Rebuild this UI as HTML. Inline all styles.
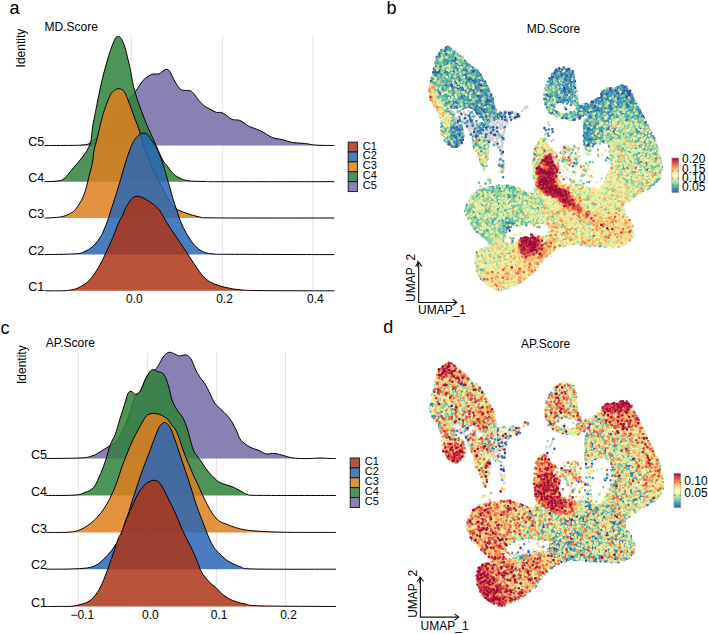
<!DOCTYPE html>
<html><head><meta charset="utf-8"><style>
html,body{margin:0;padding:0;background:#fff;}
svg{display:block;font-family:'Liberation Sans', sans-serif;}
</style></head><body>
<svg width="708" height="634" viewBox="0 0 708 634">
<rect width="708" height="634" fill="#fff"/>
<line x1="131.3" y1="34.7" x2="131.3" y2="291.0" stroke="#DADADA" stroke-width="0.7"/>
<line x1="222.7" y1="34.7" x2="222.7" y2="291.0" stroke="#DADADA" stroke-width="0.7"/>
<line x1="312.9" y1="34.7" x2="312.9" y2="291.0" stroke="#DADADA" stroke-width="0.7"/>
<path d="M44.4 145.5 C48.7 145.5 63.7 145.5 70.0 145.4 C76.3 145.3 78.9 145.3 82.0 145.0 C85.1 144.7 86.4 145.0 88.8 143.8 C91.2 142.6 93.9 140.1 96.3 138.0 C98.7 135.9 100.7 134.0 103.0 131.5 C105.3 129.0 108.0 125.5 110.2 123.0 C112.4 120.5 113.9 118.8 116.0 116.5 C118.1 114.2 120.7 111.7 122.8 109.0 C124.9 106.3 126.4 103.2 128.5 100.3 C130.6 97.4 133.0 94.9 135.4 91.6 C137.8 88.3 140.6 83.2 143.0 80.5 C145.4 77.8 148.3 76.3 150.0 75.2 C151.7 74.1 151.8 74.2 153.2 74.0 C154.6 73.8 157.3 74.4 158.7 74.0 C160.1 73.6 160.6 72.6 161.8 71.8 C163.1 71.0 164.9 69.4 166.2 69.3 C167.5 69.2 168.4 69.6 169.7 71.3 C170.9 73.0 172.2 76.6 173.7 79.2 C175.1 81.8 177.0 85.2 178.4 87.0 C179.8 88.8 180.3 89.6 182.3 90.2 C184.3 90.8 188.2 90.0 190.2 90.7 C192.2 91.4 192.8 92.6 194.2 94.2 C195.6 95.8 197.2 98.5 198.9 100.5 C200.6 102.5 202.6 104.6 204.4 106.0 C206.2 107.4 208.0 108.0 210.0 109.1 C212.0 110.1 214.2 111.7 216.2 112.3 C218.2 112.9 220.0 111.9 221.8 112.6 C223.7 113.2 225.6 115.1 227.3 116.2 C229.0 117.3 230.0 118.7 232.0 119.4 C234.0 120.1 237.4 119.7 239.5 120.3 C241.6 120.9 242.9 122.3 244.6 123.3 C246.3 124.3 246.8 125.2 249.5 126.5 C252.2 127.8 256.7 129.0 260.5 130.8 C264.3 132.6 268.6 136.0 272.3 137.5 C276.0 139.0 279.2 138.8 282.6 139.7 C286.0 140.5 289.1 142.0 292.8 142.6 C296.5 143.2 301.1 143.0 304.7 143.4 C308.2 143.8 310.9 144.7 314.1 145.0 C317.3 145.3 320.6 145.3 324.0 145.4 C327.4 145.5 332.6 145.5 334.3 145.5 L334.3 145.5 L44.4 145.5 Z" fill="#726BA7" fill-opacity="0.85"/><path d="M44.4 145.5 C48.7 145.5 63.7 145.5 70.0 145.4 C76.3 145.3 78.9 145.3 82.0 145.0 C85.1 144.7 86.4 145.0 88.8 143.8 C91.2 142.6 93.9 140.1 96.3 138.0 C98.7 135.9 100.7 134.0 103.0 131.5 C105.3 129.0 108.0 125.5 110.2 123.0 C112.4 120.5 113.9 118.8 116.0 116.5 C118.1 114.2 120.7 111.7 122.8 109.0 C124.9 106.3 126.4 103.2 128.5 100.3 C130.6 97.4 133.0 94.9 135.4 91.6 C137.8 88.3 140.6 83.2 143.0 80.5 C145.4 77.8 148.3 76.3 150.0 75.2 C151.7 74.1 151.8 74.2 153.2 74.0 C154.6 73.8 157.3 74.4 158.7 74.0 C160.1 73.6 160.6 72.6 161.8 71.8 C163.1 71.0 164.9 69.4 166.2 69.3 C167.5 69.2 168.4 69.6 169.7 71.3 C170.9 73.0 172.2 76.6 173.7 79.2 C175.1 81.8 177.0 85.2 178.4 87.0 C179.8 88.8 180.3 89.6 182.3 90.2 C184.3 90.8 188.2 90.0 190.2 90.7 C192.2 91.4 192.8 92.6 194.2 94.2 C195.6 95.8 197.2 98.5 198.9 100.5 C200.6 102.5 202.6 104.6 204.4 106.0 C206.2 107.4 208.0 108.0 210.0 109.1 C212.0 110.1 214.2 111.7 216.2 112.3 C218.2 112.9 220.0 111.9 221.8 112.6 C223.7 113.2 225.6 115.1 227.3 116.2 C229.0 117.3 230.0 118.7 232.0 119.4 C234.0 120.1 237.4 119.7 239.5 120.3 C241.6 120.9 242.9 122.3 244.6 123.3 C246.3 124.3 246.8 125.2 249.5 126.5 C252.2 127.8 256.7 129.0 260.5 130.8 C264.3 132.6 268.6 136.0 272.3 137.5 C276.0 139.0 279.2 138.8 282.6 139.7 C286.0 140.5 289.1 142.0 292.8 142.6 C296.5 143.2 301.1 143.0 304.7 143.4 C308.2 143.8 310.9 144.7 314.1 145.0 C317.3 145.3 320.6 145.3 324.0 145.4 C327.4 145.5 332.6 145.5 334.3 145.5" fill="none" stroke="#000" stroke-width="1.0"/>
<path d="M44.4 181.7 C46.4 181.6 53.0 181.6 56.3 181.1 C59.6 180.6 61.3 180.9 64.2 178.6 C67.1 176.3 70.4 171.2 73.6 167.5 C76.8 163.8 80.3 160.3 83.1 156.3 C85.9 152.3 88.6 148.6 90.2 143.7 C91.8 138.8 91.9 131.2 92.6 126.7 C93.3 122.2 93.9 120.2 94.5 117.0 C95.1 113.8 95.0 113.9 96.3 107.8 C97.5 101.7 99.9 89.3 102.0 80.5 C104.1 71.7 106.7 62.1 108.9 55.2 C111.1 48.3 113.4 42.1 115.0 39.0 C116.6 35.9 117.5 36.7 118.5 36.6 C119.5 36.5 120.4 37.4 121.2 38.5 C122.0 39.6 122.8 41.6 123.5 43.3 C124.2 45.0 124.8 46.7 125.4 48.9 C126.0 51.1 126.5 53.0 127.3 56.5 C128.1 60.0 129.6 66.0 130.4 70.0 C131.2 74.0 131.7 77.3 132.3 80.5 C132.9 83.7 133.2 85.4 134.2 88.9 C135.1 92.4 136.8 97.7 138.0 101.5 C139.2 105.3 140.5 108.4 141.7 111.6 C142.9 114.8 143.8 117.3 145.0 120.4 C146.2 123.5 147.2 125.8 149.1 130.0 C151.0 134.2 153.9 140.7 156.2 145.7 C158.4 150.7 160.8 156.6 162.6 160.0 C164.4 163.4 165.5 163.8 167.3 166.2 C169.1 168.5 171.2 172.0 173.6 174.1 C176.0 176.2 178.8 177.8 181.5 178.9 C184.2 180.1 186.1 180.6 190.0 181.0 C193.9 181.4 199.9 181.4 205.2 181.5 C210.5 181.6 200.5 181.7 222.0 181.7 C243.5 181.7 315.6 181.7 334.3 181.7 L334.3 181.7 L44.4 181.7 Z" fill="#2F813C" fill-opacity="0.85"/><path d="M44.4 181.7 C46.4 181.6 53.0 181.6 56.3 181.1 C59.6 180.6 61.3 180.9 64.2 178.6 C67.1 176.3 70.4 171.2 73.6 167.5 C76.8 163.8 80.3 160.3 83.1 156.3 C85.9 152.3 88.6 148.6 90.2 143.7 C91.8 138.8 91.9 131.2 92.6 126.7 C93.3 122.2 93.9 120.2 94.5 117.0 C95.1 113.8 95.0 113.9 96.3 107.8 C97.5 101.7 99.9 89.3 102.0 80.5 C104.1 71.7 106.7 62.1 108.9 55.2 C111.1 48.3 113.4 42.1 115.0 39.0 C116.6 35.9 117.5 36.7 118.5 36.6 C119.5 36.5 120.4 37.4 121.2 38.5 C122.0 39.6 122.8 41.6 123.5 43.3 C124.2 45.0 124.8 46.7 125.4 48.9 C126.0 51.1 126.5 53.0 127.3 56.5 C128.1 60.0 129.6 66.0 130.4 70.0 C131.2 74.0 131.7 77.3 132.3 80.5 C132.9 83.7 133.2 85.4 134.2 88.9 C135.1 92.4 136.8 97.7 138.0 101.5 C139.2 105.3 140.5 108.4 141.7 111.6 C142.9 114.8 143.8 117.3 145.0 120.4 C146.2 123.5 147.2 125.8 149.1 130.0 C151.0 134.2 153.9 140.7 156.2 145.7 C158.4 150.7 160.8 156.6 162.6 160.0 C164.4 163.4 165.5 163.8 167.3 166.2 C169.1 168.5 171.2 172.0 173.6 174.1 C176.0 176.2 178.8 177.8 181.5 178.9 C184.2 180.1 186.1 180.6 190.0 181.0 C193.9 181.4 199.9 181.4 205.2 181.5 C210.5 181.6 200.5 181.7 222.0 181.7 C243.5 181.7 315.6 181.7 334.3 181.7" fill="none" stroke="#000" stroke-width="1.0"/>
<path d="M44.4 218.0 C45.2 218.0 47.5 218.0 49.5 217.9 C51.5 217.8 54.4 217.6 56.3 217.4 C58.2 217.2 59.2 217.2 60.8 216.9 C62.4 216.6 64.1 216.2 65.7 215.6 C67.3 215.0 69.1 214.1 70.5 213.3 C71.9 212.5 72.8 212.3 74.2 210.8 C75.6 209.3 77.5 206.7 78.9 204.5 C80.3 202.3 81.6 200.2 82.7 197.8 C83.8 195.4 84.7 192.9 85.5 190.3 C86.3 187.7 86.8 185.1 87.6 182.2 C88.3 179.2 89.2 175.8 90.0 172.6 C90.8 169.4 91.7 166.8 92.4 163.0 C93.1 159.2 93.3 154.2 94.1 150.0 C94.9 145.8 96.1 142.9 97.3 138.0 C98.5 133.1 100.1 125.4 101.4 120.4 C102.7 115.4 103.7 112.0 105.2 107.8 C106.7 103.6 108.7 98.1 110.2 95.2 C111.8 92.3 113.0 91.4 114.5 90.3 C116.0 89.2 117.4 88.5 119.0 88.7 C120.6 88.9 122.4 89.1 124.1 91.4 C125.8 93.8 127.4 98.6 129.1 102.8 C130.8 107.0 132.7 112.7 134.2 116.7 C135.7 120.7 136.9 123.7 138.0 126.7 C139.1 129.7 139.3 130.5 140.5 134.5 C141.7 138.5 143.3 145.2 145.2 150.5 C147.1 155.8 149.8 161.9 151.9 166.6 C154.0 171.3 156.2 175.9 157.5 178.7 C158.8 181.4 158.9 181.0 160.0 183.1 C161.1 185.2 162.7 188.4 164.0 191.0 C165.3 193.6 166.7 196.2 168.0 198.5 C169.3 200.8 170.5 203.2 172.0 205.0 C173.5 206.8 174.4 208.0 176.8 209.3 C179.2 210.7 182.4 211.8 186.2 213.1 C190.0 214.4 194.8 216.1 199.5 216.9 C204.2 217.7 192.1 217.7 214.6 217.9 C237.1 218.1 314.4 218.0 334.3 218.0 L334.3 218.0 L44.4 218.0 Z" fill="#DE7F1D" fill-opacity="0.85"/><path d="M44.4 218.0 C45.2 218.0 47.5 218.0 49.5 217.9 C51.5 217.8 54.4 217.6 56.3 217.4 C58.2 217.2 59.2 217.2 60.8 216.9 C62.4 216.6 64.1 216.2 65.7 215.6 C67.3 215.0 69.1 214.1 70.5 213.3 C71.9 212.5 72.8 212.3 74.2 210.8 C75.6 209.3 77.5 206.7 78.9 204.5 C80.3 202.3 81.6 200.2 82.7 197.8 C83.8 195.4 84.7 192.9 85.5 190.3 C86.3 187.7 86.8 185.1 87.6 182.2 C88.3 179.2 89.2 175.8 90.0 172.6 C90.8 169.4 91.7 166.8 92.4 163.0 C93.1 159.2 93.3 154.2 94.1 150.0 C94.9 145.8 96.1 142.9 97.3 138.0 C98.5 133.1 100.1 125.4 101.4 120.4 C102.7 115.4 103.7 112.0 105.2 107.8 C106.7 103.6 108.7 98.1 110.2 95.2 C111.8 92.3 113.0 91.4 114.5 90.3 C116.0 89.2 117.4 88.5 119.0 88.7 C120.6 88.9 122.4 89.1 124.1 91.4 C125.8 93.8 127.4 98.6 129.1 102.8 C130.8 107.0 132.7 112.7 134.2 116.7 C135.7 120.7 136.9 123.7 138.0 126.7 C139.1 129.7 139.3 130.5 140.5 134.5 C141.7 138.5 143.3 145.2 145.2 150.5 C147.1 155.8 149.8 161.9 151.9 166.6 C154.0 171.3 156.2 175.9 157.5 178.7 C158.8 181.4 158.9 181.0 160.0 183.1 C161.1 185.2 162.7 188.4 164.0 191.0 C165.3 193.6 166.7 196.2 168.0 198.5 C169.3 200.8 170.5 203.2 172.0 205.0 C173.5 206.8 174.4 208.0 176.8 209.3 C179.2 210.7 182.4 211.8 186.2 213.1 C190.0 214.4 194.8 216.1 199.5 216.9 C204.2 217.7 192.1 217.7 214.6 217.9 C237.1 218.1 314.4 218.0 334.3 218.0" fill="none" stroke="#000" stroke-width="1.0"/>
<path d="M44.4 254.6 C49.3 254.5 67.6 254.3 74.1 253.9 C80.6 253.5 80.4 253.3 83.6 252.0 C86.8 250.7 90.2 248.8 93.0 246.3 C95.8 243.8 98.7 239.7 100.6 236.8 C102.5 233.9 103.1 231.6 104.3 229.0 C105.5 226.4 106.5 223.7 107.5 221.0 C108.5 218.3 108.8 216.6 110.0 213.0 C111.2 209.4 112.9 204.3 114.4 199.7 C115.9 195.1 117.5 189.6 118.8 185.4 C120.1 181.2 120.9 178.4 122.1 174.3 C123.3 170.2 124.7 165.1 126.0 161.0 C127.3 156.9 128.6 153.2 129.8 150.0 C131.1 146.8 132.2 143.8 133.5 141.5 C134.8 139.2 136.1 137.8 137.3 136.5 C138.6 135.2 139.8 134.1 141.0 133.5 C142.2 132.9 143.3 132.9 144.4 133.1 C145.5 133.3 146.6 133.7 147.5 134.5 C148.4 135.3 148.6 135.8 150.0 137.9 C151.4 140.0 154.1 143.1 156.2 147.3 C158.3 151.5 160.8 157.7 162.6 163.0 C164.4 168.3 166.1 174.7 167.3 178.9 C168.5 183.1 169.1 184.7 170.0 188.0 C170.9 191.3 171.9 195.2 173.0 198.9 C174.1 202.6 175.5 206.5 176.8 210.3 C178.1 214.1 179.0 217.8 180.6 221.6 C182.2 225.4 184.0 229.2 186.2 233.0 C188.4 236.8 191.0 241.2 193.8 244.4 C196.7 247.6 199.8 250.3 203.3 251.9 C206.8 253.5 210.2 253.6 214.6 254.0 C219.0 254.4 210.1 254.2 230.0 254.3 C249.9 254.4 316.9 254.6 334.3 254.6 L334.3 254.6 L44.4 254.6 Z" fill="#2A66B4" fill-opacity="0.85"/><path d="M44.4 254.6 C49.3 254.5 67.6 254.3 74.1 253.9 C80.6 253.5 80.4 253.3 83.6 252.0 C86.8 250.7 90.2 248.8 93.0 246.3 C95.8 243.8 98.7 239.7 100.6 236.8 C102.5 233.9 103.1 231.6 104.3 229.0 C105.5 226.4 106.5 223.7 107.5 221.0 C108.5 218.3 108.8 216.6 110.0 213.0 C111.2 209.4 112.9 204.3 114.4 199.7 C115.9 195.1 117.5 189.6 118.8 185.4 C120.1 181.2 120.9 178.4 122.1 174.3 C123.3 170.2 124.7 165.1 126.0 161.0 C127.3 156.9 128.6 153.2 129.8 150.0 C131.1 146.8 132.2 143.8 133.5 141.5 C134.8 139.2 136.1 137.8 137.3 136.5 C138.6 135.2 139.8 134.1 141.0 133.5 C142.2 132.9 143.3 132.9 144.4 133.1 C145.5 133.3 146.6 133.7 147.5 134.5 C148.4 135.3 148.6 135.8 150.0 137.9 C151.4 140.0 154.1 143.1 156.2 147.3 C158.3 151.5 160.8 157.7 162.6 163.0 C164.4 168.3 166.1 174.7 167.3 178.9 C168.5 183.1 169.1 184.7 170.0 188.0 C170.9 191.3 171.9 195.2 173.0 198.9 C174.1 202.6 175.5 206.5 176.8 210.3 C178.1 214.1 179.0 217.8 180.6 221.6 C182.2 225.4 184.0 229.2 186.2 233.0 C188.4 236.8 191.0 241.2 193.8 244.4 C196.7 247.6 199.8 250.3 203.3 251.9 C206.8 253.5 210.2 253.6 214.6 254.0 C219.0 254.4 210.1 254.2 230.0 254.3 C249.9 254.4 316.9 254.6 334.3 254.6" fill="none" stroke="#000" stroke-width="1.0"/>
<path d="M44.4 290.8 C46.8 290.8 55.0 290.9 59.0 290.8 C63.0 290.7 65.2 290.9 68.4 290.4 C71.6 289.9 74.4 289.7 77.9 288.0 C81.4 286.3 85.7 283.9 89.2 280.4 C92.7 276.9 95.9 271.8 98.7 267.1 C101.5 262.4 103.8 257.4 106.3 252.0 C108.8 246.6 111.9 239.7 113.9 234.9 C115.9 230.1 117.1 226.1 118.5 223.0 C119.9 219.9 120.8 219.1 122.1 216.3 C123.4 213.5 125.0 209.2 126.5 206.4 C128.0 203.6 129.7 201.3 130.9 199.7 C132.2 198.1 132.9 197.6 134.0 197.0 C135.1 196.4 136.4 196.3 137.6 196.3 C138.8 196.3 139.5 196.4 141.0 197.0 C142.5 197.6 144.4 198.5 146.4 199.7 C148.4 200.9 150.8 202.3 153.0 204.1 C155.2 205.9 157.3 207.3 159.7 210.5 C162.1 213.7 164.8 219.4 167.3 223.5 C169.8 227.6 172.4 231.1 174.9 234.9 C177.4 238.7 180.0 242.4 182.5 246.2 C185.0 250.0 187.5 253.8 190.0 257.6 C192.5 261.4 195.1 265.5 197.6 269.0 C200.1 272.5 202.4 275.9 205.2 278.4 C208.0 280.9 211.1 282.6 214.6 284.1 C218.1 285.6 221.8 286.6 226.0 287.5 C230.2 288.4 234.3 289.3 240.0 289.8 C245.7 290.3 244.3 290.4 260.0 290.6 C275.7 290.8 321.9 290.8 334.3 290.8 L334.3 290.8 L44.4 290.8 Z" fill="#AD3517" fill-opacity="0.85"/><path d="M44.4 290.8 C46.8 290.8 55.0 290.9 59.0 290.8 C63.0 290.7 65.2 290.9 68.4 290.4 C71.6 289.9 74.4 289.7 77.9 288.0 C81.4 286.3 85.7 283.9 89.2 280.4 C92.7 276.9 95.9 271.8 98.7 267.1 C101.5 262.4 103.8 257.4 106.3 252.0 C108.8 246.6 111.9 239.7 113.9 234.9 C115.9 230.1 117.1 226.1 118.5 223.0 C119.9 219.9 120.8 219.1 122.1 216.3 C123.4 213.5 125.0 209.2 126.5 206.4 C128.0 203.6 129.7 201.3 130.9 199.7 C132.2 198.1 132.9 197.6 134.0 197.0 C135.1 196.4 136.4 196.3 137.6 196.3 C138.8 196.3 139.5 196.4 141.0 197.0 C142.5 197.6 144.4 198.5 146.4 199.7 C148.4 200.9 150.8 202.3 153.0 204.1 C155.2 205.9 157.3 207.3 159.7 210.5 C162.1 213.7 164.8 219.4 167.3 223.5 C169.8 227.6 172.4 231.1 174.9 234.9 C177.4 238.7 180.0 242.4 182.5 246.2 C185.0 250.0 187.5 253.8 190.0 257.6 C192.5 261.4 195.1 265.5 197.6 269.0 C200.1 272.5 202.4 275.9 205.2 278.4 C208.0 280.9 211.1 282.6 214.6 284.1 C218.1 285.6 221.8 286.6 226.0 287.5 C230.2 288.4 234.3 289.3 240.0 289.8 C245.7 290.3 244.3 290.4 260.0 290.6 C275.7 290.8 321.9 290.8 334.3 290.8" fill="none" stroke="#000" stroke-width="1.0"/>
<text x="44.3" y="145.7" font-size="12.5" text-anchor="end" >C5</text>
<text x="44.3" y="181.9" font-size="12.5" text-anchor="end" >C4</text>
<text x="44.3" y="218.2" font-size="12.5" text-anchor="end" >C3</text>
<text x="44.3" y="254.8" font-size="12.5" text-anchor="end" >C2</text>
<text x="44.3" y="291.0" font-size="12.5" text-anchor="end" >C1</text>
<text x="134.4" y="302.9" font-size="12.0" text-anchor="middle" >0.0</text>
<text x="224.6" y="302.9" font-size="12.0" text-anchor="middle" >0.2</text>
<text x="315.3" y="302.9" font-size="12.0" text-anchor="middle" >0.4</text>
<text x="44.5" y="31.3" font-size="12.0" text-anchor="start" >MD.Score</text>
<text x="9.5" y="13.8" font-size="18.0" text-anchor="start" >a</text>
<text transform="translate(24.8 48.1) rotate(-90)" font-size="12" text-anchor="middle">Identity</text>
<rect x="348.2" y="142.1" width="9.2" height="9.9" fill="#B9533A" stroke="#111" stroke-width="0.9"/>
<text x="362.8" y="149.5" font-size="11.0" text-anchor="start" >C1</text>
<rect x="348.2" y="152.0" width="9.2" height="9.9" fill="#4A7DBF" stroke="#111" stroke-width="0.9"/>
<text x="362.8" y="159.4" font-size="11.0" text-anchor="start" >C2</text>
<rect x="348.2" y="161.9" width="9.2" height="9.9" fill="#E3923F" stroke="#111" stroke-width="0.9"/>
<text x="362.8" y="169.3" font-size="11.0" text-anchor="start" >C3</text>
<rect x="348.2" y="171.8" width="9.2" height="9.9" fill="#4E9459" stroke="#111" stroke-width="0.9"/>
<text x="362.8" y="179.2" font-size="11.0" text-anchor="start" >C4</text>
<rect x="348.2" y="181.7" width="9.2" height="9.9" fill="#8781B4" stroke="#111" stroke-width="0.9"/>
<text x="362.8" y="189.1" font-size="11.0" text-anchor="start" >C5</text>
<line x1="78.4" y1="352.3" x2="78.4" y2="606.5" stroke="#DADADA" stroke-width="0.7"/>
<line x1="147.6" y1="352.3" x2="147.6" y2="606.5" stroke="#DADADA" stroke-width="0.7"/>
<line x1="216.6" y1="352.3" x2="216.6" y2="606.5" stroke="#DADADA" stroke-width="0.7"/>
<line x1="285.5" y1="352.3" x2="285.5" y2="606.5" stroke="#DADADA" stroke-width="0.7"/>
<path d="M46.1 458.5 C51.7 458.4 72.2 458.4 79.9 458.0 C87.6 457.6 88.8 456.9 92.0 456.0 C95.2 455.1 96.7 453.8 99.0 452.5 C101.3 451.2 103.7 449.5 105.9 448.2 C108.1 446.9 110.2 445.9 112.0 444.6 C113.8 443.3 115.5 442.2 117.0 440.5 C118.5 438.8 119.5 436.9 120.8 434.5 C122.1 432.1 123.8 428.8 125.0 426.0 C126.2 423.2 127.0 420.7 128.0 418.0 C129.0 415.3 129.9 412.7 130.8 410.0 C131.7 407.3 132.3 404.4 133.2 402.0 C134.0 399.6 134.7 397.0 135.9 395.3 C137.1 393.6 138.9 394.1 140.5 391.6 C142.1 389.2 143.6 383.8 145.2 380.6 C146.8 377.4 148.7 374.3 150.0 372.6 C151.3 370.9 152.2 371.1 153.1 370.6 C154.0 370.1 154.4 370.8 155.5 369.6 C156.6 368.5 158.0 366.0 159.4 363.7 C160.8 361.4 162.5 357.7 164.1 355.8 C165.7 353.9 167.3 352.7 168.9 352.3 C170.5 351.9 172.0 352.8 173.6 353.4 C175.2 354.0 176.9 355.4 178.3 355.8 C179.7 356.2 180.7 355.6 182.0 355.5 C183.3 355.4 184.8 354.4 186.3 355.0 C187.8 355.6 189.4 356.4 191.0 358.9 C192.6 361.4 194.2 366.8 195.8 370.0 C197.4 373.2 198.9 375.5 200.5 377.9 C202.1 380.3 203.6 381.6 205.2 384.2 C206.8 386.8 208.4 390.5 210.0 393.6 C211.6 396.8 212.9 400.5 214.7 403.1 C216.5 405.7 218.9 407.3 221.0 409.4 C223.1 411.5 225.5 413.6 227.3 415.7 C229.1 417.8 230.4 419.4 232.0 422.0 C233.6 424.6 235.3 428.4 236.8 431.5 C238.3 434.6 238.8 437.7 241.0 440.3 C243.2 442.9 247.0 445.4 250.0 447.1 C253.0 448.8 256.5 449.4 259.1 450.5 C261.8 451.6 263.3 453.4 265.9 453.9 C268.5 454.4 271.9 453.1 274.9 453.4 C277.9 453.7 281.0 454.9 284.0 455.7 C287.0 456.5 289.2 457.5 293.0 458.0 C296.8 458.5 302.1 458.6 306.6 458.6 C311.1 458.6 316.2 458.0 320.1 458.0 C324.0 458.0 327.4 458.4 330.0 458.5 C332.6 458.6 334.9 458.5 335.9 458.5 L335.9 458.5 L46.1 458.5 Z" fill="#726BA7" fill-opacity="0.85"/><path d="M46.1 458.5 C51.7 458.4 72.2 458.4 79.9 458.0 C87.6 457.6 88.8 456.9 92.0 456.0 C95.2 455.1 96.7 453.8 99.0 452.5 C101.3 451.2 103.7 449.5 105.9 448.2 C108.1 446.9 110.2 445.9 112.0 444.6 C113.8 443.3 115.5 442.2 117.0 440.5 C118.5 438.8 119.5 436.9 120.8 434.5 C122.1 432.1 123.8 428.8 125.0 426.0 C126.2 423.2 127.0 420.7 128.0 418.0 C129.0 415.3 129.9 412.7 130.8 410.0 C131.7 407.3 132.3 404.4 133.2 402.0 C134.0 399.6 134.7 397.0 135.9 395.3 C137.1 393.6 138.9 394.1 140.5 391.6 C142.1 389.2 143.6 383.8 145.2 380.6 C146.8 377.4 148.7 374.3 150.0 372.6 C151.3 370.9 152.2 371.1 153.1 370.6 C154.0 370.1 154.4 370.8 155.5 369.6 C156.6 368.5 158.0 366.0 159.4 363.7 C160.8 361.4 162.5 357.7 164.1 355.8 C165.7 353.9 167.3 352.7 168.9 352.3 C170.5 351.9 172.0 352.8 173.6 353.4 C175.2 354.0 176.9 355.4 178.3 355.8 C179.7 356.2 180.7 355.6 182.0 355.5 C183.3 355.4 184.8 354.4 186.3 355.0 C187.8 355.6 189.4 356.4 191.0 358.9 C192.6 361.4 194.2 366.8 195.8 370.0 C197.4 373.2 198.9 375.5 200.5 377.9 C202.1 380.3 203.6 381.6 205.2 384.2 C206.8 386.8 208.4 390.5 210.0 393.6 C211.6 396.8 212.9 400.5 214.7 403.1 C216.5 405.7 218.9 407.3 221.0 409.4 C223.1 411.5 225.5 413.6 227.3 415.7 C229.1 417.8 230.4 419.4 232.0 422.0 C233.6 424.6 235.3 428.4 236.8 431.5 C238.3 434.6 238.8 437.7 241.0 440.3 C243.2 442.9 247.0 445.4 250.0 447.1 C253.0 448.8 256.5 449.4 259.1 450.5 C261.8 451.6 263.3 453.4 265.9 453.9 C268.5 454.4 271.9 453.1 274.9 453.4 C277.9 453.7 281.0 454.9 284.0 455.7 C287.0 456.5 289.2 457.5 293.0 458.0 C296.8 458.5 302.1 458.6 306.6 458.6 C311.1 458.6 316.2 458.0 320.1 458.0 C324.0 458.0 327.4 458.4 330.0 458.5 C332.6 458.6 334.9 458.5 335.9 458.5" fill="none" stroke="#000" stroke-width="1.0"/>
<path d="M46.1 495.5 C50.9 495.4 68.2 495.6 74.7 495.1 C81.2 494.6 81.9 493.7 85.1 492.4 C88.3 491.1 91.2 490.4 93.8 487.2 C96.4 484.0 98.7 478.0 100.7 473.4 C102.7 468.8 104.5 463.9 105.9 459.5 C107.4 455.1 108.3 450.6 109.4 447.3 C110.5 444.1 111.5 442.1 112.5 440.0 C113.5 437.9 114.0 438.1 115.2 434.6 C116.5 431.1 118.4 424.2 120.0 418.9 C121.6 413.6 123.7 407.2 125.0 403.0 C126.3 398.8 126.9 395.6 127.9 393.6 C128.9 391.7 129.7 391.2 131.0 391.3 C132.3 391.4 134.1 394.5 135.7 394.4 C137.3 394.3 138.9 393.0 140.5 390.5 C142.1 388.0 143.6 382.6 145.2 379.4 C146.8 376.2 148.7 373.1 150.0 371.5 C151.3 369.9 151.8 369.7 153.1 369.7 C154.4 369.7 156.2 370.9 157.8 371.5 C159.4 372.1 161.3 372.0 162.6 373.1 C163.9 374.2 164.6 375.5 165.7 377.9 C166.8 380.3 167.8 383.6 168.9 387.3 C170.0 391.0 170.7 396.3 172.0 400.0 C173.3 403.7 175.0 406.5 176.8 409.5 C178.6 412.5 181.2 414.6 183.0 418.0 C184.8 421.4 186.5 426.3 187.7 430.0 C188.9 433.7 189.2 436.5 190.3 440.1 C191.4 443.7 192.9 449.0 194.0 451.5 C195.1 454.0 195.5 453.8 196.6 455.3 C197.7 456.8 198.9 458.2 200.4 460.3 C201.9 462.4 203.7 465.6 205.4 467.9 C207.1 470.2 208.9 472.4 210.5 474.2 C212.1 476.0 213.4 477.2 215.0 478.6 C216.6 480.0 217.2 481.2 220.0 482.6 C222.8 484.0 228.5 485.3 232.0 486.7 C235.5 488.1 238.4 489.9 241.0 491.2 C243.6 492.5 244.6 493.9 247.8 494.6 C251.0 495.3 245.3 495.2 260.0 495.4 C274.7 495.5 323.2 495.5 335.9 495.5 L335.9 495.5 L46.1 495.5 Z" fill="#2F813C" fill-opacity="0.85"/><path d="M46.1 495.5 C50.9 495.4 68.2 495.6 74.7 495.1 C81.2 494.6 81.9 493.7 85.1 492.4 C88.3 491.1 91.2 490.4 93.8 487.2 C96.4 484.0 98.7 478.0 100.7 473.4 C102.7 468.8 104.5 463.9 105.9 459.5 C107.4 455.1 108.3 450.6 109.4 447.3 C110.5 444.1 111.5 442.1 112.5 440.0 C113.5 437.9 114.0 438.1 115.2 434.6 C116.5 431.1 118.4 424.2 120.0 418.9 C121.6 413.6 123.7 407.2 125.0 403.0 C126.3 398.8 126.9 395.6 127.9 393.6 C128.9 391.7 129.7 391.2 131.0 391.3 C132.3 391.4 134.1 394.5 135.7 394.4 C137.3 394.3 138.9 393.0 140.5 390.5 C142.1 388.0 143.6 382.6 145.2 379.4 C146.8 376.2 148.7 373.1 150.0 371.5 C151.3 369.9 151.8 369.7 153.1 369.7 C154.4 369.7 156.2 370.9 157.8 371.5 C159.4 372.1 161.3 372.0 162.6 373.1 C163.9 374.2 164.6 375.5 165.7 377.9 C166.8 380.3 167.8 383.6 168.9 387.3 C170.0 391.0 170.7 396.3 172.0 400.0 C173.3 403.7 175.0 406.5 176.8 409.5 C178.6 412.5 181.2 414.6 183.0 418.0 C184.8 421.4 186.5 426.3 187.7 430.0 C188.9 433.7 189.2 436.5 190.3 440.1 C191.4 443.7 192.9 449.0 194.0 451.5 C195.1 454.0 195.5 453.8 196.6 455.3 C197.7 456.8 198.9 458.2 200.4 460.3 C201.9 462.4 203.7 465.6 205.4 467.9 C207.1 470.2 208.9 472.4 210.5 474.2 C212.1 476.0 213.4 477.2 215.0 478.6 C216.6 480.0 217.2 481.2 220.0 482.6 C222.8 484.0 228.5 485.3 232.0 486.7 C235.5 488.1 238.4 489.9 241.0 491.2 C243.6 492.5 244.6 493.9 247.8 494.6 C251.0 495.3 245.3 495.2 260.0 495.4 C274.7 495.5 323.2 495.5 335.9 495.5" fill="none" stroke="#000" stroke-width="1.0"/>
<path d="M46.1 532.4 C49.4 532.4 60.7 532.6 66.0 532.3 C71.3 532.0 74.0 532.0 78.1 530.6 C82.1 529.2 86.5 526.5 90.3 523.6 C94.1 520.7 97.5 517.2 100.7 513.2 C103.9 509.2 106.8 504.3 109.4 499.4 C112.0 494.5 114.3 489.0 116.3 483.8 C118.3 478.6 119.8 472.9 121.5 468.1 C123.2 463.3 124.7 459.5 126.5 455.0 C128.3 450.5 130.2 445.4 132.3 441.0 C134.4 436.6 136.8 432.3 138.9 428.4 C141.1 424.5 143.5 419.8 145.2 417.4 C146.9 415.0 147.7 414.9 149.0 414.2 C150.3 413.5 151.8 413.5 153.1 413.4 C154.4 413.3 155.7 413.5 157.0 413.8 C158.3 414.1 159.3 414.1 161.0 415.0 C162.7 415.9 165.5 417.2 167.3 418.9 C169.1 420.6 170.6 423.3 172.0 425.2 C173.4 427.1 174.5 427.9 175.7 430.0 C176.8 432.1 177.7 434.5 178.9 437.6 C180.1 440.8 181.4 445.3 182.7 448.9 C184.0 452.5 185.2 455.8 186.5 459.0 C187.8 462.2 189.1 464.9 190.3 467.9 C191.6 470.8 192.8 474.0 194.0 476.7 C195.2 479.4 196.5 481.6 197.8 484.3 C199.1 487.0 200.3 490.4 201.6 493.1 C202.9 495.8 204.1 498.2 205.4 500.7 C206.7 503.2 207.7 505.7 209.2 508.3 C210.7 510.9 212.8 514.3 214.6 516.5 C216.4 518.7 218.1 520.2 220.0 521.5 C221.9 522.8 222.9 522.8 226.0 524.0 C229.1 525.2 234.4 527.4 238.8 528.5 C243.2 529.6 245.2 530.1 252.3 530.7 C259.4 531.3 267.8 531.9 281.7 532.2 C295.6 532.5 326.9 532.4 335.9 532.4 L335.9 532.4 L46.1 532.4 Z" fill="#DE7F1D" fill-opacity="0.85"/><path d="M46.1 532.4 C49.4 532.4 60.7 532.6 66.0 532.3 C71.3 532.0 74.0 532.0 78.1 530.6 C82.1 529.2 86.5 526.5 90.3 523.6 C94.1 520.7 97.5 517.2 100.7 513.2 C103.9 509.2 106.8 504.3 109.4 499.4 C112.0 494.5 114.3 489.0 116.3 483.8 C118.3 478.6 119.8 472.9 121.5 468.1 C123.2 463.3 124.7 459.5 126.5 455.0 C128.3 450.5 130.2 445.4 132.3 441.0 C134.4 436.6 136.8 432.3 138.9 428.4 C141.1 424.5 143.5 419.8 145.2 417.4 C146.9 415.0 147.7 414.9 149.0 414.2 C150.3 413.5 151.8 413.5 153.1 413.4 C154.4 413.3 155.7 413.5 157.0 413.8 C158.3 414.1 159.3 414.1 161.0 415.0 C162.7 415.9 165.5 417.2 167.3 418.9 C169.1 420.6 170.6 423.3 172.0 425.2 C173.4 427.1 174.5 427.9 175.7 430.0 C176.8 432.1 177.7 434.5 178.9 437.6 C180.1 440.8 181.4 445.3 182.7 448.9 C184.0 452.5 185.2 455.8 186.5 459.0 C187.8 462.2 189.1 464.9 190.3 467.9 C191.6 470.8 192.8 474.0 194.0 476.7 C195.2 479.4 196.5 481.6 197.8 484.3 C199.1 487.0 200.3 490.4 201.6 493.1 C202.9 495.8 204.1 498.2 205.4 500.7 C206.7 503.2 207.7 505.7 209.2 508.3 C210.7 510.9 212.8 514.3 214.6 516.5 C216.4 518.7 218.1 520.2 220.0 521.5 C221.9 522.8 222.9 522.8 226.0 524.0 C229.1 525.2 234.4 527.4 238.8 528.5 C243.2 529.6 245.2 530.1 252.3 530.7 C259.4 531.3 267.8 531.9 281.7 532.2 C295.6 532.5 326.9 532.4 335.9 532.4" fill="none" stroke="#000" stroke-width="1.0"/>
<path d="M46.1 569.2 C50.0 569.2 62.8 569.2 69.7 569.0 C76.6 568.8 82.9 568.6 87.5 567.9 C92.1 567.1 94.0 566.5 97.3 564.5 C100.6 562.5 104.2 558.7 107.2 555.6 C110.2 552.5 112.8 549.0 115.1 545.7 C117.4 542.4 119.4 539.8 121.1 535.8 C122.8 531.8 123.8 525.8 125.0 522.0 C126.2 518.2 127.3 516.4 128.4 513.2 C129.5 510.0 130.3 506.7 131.5 503.0 C132.7 499.3 134.0 495.6 135.5 491.0 C137.0 486.4 138.9 480.4 140.5 475.7 C142.1 471.0 143.6 467.2 145.2 463.0 C146.8 458.8 148.4 454.7 150.0 450.5 C151.6 446.3 153.1 441.8 154.7 437.9 C156.3 433.9 157.8 429.4 159.4 426.8 C161.0 424.2 162.8 422.9 164.2 422.5 C165.6 422.1 166.8 423.2 168.0 424.5 C169.2 425.8 170.1 427.4 171.3 430.0 C172.5 432.6 173.8 436.5 175.1 440.1 C176.4 443.7 177.6 447.7 178.9 451.5 C180.2 455.3 181.4 459.0 182.7 462.8 C184.0 466.6 185.2 470.4 186.5 474.2 C187.8 478.0 189.2 482.0 190.3 485.6 C191.5 489.2 192.4 492.3 193.4 495.7 C194.4 499.1 195.5 502.6 196.6 505.8 C197.7 509.0 198.8 512.0 200.0 515.0 C201.2 518.0 202.2 520.6 203.5 524.0 C204.8 527.4 206.4 531.8 208.0 535.5 C209.6 539.2 211.3 543.2 213.0 546.0 C214.7 548.8 216.6 550.5 218.4 552.5 C220.2 554.5 222.1 556.4 224.0 558.0 C225.9 559.6 226.9 560.5 229.7 562.0 C232.5 563.5 236.8 565.8 241.0 567.0 C245.2 568.2 238.8 568.6 254.6 569.0 C270.4 569.4 322.3 569.2 335.9 569.2 L335.9 569.2 L46.1 569.2 Z" fill="#2A66B4" fill-opacity="0.85"/><path d="M46.1 569.2 C50.0 569.2 62.8 569.2 69.7 569.0 C76.6 568.8 82.9 568.6 87.5 567.9 C92.1 567.1 94.0 566.5 97.3 564.5 C100.6 562.5 104.2 558.7 107.2 555.6 C110.2 552.5 112.8 549.0 115.1 545.7 C117.4 542.4 119.4 539.8 121.1 535.8 C122.8 531.8 123.8 525.8 125.0 522.0 C126.2 518.2 127.3 516.4 128.4 513.2 C129.5 510.0 130.3 506.7 131.5 503.0 C132.7 499.3 134.0 495.6 135.5 491.0 C137.0 486.4 138.9 480.4 140.5 475.7 C142.1 471.0 143.6 467.2 145.2 463.0 C146.8 458.8 148.4 454.7 150.0 450.5 C151.6 446.3 153.1 441.8 154.7 437.9 C156.3 433.9 157.8 429.4 159.4 426.8 C161.0 424.2 162.8 422.9 164.2 422.5 C165.6 422.1 166.8 423.2 168.0 424.5 C169.2 425.8 170.1 427.4 171.3 430.0 C172.5 432.6 173.8 436.5 175.1 440.1 C176.4 443.7 177.6 447.7 178.9 451.5 C180.2 455.3 181.4 459.0 182.7 462.8 C184.0 466.6 185.2 470.4 186.5 474.2 C187.8 478.0 189.2 482.0 190.3 485.6 C191.5 489.2 192.4 492.3 193.4 495.7 C194.4 499.1 195.5 502.6 196.6 505.8 C197.7 509.0 198.8 512.0 200.0 515.0 C201.2 518.0 202.2 520.6 203.5 524.0 C204.8 527.4 206.4 531.8 208.0 535.5 C209.6 539.2 211.3 543.2 213.0 546.0 C214.7 548.8 216.6 550.5 218.4 552.5 C220.2 554.5 222.1 556.4 224.0 558.0 C225.9 559.6 226.9 560.5 229.7 562.0 C232.5 563.5 236.8 565.8 241.0 567.0 C245.2 568.2 238.8 568.6 254.6 569.0 C270.4 569.4 322.3 569.2 335.9 569.2" fill="none" stroke="#000" stroke-width="1.0"/>
<path d="M46.1 606.5 C48.4 606.5 55.2 606.5 59.8 606.4 C64.4 606.3 69.0 606.7 73.6 606.0 C78.2 605.3 83.9 603.9 87.5 602.1 C91.1 600.3 93.1 597.9 95.4 595.1 C97.7 592.3 99.5 588.9 101.3 585.3 C103.1 581.7 104.5 577.7 106.2 573.4 C107.9 569.1 109.7 563.7 111.2 559.5 C112.7 555.3 113.8 551.6 115.0 548.0 C116.2 544.4 117.4 540.7 118.5 538.0 C119.6 535.3 120.3 535.0 121.6 532.0 C122.9 529.0 124.8 523.7 126.3 520.0 C127.8 516.3 129.2 513.0 130.5 510.0 C131.8 507.0 132.7 504.8 134.0 502.0 C135.3 499.2 136.7 495.9 138.5 493.0 C140.3 490.1 143.1 486.4 145.0 484.5 C146.9 482.6 148.5 482.2 150.0 481.5 C151.5 480.8 152.4 480.1 154.0 480.3 C155.6 480.5 157.7 480.9 159.4 482.6 C161.1 484.3 162.6 487.6 164.2 490.5 C165.8 493.4 167.3 496.9 168.9 500.0 C170.5 503.1 172.0 506.0 173.6 509.4 C175.2 512.8 176.8 516.8 178.4 520.5 C180.0 524.2 181.5 528.1 183.1 531.5 C184.7 534.9 186.2 537.9 187.8 541.0 C189.4 544.1 191.0 547.0 192.6 550.4 C194.2 553.8 195.8 557.9 197.3 561.5 C198.8 565.1 199.5 568.6 201.5 572.0 C203.5 575.4 207.0 579.5 209.4 582.1 C211.8 584.7 213.9 585.7 216.2 587.8 C218.4 589.9 220.3 592.5 222.9 594.6 C225.5 596.7 228.2 598.6 232.0 600.2 C235.8 601.8 240.6 603.2 245.5 604.1 C250.4 605.0 246.3 605.5 261.4 605.9 C276.5 606.3 323.5 606.4 335.9 606.5 L335.9 606.5 L46.1 606.5 Z" fill="#AD3517" fill-opacity="0.85"/><path d="M46.1 606.5 C48.4 606.5 55.2 606.5 59.8 606.4 C64.4 606.3 69.0 606.7 73.6 606.0 C78.2 605.3 83.9 603.9 87.5 602.1 C91.1 600.3 93.1 597.9 95.4 595.1 C97.7 592.3 99.5 588.9 101.3 585.3 C103.1 581.7 104.5 577.7 106.2 573.4 C107.9 569.1 109.7 563.7 111.2 559.5 C112.7 555.3 113.8 551.6 115.0 548.0 C116.2 544.4 117.4 540.7 118.5 538.0 C119.6 535.3 120.3 535.0 121.6 532.0 C122.9 529.0 124.8 523.7 126.3 520.0 C127.8 516.3 129.2 513.0 130.5 510.0 C131.8 507.0 132.7 504.8 134.0 502.0 C135.3 499.2 136.7 495.9 138.5 493.0 C140.3 490.1 143.1 486.4 145.0 484.5 C146.9 482.6 148.5 482.2 150.0 481.5 C151.5 480.8 152.4 480.1 154.0 480.3 C155.6 480.5 157.7 480.9 159.4 482.6 C161.1 484.3 162.6 487.6 164.2 490.5 C165.8 493.4 167.3 496.9 168.9 500.0 C170.5 503.1 172.0 506.0 173.6 509.4 C175.2 512.8 176.8 516.8 178.4 520.5 C180.0 524.2 181.5 528.1 183.1 531.5 C184.7 534.9 186.2 537.9 187.8 541.0 C189.4 544.1 191.0 547.0 192.6 550.4 C194.2 553.8 195.8 557.9 197.3 561.5 C198.8 565.1 199.5 568.6 201.5 572.0 C203.5 575.4 207.0 579.5 209.4 582.1 C211.8 584.7 213.9 585.7 216.2 587.8 C218.4 589.9 220.3 592.5 222.9 594.6 C225.5 596.7 228.2 598.6 232.0 600.2 C235.8 601.8 240.6 603.2 245.5 604.1 C250.4 605.0 246.3 605.5 261.4 605.9 C276.5 606.3 323.5 606.4 335.9 606.5" fill="none" stroke="#000" stroke-width="1.0"/>
<text x="47.0" y="458.7" font-size="12.5" text-anchor="end" >C5</text>
<text x="47.0" y="495.7" font-size="12.5" text-anchor="end" >C4</text>
<text x="47.0" y="532.6" font-size="12.5" text-anchor="end" >C3</text>
<text x="47.0" y="569.4" font-size="12.5" text-anchor="end" >C2</text>
<text x="47.0" y="606.7" font-size="12.5" text-anchor="end" >C1</text>
<text x="82.3" y="618.9" font-size="12.0" text-anchor="middle" >−0.1</text>
<text x="150.3" y="618.9" font-size="12.0" text-anchor="middle" >0.0</text>
<text x="219.1" y="618.9" font-size="12.0" text-anchor="middle" >0.1</text>
<text x="288.5" y="618.9" font-size="12.0" text-anchor="middle" >0.2</text>
<text x="45.7" y="347.1" font-size="12.0" text-anchor="start" >AP.Score</text>
<text x="0.5" y="333.5" font-size="18.0" text-anchor="start" >c</text>
<text transform="translate(25.8 364.7) rotate(-90)" font-size="12" text-anchor="middle">Identity</text>
<rect x="350.2" y="458.0" width="9.2" height="9.9" fill="#B9533A" stroke="#111" stroke-width="0.9"/>
<text x="364.8" y="465.4" font-size="11.0" text-anchor="start" >C1</text>
<rect x="350.2" y="467.9" width="9.2" height="9.9" fill="#4A7DBF" stroke="#111" stroke-width="0.9"/>
<text x="364.8" y="475.3" font-size="11.0" text-anchor="start" >C2</text>
<rect x="350.2" y="477.8" width="9.2" height="9.9" fill="#E3923F" stroke="#111" stroke-width="0.9"/>
<text x="364.8" y="485.2" font-size="11.0" text-anchor="start" >C3</text>
<rect x="350.2" y="487.7" width="9.2" height="9.9" fill="#4E9459" stroke="#111" stroke-width="0.9"/>
<text x="364.8" y="495.1" font-size="11.0" text-anchor="start" >C4</text>
<rect x="350.2" y="497.6" width="9.2" height="9.9" fill="#8781B4" stroke="#111" stroke-width="0.9"/>
<text x="364.8" y="505.0" font-size="11.0" text-anchor="start" >C5</text>
<g fill="none" stroke-width="2.60" stroke-linecap="round"><path stroke="#CFCFCF" d="M446.7 49.8h0M450.8 49.6h0M441.9 54.3h0M442.9 57.9h0M435.5 61.3h0M448.3 62.0h0M447.9 64.1h0M453.7 65.7h0M456.6 69.7h0M468.0 69.0h0M559.5 69.5h0M454.0 70.7h0M462.5 72.1h0M555.6 72.4h0M559.2 72.5h0M556.5 73.3h0M562.1 72.7h0M564.1 73.2h0M437.5 74.1h0M568.4 75.0h0M434.2 75.4h0M477.1 76.7h0M554.3 76.5h0M556.3 75.6h0M568.6 76.3h0M571.6 76.7h0M573.9 75.5h0M440.6 78.1h0M478.4 77.9h0M564.7 77.3h0M440.3 79.2h0M464.3 78.3h0M479.3 79.2h0M570.0 78.2h0M571.6 79.4h0M574.4 79.5h0M471.1 80.7h0M482.9 80.9h0M557.3 80.7h0M558.3 79.5h0M560.9 80.6h0M459.5 82.1h0M550.8 81.1h0M556.1 81.8h0M563.3 81.4h0M566.2 81.5h0M574.4 81.1h0M462.1 82.7h0M557.4 83.6h0M564.0 83.5h0M567.5 82.6h0M574.2 82.3h0M474.1 84.8h0M482.0 84.3h0M551.7 84.6h0M556.6 83.9h0M575.4 84.3h0M452.1 86.1h0M480.4 85.5h0M554.4 85.4h0M557.0 85.0h0M559.9 85.3h0M561.5 85.4h0M568.2 86.1h0M620.7 85.2h0M434.7 87.1h0M439.5 87.0h0M471.3 87.6h0M481.7 87.0h0M546.7 87.5h0M561.0 87.2h0M563.0 87.7h0M566.5 86.6h0M569.3 87.5h0M572.4 87.8h0M454.0 87.8h0M462.3 88.3h0M475.7 88.6h0M548.9 89.2h0M550.8 88.0h0M561.4 88.6h0M563.8 88.6h0M575.8 88.5h0M608.8 88.1h0M614.5 88.8h0M618.8 88.2h0M444.0 89.2h0M451.0 89.6h0M476.6 90.3h0M485.5 89.8h0M545.1 89.2h0M552.0 90.2h0M558.4 90.0h0M559.3 90.0h0M568.8 89.7h0M571.0 90.0h0M573.3 90.1h0M574.8 90.5h0M609.6 89.2h0M627.9 89.5h0M443.2 90.9h0M479.2 91.9h0M559.1 92.0h0M574.9 91.6h0M625.4 91.6h0M487.5 92.8h0M557.5 92.1h0M566.9 92.3h0M573.1 92.8h0M614.8 93.3h0M465.8 93.6h0M559.0 93.8h0M559.7 93.4h0M561.1 93.6h0M568.7 94.0h0M605.4 93.4h0M609.9 94.7h0M614.5 94.5h0M620.8 93.3h0M452.0 95.3h0M545.0 95.3h0M547.0 95.0h0M570.2 95.5h0M575.1 95.3h0M577.0 95.5h0M461.9 96.1h0M554.1 96.7h0M561.2 97.4h0M575.2 96.1h0M605.9 96.6h0M607.7 96.7h0M620.3 96.5h0M626.4 96.5h0M628.6 97.2h0M456.0 98.3h0M482.6 98.5h0M556.5 98.4h0M561.7 97.9h0M562.1 98.3h0M460.0 99.1h0M487.2 100.2h0M555.4 99.7h0M564.9 100.2h0M569.3 100.2h0M572.1 99.6h0M608.0 99.7h0M611.2 100.3h0M616.6 99.1h0M627.0 99.2h0M632.3 100.0h0M450.6 101.7h0M477.5 100.3h0M562.2 100.7h0M592.9 100.9h0M596.0 100.6h0M603.0 100.6h0M614.3 100.7h0M446.7 102.8h0M602.0 102.3h0M617.6 101.8h0M630.4 101.7h0M482.7 103.8h0M556.0 103.8h0M589.8 103.7h0M594.7 103.6h0M596.0 104.3h0M452.8 105.1h0M461.3 105.0h0M468.4 105.2h0M475.5 105.5h0M580.8 105.5h0M583.7 105.1h0M587.5 104.8h0M592.5 104.6h0M599.3 105.2h0M617.8 105.0h0M636.5 104.7h0M461.2 106.7h0M525.7 106.8h0M592.9 106.5h0M595.9 106.3h0M456.8 107.5h0M466.7 107.8h0M469.0 107.4h0M527.3 107.4h0M554.0 108.4h0M583.5 108.4h0M590.3 107.5h0M456.9 108.8h0M461.6 108.8h0M524.6 108.6h0M599.8 110.0h0M609.0 108.6h0M461.1 110.1h0M468.7 111.0h0M474.0 110.0h0M477.6 110.3h0M480.5 110.2h0M481.9 111.0h0M522.0 111.1h0M592.3 111.4h0M457.9 112.6h0M463.9 112.4h0M479.5 112.0h0M504.0 111.5h0M506.2 111.4h0M510.0 112.1h0M511.8 111.8h0M622.1 111.5h0M444.7 113.4h0M454.8 114.1h0M465.3 114.1h0M473.2 114.1h0M486.1 113.3h0M515.7 112.8h0M516.3 113.5h0M518.4 114.1h0M568.1 113.7h0M576.4 113.2h0M598.3 113.9h0M600.0 113.7h0M606.1 112.9h0M461.9 115.4h0M467.9 115.1h0M483.1 115.3h0M498.6 114.8h0M504.1 114.3h0M515.1 114.9h0M519.3 115.4h0M565.1 115.2h0M571.5 115.0h0M588.0 114.5h0M471.1 116.3h0M475.1 115.9h0M491.9 115.8h0M497.2 116.2h0M500.7 116.3h0M504.1 116.6h0M510.7 116.2h0M511.6 116.7h0M515.5 115.5h0M516.5 115.7h0M570.5 115.8h0M579.4 115.8h0M587.1 115.8h0M455.4 117.5h0M466.4 117.0h0M485.4 117.6h0M492.8 118.2h0M507.6 117.7h0M511.9 117.3h0M518.4 116.9h0M519.6 117.1h0M561.3 117.2h0M595.2 117.1h0M596.0 117.3h0M602.1 118.2h0M618.9 117.9h0M638.5 116.9h0M453.7 118.6h0M455.0 119.6h0M456.6 118.6h0M463.6 119.1h0M467.9 119.2h0M468.3 119.5h0M470.3 119.5h0M487.2 119.1h0M488.7 118.9h0M490.3 119.2h0M490.7 119.5h0M493.3 118.8h0M498.3 119.1h0M500.3 119.5h0M506.8 118.9h0M512.7 118.6h0M515.1 118.9h0M563.3 118.5h0M568.3 118.7h0M585.3 118.9h0M608.5 119.2h0M463.4 120.7h0M466.8 120.6h0M473.1 119.9h0M490.9 120.6h0M491.9 120.2h0M494.8 120.6h0M502.0 119.8h0M593.2 120.0h0M630.2 120.1h0M640.9 119.9h0M453.3 121.6h0M460.5 121.8h0M463.7 121.5h0M466.0 122.0h0M468.6 122.4h0M472.6 122.1h0M476.0 122.3h0M479.6 122.0h0M486.8 122.0h0M491.2 122.0h0M492.8 121.3h0M494.3 121.1h0M497.7 121.8h0M502.7 122.4h0M507.1 121.7h0M600.7 122.4h0M609.2 122.1h0M455.6 123.7h0M463.2 123.0h0M467.9 122.5h0M469.4 123.8h0M474.8 123.6h0M476.3 122.4h0M477.4 123.5h0M479.8 123.7h0M481.0 123.3h0M493.9 123.7h0M496.8 122.9h0M499.0 122.6h0M499.5 122.9h0M507.0 123.8h0M548.3 122.8h0M587.9 123.5h0M593.7 123.6h0M596.6 123.3h0M451.6 124.9h0M452.9 124.6h0M460.0 125.1h0M469.0 124.6h0M469.9 123.8h0M473.5 124.4h0M480.4 124.6h0M486.3 124.2h0M490.0 125.2h0M492.4 125.2h0M496.1 124.1h0M500.0 124.8h0M501.9 124.6h0M506.1 123.9h0M549.1 125.0h0M584.4 124.0h0M453.8 125.8h0M454.8 126.2h0M459.2 126.3h0M468.4 125.7h0M469.7 125.9h0M474.5 126.5h0M476.5 125.8h0M478.0 125.2h0M482.4 126.0h0M486.0 126.5h0M489.4 125.6h0M490.7 125.7h0M492.7 125.6h0M493.5 125.2h0M495.6 126.2h0M499.7 125.9h0M502.8 126.2h0M505.1 125.8h0M450.3 126.8h0M456.5 127.4h0M468.8 127.9h0M470.5 126.7h0M472.3 126.8h0M474.3 126.6h0M475.3 127.7h0M485.3 126.7h0M488.0 127.8h0M491.8 127.0h0M494.2 126.7h0M495.6 127.1h0M498.7 127.8h0M500.7 128.0h0M502.9 127.7h0M588.3 127.2h0M446.0 129.1h0M455.4 128.8h0M457.2 129.2h0M460.1 129.3h0M467.8 128.1h0M469.2 128.0h0M471.5 128.6h0M473.5 128.8h0M476.1 128.7h0M478.0 128.7h0M479.4 129.0h0M486.9 129.4h0M490.7 129.0h0M491.8 129.1h0M495.8 129.3h0M496.9 128.3h0M500.8 129.0h0M501.1 129.1h0M463.2 130.3h0M469.3 129.8h0M469.9 129.6h0M474.3 129.7h0M478.8 130.6h0M481.7 130.7h0M484.9 129.8h0M486.5 130.3h0M487.7 130.7h0M490.2 129.8h0M494.8 129.8h0M496.8 130.5h0M504.6 129.8h0M599.0 129.5h0M646.8 129.4h0M470.0 131.1h0M471.2 132.1h0M476.2 131.6h0M482.9 131.3h0M484.8 131.4h0M485.3 131.5h0M487.8 131.6h0M489.3 131.5h0M495.5 131.4h0M504.4 131.1h0M595.8 131.6h0M447.5 133.1h0M453.3 133.4h0M455.7 133.0h0M462.6 132.3h0M471.1 133.4h0M473.2 133.5h0M475.0 133.3h0M481.1 132.5h0M483.9 132.8h0M484.5 132.8h0M487.9 133.5h0M494.9 132.7h0M497.3 132.3h0M498.8 133.3h0M503.7 132.1h0M552.2 132.8h0M597.6 133.3h0M450.7 133.7h0M473.6 134.4h0M474.0 134.4h0M484.4 133.7h0M487.9 134.5h0M489.1 133.6h0M490.7 134.1h0M503.7 133.8h0M544.9 134.4h0M546.1 134.2h0M608.4 134.6h0M472.1 135.1h0M474.3 135.3h0M475.2 136.1h0M477.5 135.4h0M486.5 136.0h0M487.5 135.3h0M489.8 135.5h0M493.3 136.2h0M498.4 135.9h0M499.0 136.3h0M502.7 135.7h0M606.3 136.0h0M646.4 135.4h0M448.6 137.6h0M463.0 136.9h0M474.6 137.3h0M484.3 136.7h0M488.0 136.7h0M489.0 136.8h0M492.6 136.4h0M493.4 137.1h0M496.0 136.6h0M496.6 137.0h0M503.4 137.1h0M636.9 136.7h0M454.6 138.2h0M489.6 137.8h0M491.0 138.2h0M492.5 138.1h0M496.4 138.7h0M497.5 138.8h0M499.7 138.1h0M503.5 138.5h0M587.0 138.6h0M618.2 138.2h0M652.0 137.7h0M451.2 139.7h0M454.5 140.3h0M473.1 139.6h0M490.8 140.3h0M493.2 139.6h0M497.0 139.7h0M502.2 139.9h0M543.4 140.0h0M544.8 140.1h0M553.5 139.8h0M600.9 139.9h0M608.5 139.5h0M452.9 141.6h0M497.1 141.5h0M501.2 141.2h0M542.5 140.9h0M551.5 141.1h0M590.4 140.9h0M627.1 140.9h0M450.2 142.1h0M472.8 142.6h0M474.4 143.0h0M480.6 142.5h0M494.5 142.0h0M495.6 142.6h0M497.1 141.9h0M497.9 142.4h0M501.4 142.1h0M613.1 141.8h0M480.0 143.8h0M494.2 144.2h0M503.0 143.3h0M587.3 144.0h0M640.5 144.3h0M450.3 145.9h0M496.6 144.9h0M501.7 145.6h0M547.3 145.2h0M590.0 145.1h0M620.3 145.8h0M498.2 146.4h0M501.1 146.5h0M502.1 146.4h0M589.4 146.0h0M501.6 148.7h0M616.5 148.7h0M643.1 149.6h0M654.8 149.1h0M501.1 152.7h0M555.9 152.5h0M621.6 152.0h0M502.7 154.3h0M569.6 154.9h0M501.3 156.4h0M570.5 156.3h0M579.3 156.4h0M577.1 158.4h0M612.4 157.6h0M619.2 159.4h0M486.9 160.0h0M499.3 160.6h0M502.2 160.3h0M660.8 161.0h0M615.7 161.6h0M642.8 162.4h0M634.7 164.2h0M626.2 165.4h0M501.7 169.5h0M503.4 170.0h0M616.8 170.0h0M618.9 169.7h0M656.2 175.0h0M633.3 177.7h0M653.2 176.7h0M601.6 178.6h0M626.9 179.3h0M641.9 180.7h0M656.0 180.5h0M628.0 182.6h0M638.8 183.4h0M641.4 182.4h0M629.1 183.5h0M637.6 183.9h0M613.3 185.5h0M649.3 187.3h0M630.2 188.7h0"/><path stroke="#3A3C9C" d="M446.3 47.6h0M446.0 48.0h0M450.6 48.7h0M444.1 51.0h0M446.2 50.6h0M444.3 51.9h0M446.0 53.8h0M450.5 54.0h0M439.8 54.8h0M453.0 55.4h0M457.2 54.5h0M436.8 57.0h0M460.1 56.6h0M439.1 57.4h0M447.6 58.0h0M451.0 58.0h0M455.9 57.5h0M447.9 60.1h0M452.5 59.3h0M455.6 58.7h0M451.9 61.1h0M454.4 60.2h0M458.0 60.5h0M464.8 60.8h0M454.9 62.4h0M436.0 63.3h0M446.6 63.5h0M443.6 65.5h0M460.4 65.6h0M440.4 66.7h0M442.3 66.1h0M456.5 66.6h0M459.3 66.9h0M466.3 66.6h0M435.7 68.4h0M457.2 68.4h0M471.8 67.6h0M473.4 68.2h0M434.0 68.7h0M445.0 68.6h0M466.1 68.4h0M556.5 69.6h0M559.3 68.4h0M562.0 69.8h0M567.2 69.7h0M569.3 69.3h0M439.9 70.2h0M470.8 71.1h0M472.4 70.5h0M474.9 71.1h0M567.4 70.0h0M433.3 72.2h0M438.2 71.9h0M444.7 71.5h0M449.4 71.4h0M452.6 71.9h0M454.0 72.5h0M458.4 72.3h0M467.1 72.1h0M473.4 71.6h0M556.8 72.0h0M566.9 71.2h0M572.6 71.3h0M436.7 72.7h0M444.1 73.6h0M447.5 73.4h0M554.6 73.4h0M561.2 73.8h0M568.4 73.2h0M572.5 73.0h0M456.9 74.5h0M465.4 74.4h0M469.4 74.2h0M471.3 74.0h0M477.2 75.2h0M480.5 74.9h0M565.2 74.1h0M571.2 74.9h0M435.9 75.9h0M452.5 76.7h0M466.8 76.7h0M479.1 75.3h0M561.0 76.6h0M567.2 75.7h0M451.6 77.0h0M466.2 78.0h0M469.5 77.5h0M552.1 76.9h0M553.1 77.4h0M557.9 77.6h0M469.2 78.7h0M471.3 78.8h0M549.6 78.3h0M556.2 78.5h0M563.1 78.8h0M460.0 80.6h0M465.7 79.5h0M468.4 79.8h0M472.1 80.4h0M479.2 80.6h0M570.3 80.0h0M436.8 81.5h0M448.8 81.7h0M458.0 81.1h0M472.5 82.3h0M482.1 81.9h0M570.9 81.5h0M572.4 81.1h0M455.8 83.0h0M457.8 82.7h0M465.8 83.2h0M466.7 83.0h0M550.4 83.7h0M450.5 85.0h0M451.5 83.7h0M469.7 84.7h0M480.8 84.8h0M553.0 84.3h0M567.6 84.1h0M571.2 83.8h0M439.6 85.3h0M453.5 85.5h0M457.5 85.4h0M478.1 85.5h0M482.1 86.3h0M486.8 86.2h0M563.8 85.6h0M571.0 86.3h0M573.5 85.7h0M442.1 87.2h0M449.4 87.2h0M548.8 87.6h0M556.1 87.5h0M623.7 86.6h0M435.2 88.5h0M451.4 88.6h0M455.8 88.1h0M457.3 88.5h0M459.8 88.5h0M463.8 88.2h0M466.7 88.4h0M476.7 88.5h0M485.1 88.0h0M485.9 88.1h0M564.3 87.8h0M575.0 87.8h0M618.5 89.0h0M621.2 88.6h0M438.2 89.5h0M453.2 89.7h0M458.4 90.2h0M465.6 90.1h0M469.3 90.2h0M481.1 89.9h0M482.3 89.6h0M483.8 90.5h0M563.6 89.4h0M565.1 89.9h0M572.3 89.4h0M610.3 89.5h0M615.6 90.4h0M448.7 90.6h0M461.9 91.8h0M469.5 91.6h0M472.1 91.2h0M480.6 90.9h0M568.7 91.3h0M610.0 91.7h0M622.6 90.7h0M623.7 90.8h0M627.1 91.1h0M630.2 90.9h0M440.1 93.3h0M457.3 93.1h0M472.3 93.2h0M474.5 93.2h0M569.7 93.4h0M606.7 93.3h0M617.0 92.3h0M618.9 93.4h0M622.2 93.3h0M627.8 93.1h0M629.9 92.2h0M439.9 93.9h0M445.9 94.5h0M484.0 93.4h0M491.1 94.5h0M546.8 94.5h0M572.3 94.7h0M601.3 93.7h0M604.0 93.6h0M606.4 94.4h0M611.4 93.3h0M617.9 94.5h0M622.5 94.2h0M624.7 93.7h0M628.8 94.6h0M630.1 94.1h0M461.9 95.3h0M465.2 95.9h0M474.8 95.9h0M478.3 96.1h0M482.8 96.0h0M567.9 95.1h0M574.1 95.8h0M601.7 95.3h0M614.3 95.6h0M622.3 94.9h0M627.0 95.7h0M628.4 96.0h0M630.3 95.3h0M446.5 96.1h0M461.6 97.2h0M471.0 96.5h0M474.1 97.2h0M477.6 96.5h0M477.9 96.1h0M487.5 97.2h0M490.4 97.3h0M550.6 96.2h0M601.5 97.1h0M614.1 97.4h0M630.0 96.6h0M480.4 98.5h0M549.3 98.6h0M605.9 98.1h0M617.3 98.7h0M626.4 97.8h0M490.0 100.2h0M553.4 99.5h0M602.2 100.1h0M606.1 99.6h0M612.7 99.2h0M615.1 100.1h0M624.1 99.1h0M457.1 100.4h0M466.0 101.0h0M476.3 101.5h0M481.4 100.3h0M485.5 101.5h0M487.9 100.4h0M489.7 101.2h0M490.8 101.0h0M492.6 100.5h0M553.7 100.4h0M555.8 101.3h0M574.4 101.6h0M575.0 101.1h0M599.6 100.3h0M610.2 101.1h0M623.9 101.5h0M448.5 102.6h0M454.1 103.0h0M456.7 101.9h0M470.0 101.9h0M482.8 102.8h0M486.4 102.0h0M491.7 101.7h0M492.7 102.4h0M557.4 102.1h0M558.3 102.0h0M591.8 101.9h0M593.1 102.4h0M596.0 102.0h0M620.8 102.6h0M631.9 102.2h0M446.5 103.2h0M458.6 104.0h0M469.7 103.8h0M471.0 103.1h0M473.5 103.8h0M474.8 103.2h0M477.7 104.2h0M602.6 104.1h0M618.3 104.3h0M626.5 103.4h0M634.3 104.4h0M472.5 105.5h0M484.8 105.6h0M485.9 104.8h0M488.3 104.5h0M489.3 104.8h0M491.2 104.5h0M582.9 104.9h0M591.2 104.6h0M595.7 105.8h0M608.6 104.7h0M627.1 105.1h0M450.3 107.2h0M451.9 106.3h0M455.9 106.2h0M457.6 106.7h0M464.9 106.9h0M476.3 106.8h0M492.5 106.4h0M547.2 106.9h0M551.3 106.8h0M581.4 106.9h0M585.4 107.0h0M595.1 107.1h0M610.9 106.6h0M633.9 106.0h0M448.1 108.3h0M478.4 107.7h0M490.4 107.5h0M492.0 107.9h0M494.0 108.2h0M592.7 108.4h0M595.4 108.4h0M599.7 108.3h0M606.6 107.3h0M619.2 107.2h0M475.0 109.5h0M476.3 109.7h0M482.2 109.3h0M487.0 109.0h0M491.2 109.3h0M565.9 109.1h0M585.4 109.6h0M611.0 109.4h0M445.7 111.3h0M449.6 110.8h0M483.8 110.9h0M493.4 111.3h0M495.6 110.9h0M585.6 111.0h0M596.6 111.0h0M598.4 111.0h0M602.1 110.1h0M605.0 111.1h0M622.2 110.1h0M627.8 110.4h0M635.3 110.3h0M637.9 111.0h0M476.4 111.9h0M484.5 112.3h0M485.4 112.7h0M505.3 112.6h0M508.9 112.7h0M552.5 111.9h0M555.5 111.4h0M580.1 112.2h0M588.0 112.2h0M590.8 112.2h0M602.0 111.5h0M608.8 111.8h0M620.1 112.3h0M461.3 113.7h0M493.6 113.6h0M494.9 113.3h0M509.3 114.0h0M510.3 113.5h0M578.5 113.2h0M603.9 112.9h0M612.5 114.0h0M626.3 113.9h0M640.4 113.0h0M450.1 114.3h0M452.2 114.9h0M485.4 114.5h0M492.9 114.3h0M493.5 114.6h0M517.6 114.4h0M567.3 115.5h0M585.6 114.3h0M595.3 114.5h0M632.5 114.1h0M469.1 115.8h0M481.8 116.8h0M485.5 115.7h0M489.3 116.8h0M495.1 115.9h0M496.7 115.7h0M502.5 115.5h0M518.7 116.1h0M574.0 116.6h0M590.2 116.8h0M596.0 115.9h0M638.3 116.4h0M465.0 118.2h0M496.8 117.2h0M502.1 117.0h0M514.9 117.6h0M580.2 116.9h0M603.9 116.9h0M630.9 117.5h0M641.7 117.1h0M643.6 117.8h0M566.7 118.3h0M573.4 119.7h0M589.3 119.4h0M597.1 118.5h0M602.4 118.4h0M610.7 118.5h0M638.8 118.8h0M643.9 118.8h0M458.0 120.9h0M488.1 120.8h0M595.6 120.4h0M627.0 120.1h0M634.3 120.7h0M471.2 121.6h0M587.7 122.1h0M643.8 121.7h0M457.5 123.4h0M598.0 122.8h0M640.4 123.0h0M645.7 122.8h0M590.8 124.8h0M596.5 125.0h0M600.0 123.8h0M467.0 126.2h0M483.9 125.6h0M591.0 125.9h0M453.1 127.1h0M457.2 127.5h0M486.2 127.7h0M594.2 126.9h0M595.7 127.2h0M598.0 126.6h0M454.4 128.2h0M462.1 129.2h0M544.4 128.1h0M640.6 129.0h0M454.5 130.6h0M482.9 130.0h0M493.4 129.8h0M587.8 129.8h0M589.3 129.6h0M592.3 129.5h0M606.0 130.3h0M607.8 130.5h0M635.9 130.0h0M452.7 132.1h0M474.2 131.9h0M613.5 131.3h0M490.9 132.7h0M585.5 132.3h0M587.9 132.5h0M606.9 132.6h0M614.2 133.1h0M451.9 133.6h0M459.8 134.1h0M476.5 134.9h0M479.5 133.7h0M591.5 133.8h0M453.5 135.7h0M454.9 135.7h0M456.4 136.0h0M457.4 136.0h0M459.2 136.2h0M495.3 135.0h0M583.8 135.6h0M589.0 135.8h0M590.2 135.4h0M604.7 135.2h0M473.5 136.9h0M476.1 137.2h0M584.5 136.6h0M591.9 137.3h0M644.1 137.3h0M456.6 138.5h0M485.4 139.0h0M502.9 138.2h0M592.0 138.8h0M640.4 138.1h0M654.1 138.4h0M460.4 139.1h0M462.9 139.7h0M476.3 140.4h0M479.5 140.0h0M486.9 140.3h0M587.8 139.5h0M604.5 140.4h0M459.5 141.2h0M461.2 141.4h0M603.0 141.2h0M639.1 140.9h0M461.7 143.1h0M489.1 142.1h0M584.9 142.6h0M448.5 144.2h0M485.3 143.5h0M588.9 143.9h0M595.0 143.5h0M455.2 145.5h0M586.6 145.9h0M588.0 145.3h0M639.8 144.9h0M645.9 145.8h0M456.7 146.7h0M478.3 146.1h0M638.4 146.4h0M546.5 148.4h0M480.9 151.3h0M654.3 150.3h0M657.1 150.7h0M482.1 152.2h0M502.9 151.9h0M534.4 153.2h0M575.6 153.7h0M536.8 154.5h0M641.9 154.9h0M618.0 156.7h0M633.1 159.8h0M533.9 161.6h0M641.4 161.7h0M647.2 163.8h0M499.3 165.2h0M639.9 164.7h0M647.7 164.2h0M502.2 165.6h0M502.4 166.8h0M647.9 169.0h0M647.0 169.9h0M502.1 171.7h0M632.3 172.1h0M645.8 172.3h0M499.2 190.2h0M492.2 192.2h0M622.2 192.9h0M494.9 195.5h0M497.6 196.4h0M509.2 196.3h0M497.1 209.4h0M505.0 212.5h0M516.7 212.7h0M528.1 213.7h0M624.3 215.0h0M580.2 217.3h0M511.3 219.4h0M521.4 218.1h0M502.4 220.3h0M505.4 221.3h0M501.9 223.5h0M508.5 222.8h0M501.7 223.8h0M509.4 223.7h0M511.2 224.0h0M505.3 225.1h0M508.9 227.2h0M509.6 230.6h0M563.3 233.0h0"/><path stroke="#3556AA" d="M442.4 50.0h0M441.2 52.8h0M454.8 52.6h0M439.6 53.4h0M447.1 53.3h0M446.7 54.7h0M449.6 56.8h0M455.5 56.5h0M458.0 57.9h0M437.2 59.7h0M445.3 59.0h0M466.1 62.6h0M451.5 64.1h0M456.7 63.5h0M457.9 65.1h0M461.3 65.6h0M471.2 67.0h0M443.9 68.1h0M458.0 68.7h0M568.4 68.8h0M459.2 70.9h0M465.5 70.8h0M555.3 71.0h0M568.5 70.0h0M436.4 72.2h0M439.9 71.6h0M448.0 71.9h0M460.6 72.2h0M472.5 72.2h0M434.9 74.0h0M437.2 73.0h0M459.3 73.8h0M562.2 75.2h0M551.8 75.4h0M553.0 75.8h0M563.1 76.5h0M565.9 76.5h0M570.7 76.5h0M569.1 77.8h0M434.9 79.3h0M459.0 78.6h0M482.5 79.4h0M446.0 80.2h0M473.4 80.2h0M475.4 80.5h0M481.6 80.5h0M566.0 80.1h0M431.1 80.9h0M433.3 81.5h0M452.8 81.4h0M484.9 81.6h0M553.1 82.1h0M574.9 81.5h0M448.7 84.3h0M460.2 84.5h0M479.4 84.2h0M444.9 85.3h0M462.1 85.7h0M470.8 85.6h0M484.9 85.6h0M452.1 86.6h0M460.0 87.7h0M476.4 87.6h0M618.0 87.6h0M625.5 86.9h0M610.2 88.2h0M611.4 88.7h0M623.8 87.9h0M463.3 89.7h0M617.7 90.3h0M624.8 90.3h0M439.8 91.2h0M457.3 91.6h0M483.2 91.6h0M615.7 90.9h0M629.2 91.6h0M437.6 93.4h0M452.2 92.5h0M460.7 92.3h0M478.4 92.7h0M483.9 93.2h0M564.7 92.4h0M623.8 92.6h0M457.8 93.9h0M554.9 93.5h0M564.4 94.5h0M569.9 94.7h0M616.5 94.5h0M486.9 94.8h0M554.7 94.8h0M441.9 96.1h0M480.6 96.6h0M481.3 96.4h0M547.9 96.2h0M559.9 97.0h0M618.1 96.2h0M624.8 96.7h0M627.9 96.1h0M470.7 98.5h0M485.7 97.6h0M492.8 98.8h0M559.5 98.4h0M599.1 98.4h0M470.7 100.0h0M480.3 99.8h0M488.4 99.3h0M546.1 99.2h0M618.2 99.7h0M628.7 99.5h0M482.2 101.2h0M561.5 100.4h0M609.4 101.0h0M630.3 101.5h0M480.8 102.5h0M545.8 102.5h0M614.1 102.6h0M439.0 103.7h0M457.2 103.5h0M462.7 104.2h0M480.4 103.2h0M586.5 103.8h0M606.0 103.9h0M610.6 103.3h0M620.1 103.2h0M633.1 103.2h0M482.1 104.9h0M602.9 105.3h0M604.5 104.4h0M629.7 104.9h0M467.7 106.8h0M479.1 107.0h0M484.3 106.1h0M488.4 106.7h0M548.3 106.3h0M616.7 106.1h0M628.5 107.0h0M630.1 106.4h0M457.2 107.5h0M471.3 107.7h0M474.8 108.5h0M481.3 107.9h0M486.8 107.6h0M492.3 107.7h0M587.8 107.9h0M599.1 107.4h0M609.2 108.6h0M613.3 108.6h0M615.8 107.7h0M481.5 108.8h0M597.4 109.6h0M605.1 109.2h0M491.2 112.6h0M557.4 112.2h0M600.0 111.4h0M639.7 112.1h0M477.1 113.7h0M478.5 113.4h0M480.7 114.1h0M488.5 113.5h0M511.9 112.8h0M556.5 113.6h0M623.0 114.0h0M576.6 115.5h0M583.4 114.1h0M589.9 115.1h0M486.4 116.6h0M487.7 115.6h0M505.2 116.9h0M563.1 116.7h0M580.5 115.7h0M589.7 116.8h0M637.1 115.6h0M643.0 116.0h0M516.8 117.0h0M561.9 118.0h0M511.1 119.7h0M579.5 118.5h0M627.5 119.3h0M471.5 120.2h0M488.4 120.3h0M505.1 119.9h0M587.5 120.4h0M618.2 119.7h0M591.6 122.5h0M608.1 121.8h0M477.7 124.6h0M623.3 124.8h0M472.7 125.6h0M586.1 125.2h0M593.7 126.2h0M642.3 126.2h0M493.0 127.2h0M497.1 127.6h0M480.8 128.2h0M552.3 129.3h0M588.0 128.2h0M590.9 129.2h0M607.8 128.9h0M627.6 129.0h0M459.7 130.3h0M461.4 130.1h0M613.1 129.4h0M637.4 130.7h0M453.2 130.8h0M477.7 131.4h0M497.4 131.5h0M594.3 131.7h0M442.7 132.6h0M458.0 133.9h0M493.7 134.6h0M587.0 134.3h0M602.1 133.9h0M644.0 134.9h0M650.5 134.1h0M450.7 135.7h0M644.5 135.8h0M460.4 137.2h0M485.7 137.1h0M602.0 137.5h0M649.6 136.6h0M584.9 138.9h0M590.3 139.7h0M598.3 139.9h0M631.1 141.2h0M635.7 141.1h0M644.6 141.7h0M588.4 143.2h0M449.9 144.1h0M457.9 143.5h0M497.6 143.8h0M584.5 144.5h0M592.7 143.4h0M625.4 144.0h0M451.6 145.0h0M457.4 145.7h0M656.7 146.0h0M632.0 148.5h0M644.5 149.6h0M648.0 149.5h0M485.2 158.2h0M639.2 161.4h0M569.6 164.7h0M575.8 165.9h0M614.8 173.1h0M659.1 173.5h0M647.5 176.4h0M652.1 182.5h0M499.9 188.1h0M481.5 191.7h0M494.4 191.8h0M530.8 194.0h0M527.7 195.3h0M483.0 198.7h0M554.9 200.4h0M509.4 202.6h0M542.0 204.8h0M511.0 206.3h0M535.7 205.8h0M473.9 212.2h0M502.3 211.6h0M506.0 217.5h0M472.3 218.4h0M589.0 221.2h0M507.3 222.7h0M505.6 227.5h0M483.9 229.1h0M504.1 230.9h0M573.3 243.8h0M580.9 244.1h0M592.7 243.0h0M499.9 249.5h0M481.1 278.7h0"/><path stroke="#3070B8" d="M447.8 46.8h0M441.2 50.4h0M442.4 51.3h0M454.9 51.7h0M454.3 53.6h0M439.0 54.6h0M439.8 56.6h0M451.9 56.2h0M454.2 58.1h0M444.7 61.3h0M452.3 61.1h0M456.5 61.1h0M444.3 62.6h0M466.7 64.6h0M462.8 65.7h0M468.8 68.4h0M563.8 67.5h0M435.7 68.4h0M440.4 69.7h0M463.3 69.8h0M434.5 71.0h0M436.5 70.9h0M445.2 70.6h0M447.9 70.6h0M452.0 69.8h0M467.6 70.9h0M556.2 70.6h0M566.1 70.7h0M434.8 71.7h0M445.9 72.0h0M477.0 72.3h0M478.1 71.8h0M560.7 72.1h0M570.0 72.1h0M463.4 73.5h0M478.9 73.4h0M566.1 73.1h0M563.7 74.0h0M459.1 75.6h0M464.3 76.5h0M472.4 75.5h0M560.0 76.7h0M459.2 77.9h0M470.5 77.7h0M555.8 77.4h0M556.6 78.1h0M566.1 77.7h0M433.2 78.5h0M462.0 78.4h0M474.2 79.5h0M551.7 79.0h0M557.7 78.7h0M564.7 79.4h0M565.5 78.9h0M432.1 80.7h0M436.8 80.7h0M443.0 80.7h0M455.6 80.1h0M457.5 80.4h0M480.0 80.9h0M552.3 79.7h0M553.9 80.3h0M574.7 80.8h0M439.9 81.0h0M454.7 81.2h0M462.8 82.0h0M469.3 81.3h0M475.3 82.2h0M476.6 81.1h0M478.8 80.9h0M480.6 81.9h0M561.5 81.8h0M563.5 82.1h0M568.3 80.9h0M461.7 83.4h0M474.0 82.4h0M475.1 83.6h0M479.0 82.8h0M552.4 82.7h0M572.1 82.8h0M434.8 83.8h0M444.6 84.2h0M456.4 83.8h0M472.8 84.5h0M560.0 83.7h0M561.1 83.8h0M441.7 86.0h0M450.3 85.5h0M468.0 86.3h0M475.5 86.0h0M559.0 85.0h0M453.9 86.9h0M462.3 87.7h0M479.8 87.8h0M617.4 87.2h0M440.9 87.8h0M446.1 87.9h0M477.9 89.2h0M559.2 88.5h0M559.8 88.1h0M566.0 88.4h0M473.6 89.4h0M474.1 90.4h0M488.3 90.4h0M556.2 90.2h0M611.6 89.7h0M622.5 90.2h0M430.0 92.0h0M464.6 90.8h0M465.4 91.4h0M473.2 91.6h0M477.4 92.0h0M489.1 90.7h0M550.2 91.7h0M563.3 91.5h0M564.4 91.9h0M604.4 91.5h0M611.6 91.5h0M441.0 93.3h0M468.1 92.5h0M480.4 92.8h0M604.1 92.9h0M608.7 92.6h0M611.7 93.1h0M452.4 94.7h0M454.4 94.3h0M467.8 94.7h0M474.9 94.7h0M477.3 93.7h0M550.7 93.3h0M607.9 94.4h0M436.0 95.0h0M463.1 95.2h0M480.1 95.9h0M491.1 95.6h0M552.6 95.1h0M557.7 96.0h0M603.0 94.8h0M610.8 95.9h0M618.6 95.4h0M443.2 97.2h0M448.0 97.1h0M472.6 96.2h0M491.1 97.3h0M548.9 96.9h0M557.6 97.1h0M562.9 96.4h0M609.5 97.0h0M611.4 97.3h0M447.4 98.4h0M487.8 97.8h0M544.4 98.9h0M598.1 98.9h0M601.1 98.3h0M602.5 98.8h0M618.9 98.0h0M631.3 98.5h0M443.2 99.3h0M467.0 99.5h0M492.5 100.3h0M547.6 99.9h0M560.8 100.2h0M563.9 99.0h0M566.7 99.9h0M598.1 99.7h0M603.2 99.4h0M625.3 100.2h0M633.3 99.5h0M453.3 101.4h0M456.1 101.3h0M470.3 101.3h0M478.9 101.4h0M563.9 101.1h0M601.5 101.1h0M631.2 100.5h0M449.6 102.3h0M477.0 102.8h0M489.3 102.9h0M560.7 101.9h0M568.1 101.9h0M573.2 102.3h0M599.3 102.1h0M611.3 102.4h0M615.7 102.8h0M465.1 103.4h0M466.1 103.7h0M487.7 104.2h0M545.5 104.3h0M621.5 104.1h0M631.3 103.4h0M477.0 104.8h0M577.6 105.2h0M588.3 105.8h0M610.1 105.4h0M618.7 105.6h0M626.0 105.6h0M458.3 106.3h0M469.3 106.4h0M477.9 106.5h0M482.4 106.7h0M494.2 106.8h0M609.0 105.9h0M615.5 107.0h0M472.0 107.7h0M582.5 107.4h0M605.3 107.4h0M623.7 107.9h0M627.1 108.5h0M484.6 108.9h0M583.8 108.7h0M594.6 109.6h0M602.4 108.7h0M612.2 109.4h0M631.2 108.9h0M638.1 108.7h0M475.6 110.1h0M578.7 111.0h0M583.5 110.0h0M595.8 111.1h0M609.3 110.8h0M629.7 110.2h0M632.3 110.2h0M492.8 111.7h0M549.6 112.2h0M551.2 112.3h0M594.0 112.0h0M603.5 112.6h0M624.5 111.9h0M640.3 111.9h0M497.1 114.1h0M499.6 114.2h0M551.6 113.3h0M480.7 114.1h0M484.8 114.3h0M554.5 114.3h0M574.3 114.5h0M575.3 115.4h0M578.2 115.4h0M606.3 115.1h0M607.1 114.8h0M609.6 115.4h0M610.2 115.5h0M612.8 114.7h0M628.6 114.5h0M499.9 116.0h0M597.5 116.9h0M609.9 116.8h0M611.0 116.0h0M616.8 116.2h0M628.7 116.8h0M480.0 117.0h0M494.0 117.4h0M498.1 118.1h0M565.6 118.0h0M577.7 116.9h0M642.1 118.1h0M483.7 119.6h0M494.8 119.1h0M574.9 119.4h0M590.4 119.0h0M626.2 118.7h0M635.2 118.5h0M460.2 120.7h0M470.4 119.7h0M608.1 120.7h0M595.5 122.2h0M611.9 121.4h0M645.6 122.3h0M618.2 123.5h0M635.8 123.2h0M637.6 123.7h0M644.7 123.4h0M484.0 124.8h0M628.9 124.0h0M487.6 126.6h0M479.1 127.1h0M504.8 127.3h0M608.8 127.8h0M452.6 129.0h0M459.0 129.1h0M475.1 128.8h0M584.3 129.0h0M589.4 128.3h0M596.1 128.4h0M608.6 129.0h0M614.0 128.3h0M646.7 129.1h0M451.7 130.0h0M456.7 130.1h0M548.8 129.5h0M600.4 130.1h0M480.4 131.0h0M584.4 130.9h0M589.1 130.8h0M602.3 131.6h0M647.7 130.9h0M584.4 132.5h0M588.7 133.1h0M635.3 133.5h0M470.8 134.5h0M481.2 133.7h0M486.4 134.3h0M592.3 133.7h0M598.4 133.8h0M637.6 133.5h0M643.0 133.7h0M443.6 135.3h0M478.0 135.7h0M485.4 135.1h0M548.5 135.7h0M593.5 135.9h0M595.4 134.9h0M626.5 135.9h0M652.7 136.2h0M454.4 136.9h0M455.5 137.1h0M462.5 136.9h0M591.2 138.3h0M606.0 138.8h0M630.0 138.5h0M452.0 139.7h0M457.5 140.5h0M462.4 139.3h0M477.8 139.3h0M590.7 140.0h0M594.7 139.6h0M596.6 139.1h0M449.3 141.7h0M457.2 140.5h0M591.6 141.1h0M448.9 142.8h0M456.5 142.6h0M589.5 143.1h0M649.9 142.6h0M652.6 143.1h0M456.6 144.6h0M546.7 143.3h0M593.3 143.5h0M647.5 144.4h0M452.5 146.7h0M454.9 146.8h0M564.4 147.1h0M592.8 146.1h0M635.4 147.2h0M652.5 146.4h0M636.7 148.7h0M566.3 149.0h0M641.4 149.7h0M650.1 150.7h0M483.1 151.7h0M535.2 153.9h0M631.5 153.9h0M645.7 153.4h0M647.8 153.2h0M535.2 154.4h0M636.8 155.7h0M641.7 156.5h0M642.0 158.8h0M536.1 163.6h0M574.1 162.9h0M576.2 163.9h0M627.3 163.4h0M573.0 166.2h0M646.5 166.0h0M635.9 167.1h0M641.5 166.9h0M658.3 167.3h0M661.7 167.1h0M620.5 169.4h0M625.5 169.2h0M621.2 171.7h0M656.8 171.1h0M616.6 173.6h0M654.8 173.4h0M642.9 175.6h0M658.2 176.3h0M621.3 178.4h0M631.7 183.4h0M654.3 182.7h0M610.3 185.7h0M507.3 187.3h0M511.8 187.1h0M509.1 190.0h0M500.8 190.5h0M502.1 191.6h0M503.6 191.0h0M517.4 192.7h0M493.4 194.6h0M514.0 195.9h0M577.1 194.6h0M499.9 197.2h0M590.7 197.1h0M600.7 196.6h0M479.7 197.8h0M487.3 199.0h0M498.4 198.7h0M501.4 200.8h0M525.9 200.3h0M498.9 203.4h0M503.1 203.7h0M508.5 205.2h0M513.1 204.8h0M537.5 207.8h0M497.5 211.0h0M499.1 211.5h0M517.5 211.7h0M467.6 212.6h0M518.9 212.5h0M566.9 212.9h0M480.1 214.2h0M552.6 216.0h0M576.4 215.7h0M512.6 218.1h0M515.1 217.8h0M507.9 218.7h0M518.2 220.2h0M537.2 219.9h0M502.5 220.8h0M510.0 222.1h0M482.4 223.5h0M511.7 222.8h0M539.2 222.3h0M505.4 224.2h0M483.0 225.4h0M517.2 225.1h0M507.8 226.3h0M510.9 226.8h0M505.9 229.2h0M507.8 228.5h0M475.4 229.3h0M593.7 229.3h0M582.0 242.4h0M515.0 248.0h0M528.0 274.9h0M485.4 278.7h0M514.9 281.7h0"/><path stroke="#3486B7" d="M444.7 50.1h0M449.6 50.6h0M452.6 52.9h0M442.6 57.2h0M450.3 56.3h0M444.7 58.8h0M457.5 59.8h0M438.9 60.4h0M448.1 60.9h0M450.2 60.1h0M447.8 62.2h0M452.9 61.9h0M437.4 63.5h0M441.1 63.9h0M454.9 63.9h0M457.8 63.9h0M464.6 64.0h0M448.0 65.5h0M435.8 66.2h0M443.9 67.0h0M448.4 66.5h0M451.2 66.7h0M455.1 66.5h0M446.2 68.0h0M455.7 67.8h0M458.2 68.2h0M447.9 69.8h0M453.2 69.3h0M460.5 68.8h0M464.3 68.9h0M565.1 69.5h0M450.0 69.8h0M466.0 71.1h0M558.4 71.1h0M454.1 73.8h0M470.1 73.4h0M472.3 72.8h0M476.0 73.3h0M552.5 73.8h0M573.1 73.9h0M435.1 74.0h0M441.3 74.5h0M443.1 74.1h0M447.0 75.0h0M451.1 75.0h0M463.8 74.0h0M553.2 75.0h0M557.1 74.4h0M566.3 74.1h0M440.6 76.4h0M475.7 76.4h0M480.5 76.1h0M447.6 77.2h0M452.5 77.0h0M456.1 77.9h0M474.9 77.5h0M560.1 77.4h0M571.0 77.3h0M438.1 78.9h0M445.8 78.7h0M453.4 78.6h0M460.6 78.2h0M467.8 78.2h0M475.5 79.0h0M467.0 80.7h0M550.0 79.9h0M562.7 80.1h0M441.0 81.6h0M446.9 81.2h0M451.3 80.9h0M453.8 81.9h0M557.6 81.5h0M567.1 81.7h0M452.1 83.0h0M454.3 83.1h0M477.5 83.2h0M436.0 84.4h0M438.8 84.3h0M445.4 83.6h0M447.0 84.3h0M464.3 83.9h0M471.7 84.0h0M550.2 83.7h0M563.2 85.0h0M436.9 85.3h0M459.6 85.0h0M483.1 85.6h0M566.9 86.1h0M622.1 85.3h0M463.7 87.1h0M622.4 86.4h0M443.8 88.7h0M448.6 88.6h0M471.1 88.3h0M488.2 88.7h0M568.3 88.4h0M626.4 88.4h0M442.3 89.7h0M449.6 89.8h0M471.3 89.4h0M486.7 90.0h0M607.4 89.9h0M623.4 89.2h0M627.2 89.3h0M453.6 91.8h0M482.4 91.8h0M552.7 90.9h0M562.2 91.0h0M570.8 91.2h0M602.2 91.5h0M603.4 91.5h0M605.9 91.1h0M613.1 91.6h0M442.8 92.6h0M456.0 93.0h0M485.7 92.2h0M570.7 93.0h0M572.1 92.7h0M574.9 92.6h0M461.1 93.8h0M470.0 94.3h0M472.1 93.4h0M486.0 94.2h0M548.8 93.5h0M557.4 94.6h0M566.8 94.6h0M619.4 93.7h0M625.6 93.9h0M626.9 94.4h0M631.6 94.6h0M448.8 94.8h0M468.4 95.0h0M472.1 95.8h0M475.9 95.0h0M480.9 95.5h0M485.7 95.9h0M563.7 95.0h0M565.4 96.1h0M607.3 96.1h0M614.8 95.5h0M464.7 96.8h0M466.3 97.2h0M469.4 97.4h0M569.7 97.1h0M603.8 96.3h0M616.4 96.3h0M623.3 96.3h0M631.9 96.5h0M450.1 98.1h0M461.9 98.2h0M474.1 98.0h0M478.1 97.8h0M479.5 97.6h0M484.3 98.0h0M565.2 98.5h0M570.0 98.4h0M576.9 98.6h0M607.0 98.1h0M620.7 98.1h0M621.7 98.5h0M623.8 98.2h0M633.1 97.7h0M442.2 99.8h0M461.4 99.1h0M463.0 100.1h0M472.1 100.0h0M477.1 99.3h0M619.5 100.2h0M449.0 101.4h0M452.7 100.9h0M463.5 100.6h0M465.7 101.0h0M471.7 101.0h0M565.2 100.3h0M571.8 101.4h0M597.2 100.4h0M611.8 101.1h0M632.9 101.3h0M635.2 101.6h0M452.4 102.1h0M479.0 101.6h0M599.9 101.7h0M622.0 102.8h0M624.4 101.8h0M625.7 102.4h0M468.0 103.1h0M485.2 103.7h0M546.1 103.1h0M567.1 103.5h0M598.1 104.2h0M599.2 103.6h0M636.2 103.3h0M464.7 104.7h0M473.3 105.6h0M493.0 105.3h0M571.0 104.9h0M593.8 105.6h0M606.4 105.5h0M486.3 106.2h0M579.9 106.1h0M587.8 105.9h0M621.4 106.0h0M626.9 106.9h0M450.9 108.3h0M454.5 107.9h0M480.9 107.3h0M579.5 108.2h0M589.5 108.1h0M596.5 107.7h0M601.5 107.9h0M611.1 107.8h0M633.3 108.3h0M478.2 109.4h0M493.5 109.7h0M576.8 109.0h0M636.4 109.4h0M486.1 110.0h0M491.1 111.4h0M586.9 110.9h0M614.8 111.3h0M617.9 110.0h0M637.5 111.1h0M500.1 112.6h0M570.7 112.2h0M578.3 112.8h0M595.8 112.1h0M606.3 111.4h0M616.0 111.9h0M626.4 111.3h0M631.0 112.0h0M449.7 113.4h0M482.0 113.9h0M501.4 113.1h0M570.5 112.8h0M589.2 113.3h0M596.8 114.1h0M607.9 113.2h0M479.7 115.1h0M488.7 115.0h0M500.0 115.3h0M559.5 115.0h0M579.8 115.5h0M601.3 114.5h0M604.7 115.4h0M635.6 115.3h0M637.2 114.9h0M556.6 115.9h0M604.3 116.0h0M634.0 115.7h0M635.8 115.6h0M642.1 115.6h0M470.2 117.9h0M482.9 117.8h0M487.7 117.4h0M510.2 116.9h0M572.9 117.0h0M589.6 118.1h0M591.2 118.2h0M607.9 118.2h0M617.2 117.0h0M459.8 119.4h0M502.3 119.1h0M610.0 119.1h0M454.0 119.9h0M485.8 119.7h0M601.6 119.9h0M606.3 119.6h0M628.6 120.7h0M643.2 120.3h0M451.8 122.2h0M467.5 121.3h0M476.6 121.1h0M585.1 122.5h0M625.4 122.3h0M632.8 122.4h0M638.7 121.8h0M589.2 123.1h0M591.1 122.6h0M622.1 123.3h0M460.8 125.2h0M472.7 125.2h0M481.8 123.9h0M485.1 124.0h0M585.2 123.9h0M587.6 123.9h0M588.7 124.6h0M611.7 124.2h0M452.9 126.3h0M457.2 126.1h0M584.6 125.9h0M596.5 125.4h0M443.1 127.3h0M451.1 127.4h0M455.1 127.3h0M483.5 127.0h0M586.7 127.0h0M601.4 127.2h0M609.7 127.0h0M482.2 129.3h0M593.1 128.4h0M602.1 128.7h0M605.8 129.2h0M610.2 129.4h0M618.2 129.1h0M446.4 129.9h0M479.8 129.7h0M545.9 130.2h0M590.5 130.1h0M601.1 130.3h0M610.7 130.6h0M615.3 130.1h0M630.3 130.3h0M640.6 130.2h0M459.6 131.9h0M552.9 131.8h0M636.8 130.7h0M637.4 132.1h0M639.5 132.1h0M454.3 132.7h0M480.3 132.4h0M593.2 132.5h0M609.2 133.0h0M628.0 132.4h0M631.8 133.4h0M585.2 133.6h0M611.2 134.0h0M615.3 134.0h0M617.4 134.7h0M646.9 133.6h0M463.3 135.9h0M586.7 135.8h0M451.3 136.4h0M586.0 137.3h0M597.1 137.1h0M599.1 136.8h0M612.7 137.5h0M627.0 136.6h0M641.6 137.2h0M450.8 138.8h0M585.9 137.8h0M589.6 138.1h0M595.7 137.8h0M599.8 138.5h0M613.6 138.2h0M645.6 138.7h0M646.0 139.0h0M649.7 138.2h0M592.8 140.0h0M632.7 140.2h0M454.5 141.8h0M452.5 142.7h0M454.4 143.0h0M454.7 142.5h0M484.6 143.1h0M604.3 142.3h0M458.8 143.2h0M475.7 144.1h0M651.1 143.3h0M592.9 144.9h0M609.2 144.7h0M473.7 146.1h0M537.1 147.1h0M609.1 146.6h0M481.2 148.3h0M484.3 148.5h0M644.0 148.2h0M500.4 150.4h0M536.4 152.3h0M544.4 152.4h0M565.0 152.1h0M501.8 153.7h0M621.7 154.2h0M635.2 154.2h0M637.8 153.4h0M652.3 153.9h0M646.0 155.0h0M638.1 156.9h0M607.2 157.8h0M500.4 159.2h0M651.7 159.2h0M534.0 160.8h0M618.5 161.5h0M646.4 161.7h0M654.3 162.2h0M568.4 163.8h0M623.3 164.0h0M536.6 164.3h0M619.8 164.1h0M632.1 164.3h0M483.0 165.5h0M618.2 168.0h0M628.1 167.4h0M628.8 169.4h0M621.9 171.2h0M625.2 172.6h0M632.7 173.5h0M659.9 173.0h0M619.5 174.0h0M643.2 173.8h0M654.1 175.0h0M503.1 177.3h0M618.7 176.5h0M563.7 179.2h0M616.9 178.8h0M625.3 178.8h0M557.6 179.8h0M637.3 181.6h0M642.3 184.1h0M507.3 185.9h0M625.7 186.0h0M650.0 186.1h0M637.2 187.2h0M493.6 188.9h0M504.5 188.8h0M508.3 188.2h0M511.1 188.1h0M513.8 187.9h0M581.7 188.9h0M588.4 188.7h0M642.0 188.0h0M488.5 189.3h0M500.0 189.8h0M497.6 191.4h0M517.7 191.4h0M486.2 193.1h0M513.3 192.4h0M477.5 193.5h0M491.9 193.7h0M520.2 193.8h0M525.0 194.3h0M634.5 194.0h0M479.2 195.6h0M482.6 194.7h0M503.1 194.8h0M507.6 194.7h0M528.9 195.6h0M477.3 196.8h0M502.9 196.7h0M510.5 196.5h0M513.5 196.8h0M518.2 196.8h0M595.4 197.1h0M490.4 197.5h0M508.3 197.6h0M519.6 198.0h0M531.9 197.4h0M477.1 199.2h0M501.5 198.9h0M521.5 200.0h0M554.2 202.1h0M618.2 201.9h0M487.6 204.2h0M507.7 203.2h0M518.1 203.4h0M527.3 203.8h0M535.5 202.9h0M497.6 206.0h0M470.3 206.9h0M524.3 207.8h0M541.0 208.3h0M542.3 207.3h0M531.8 209.2h0M540.8 208.4h0M471.5 210.5h0M486.1 209.8h0M495.2 210.9h0M602.4 210.2h0M606.2 210.4h0M621.3 210.9h0M472.8 211.9h0M485.4 211.7h0M487.5 211.7h0M479.7 213.5h0M494.5 213.3h0M502.9 214.6h0M512.9 215.0h0M594.3 216.1h0M472.6 216.9h0M475.0 217.3h0M495.2 217.5h0M519.7 218.4h0M527.0 218.8h0M482.4 220.8h0M509.4 220.0h0M477.5 222.0h0M492.1 221.5h0M493.1 221.2h0M553.5 222.1h0M505.3 222.6h0M513.3 222.9h0M515.1 223.1h0M517.7 223.4h0M487.8 224.3h0M512.2 223.7h0M522.0 224.0h0M564.0 224.5h0M489.9 226.2h0M503.0 225.7h0M475.2 227.6h0M494.2 226.5h0M496.1 227.1h0M504.9 227.5h0M499.2 229.1h0M488.6 229.5h0M476.8 231.8h0M500.4 231.7h0M596.4 231.5h0M483.1 234.2h0M569.6 233.3h0M483.3 236.1h0M504.6 235.2h0M555.5 235.6h0M582.7 235.0h0M589.1 235.1h0M485.5 237.7h0M567.2 238.9h0M512.5 241.4h0M614.3 242.6h0M510.4 245.3h0M476.9 252.6h0M504.7 258.5h0M476.4 263.4h0M478.5 265.9h0M480.4 270.4h0M484.7 271.1h0M501.6 286.7h0M499.0 289.4h0"/><path stroke="#3B9AAF" d="M447.7 49.0h0M441.0 53.6h0M444.8 55.5h0M450.0 55.2h0M455.1 54.6h0M440.7 57.0h0M446.8 61.1h0M460.9 60.5h0M437.6 62.7h0M443.2 62.6h0M439.1 63.7h0M467.5 64.3h0M437.2 65.0h0M446.3 64.8h0M468.3 64.9h0M469.2 64.9h0M464.3 65.8h0M438.9 67.4h0M440.5 67.6h0M453.6 68.0h0M454.3 69.7h0M472.8 68.9h0M563.5 69.1h0M456.5 70.5h0M463.0 71.0h0M558.8 71.1h0M465.7 72.5h0M470.9 71.4h0M439.8 73.8h0M446.3 73.2h0M457.6 73.0h0M466.4 73.1h0M471.3 73.2h0M571.2 73.2h0M439.5 74.4h0M448.8 73.9h0M453.0 74.2h0M459.9 74.3h0M467.5 74.0h0M555.5 74.9h0M559.7 75.2h0M569.4 74.3h0M438.2 75.9h0M446.8 76.2h0M462.4 76.3h0M558.1 76.3h0M445.6 77.6h0M457.3 77.3h0M481.7 77.3h0M562.4 77.6h0M568.5 77.0h0M573.7 76.8h0M573.9 77.2h0M442.5 79.4h0M451.7 79.4h0M466.5 79.2h0M553.0 79.4h0M477.4 79.8h0M443.2 82.0h0M446.2 81.5h0M467.5 81.1h0M549.8 80.9h0M434.2 82.5h0M446.0 83.0h0M470.2 82.3h0M485.5 83.2h0M569.9 82.9h0M573.0 82.7h0M484.2 84.9h0M565.7 84.7h0M438.7 85.1h0M447.1 86.0h0M466.0 85.3h0M549.6 85.2h0M564.7 85.4h0M574.2 85.3h0M619.9 86.2h0M437.7 86.7h0M457.6 87.0h0M477.5 87.4h0M567.7 87.3h0M626.4 86.9h0M453.4 88.1h0M460.7 89.0h0M471.9 89.1h0M473.7 89.1h0M481.6 88.6h0M570.3 89.0h0M626.8 88.4h0M436.0 89.2h0M440.8 90.4h0M461.1 89.3h0M477.3 89.4h0M562.5 89.6h0M567.7 89.8h0M613.4 89.9h0M620.5 89.5h0M436.8 91.3h0M438.6 90.7h0M460.9 91.4h0M486.2 91.2h0M554.5 91.5h0M555.3 91.8h0M608.6 91.7h0M614.1 91.6h0M617.4 91.5h0M560.9 93.0h0M562.6 92.9h0M566.1 92.3h0M602.6 92.7h0M610.3 92.8h0M625.3 93.1h0M444.9 93.4h0M473.8 94.5h0M481.8 93.5h0M484.8 93.8h0M544.5 94.5h0M442.2 95.4h0M549.3 95.0h0M555.9 95.1h0M632.0 94.9h0M449.5 97.2h0M454.3 97.2h0M458.2 96.8h0M468.0 97.3h0M487.1 96.7h0M551.9 96.8h0M555.5 97.1h0M558.4 96.3h0M618.8 96.3h0M453.6 97.7h0M459.2 98.8h0M460.3 98.3h0M464.1 98.1h0M468.8 98.6h0M564.8 97.6h0M569.4 98.9h0M596.9 98.7h0M608.7 98.8h0M464.9 100.0h0M469.0 99.4h0M476.0 100.3h0M485.7 99.2h0M491.8 99.9h0M552.0 99.2h0M561.2 99.9h0M595.4 100.1h0M604.5 99.0h0M609.5 99.0h0M621.5 98.9h0M443.6 100.4h0M468.4 100.8h0M474.9 100.9h0M550.3 100.6h0M558.4 101.0h0M568.9 100.3h0M607.2 101.2h0M619.2 101.6h0M621.7 101.4h0M624.5 100.7h0M463.1 102.1h0M488.7 102.5h0M563.1 102.8h0M596.3 102.8h0M603.7 101.7h0M606.1 102.7h0M609.2 101.6h0M619.1 102.1h0M633.1 103.0h0M450.1 103.6h0M451.8 104.4h0M454.4 103.5h0M455.1 103.6h0M476.9 103.8h0M553.4 103.9h0M584.3 104.3h0M591.8 104.3h0M613.5 104.2h0M617.4 103.3h0M629.1 103.5h0M470.2 105.0h0M550.8 104.8h0M552.7 105.0h0M460.0 105.9h0M553.2 106.5h0M554.4 106.5h0M586.1 105.9h0M592.1 106.7h0M598.3 106.5h0M600.3 107.1h0M603.0 106.3h0M604.8 106.4h0M624.5 107.2h0M442.0 107.2h0M452.9 107.5h0M465.4 107.4h0M547.0 107.4h0M549.7 107.2h0M621.6 107.6h0M629.4 108.5h0M635.9 108.2h0M486.2 109.6h0M551.8 109.8h0M553.3 109.6h0M578.0 109.0h0M587.8 108.9h0M601.1 108.8h0M616.9 108.8h0M633.6 109.4h0M639.7 109.9h0M479.0 110.1h0M485.2 111.0h0M553.4 110.5h0M581.4 110.8h0M582.7 111.0h0M593.5 110.4h0M600.4 110.8h0M611.3 111.1h0M613.0 110.0h0M630.4 110.1h0M477.4 111.5h0M480.3 112.1h0M487.0 111.4h0M493.3 111.8h0M512.5 112.6h0M574.7 112.4h0M592.5 111.6h0M610.0 111.8h0M634.3 112.7h0M451.8 113.2h0M490.2 114.0h0M601.5 113.3h0M620.6 113.0h0M633.7 113.5h0M453.4 115.4h0M504.4 114.4h0M563.9 114.6h0M582.0 114.5h0M596.7 115.4h0M622.9 114.6h0M624.3 115.0h0M639.2 115.4h0M459.3 116.7h0M473.5 116.6h0M480.0 116.3h0M566.1 115.6h0M583.0 115.6h0M591.9 116.7h0M599.6 116.1h0M613.5 116.4h0M627.4 116.5h0M632.9 116.7h0M484.0 117.5h0M569.1 117.4h0M578.0 117.1h0M588.6 117.2h0M599.9 118.3h0M609.7 117.2h0M610.5 117.7h0M614.0 117.1h0M633.5 118.0h0M638.9 117.9h0M593.6 118.3h0M604.0 118.6h0M637.3 118.7h0M494.4 119.8h0M506.7 120.6h0M570.2 119.7h0M585.9 120.8h0M608.6 121.0h0M489.1 121.5h0M603.1 121.1h0M605.4 121.1h0M606.0 122.2h0M612.3 121.4h0M441.6 123.6h0M451.0 123.4h0M454.2 123.3h0M465.2 123.3h0M482.0 123.0h0M584.5 123.0h0M595.2 123.2h0M615.3 122.7h0M633.0 123.2h0M455.7 124.0h0M442.0 126.2h0M459.9 126.4h0M584.1 125.9h0M594.2 126.0h0M597.4 125.7h0M601.4 125.8h0M622.5 125.8h0M635.3 125.6h0M441.4 127.2h0M446.2 128.0h0M461.7 127.7h0M480.0 127.7h0M490.4 127.6h0M584.3 127.3h0M634.2 127.7h0M638.5 127.4h0M644.8 127.1h0M447.7 128.8h0M450.4 128.6h0M486.5 129.3h0M594.5 128.4h0M599.5 128.5h0M615.4 129.3h0M624.6 128.5h0M644.2 128.2h0M444.6 129.5h0M618.1 129.5h0M445.4 131.3h0M492.6 131.0h0M586.5 131.8h0M588.6 131.2h0M592.4 131.4h0M600.6 132.1h0M629.9 131.9h0M634.0 130.8h0M648.4 131.6h0M459.2 133.0h0M547.9 133.5h0M591.2 132.5h0M592.9 133.3h0M603.7 133.2h0M622.8 132.8h0M638.6 132.5h0M648.3 133.4h0M651.1 132.7h0M462.3 133.6h0M599.9 134.0h0M608.0 134.5h0M622.8 134.4h0M640.8 133.8h0M646.3 133.7h0M648.3 134.7h0M631.5 136.2h0M457.7 136.8h0M501.4 136.6h0M588.4 137.5h0M596.1 136.8h0M647.7 137.2h0M457.9 139.0h0M461.2 138.0h0M596.8 137.9h0M603.0 138.7h0M611.2 138.5h0M638.8 138.1h0M444.8 140.4h0M448.8 140.0h0M503.6 139.5h0M586.4 139.5h0M602.1 140.1h0M610.4 140.3h0M637.2 139.9h0M473.5 140.5h0M483.8 141.4h0M488.5 140.5h0M543.5 140.6h0M584.1 141.4h0M586.4 140.5h0M587.9 141.5h0M605.0 140.6h0M608.4 141.7h0M612.8 141.4h0M649.9 141.0h0M591.5 142.0h0M592.5 142.6h0M594.2 142.6h0M644.7 142.7h0M455.0 143.2h0M645.9 143.6h0M476.8 145.3h0M484.5 145.6h0M541.3 144.6h0M643.2 144.7h0M639.9 147.2h0M474.2 148.4h0M537.1 148.8h0M623.2 148.0h0M634.6 147.7h0M641.6 147.6h0M651.3 149.9h0M564.2 150.8h0M646.9 150.9h0M560.8 152.6h0M617.1 152.3h0M638.3 152.7h0M643.6 152.1h0M647.1 152.9h0M649.1 151.9h0M655.2 152.8h0M542.8 153.6h0M624.6 153.3h0M639.2 153.2h0M655.3 153.1h0M479.2 154.4h0M486.0 155.7h0M630.1 154.3h0M645.1 154.4h0M649.8 154.5h0M656.6 154.8h0M620.1 155.8h0M636.9 157.0h0M645.6 156.6h0M650.0 156.2h0M652.4 155.8h0M620.7 157.4h0M479.9 158.7h0M535.5 158.5h0M654.3 161.1h0M503.2 161.3h0M562.9 161.3h0M635.1 162.4h0M650.6 162.6h0M499.8 164.0h0M631.2 163.1h0M644.9 163.1h0M648.8 163.5h0M612.6 164.7h0M484.3 165.6h0M618.9 166.0h0M623.8 166.9h0M623.3 169.1h0M644.3 169.7h0M652.0 170.1h0M642.2 171.4h0M622.3 173.7h0M631.2 175.1h0M611.3 177.2h0M648.9 177.3h0M606.3 178.3h0M656.9 178.6h0M631.3 180.1h0M656.7 181.6h0M620.3 182.3h0M647.5 182.8h0M651.9 184.1h0M651.7 184.9h0M492.5 187.0h0M497.2 186.6h0M620.1 186.5h0M501.4 188.6h0M502.5 188.6h0M515.8 188.9h0M605.0 188.0h0M617.8 187.6h0M482.1 189.8h0M486.0 190.3h0M490.5 190.2h0M513.3 190.1h0M590.0 189.2h0M595.2 190.0h0M510.9 190.8h0M513.2 190.9h0M476.7 193.0h0M487.7 192.3h0M575.8 191.8h0M637.9 191.7h0M480.1 193.7h0M523.9 194.1h0M533.6 194.0h0M504.4 195.9h0M512.7 194.6h0M579.9 195.1h0M604.4 195.6h0M608.4 194.5h0M613.7 194.7h0M634.5 195.4h0M478.3 197.1h0M483.0 196.3h0M601.8 196.4h0M633.1 196.6h0M510.5 198.6h0M511.9 198.7h0M512.8 197.6h0M530.0 198.2h0M538.3 197.9h0M542.0 198.6h0M492.7 200.0h0M539.8 200.0h0M541.2 200.0h0M627.4 199.1h0M496.8 200.3h0M510.7 200.9h0M605.8 201.3h0M619.7 201.1h0M621.9 201.4h0M497.7 201.5h0M494.4 204.1h0M511.9 203.6h0M532.4 203.0h0M559.1 204.2h0M610.1 203.1h0M467.1 204.5h0M483.1 204.8h0M485.1 204.6h0M520.6 205.1h0M596.5 204.7h0M604.1 204.8h0M466.9 205.8h0M482.1 206.5h0M516.1 206.7h0M544.3 205.9h0M466.5 208.2h0M499.8 207.8h0M527.8 207.3h0M469.6 209.0h0M485.5 208.4h0M498.2 208.5h0M538.3 209.2h0M504.5 209.9h0M505.7 210.1h0M535.4 211.7h0M469.7 213.0h0M470.5 213.5h0M507.2 212.7h0M542.5 212.9h0M546.7 212.6h0M500.4 215.0h0M521.9 213.9h0M486.8 216.2h0M491.9 216.3h0M516.5 216.0h0M468.7 217.6h0M516.4 216.8h0M553.5 216.9h0M487.1 219.0h0M491.0 218.4h0M494.7 218.5h0M495.8 218.9h0M506.4 218.8h0M549.0 219.2h0M567.8 219.0h0M599.3 219.0h0M472.5 220.5h0M483.7 219.5h0M487.5 219.5h0M533.3 220.8h0M546.9 220.2h0M521.3 222.1h0M536.1 222.2h0M471.3 223.5h0M472.7 222.6h0M492.2 222.9h0M503.5 222.4h0M510.2 222.8h0M530.3 222.7h0M542.0 222.5h0M553.3 223.5h0M565.9 222.7h0M494.9 224.5h0M507.0 223.8h0M513.8 224.8h0M494.2 225.0h0M499.6 226.0h0M502.5 226.2h0M526.4 225.3h0M562.8 225.5h0M492.3 228.2h0M590.1 228.8h0M486.7 229.7h0M491.1 229.8h0M505.8 229.9h0M478.2 230.9h0M488.6 230.8h0M479.1 232.5h0M492.3 232.0h0M483.8 234.0h0M486.2 234.3h0M503.9 234.7h0M563.6 234.1h0M492.5 234.8h0M495.7 235.7h0M606.3 235.2h0M494.2 236.0h0M495.3 236.7h0M498.2 237.0h0M501.6 238.8h0M513.1 238.2h0M601.9 237.7h0M586.7 241.4h0M562.3 245.2h0M601.3 245.1h0M491.3 246.6h0M500.0 246.8h0M501.9 246.7h0M599.9 246.2h0M618.3 246.5h0M511.4 250.6h0M489.3 251.3h0M509.6 253.9h0M481.9 254.4h0M485.6 255.2h0M489.2 254.6h0M483.5 259.3h0M506.1 260.8h0M498.3 262.6h0M537.9 262.9h0M486.2 264.9h0M516.1 264.5h0M485.2 269.2h0M482.6 269.9h0M481.3 273.3h0M488.0 276.3h0M515.3 275.4h0M498.8 281.8h0M502.5 282.7h0M505.8 287.5h0"/><path stroke="#4AACA8" d="M447.5 48.0h0M449.3 47.8h0M450.5 49.0h0M446.9 51.5h0M450.0 51.5h0M457.2 54.5h0M443.5 55.2h0M448.0 55.4h0M438.1 56.7h0M453.8 56.0h0M450.4 57.5h0M460.5 57.8h0M462.6 57.7h0M437.7 60.2h0M435.6 62.5h0M439.4 61.5h0M454.4 62.4h0M460.7 62.1h0M461.9 62.5h0M443.9 64.3h0M445.0 63.4h0M449.6 64.1h0M462.8 63.8h0M465.2 63.4h0M438.7 64.4h0M440.7 64.8h0M455.4 65.3h0M464.0 65.0h0M465.1 67.8h0M462.0 70.9h0M476.3 69.9h0M477.6 71.0h0M475.6 71.8h0M564.3 72.5h0M568.5 72.0h0M449.6 72.9h0M450.9 73.6h0M460.1 72.5h0M468.3 72.9h0M478.1 73.9h0M433.6 74.3h0M439.0 75.3h0M462.7 75.0h0M473.1 74.3h0M475.7 75.4h0M478.9 74.7h0M559.1 74.2h0M463.7 76.7h0M431.7 77.9h0M439.0 77.6h0M443.8 76.9h0M447.0 78.6h0M450.4 79.1h0M477.4 79.1h0M568.0 78.4h0M450.5 80.4h0M461.0 80.4h0M568.1 79.7h0M573.7 79.5h0M435.1 82.3h0M467.0 81.3h0M471.1 80.9h0M478.1 81.3h0M547.8 81.7h0M435.7 83.4h0M443.5 82.6h0M464.2 83.1h0M480.8 82.3h0M559.0 83.7h0M559.7 83.3h0M565.2 82.8h0M440.8 85.0h0M466.8 85.0h0M476.1 83.7h0M485.5 83.9h0M554.1 84.1h0M558.0 84.7h0M573.9 84.3h0M448.7 86.4h0M454.7 85.9h0M552.1 85.2h0M555.5 86.4h0M447.4 87.0h0M455.8 86.6h0M468.7 87.6h0M551.1 87.0h0M571.2 86.7h0M620.2 87.0h0M441.2 88.1h0M445.6 88.8h0M469.1 88.3h0M622.2 88.3h0M452.3 89.7h0M466.7 89.4h0M479.0 90.1h0M546.5 90.2h0M550.3 89.9h0M604.2 90.2h0M606.5 90.6h0M434.8 91.4h0M444.7 92.0h0M470.4 91.7h0M484.4 90.8h0M487.8 90.8h0M556.7 91.9h0M560.5 91.0h0M619.4 90.7h0M621.5 91.4h0M453.4 92.2h0M466.6 92.7h0M483.3 92.8h0M488.7 92.6h0M554.1 92.2h0M556.0 92.5h0M613.7 93.2h0M489.2 93.5h0M552.0 93.5h0M612.4 94.2h0M441.4 95.9h0M443.8 95.2h0M446.3 95.0h0M446.7 95.8h0M450.8 95.7h0M453.3 95.7h0M483.7 96.1h0M551.7 94.7h0M563.3 95.5h0M572.8 96.1h0M605.4 96.0h0M609.4 95.8h0M612.6 95.5h0M620.4 95.2h0M438.4 97.4h0M445.5 97.4h0M451.5 96.8h0M459.0 97.0h0M564.6 96.5h0M575.5 96.7h0M437.3 97.6h0M439.9 98.0h0M446.0 98.1h0M467.0 97.9h0M572.1 98.0h0M603.7 98.5h0M447.7 100.0h0M452.7 100.2h0M465.9 99.1h0M477.9 99.3h0M548.5 100.2h0M550.1 99.8h0M493.2 100.7h0M548.9 100.6h0M571.1 101.6h0M594.4 100.8h0M616.3 100.9h0M619.7 100.5h0M445.4 102.1h0M458.0 101.9h0M459.0 102.0h0M463.6 102.9h0M466.9 102.8h0M484.4 102.1h0M546.7 102.9h0M576.9 102.9h0M612.5 102.8h0M626.8 101.8h0M443.8 104.3h0M447.9 103.5h0M449.1 103.9h0M489.7 103.4h0M492.0 103.0h0M493.4 104.4h0M578.2 103.6h0M604.6 104.0h0M612.0 103.2h0M628.3 103.2h0M444.4 105.1h0M446.8 104.8h0M454.7 105.2h0M459.5 104.6h0M483.0 105.0h0M548.1 105.6h0M611.6 104.5h0M622.4 104.9h0M631.9 105.8h0M445.1 106.7h0M463.6 106.1h0M472.4 106.3h0M474.3 106.3h0M481.5 106.6h0M590.2 106.4h0M612.4 106.0h0M618.5 106.4h0M620.9 106.1h0M633.1 106.4h0M636.1 106.9h0M637.6 107.0h0M445.9 108.0h0M477.0 108.0h0M586.1 108.0h0M603.3 107.4h0M607.7 107.3h0M638.0 107.4h0M446.5 109.1h0M463.3 109.0h0M473.3 109.0h0M478.8 109.1h0M488.5 108.6h0M586.4 109.0h0M593.1 109.6h0M595.7 108.8h0M607.2 109.3h0M629.2 109.2h0M459.2 111.2h0M621.4 110.8h0M445.8 112.2h0M447.5 112.1h0M449.0 112.6h0M471.8 112.0h0M481.9 111.7h0M489.6 111.6h0M583.8 111.4h0M584.3 112.0h0M601.3 112.5h0M607.2 111.6h0M616.5 112.2h0M627.6 112.7h0M632.4 111.9h0M637.6 112.4h0M470.3 113.4h0M550.2 112.9h0M554.0 114.1h0M566.4 113.8h0M579.1 113.0h0M584.0 113.1h0M592.1 113.3h0M611.0 113.6h0M627.9 114.1h0M490.1 114.8h0M591.5 114.4h0M597.4 115.5h0M600.1 115.3h0M602.3 115.2h0M615.7 115.5h0M617.1 114.4h0M618.3 115.3h0M641.6 114.2h0M571.3 116.0h0M625.1 116.2h0M451.8 117.6h0M490.3 117.1h0M623.6 116.9h0M625.2 117.1h0M627.2 117.9h0M587.8 119.6h0M619.0 119.5h0M629.1 118.6h0M632.7 119.2h0M451.2 120.5h0M452.3 120.6h0M483.9 119.9h0M571.8 119.8h0M597.2 120.4h0M602.9 120.1h0M603.6 119.9h0M611.8 120.3h0M615.1 120.1h0M624.9 120.5h0M589.4 122.0h0M617.9 121.7h0M640.5 121.1h0M466.7 123.2h0M472.3 123.1h0M484.8 123.3h0M488.6 122.4h0M604.1 122.5h0M608.5 123.2h0M610.4 123.8h0M623.3 122.5h0M446.5 124.6h0M454.4 123.9h0M595.9 124.8h0M627.8 124.4h0M640.5 123.9h0M644.5 125.1h0M480.0 125.3h0M610.6 125.6h0M625.1 126.6h0M646.0 126.3h0M647.6 125.2h0M586.4 127.3h0M600.1 127.2h0M603.5 126.8h0M624.7 127.7h0M628.7 126.7h0M586.2 129.0h0M600.4 129.3h0M604.3 128.0h0M635.1 128.4h0M636.0 129.2h0M638.8 128.9h0M441.6 130.3h0M449.3 130.6h0M622.1 129.6h0M455.2 132.0h0M458.4 132.0h0M599.0 131.7h0M606.3 130.9h0M452.0 133.3h0M478.6 133.1h0M598.7 132.3h0M612.7 133.0h0M620.0 132.7h0M636.6 133.4h0M445.7 133.5h0M453.7 133.9h0M455.0 133.5h0M588.7 134.2h0M589.6 134.8h0M631.4 134.6h0M450.3 136.2h0M461.3 136.0h0M585.2 135.7h0M597.6 135.9h0M607.9 135.3h0M618.1 136.1h0M619.7 135.6h0M630.2 135.0h0M652.1 136.0h0M446.9 136.9h0M452.6 137.5h0M482.6 137.1h0M592.5 137.5h0M601.1 137.6h0M618.1 136.9h0M448.3 138.0h0M472.8 138.1h0M616.6 138.0h0M625.1 138.5h0M641.7 138.4h0M643.3 137.9h0M647.9 138.1h0M458.7 139.6h0M482.1 139.5h0M542.1 140.0h0M584.6 140.0h0M612.6 139.8h0M624.3 139.6h0M635.8 140.5h0M645.2 139.4h0M654.0 140.1h0M484.8 140.5h0M589.2 141.5h0M639.5 141.1h0M446.8 142.1h0M459.0 142.5h0M459.9 142.0h0M607.0 142.4h0M617.1 142.2h0M623.1 141.9h0M648.9 143.1h0M538.4 144.5h0M645.3 144.3h0M459.1 145.3h0M479.1 145.3h0M493.8 145.1h0M585.2 145.0h0M623.4 145.0h0M631.8 145.8h0M633.2 145.9h0M640.5 145.8h0M480.5 146.6h0M488.2 146.5h0M574.3 146.4h0M590.3 146.1h0M617.7 147.1h0M647.1 146.4h0M649.5 146.9h0M478.5 147.5h0M487.0 147.5h0M633.6 148.4h0M638.0 147.6h0M476.4 149.0h0M483.2 149.6h0M615.2 148.8h0M622.0 150.0h0M624.8 149.8h0M630.4 149.4h0M475.7 150.3h0M613.3 151.2h0M539.0 151.8h0M611.5 151.6h0M656.8 152.5h0M636.0 153.5h0M611.2 155.0h0M634.4 154.4h0M635.0 154.5h0M654.8 154.6h0M632.9 156.2h0M535.2 158.5h0M574.3 158.4h0M652.8 158.2h0M480.5 159.6h0M534.0 159.1h0M538.4 159.7h0M563.2 159.0h0M564.4 159.6h0M638.3 159.8h0M567.0 160.3h0M576.3 159.8h0M605.9 160.2h0M616.0 161.2h0M624.7 159.8h0M655.9 159.9h0M537.1 162.7h0M638.5 162.6h0M647.1 162.4h0M658.1 162.1h0M586.0 163.5h0M482.3 164.7h0M637.8 164.5h0M500.5 166.2h0M583.6 166.6h0M613.6 166.7h0M654.5 166.6h0M656.1 166.0h0M659.2 165.5h0M632.8 166.8h0M652.3 166.8h0M624.4 169.3h0M642.4 168.3h0M644.6 168.8h0M650.0 169.0h0M614.3 170.4h0M660.1 170.6h0M634.5 172.2h0M636.4 171.6h0M658.7 172.1h0M641.0 173.4h0M654.4 173.5h0M621.1 174.1h0M649.2 174.1h0M628.2 175.9h0M653.2 176.3h0M657.6 175.1h0M645.7 176.6h0M623.2 179.0h0M649.6 178.4h0M652.4 178.6h0M490.1 180.2h0M638.5 180.2h0M658.4 179.8h0M589.2 182.0h0M607.5 181.7h0M636.0 181.5h0M485.6 183.6h0M653.9 184.5h0M499.0 185.7h0M579.9 185.9h0M633.1 185.9h0M638.5 185.7h0M490.3 187.3h0M494.4 187.3h0M508.5 187.5h0M513.4 187.1h0M575.0 186.8h0M635.8 186.2h0M495.2 188.1h0M505.4 188.5h0M518.7 188.5h0M640.7 188.5h0M493.7 189.9h0M506.7 189.0h0M514.0 189.9h0M536.9 189.8h0M606.3 189.0h0M626.4 189.6h0M647.4 189.3h0M477.4 191.5h0M489.2 190.8h0M491.1 190.7h0M493.0 191.4h0M494.7 191.6h0M582.9 191.1h0M583.7 190.5h0M642.7 190.9h0M483.3 192.4h0M503.4 192.9h0M515.1 192.0h0M587.7 192.5h0M504.6 193.5h0M507.7 193.4h0M509.5 193.9h0M526.3 193.8h0M574.2 193.3h0M484.1 195.6h0M510.3 195.5h0M521.6 195.8h0M533.1 195.3h0M541.6 195.8h0M475.1 196.4h0M482.2 196.5h0M514.7 196.1h0M531.2 197.3h0M538.8 197.1h0M586.0 196.1h0M588.0 196.3h0M472.9 197.4h0M499.6 198.4h0M515.3 197.3h0M535.6 198.3h0M587.5 198.4h0M618.3 197.5h0M474.9 198.7h0M503.6 199.3h0M583.5 199.5h0M587.1 199.3h0M605.6 198.7h0M614.1 200.0h0M514.9 200.1h0M602.8 200.7h0M619.2 201.0h0M490.4 202.5h0M504.7 202.6h0M510.2 201.6h0M513.9 201.7h0M527.3 201.8h0M582.7 201.7h0M616.3 202.7h0M472.5 203.8h0M476.0 203.6h0M481.0 203.4h0M538.6 203.1h0M592.0 203.4h0M596.6 203.8h0M470.1 205.5h0M481.7 204.2h0M486.2 204.5h0M505.1 205.1h0M517.6 205.4h0M518.7 205.3h0M521.7 205.1h0M539.8 204.6h0M594.8 205.0h0M601.7 205.3h0M503.4 206.5h0M515.0 205.8h0M530.6 206.8h0M607.0 205.6h0M475.9 207.0h0M489.6 207.7h0M508.3 207.9h0M512.3 207.5h0M513.5 208.1h0M531.2 208.2h0M547.1 208.3h0M554.1 207.0h0M467.8 209.2h0M506.0 208.5h0M507.8 208.9h0M530.9 209.5h0M534.3 208.6h0M618.3 208.5h0M465.2 211.1h0M469.7 209.9h0M482.4 210.6h0M501.7 210.8h0M520.2 209.9h0M522.4 210.2h0M545.1 211.1h0M623.2 210.7h0M521.1 211.2h0M542.3 211.5h0M562.8 211.8h0M489.9 212.7h0M512.0 213.1h0M515.9 213.1h0M523.6 213.0h0M538.0 213.0h0M554.5 212.7h0M558.9 213.4h0M617.9 213.1h0M474.9 214.5h0M481.0 215.0h0M510.4 214.4h0M540.5 214.9h0M558.7 215.2h0M624.0 214.6h0M470.8 215.4h0M474.7 215.6h0M498.2 216.6h0M514.8 215.9h0M524.5 216.5h0M563.7 216.2h0M572.5 216.0h0M603.6 216.3h0M493.4 217.6h0M501.5 217.4h0M511.3 217.9h0M551.8 216.9h0M474.7 219.3h0M480.6 219.0h0M522.8 219.0h0M534.5 218.2h0M546.5 218.8h0M555.0 218.2h0M494.8 219.5h0M503.6 219.5h0M504.5 220.1h0M522.5 220.2h0M549.9 219.5h0M626.1 220.8h0M488.5 220.9h0M490.3 220.9h0M499.4 220.8h0M508.0 221.5h0M508.7 221.5h0M511.7 221.6h0M515.3 221.2h0M474.9 223.1h0M475.9 223.3h0M477.7 222.6h0M485.3 222.8h0M495.8 223.5h0M496.8 222.3h0M526.1 223.1h0M579.9 223.3h0M472.4 224.9h0M477.0 224.4h0M581.2 223.9h0M590.0 224.4h0M613.6 224.2h0M534.0 225.2h0M476.9 227.7h0M539.3 227.1h0M562.1 226.7h0M475.6 228.3h0M501.7 229.1h0M503.5 228.3h0M561.5 227.8h0M499.8 230.2h0M503.0 229.4h0M483.7 231.0h0M485.6 231.9h0M495.3 231.7h0M555.2 231.1h0M576.8 230.6h0M487.9 233.2h0M500.0 232.4h0M506.2 232.3h0M487.2 234.2h0M495.5 233.7h0M618.0 233.5h0M482.1 235.4h0M489.9 235.3h0M574.4 234.7h0M503.3 237.1h0M486.5 238.7h0M487.5 237.9h0M499.1 238.6h0M502.4 241.3h0M503.5 242.0h0M577.9 242.5h0M490.2 243.2h0M512.0 244.0h0M604.4 246.5h0M491.8 249.9h0M505.3 249.5h0M503.3 250.4h0M515.1 251.9h0M477.5 255.0h0M482.9 255.3h0M481.2 256.6h0M496.3 255.6h0M494.9 257.5h0M497.2 257.6h0M515.0 257.4h0M495.0 258.7h0M498.3 258.6h0M493.6 260.8h0M482.1 262.3h0M493.3 262.0h0M495.1 262.1h0M509.6 261.4h0M500.5 264.1h0M477.7 267.9h0M481.5 269.0h0M509.5 270.2h0M513.2 272.8h0M521.1 277.3h0M523.7 279.3h0M504.2 282.4h0M520.9 281.9h0"/><path stroke="#66BDA3" d="M440.8 51.9h0M446.3 52.2h0M443.9 53.4h0M449.7 54.0h0M450.9 55.7h0M444.3 56.7h0M436.5 58.4h0M440.4 58.5h0M444.8 57.5h0M453.6 57.9h0M443.1 58.7h0M448.5 59.5h0M453.4 59.0h0M460.5 59.2h0M461.2 59.1h0M442.9 60.5h0M445.4 62.8h0M450.4 62.4h0M465.4 61.9h0M439.6 63.4h0M450.6 65.6h0M453.9 65.5h0M456.4 65.1h0M437.3 67.0h0M460.7 66.8h0M467.7 66.9h0M469.6 66.7h0M450.4 67.7h0M463.4 67.5h0M470.3 68.2h0M450.0 69.5h0M473.8 68.8h0M442.9 70.9h0M444.0 70.8h0M450.7 71.5h0M469.5 71.8h0M570.9 71.2h0M442.6 72.8h0M461.8 72.6h0M465.5 72.5h0M475.3 73.0h0M557.5 73.4h0M567.4 73.1h0M458.0 75.1h0M472.6 75.2h0M552.0 74.9h0M448.9 76.0h0M453.1 76.2h0M457.3 75.3h0M474.6 75.6h0M563.7 76.0h0M434.7 77.2h0M441.7 77.6h0M460.9 77.1h0M468.0 76.8h0M476.9 77.8h0M480.9 77.3h0M448.4 78.6h0M473.1 78.5h0M481.7 78.6h0M442.1 79.6h0M445.4 80.6h0M448.9 80.7h0M451.7 79.6h0M454.2 80.1h0M462.6 80.1h0M555.4 79.9h0M444.7 82.1h0M432.1 83.1h0M440.4 82.6h0M442.0 82.5h0M449.4 83.7h0M472.3 83.0h0M554.0 83.6h0M554.7 83.6h0M567.1 82.8h0M454.0 85.1h0M477.4 83.7h0M563.6 83.8h0M436.1 86.3h0M442.8 86.2h0M476.8 85.1h0M547.8 85.6h0M445.6 87.7h0M486.3 87.6h0M487.5 87.4h0M560.1 86.8h0M438.1 88.1h0M483.8 88.4h0M555.3 88.6h0M616.2 88.1h0M445.1 90.4h0M457.2 90.3h0M459.5 90.4h0M446.1 91.1h0M449.4 91.8h0M451.4 91.6h0M455.0 90.9h0M459.3 90.9h0M467.1 91.4h0M546.8 90.7h0M573.1 90.6h0M576.4 91.2h0M448.7 92.4h0M464.3 92.3h0M475.9 93.3h0M552.4 92.2h0M605.2 92.4h0M626.2 92.8h0M438.9 94.6h0M443.0 94.3h0M469.6 93.9h0M570.9 93.8h0M432.3 95.5h0M438.8 96.0h0M457.2 96.1h0M459.5 94.7h0M472.4 95.8h0M489.0 95.1h0M616.9 95.5h0M624.5 95.6h0M475.2 96.4h0M546.4 97.2h0M566.6 97.5h0M571.6 97.2h0M572.8 96.3h0M452.8 98.4h0M465.7 97.6h0M472.8 98.4h0M489.0 98.2h0M490.0 98.1h0M439.1 100.2h0M444.6 99.2h0M445.9 99.3h0M457.1 99.6h0M557.4 99.5h0M622.2 100.1h0M630.5 99.5h0M439.0 101.5h0M442.1 100.3h0M445.3 100.3h0M458.0 100.4h0M473.7 100.4h0M484.1 101.0h0M547.3 101.6h0M606.4 101.5h0M627.2 100.5h0M628.1 100.8h0M474.0 101.9h0M474.8 102.7h0M550.6 102.1h0M604.8 103.0h0M628.5 102.7h0M460.0 103.4h0M479.8 103.6h0M571.9 103.6h0M576.3 103.9h0M601.3 104.2h0M450.8 104.6h0M462.8 105.6h0M466.7 105.3h0M554.1 104.5h0M576.8 104.5h0M585.7 104.8h0M600.9 104.4h0M613.2 105.5h0M614.2 105.8h0M620.4 104.4h0M624.9 105.7h0M633.8 105.1h0M453.1 106.9h0M631.2 106.5h0M449.4 107.7h0M473.3 108.0h0M483.0 107.2h0M488.4 108.0h0M577.3 107.7h0M625.2 108.5h0M630.2 107.6h0M631.5 108.1h0M636.3 108.1h0M441.9 109.5h0M491.5 109.4h0M495.6 109.3h0M548.6 109.8h0M580.9 109.9h0M624.3 109.1h0M627.9 109.1h0M437.7 110.0h0M446.5 110.3h0M450.7 110.3h0M488.8 110.6h0M490.3 110.2h0M494.0 111.0h0M552.8 110.7h0M603.6 110.7h0M625.6 111.1h0M450.5 112.2h0M573.6 112.2h0M613.3 112.6h0M495.6 113.6h0M570.7 114.0h0M573.1 113.9h0M585.6 113.9h0M590.2 113.9h0M630.4 113.7h0M637.9 113.3h0M465.6 115.0h0M496.0 114.9h0M557.2 115.2h0M568.4 115.1h0M592.7 114.5h0M621.7 115.5h0M626.4 114.8h0M630.4 114.5h0M452.7 116.0h0M562.4 115.6h0M565.4 116.1h0M572.7 115.5h0M602.2 116.1h0M618.2 116.4h0M620.4 116.2h0M639.6 116.5h0M496.1 117.9h0M597.9 118.1h0M601.4 117.8h0M614.8 117.3h0M622.4 117.4h0M629.7 117.3h0M634.7 117.2h0M444.5 118.8h0M484.8 118.5h0M496.6 118.6h0M592.5 119.6h0M595.0 119.7h0M600.7 119.0h0M620.4 118.5h0M631.2 118.4h0M595.0 120.4h0M620.0 119.7h0M638.1 119.8h0M455.1 121.2h0M488.6 121.9h0M590.5 121.7h0M598.6 121.3h0M630.5 121.1h0M634.0 121.8h0M634.6 123.5h0M638.7 123.4h0M598.1 124.8h0M603.4 124.9h0M605.3 124.6h0M606.1 123.9h0M608.0 124.1h0M624.1 125.0h0M632.7 123.9h0M646.0 124.3h0M462.1 126.0h0M590.2 126.3h0M603.2 126.0h0M609.3 125.4h0M628.8 125.8h0M636.4 126.1h0M644.8 125.4h0M447.6 127.6h0M476.7 127.7h0M590.8 126.7h0M607.0 127.3h0M619.2 127.8h0M621.0 127.2h0M444.1 128.0h0M597.1 128.4h0M637.4 128.4h0M642.4 128.3h0M593.9 130.1h0M595.2 130.4h0M603.3 129.5h0M620.5 130.3h0M442.0 131.7h0M444.3 130.8h0M448.8 131.8h0M450.2 131.9h0M590.9 131.7h0M620.7 131.0h0M644.3 130.7h0M600.6 133.2h0M629.4 132.8h0M630.2 133.0h0M633.8 133.2h0M639.5 133.5h0M641.7 132.7h0M643.4 133.0h0M456.5 134.4h0M477.8 134.3h0M498.7 134.4h0M594.4 133.7h0M621.7 134.4h0M625.4 134.1h0M629.3 133.7h0M633.7 133.8h0M600.3 135.2h0M601.7 136.1h0M604.0 135.7h0M629.5 135.9h0M634.7 135.7h0M636.7 136.0h0M648.3 136.3h0M458.1 136.6h0M590.2 136.5h0M605.8 136.3h0M608.7 137.5h0M611.3 136.4h0M620.4 136.9h0M625.0 137.0h0M651.9 137.7h0M446.5 138.0h0M594.1 138.1h0M614.7 139.0h0M619.4 137.7h0M620.4 138.3h0M629.4 138.9h0M455.2 139.8h0M619.3 140.3h0M621.3 139.7h0M640.1 139.9h0M595.0 141.0h0M600.4 141.5h0M601.4 140.9h0M607.3 141.7h0M620.9 141.6h0M625.3 140.8h0M628.6 141.3h0M637.3 141.7h0M641.1 141.8h0M476.3 141.9h0M478.0 142.8h0M596.5 142.7h0M633.1 142.8h0M636.6 142.9h0M486.2 144.3h0M591.3 143.5h0M618.2 145.8h0M624.6 145.1h0M648.7 145.8h0M651.7 144.6h0M476.0 147.3h0M484.1 146.7h0M615.5 147.1h0M625.4 147.2h0M645.0 146.8h0M648.9 146.5h0M478.8 148.7h0M539.2 148.6h0M652.3 148.2h0M655.9 147.8h0M572.7 149.8h0M586.0 149.2h0M598.0 149.7h0M611.1 149.8h0M634.0 148.9h0M649.6 149.5h0M477.7 150.2h0M535.8 150.4h0M548.0 150.8h0M565.6 150.6h0M616.8 150.2h0M620.8 150.3h0M624.8 151.5h0M628.3 151.5h0M644.4 150.2h0M572.0 152.8h0M629.7 152.1h0M640.4 152.1h0M483.7 153.9h0M485.6 153.7h0M546.2 153.1h0M618.3 153.1h0M643.0 153.9h0M656.4 153.2h0M480.7 155.4h0M539.6 154.4h0M564.1 154.5h0M621.6 155.4h0M626.3 155.5h0M632.8 154.5h0M658.5 154.6h0M480.1 156.6h0M540.1 155.8h0M644.8 156.9h0M628.7 157.7h0M637.3 158.0h0M640.6 158.3h0M659.6 157.7h0M609.2 158.5h0M635.6 159.8h0M639.5 159.2h0M647.1 159.5h0M648.5 159.5h0M480.2 161.1h0M562.2 161.0h0M611.4 160.3h0M630.2 160.8h0M637.5 160.5h0M642.9 161.0h0M485.6 161.8h0M577.3 162.1h0M589.9 162.0h0M630.3 162.0h0M655.6 161.9h0M557.6 163.7h0M611.7 162.9h0M612.8 163.7h0M626.1 162.6h0M635.3 163.1h0M640.2 163.5h0M643.3 163.7h0M503.5 164.2h0M575.4 164.9h0M623.4 164.2h0M630.1 165.0h0M652.8 165.2h0M486.5 165.7h0M581.0 166.4h0M616.5 166.7h0M621.9 166.8h0M630.0 166.1h0M643.7 165.8h0M647.9 166.4h0M658.5 166.5h0M633.9 167.5h0M644.0 167.3h0M650.5 167.1h0M654.0 168.1h0M655.2 167.3h0M660.7 167.2h0M632.2 169.2h0M646.5 168.1h0M655.0 168.9h0M583.9 170.0h0M615.5 169.6h0M631.6 170.1h0M640.8 170.0h0M573.4 171.9h0M611.5 172.3h0M628.0 171.3h0M650.7 171.0h0M630.2 173.6h0M633.9 172.4h0M534.1 175.7h0M583.0 175.4h0M611.1 175.2h0M614.9 176.1h0M638.8 175.8h0M631.1 177.5h0M612.5 179.0h0M627.7 177.9h0M631.5 178.8h0M635.7 178.4h0M658.4 178.0h0M659.7 178.0h0M570.1 179.5h0M609.7 179.4h0M617.5 180.0h0M626.1 179.6h0M631.6 179.6h0M645.9 179.5h0M573.9 181.9h0M626.7 181.0h0M628.7 181.2h0M631.6 180.9h0M635.2 181.9h0M479.1 182.8h0M605.1 183.0h0M609.6 182.1h0M626.3 182.5h0M644.1 183.0h0M649.7 182.1h0M583.5 183.5h0M627.7 184.4h0M632.9 184.4h0M508.7 185.7h0M576.1 185.0h0M618.3 186.2h0M641.3 185.6h0M645.6 186.1h0M647.6 184.9h0M502.5 186.6h0M504.8 187.4h0M510.5 186.4h0M484.4 188.7h0M496.7 188.6h0M498.2 188.7h0M512.7 187.9h0M614.1 187.8h0M635.9 188.2h0M649.4 188.2h0M479.5 190.2h0M480.9 190.3h0M483.7 189.5h0M487.3 189.8h0M505.5 189.8h0M515.5 189.0h0M609.3 189.5h0M615.8 190.2h0M642.3 189.7h0M487.2 191.7h0M499.6 190.9h0M509.6 191.1h0M512.7 191.4h0M518.9 191.2h0M581.4 191.0h0M591.2 190.5h0M630.5 190.9h0M480.0 192.3h0M484.6 192.6h0M488.9 192.2h0M500.4 193.0h0M510.0 192.1h0M519.8 191.9h0M523.2 192.4h0M524.0 192.1h0M526.0 193.0h0M606.1 192.5h0M613.3 193.1h0M615.1 191.8h0M618.4 192.3h0M626.6 192.2h0M487.9 193.1h0M496.8 194.5h0M517.3 194.4h0M577.1 194.2h0M597.5 193.9h0M475.1 194.7h0M476.0 195.0h0M477.8 195.1h0M516.5 195.7h0M522.3 195.3h0M524.5 194.8h0M537.0 195.0h0M591.6 194.5h0M612.5 195.2h0M630.0 194.9h0M619.6 196.0h0M624.7 196.0h0M474.1 198.6h0M481.4 197.4h0M484.5 197.4h0M487.1 197.4h0M489.5 198.6h0M496.0 198.4h0M529.2 197.8h0M536.5 197.4h0M599.6 198.4h0M478.1 198.7h0M480.9 199.1h0M487.7 199.2h0M490.8 199.9h0M500.0 199.8h0M512.5 200.0h0M514.4 200.0h0M533.2 200.0h0M534.5 199.9h0M550.1 198.8h0M579.4 199.0h0M589.4 198.8h0M611.7 199.9h0M486.3 200.5h0M490.1 200.4h0M491.8 200.2h0M493.2 200.4h0M503.7 201.2h0M506.8 200.2h0M516.3 201.1h0M522.0 201.1h0M527.7 200.1h0M544.4 201.3h0M588.0 200.0h0M597.6 200.7h0M473.4 201.5h0M514.9 202.2h0M534.8 201.4h0M544.3 202.6h0M548.4 202.5h0M489.9 203.6h0M505.5 204.1h0M536.6 203.6h0M553.1 204.0h0M622.7 203.9h0M471.5 205.6h0M473.4 205.3h0M502.8 204.5h0M515.9 205.3h0M529.8 205.4h0M551.6 205.4h0M471.7 206.1h0M472.4 206.4h0M475.8 206.5h0M477.1 206.6h0M486.5 206.7h0M492.4 206.8h0M493.9 205.6h0M513.1 205.7h0M532.5 206.4h0M539.5 205.8h0M544.1 206.3h0M586.4 206.2h0M615.2 206.3h0M474.4 208.1h0M480.9 207.7h0M485.4 207.8h0M498.3 207.2h0M502.3 208.0h0M520.0 207.1h0M534.4 207.2h0M588.1 208.1h0M589.3 207.9h0M608.9 207.4h0M470.9 208.8h0M500.0 208.4h0M510.3 209.4h0M511.4 208.8h0M512.7 208.4h0M518.4 209.3h0M519.5 208.9h0M534.9 209.6h0M548.7 208.7h0M467.7 210.7h0M488.0 210.0h0M491.9 209.8h0M507.6 209.9h0M513.9 210.0h0M528.2 211.1h0M537.1 210.1h0M548.5 210.0h0M559.9 210.8h0M604.6 210.3h0M612.7 210.9h0M468.2 211.9h0M470.0 212.2h0M470.9 211.8h0M489.5 212.1h0M492.8 212.2h0M523.1 211.2h0M548.3 212.2h0M553.1 212.1h0M473.2 213.3h0M497.1 212.9h0M508.4 212.7h0M519.6 213.5h0M534.6 213.6h0M539.1 212.7h0M557.6 212.8h0M603.8 212.6h0M466.6 215.1h0M477.6 214.3h0M483.5 214.3h0M494.9 215.0h0M496.5 214.8h0M508.9 215.0h0M524.0 215.3h0M535.0 214.9h0M592.3 214.0h0M477.0 215.6h0M483.4 215.7h0M522.2 216.0h0M542.2 216.7h0M550.3 215.8h0M476.8 218.0h0M480.9 217.0h0M508.9 217.2h0M519.8 218.0h0M528.6 217.3h0M554.3 217.9h0M574.0 217.9h0M626.8 217.0h0M468.7 218.8h0M490.3 218.7h0M493.3 218.2h0M502.3 218.5h0M509.5 219.1h0M511.6 219.0h0M533.1 219.0h0M560.0 218.2h0M613.3 218.5h0M478.4 220.0h0M480.9 220.8h0M485.6 220.0h0M492.3 219.7h0M493.9 219.7h0M498.4 220.2h0M507.2 220.1h0M516.3 220.1h0M551.8 220.8h0M553.1 219.9h0M559.6 220.2h0M479.2 222.2h0M484.6 222.0h0M498.0 221.7h0M518.8 221.7h0M525.6 222.1h0M527.1 221.3h0M528.9 221.9h0M532.9 221.9h0M547.1 221.2h0M563.9 221.7h0M568.6 221.4h0M578.3 221.1h0M481.6 222.5h0M487.2 223.0h0M520.5 223.5h0M527.2 222.3h0M535.7 223.0h0M542.8 222.4h0M554.5 223.0h0M576.8 223.3h0M478.7 224.8h0M487.1 223.9h0M490.8 223.9h0M492.6 224.7h0M516.0 223.7h0M557.0 224.2h0M561.2 223.6h0M473.3 225.6h0M477.8 226.0h0M480.3 225.8h0M485.4 226.3h0M507.9 225.3h0M510.7 225.7h0M564.0 226.3h0M576.0 225.9h0M588.4 225.0h0M607.0 225.1h0M480.6 226.3h0M482.0 226.8h0M473.9 228.3h0M495.7 229.0h0M500.3 228.8h0M577.5 227.9h0M594.3 229.0h0M595.7 228.5h0M493.2 229.3h0M503.8 229.9h0M572.9 230.5h0M479.2 230.6h0M487.9 231.5h0M498.5 230.6h0M501.6 231.4h0M589.6 231.7h0M605.4 230.8h0M481.7 232.1h0M483.7 232.9h0M501.6 232.5h0M502.6 233.0h0M504.1 232.9h0M558.0 232.8h0M626.9 232.3h0M481.0 234.4h0M576.5 234.7h0M581.8 233.6h0M588.9 233.9h0M606.2 234.1h0M491.7 235.9h0M556.7 234.7h0M561.2 235.2h0M564.3 234.7h0M586.2 234.8h0M630.3 235.0h0M562.7 236.6h0M590.1 237.2h0M592.0 237.1h0M625.2 236.3h0M626.2 237.1h0M632.0 236.5h0M512.1 238.7h0M551.2 237.9h0M571.3 237.5h0M573.4 238.6h0M500.2 240.0h0M501.5 239.3h0M544.8 239.0h0M563.2 240.0h0M565.2 239.0h0M573.2 240.2h0M611.0 240.2h0M490.5 240.5h0M491.7 240.3h0M578.2 240.3h0M601.4 240.9h0M611.2 240.9h0M490.0 243.0h0M496.0 241.6h0M496.7 242.3h0M546.3 242.2h0M560.4 242.1h0M625.9 241.7h0M494.8 243.4h0M492.2 244.5h0M580.8 244.4h0M593.5 244.9h0M597.9 244.8h0M506.8 245.9h0M590.0 245.9h0M613.3 245.9h0M488.1 247.5h0M505.6 247.8h0M549.9 249.9h0M491.5 251.0h0M495.7 250.5h0M487.7 252.5h0M505.1 253.0h0M503.1 254.4h0M511.0 255.2h0M478.4 256.2h0M512.5 256.3h0M477.2 257.8h0M483.1 256.9h0M530.2 259.2h0M485.0 259.8h0M501.3 260.1h0M525.5 260.6h0M486.5 263.2h0M489.8 262.6h0M507.3 262.8h0M496.3 264.0h0M483.1 266.4h0M514.2 267.9h0M483.4 269.2h0M524.0 267.9h0M483.3 271.6h0M512.7 271.3h0M482.6 272.2h0M479.6 276.0h0M500.4 277.4h0M503.7 279.5h0"/><path stroke="#82CC9E" d="M442.8 50.0h0M452.3 50.7h0M453.1 51.2h0M452.1 54.3h0M445.1 56.2h0M447.7 56.5h0M458.3 56.2h0M462.1 57.3h0M450.7 59.0h0M442.4 60.5h0M458.9 60.4h0M441.4 62.4h0M458.1 61.7h0M463.0 61.8h0M460.6 64.2h0M435.8 64.3h0M452.2 65.4h0M447.6 68.4h0M452.4 68.2h0M460.6 67.2h0M442.4 68.7h0M468.4 69.0h0M441.4 71.1h0M441.8 71.9h0M441.7 72.8h0M559.3 73.2h0M444.4 74.2h0M454.7 74.9h0M439.0 75.6h0M443.2 76.2h0M446.3 76.1h0M471.1 75.6h0M437.1 76.8h0M449.9 77.9h0M472.6 77.8h0M563.3 77.7h0M439.8 78.5h0M443.5 78.7h0M456.0 79.5h0M457.7 79.1h0M463.3 78.2h0M559.5 78.7h0M560.8 78.4h0M440.8 80.4h0M430.5 83.6h0M436.8 83.2h0M444.5 83.6h0M448.3 83.4h0M469.3 83.6h0M482.9 83.4h0M433.6 84.6h0M438.3 84.7h0M467.8 83.7h0M461.4 85.7h0M546.4 85.1h0M444.2 87.6h0M431.8 89.2h0M480.9 88.2h0M545.4 88.0h0M552.3 89.1h0M557.2 88.7h0M572.8 88.3h0M607.0 88.5h0M475.7 90.9h0M549.2 90.9h0M450.7 93.3h0M451.5 94.6h0M458.9 93.5h0M462.6 94.2h0M480.5 93.6h0M574.4 93.8h0M559.3 95.4h0M622.8 95.6h0M436.8 97.3h0M440.8 96.5h0M483.8 97.0h0M484.8 97.3h0M605.5 96.7h0M440.7 98.8h0M442.8 97.6h0M443.7 98.1h0M456.7 98.3h0M547.1 97.8h0M551.5 98.5h0M575.6 98.1h0M612.8 98.1h0M613.9 98.8h0M624.7 98.9h0M628.9 98.2h0M454.8 99.1h0M455.7 99.5h0M575.5 99.6h0M599.9 99.7h0M459.8 101.2h0M462.3 100.3h0M604.5 100.4h0M432.7 102.3h0M442.3 101.7h0M469.5 102.7h0M552.5 101.8h0M566.6 102.2h0M574.1 102.3h0M483.8 103.1h0M491.1 103.6h0M624.1 103.3h0M624.6 103.2h0M443.4 105.2h0M448.7 105.4h0M479.9 105.6h0M574.4 104.7h0M447.4 106.8h0M467.2 106.6h0M471.8 106.3h0M490.3 106.9h0M576.5 106.3h0M613.7 106.3h0M440.7 107.8h0M458.8 107.2h0M551.1 108.0h0M564.8 107.5h0M614.8 108.2h0M617.9 108.2h0M444.8 109.5h0M591.4 109.4h0M603.6 109.9h0M614.0 109.7h0M618.3 108.9h0M634.5 109.1h0M457.6 111.4h0M549.4 110.3h0M608.9 110.1h0M616.2 110.2h0M619.1 110.5h0M495.9 111.4h0M586.0 112.7h0M597.8 112.2h0M612.6 111.9h0M629.5 112.0h0M636.8 111.5h0M483.0 113.7h0M484.6 114.1h0M492.1 113.8h0M558.5 113.0h0M559.8 113.9h0M574.6 113.2h0M610.4 113.9h0M614.9 113.0h0M624.9 112.8h0M632.4 114.1h0M445.4 115.1h0M502.2 115.0h0M561.9 115.3h0M614.4 115.4h0M620.3 115.1h0M634.1 114.6h0M479.0 115.5h0M560.8 116.7h0M575.7 116.6h0M577.2 116.5h0M593.6 115.7h0M599.0 116.1h0M603.5 116.1h0M607.8 116.6h0M614.9 115.6h0M620.1 116.0h0M440.5 117.5h0M570.1 117.6h0M574.0 117.1h0M628.8 118.3h0M614.7 118.8h0M633.6 120.8h0M443.3 121.1h0M448.2 121.1h0M462.2 122.3h0M485.7 121.1h0M584.7 121.4h0M594.0 121.9h0M596.9 121.6h0M620.0 122.1h0M622.8 121.9h0M623.8 122.0h0M641.2 122.2h0M601.0 123.8h0M616.9 123.8h0M487.9 124.1h0M593.3 123.9h0M615.9 124.4h0M643.1 124.5h0M450.5 125.7h0M587.8 125.2h0M606.0 126.3h0M616.0 126.1h0M626.9 126.4h0M632.5 125.9h0M637.2 125.3h0M639.8 125.4h0M641.4 126.3h0M605.1 127.8h0M614.1 126.6h0M616.5 127.6h0M617.5 127.1h0M626.8 126.8h0M632.1 127.4h0M640.4 126.8h0M648.3 127.4h0M622.2 129.2h0M646.3 128.5h0M648.5 129.0h0M585.8 130.4h0M596.7 130.2h0M605.2 129.5h0M610.3 129.4h0M619.9 130.0h0M649.8 130.0h0M462.1 131.1h0M618.1 131.8h0M621.9 131.7h0M449.5 133.5h0M601.3 133.2h0M645.3 133.0h0M462.7 134.7h0M500.3 134.6h0M613.3 134.7h0M619.5 134.6h0M626.7 134.4h0M628.6 133.7h0M609.3 135.0h0M616.2 135.9h0M622.7 135.8h0M641.6 135.9h0M444.6 136.9h0M594.4 137.4h0M613.2 136.8h0M615.1 136.6h0M629.9 137.0h0M638.2 137.0h0M545.4 138.7h0M597.9 138.8h0M602.4 139.0h0M608.1 139.0h0M610.0 137.7h0M624.0 139.1h0M631.7 138.0h0M653.2 138.8h0M448.0 139.6h0M485.6 139.4h0M540.9 140.5h0M600.0 140.1h0M616.5 140.3h0M627.3 139.5h0M630.3 139.2h0M649.4 140.4h0M446.4 141.2h0M475.9 140.5h0M612.0 141.2h0M632.2 140.9h0M633.7 141.4h0M648.5 141.4h0M655.3 141.5h0M486.9 142.0h0M628.3 143.1h0M631.8 142.8h0M634.7 142.7h0M637.3 142.2h0M646.2 142.5h0M452.0 143.8h0M478.9 143.4h0M487.9 144.0h0M599.9 143.8h0M624.8 144.0h0M627.7 143.7h0M649.7 143.9h0M454.0 145.0h0M474.0 145.3h0M610.0 145.5h0M636.9 145.0h0M638.4 145.7h0M654.3 145.3h0M656.0 145.6h0M656.5 145.5h0M539.7 146.1h0M585.5 147.0h0M619.6 146.2h0M641.8 146.6h0M499.2 147.6h0M567.9 147.8h0M578.6 148.6h0M620.7 148.5h0M621.7 147.4h0M629.9 148.0h0M647.9 147.9h0M650.2 148.0h0M653.3 147.7h0M486.3 149.3h0M543.0 148.8h0M545.2 149.0h0M569.9 149.6h0M619.9 149.5h0M637.5 149.8h0M657.6 150.0h0M483.2 150.4h0M536.5 150.8h0M540.6 150.3h0M552.8 151.5h0M588.5 150.8h0M590.3 150.6h0M485.4 151.7h0M488.2 151.6h0M546.0 152.2h0M552.1 151.6h0M612.3 152.4h0M614.2 152.1h0M633.8 152.9h0M637.2 152.8h0M642.0 152.3h0M538.9 153.8h0M570.5 154.1h0M614.8 153.6h0M653.5 153.5h0M540.9 154.9h0M613.4 155.4h0M627.4 155.1h0M612.1 155.9h0M628.0 155.8h0M615.5 157.4h0M624.2 157.8h0M638.8 157.2h0M654.1 158.2h0M658.4 157.5h0M644.7 158.8h0M660.3 158.6h0M537.2 160.7h0M540.0 160.6h0M558.7 160.4h0M564.4 161.1h0M567.8 160.8h0M621.2 160.9h0M622.6 160.3h0M540.7 161.5h0M570.4 162.0h0M625.5 161.4h0M632.1 161.5h0M660.6 162.4h0M481.2 163.9h0M533.6 164.0h0M536.0 164.3h0M621.6 165.3h0M628.3 164.9h0M642.9 164.2h0M656.9 165.1h0M659.1 164.7h0M659.8 164.9h0M533.9 165.7h0M618.1 166.2h0M624.6 165.4h0M628.7 166.6h0M640.6 166.7h0M651.7 165.8h0M653.5 166.6h0M535.8 167.0h0M613.9 167.8h0M484.1 168.6h0M651.5 169.1h0M653.4 169.5h0M620.3 169.7h0M627.6 170.5h0M639.1 170.0h0M646.1 170.8h0M661.5 170.3h0M614.3 171.9h0M624.8 171.1h0M646.3 172.0h0M647.8 172.1h0M649.3 171.1h0M613.6 172.7h0M632.0 172.8h0M584.2 174.9h0M622.5 174.1h0M653.7 174.0h0M581.5 176.0h0M591.1 176.4h0M625.5 176.2h0M629.5 176.0h0M655.6 175.4h0M534.1 177.9h0M617.6 177.7h0M631.6 177.4h0M635.8 177.1h0M636.8 176.5h0M646.1 177.6h0M535.3 178.7h0M640.7 178.6h0M654.2 178.7h0M488.5 179.9h0M611.1 179.8h0M624.9 180.4h0M644.1 180.1h0M648.2 180.5h0M614.8 181.8h0M646.9 181.6h0M655.4 181.7h0M490.0 182.8h0M625.0 184.5h0M634.1 183.5h0M638.8 184.0h0M641.4 184.6h0M571.1 185.9h0M578.2 185.6h0M624.6 185.2h0M626.8 184.9h0M643.6 185.8h0M646.4 185.8h0M498.1 186.2h0M582.9 187.0h0M607.5 186.8h0M649.9 186.5h0M488.7 188.0h0M582.8 188.7h0M611.9 187.7h0M621.3 187.8h0M627.6 188.0h0M638.5 188.9h0M648.0 188.5h0M491.6 189.6h0M535.3 189.6h0M571.9 189.2h0M591.4 189.2h0M610.5 190.3h0M612.1 190.3h0M627.6 190.1h0M478.2 190.9h0M483.2 191.2h0M488.6 190.3h0M515.4 190.3h0M520.5 191.4h0M539.8 191.6h0M634.3 191.3h0M494.8 191.7h0M496.6 192.9h0M498.9 192.9h0M540.3 192.0h0M573.7 192.0h0M580.9 192.8h0M603.0 193.1h0M477.9 193.2h0M484.7 194.0h0M497.8 193.7h0M500.5 193.4h0M505.1 193.2h0M512.0 194.3h0M514.3 193.3h0M515.1 194.2h0M539.5 193.7h0M584.1 193.8h0M601.4 193.9h0M604.6 193.5h0M611.2 193.5h0M499.1 195.8h0M502.0 195.0h0M510.9 195.3h0M526.3 195.7h0M531.9 195.2h0M577.9 194.6h0M581.4 194.6h0M593.4 194.7h0M627.7 195.5h0M471.9 196.2h0M489.4 196.3h0M495.3 196.3h0M495.8 195.9h0M507.1 196.6h0M517.1 196.7h0M526.2 196.2h0M534.0 197.3h0M596.5 196.5h0M609.3 196.5h0M617.9 196.8h0M635.1 196.0h0M471.5 197.8h0M497.6 197.7h0M520.9 197.9h0M522.2 197.7h0M608.7 197.8h0M615.8 198.6h0M630.3 197.3h0M474.4 198.9h0M496.8 199.6h0M507.9 199.4h0M522.8 199.9h0M535.5 199.1h0M616.2 199.0h0M469.4 201.2h0M483.9 200.9h0M509.4 201.0h0M513.0 200.4h0M517.8 201.3h0M518.7 200.6h0M530.1 200.4h0M539.9 200.3h0M541.5 200.0h0M587.0 201.0h0M589.7 200.8h0M485.6 201.8h0M495.7 202.3h0M500.8 202.1h0M522.3 202.6h0M525.4 201.7h0M531.3 202.4h0M540.6 202.5h0M542.7 201.5h0M551.2 201.8h0M592.4 202.2h0M593.8 202.4h0M603.9 202.0h0M608.6 201.5h0M620.4 201.8h0M624.4 201.9h0M469.1 204.1h0M492.3 203.2h0M500.1 204.2h0M521.6 203.6h0M522.1 202.9h0M533.9 202.8h0M542.1 203.4h0M594.5 203.0h0M600.4 203.7h0M491.1 204.5h0M506.7 204.8h0M537.2 204.4h0M584.4 204.4h0M593.4 204.2h0M610.7 204.2h0M616.5 204.4h0M475.2 205.9h0M490.2 206.2h0M501.8 205.6h0M504.5 205.9h0M521.5 206.4h0M527.9 205.7h0M469.3 207.3h0M472.5 207.0h0M490.9 207.4h0M505.6 207.6h0M515.2 207.2h0M518.3 208.1h0M521.3 207.5h0M585.9 207.7h0M598.6 207.6h0M613.1 207.8h0M467.0 209.4h0M478.9 209.5h0M495.9 209.5h0M520.4 209.5h0M524.0 208.9h0M549.2 209.5h0M563.7 208.5h0M584.9 208.6h0M591.0 208.4h0M604.6 208.8h0M609.1 209.2h0M620.6 209.5h0M470.9 210.0h0M485.3 210.9h0M508.8 210.4h0M538.7 210.6h0M583.6 211.0h0M594.5 210.9h0M609.5 209.8h0M477.4 211.4h0M480.0 211.8h0M483.6 212.1h0M491.1 211.8h0M533.3 212.0h0M564.7 212.0h0M573.2 211.2h0M596.2 212.1h0M485.4 212.7h0M487.3 212.8h0M493.3 213.9h0M501.6 212.8h0M521.3 212.8h0M506.4 214.4h0M516.0 214.8h0M519.4 214.4h0M525.5 215.2h0M527.4 214.1h0M530.4 214.4h0M536.5 214.5h0M548.4 214.9h0M554.4 214.8h0M572.5 214.7h0M472.0 215.3h0M495.5 216.1h0M501.9 216.4h0M508.0 216.6h0M522.9 215.3h0M526.3 216.1h0M530.7 216.4h0M541.2 215.4h0M470.5 217.1h0M482.9 217.6h0M488.9 216.6h0M497.1 217.6h0M517.4 217.5h0M594.8 217.0h0M470.2 219.4h0M476.3 218.5h0M478.6 219.2h0M518.3 218.4h0M528.1 219.3h0M537.6 218.9h0M546.8 218.4h0M474.0 219.6h0M475.8 220.6h0M479.4 219.4h0M511.2 220.5h0M513.6 219.7h0M515.2 220.6h0M541.4 220.2h0M578.1 220.1h0M579.6 219.4h0M472.1 221.6h0M473.8 221.1h0M514.2 221.8h0M517.4 221.1h0M523.1 221.2h0M529.9 220.9h0M538.7 221.5h0M560.7 221.2h0M603.2 222.2h0M488.9 223.0h0M523.0 222.4h0M524.4 223.3h0M537.7 223.3h0M575.8 222.5h0M612.0 222.2h0M479.9 224.3h0M502.0 224.4h0M504.5 223.9h0M517.4 223.7h0M555.5 224.2h0M586.5 224.4h0M587.8 224.1h0M589.1 223.6h0M606.3 223.7h0M610.3 224.9h0M472.0 225.1h0M476.5 225.7h0M479.9 225.3h0M487.7 226.0h0M489.7 226.4h0M498.9 225.0h0M572.2 225.8h0M474.1 227.3h0M486.8 227.5h0M487.5 226.7h0M502.1 227.1h0M563.0 226.9h0M627.7 226.9h0M479.1 228.2h0M493.5 227.8h0M504.9 228.6h0M573.6 227.9h0M575.3 228.9h0M578.5 228.2h0M481.4 229.2h0M567.6 230.1h0M600.4 230.2h0M505.2 230.9h0M575.3 231.1h0M579.2 231.8h0M586.0 230.9h0M484.6 232.4h0M489.5 232.4h0M496.5 233.3h0M575.7 232.9h0M608.9 232.6h0M617.9 233.1h0M624.7 232.5h0M490.7 234.3h0M499.2 234.3h0M501.3 233.7h0M504.4 234.6h0M553.8 235.9h0M567.1 235.9h0M581.5 234.9h0M628.9 235.8h0M482.1 236.2h0M484.5 237.4h0M486.3 236.3h0M545.7 237.0h0M556.5 237.3h0M570.8 236.1h0M584.0 236.3h0M489.9 237.9h0M510.3 237.7h0M556.8 238.1h0M591.7 238.2h0M628.6 237.4h0M486.2 238.8h0M487.3 239.8h0M488.3 239.2h0M492.1 240.1h0M497.4 239.8h0M550.0 239.5h0M553.5 239.4h0M563.7 238.8h0M593.7 239.4h0M600.0 239.3h0M488.7 241.3h0M492.7 240.4h0M559.0 241.0h0M596.1 241.6h0M544.6 242.8h0M565.8 242.5h0M609.5 242.8h0M497.4 243.0h0M513.9 244.3h0M567.0 243.4h0M615.1 243.5h0M617.3 243.9h0M622.8 243.2h0M495.8 244.6h0M497.0 245.3h0M499.1 245.5h0M564.7 245.7h0M586.2 245.3h0M488.3 246.9h0M508.5 247.0h0M502.0 248.4h0M510.2 248.1h0M480.9 249.9h0M513.8 248.8h0M484.3 250.6h0M488.6 250.1h0M494.4 249.9h0M505.1 250.3h0M484.4 252.4h0M508.6 251.9h0M508.0 253.6h0M482.3 255.9h0M514.7 256.4h0M478.9 258.1h0M509.5 257.9h0M490.0 260.2h0M504.2 260.4h0M507.8 260.5h0M508.7 259.9h0M479.7 261.2h0M512.4 261.9h0M516.0 261.2h0M536.7 262.4h0M478.5 262.5h0M484.8 262.6h0M493.0 262.6h0M505.2 263.0h0M525.3 263.4h0M492.9 264.1h0M511.6 264.8h0M519.7 264.5h0M477.2 266.0h0M500.3 265.8h0M506.5 265.4h0M512.6 265.5h0M523.8 265.6h0M487.1 267.5h0M504.7 267.4h0M490.5 268.0h0M513.6 268.2h0M479.2 270.0h0M488.2 272.0h0M526.3 271.7h0M485.8 273.1h0M528.3 273.3h0M496.0 274.8h0M501.1 274.7h0M510.0 274.7h0M484.6 275.5h0M482.1 276.7h0M487.7 277.5h0M513.9 277.0h0M519.3 277.6h0M482.1 278.3h0M498.9 279.8h0M485.3 281.2h0M512.4 281.8h0M514.5 284.6h0M495.3 285.4h0M512.3 285.7h0"/><path stroke="#A3D99C" d="M449.4 53.1h0M456.1 52.4h0M456.0 53.6h0M441.8 55.0h0M439.1 59.4h0M458.7 58.7h0M439.9 60.8h0M462.4 60.5h0M453.2 63.5h0M442.5 64.8h0M464.4 65.6h0M438.0 65.9h0M435.2 68.3h0M467.3 67.7h0M444.1 68.6h0M459.6 69.2h0M437.5 70.3h0M455.4 70.1h0M469.1 70.7h0M442.7 71.9h0M456.8 72.2h0M459.4 72.1h0M455.5 73.1h0M450.0 74.6h0M444.2 75.6h0M450.4 75.6h0M460.7 76.6h0M468.8 75.4h0M469.9 75.9h0M454.7 76.9h0M462.1 77.8h0M554.5 78.8h0M439.1 80.9h0M464.8 80.2h0M562.4 80.4h0M438.2 81.3h0M461.9 81.9h0M464.9 81.2h0M554.0 81.4h0M561.2 82.9h0M441.9 84.2h0M458.2 83.7h0M464.1 84.3h0M572.7 84.6h0M433.8 85.8h0M455.9 85.7h0M472.4 85.1h0M458.4 87.0h0M466.5 87.4h0M470.1 86.9h0M473.9 87.6h0M484.9 87.6h0M553.9 87.6h0M558.1 87.6h0M547.1 88.3h0M553.4 88.1h0M613.0 88.5h0M434.0 89.8h0M448.1 89.6h0M553.4 90.2h0M619.0 89.7h0M428.8 91.7h0M456.8 91.7h0M434.7 92.9h0M446.3 92.7h0M459.3 92.1h0M471.9 92.3h0M479.1 92.4h0M548.8 93.3h0M549.8 92.0h0M448.4 93.9h0M464.5 93.6h0M488.8 93.7h0M554.0 94.5h0M562.9 94.2h0M459.1 95.0h0M561.6 96.1h0M604.4 95.8h0M433.6 97.0h0M612.7 96.7h0M476.2 98.5h0M554.5 98.1h0M449.6 99.4h0M481.9 99.1h0M440.8 101.6h0M447.2 100.7h0M545.1 101.0h0M551.1 100.6h0M577.5 100.5h0M578.0 100.5h0M615.7 100.4h0M451.6 102.9h0M461.2 101.7h0M466.0 101.8h0M471.6 102.1h0M482.3 102.0h0M549.7 102.3h0M555.5 101.7h0M434.5 103.5h0M435.8 104.2h0M575.2 103.9h0M449.6 104.9h0M455.8 104.7h0M458.4 105.5h0M466.5 105.3h0M597.3 105.0h0M601.1 105.7h0M630.7 105.0h0M442.5 106.5h0M487.9 106.2h0M549.6 106.0h0M605.2 105.9h0M607.2 106.3h0M623.1 108.1h0M621.9 109.7h0M624.6 110.8h0M451.9 112.4h0M440.0 113.1h0M582.2 114.0h0M595.2 113.4h0M618.5 113.6h0M635.9 113.1h0M440.4 114.4h0M467.1 114.8h0M570.0 115.3h0M484.1 115.7h0M493.7 115.6h0M630.8 115.6h0M447.0 117.2h0M450.3 118.2h0M488.4 117.4h0M636.0 117.5h0M569.7 119.6h0M612.3 118.7h0M623.1 118.8h0M640.1 118.8h0M642.4 118.4h0M454.8 120.0h0M589.6 120.1h0M591.5 119.8h0M599.8 120.8h0M622.2 120.9h0M630.8 119.9h0M639.6 120.3h0M620.6 121.5h0M627.6 121.6h0M636.5 121.7h0M442.8 122.5h0M446.5 123.4h0M606.0 123.4h0M642.9 123.5h0M478.4 124.2h0M592.1 123.9h0M612.7 124.8h0M617.1 124.0h0M631.2 124.8h0M634.5 124.7h0M638.3 124.3h0M447.1 125.6h0M606.9 125.6h0M612.4 125.6h0M444.7 127.6h0M636.0 127.1h0M642.1 127.6h0M623.7 128.1h0M631.8 128.7h0M443.5 129.9h0M453.4 130.0h0M584.5 130.5h0M616.7 130.4h0M625.8 130.0h0M631.7 129.5h0M610.6 132.0h0M611.8 130.8h0M616.6 131.8h0M624.6 132.0h0M632.8 131.4h0M624.9 132.9h0M626.2 132.8h0M444.6 133.6h0M447.7 134.6h0M600.8 133.8h0M603.9 133.6h0M612.6 133.6h0M636.0 134.6h0M614.8 135.8h0M479.4 137.7h0M607.3 136.9h0M627.9 136.3h0M631.5 137.1h0M650.6 137.5h0M459.4 138.0h0M478.2 138.6h0M483.2 138.7h0M542.6 138.9h0M446.0 140.4h0M605.4 139.4h0M623.8 139.3h0M593.2 141.8h0M610.5 141.2h0M619.8 141.2h0M651.5 141.0h0M482.8 142.8h0M622.4 142.1h0M630.2 142.4h0M639.7 142.4h0M653.1 142.4h0M481.6 143.8h0M539.6 143.5h0M614.0 144.2h0M617.4 144.4h0M619.4 144.1h0M641.3 143.4h0M642.7 143.5h0M654.5 143.6h0M655.7 144.3h0M487.8 145.6h0M617.1 145.6h0M621.5 144.8h0M651.1 145.1h0M536.3 146.1h0M541.3 147.1h0M542.6 146.3h0M546.5 147.4h0M566.6 146.4h0M611.3 146.5h0M612.6 146.0h0M621.1 146.7h0M627.6 147.2h0M632.8 146.0h0M483.0 147.8h0M573.6 147.6h0M618.0 148.5h0M626.5 148.3h0M639.8 148.3h0M642.7 147.9h0M649.2 148.0h0M657.4 147.9h0M474.5 149.6h0M488.0 149.8h0M538.2 148.8h0M636.0 150.1h0M646.6 149.1h0M653.7 149.6h0M656.6 149.5h0M542.9 151.1h0M551.6 150.6h0M611.3 150.9h0M623.0 151.2h0M652.6 151.1h0M486.9 151.6h0M542.7 151.8h0M650.9 152.7h0M597.9 154.2h0M644.3 154.3h0M484.0 154.4h0M484.9 154.6h0M543.0 155.0h0M587.7 154.5h0M652.6 155.0h0M538.1 155.9h0M598.4 156.3h0M613.5 156.8h0M617.0 155.9h0M649.2 156.4h0M655.6 156.4h0M658.2 156.2h0M576.7 157.6h0M614.9 157.3h0M619.2 158.3h0M627.3 157.6h0M635.6 157.5h0M643.4 157.6h0M646.3 158.2h0M648.1 157.9h0M649.6 158.2h0M483.0 159.8h0M487.8 159.3h0M540.6 158.9h0M611.6 158.9h0M624.4 158.7h0M653.6 159.4h0M656.0 159.3h0M532.9 161.1h0M615.0 160.4h0M618.2 160.0h0M635.4 161.0h0M482.9 162.3h0M593.0 162.1h0M648.4 162.0h0M483.1 163.2h0M500.3 163.8h0M567.2 163.8h0M633.2 162.9h0M537.9 164.4h0M615.5 165.2h0M618.5 164.2h0M632.9 164.2h0M641.1 164.8h0M651.1 164.6h0M538.3 165.6h0M642.0 166.7h0M644.5 165.6h0M649.2 166.1h0M484.8 166.8h0M533.8 168.1h0M617.6 167.6h0M646.0 167.4h0M657.7 169.2h0M585.4 169.6h0M623.6 170.5h0M624.5 170.2h0M651.1 169.6h0M655.7 169.6h0M631.0 171.6h0M502.1 172.6h0M575.2 172.8h0M611.9 172.9h0M644.7 173.0h0M648.5 172.4h0M650.8 173.6h0M657.1 172.5h0M534.1 174.6h0M629.4 174.3h0M632.1 174.9h0M642.2 174.0h0M620.5 175.7h0M623.7 176.5h0M626.6 175.8h0M640.9 175.7h0M650.4 176.3h0M614.7 177.2h0M620.7 178.5h0M627.2 178.2h0M642.3 178.7h0M580.5 180.6h0M633.7 180.2h0M651.2 180.4h0M535.0 181.2h0M572.0 180.7h0M616.8 181.7h0M619.7 181.5h0M621.7 180.9h0M641.5 182.0h0M587.1 182.0h0M623.5 182.8h0M630.4 182.6h0M635.0 182.9h0M636.8 182.6h0M640.6 183.4h0M608.0 183.4h0M610.5 184.6h0M612.6 184.7h0M615.3 184.1h0M580.5 185.5h0M581.9 185.5h0M615.1 185.3h0M480.6 186.6h0M570.8 186.6h0M612.1 186.6h0M613.2 186.5h0M644.0 187.3h0M489.5 188.6h0M490.8 188.3h0M507.2 188.7h0M571.2 187.9h0M574.3 188.1h0M587.7 188.4h0M603.2 188.3h0M605.9 187.8h0M607.5 188.0h0M625.9 187.9h0M633.8 188.8h0M495.3 189.5h0M497.4 190.0h0M517.7 189.4h0M602.3 189.7h0M606.7 190.3h0M480.2 191.6h0M496.2 191.4h0M507.8 190.8h0M535.7 191.2h0M573.2 190.9h0M578.2 191.3h0M588.0 191.2h0M606.2 190.9h0M608.7 190.9h0M622.3 191.7h0M625.3 191.7h0M631.5 191.5h0M634.8 191.6h0M640.7 190.8h0M520.6 193.0h0M537.1 192.6h0M583.3 192.5h0M585.6 191.9h0M590.0 193.1h0M604.0 192.6h0M619.5 193.0h0M629.2 192.6h0M632.1 191.8h0M481.6 194.5h0M483.1 193.1h0M489.2 193.2h0M494.2 193.2h0M499.4 193.4h0M521.1 194.2h0M529.4 193.9h0M537.2 193.2h0M579.0 194.3h0M586.9 193.4h0M607.5 194.4h0M617.8 194.5h0M623.7 194.2h0M635.0 193.2h0M473.7 195.2h0M487.5 195.8h0M489.4 195.2h0M496.4 194.9h0M500.3 195.0h0M583.4 194.7h0M616.0 194.9h0M632.6 194.9h0M487.6 196.9h0M501.0 196.1h0M503.7 197.1h0M512.0 197.0h0M523.8 196.3h0M575.2 196.8h0M579.7 195.9h0M612.6 196.9h0M625.1 197.2h0M628.0 197.1h0M492.4 197.5h0M505.1 198.7h0M506.1 197.6h0M516.2 198.6h0M525.2 198.5h0M533.1 197.6h0M547.1 197.8h0M586.6 197.8h0M472.4 198.7h0M484.6 198.8h0M511.2 198.9h0M515.4 199.8h0M519.1 199.8h0M581.5 199.2h0M582.3 199.8h0M596.0 199.2h0M475.1 200.3h0M478.1 200.2h0M482.0 200.1h0M487.3 200.9h0M488.7 201.1h0M495.8 200.7h0M499.0 201.3h0M524.3 201.3h0M535.2 200.7h0M543.4 201.0h0M553.4 201.2h0M578.9 201.2h0M583.7 200.3h0M596.1 201.3h0M623.4 200.8h0M628.2 200.5h0M472.3 201.7h0M475.5 202.3h0M476.6 201.8h0M486.2 201.8h0M487.9 202.1h0M491.1 201.6h0M499.1 201.5h0M502.5 201.9h0M511.9 201.7h0M517.0 201.7h0M524.0 202.5h0M529.7 202.3h0M536.4 202.7h0M539.2 202.7h0M547.4 202.7h0M558.0 201.9h0M598.9 202.5h0M471.8 204.1h0M530.7 203.2h0M540.0 202.9h0M586.8 203.4h0M588.0 204.2h0M607.7 203.1h0M612.4 203.3h0M621.3 203.7h0M488.4 204.3h0M490.4 205.5h0M494.0 204.2h0M497.1 205.1h0M499.4 205.0h0M512.3 204.6h0M524.0 205.6h0M526.5 204.5h0M536.3 204.9h0M553.2 205.3h0M558.0 204.3h0M590.7 204.3h0M470.0 206.3h0M481.4 206.9h0M484.2 206.1h0M488.8 205.9h0M509.4 206.0h0M517.7 206.5h0M519.2 206.8h0M521.9 206.1h0M524.4 206.9h0M538.8 205.7h0M542.3 206.3h0M551.1 206.8h0M561.2 206.1h0M588.4 205.7h0M594.7 206.6h0M611.1 206.8h0M617.9 205.9h0M467.7 208.1h0M486.0 207.1h0M526.2 207.5h0M530.5 208.2h0M532.8 207.0h0M545.9 207.3h0M615.0 208.2h0M620.1 207.7h0M473.0 209.7h0M476.1 209.1h0M487.3 208.7h0M491.0 209.6h0M522.8 209.0h0M525.9 209.2h0M537.2 209.8h0M541.1 209.1h0M546.5 209.1h0M566.2 208.6h0M479.1 210.9h0M483.9 209.8h0M490.5 209.8h0M515.6 210.7h0M517.4 209.9h0M535.1 210.8h0M536.8 210.6h0M554.2 209.8h0M558.9 209.7h0M567.5 210.4h0M500.2 211.7h0M502.8 211.9h0M506.1 211.8h0M509.3 211.6h0M515.7 212.1h0M545.6 212.3h0M559.4 211.4h0M561.7 212.0h0M567.2 211.5h0M568.8 211.3h0M571.7 211.4h0M594.3 211.4h0M475.0 213.7h0M476.8 213.3h0M482.8 213.8h0M496.0 213.3h0M525.3 213.9h0M530.5 213.6h0M540.9 213.5h0M549.3 212.6h0M560.8 213.7h0M611.8 213.9h0M613.1 213.8h0M468.1 215.1h0M469.3 214.0h0M482.9 214.5h0M487.6 213.9h0M491.6 214.7h0M514.4 214.4h0M518.2 215.2h0M533.9 215.1h0M563.0 214.8h0M564.6 213.9h0M565.2 215.1h0M571.1 214.3h0M596.8 214.3h0M492.6 216.0h0M500.1 216.2h0M504.6 216.4h0M510.4 216.4h0M512.5 216.3h0M519.2 215.5h0M544.7 216.4h0M545.4 216.4h0M557.1 216.6h0M600.6 216.2h0M619.2 216.4h0M521.2 216.7h0M526.8 217.8h0M538.1 217.9h0M559.0 217.6h0M571.1 218.0h0M601.4 217.0h0M602.0 217.9h0M605.8 216.8h0M607.5 217.1h0M473.2 218.7h0M481.7 218.3h0M484.1 219.2h0M488.8 218.5h0M500.9 218.3h0M517.1 219.1h0M524.8 218.9h0M529.3 218.6h0M544.8 218.4h0M551.1 219.0h0M583.3 218.9h0M603.5 219.3h0M500.7 219.4h0M520.3 220.1h0M523.9 219.7h0M531.2 220.2h0M540.3 219.5h0M557.5 219.9h0M586.8 219.7h0M590.4 220.2h0M597.1 220.6h0M615.3 220.5h0M620.2 220.3h0M482.2 221.3h0M483.1 221.5h0M486.7 221.5h0M501.1 222.1h0M504.7 221.3h0M543.6 221.9h0M554.9 221.1h0M619.2 221.6h0M479.3 222.3h0M490.8 222.2h0M498.3 223.3h0M531.9 223.4h0M549.8 222.3h0M570.3 223.2h0M585.3 222.7h0M596.2 223.3h0M613.1 222.4h0M620.7 222.4h0M484.6 224.6h0M499.8 224.3h0M548.7 224.4h0M571.4 224.9h0M575.6 223.6h0M582.5 224.9h0M592.8 223.7h0M595.3 224.4h0M629.0 223.7h0M630.6 223.8h0M506.4 225.6h0M556.7 225.1h0M583.9 225.8h0M614.4 226.2h0M626.9 225.9h0M477.9 227.1h0M498.1 226.4h0M499.9 227.3h0M501.2 226.4h0M558.1 227.4h0M571.1 227.4h0M577.6 227.1h0M588.7 227.4h0M599.2 227.0h0M616.0 226.6h0M477.3 228.4h0M484.9 228.0h0M486.3 227.9h0M554.6 228.2h0M581.5 228.1h0M587.9 228.7h0M610.5 229.1h0M625.6 228.9h0M478.1 229.9h0M479.6 229.6h0M494.7 230.3h0M495.7 230.1h0M497.4 230.4h0M501.4 229.9h0M552.3 229.9h0M571.1 229.7h0M581.4 229.9h0M584.8 230.1h0M585.2 229.8h0M626.7 229.9h0M481.7 231.7h0M490.3 230.6h0M496.7 231.7h0M570.3 230.8h0M593.3 230.6h0M557.4 233.2h0M589.4 232.2h0M594.5 232.7h0M605.0 232.7h0M612.0 231.9h0M492.5 234.4h0M493.4 234.0h0M496.3 233.3h0M590.4 234.0h0M487.6 235.8h0M498.1 234.8h0M502.8 235.9h0M546.8 235.7h0M578.1 235.8h0M583.9 235.4h0M631.6 235.6h0M488.0 236.3h0M489.0 237.5h0M496.5 237.0h0M546.1 236.2h0M573.3 236.8h0M593.3 236.7h0M615.5 237.2h0M492.0 238.4h0M492.8 238.4h0M496.1 238.6h0M502.8 238.8h0M594.0 238.8h0M490.0 239.7h0M503.5 239.3h0M556.0 239.9h0M575.0 239.0h0M612.9 239.8h0M618.8 238.8h0M579.2 240.7h0M608.8 240.7h0M613.4 240.5h0M619.1 241.3h0M621.4 241.5h0M488.9 242.4h0M497.9 242.8h0M549.5 242.8h0M569.5 241.9h0M590.1 242.4h0M602.1 242.4h0M611.1 242.5h0M618.4 242.2h0M493.6 243.0h0M510.2 243.9h0M548.3 243.9h0M555.2 244.1h0M601.2 243.3h0M604.0 243.3h0M605.0 243.1h0M491.1 245.3h0M500.6 245.5h0M501.9 245.5h0M503.6 244.8h0M565.6 244.7h0M582.5 244.4h0M607.8 244.8h0M611.2 245.0h0M621.4 245.2h0M506.1 246.8h0M514.0 246.2h0M496.1 247.5h0M481.3 249.8h0M486.7 249.1h0M487.9 248.6h0M492.4 249.7h0M545.5 249.0h0M548.4 248.5h0M482.6 250.7h0M486.3 250.5h0M507.3 249.9h0M499.1 251.8h0M477.1 254.0h0M483.0 254.1h0M495.0 253.9h0M499.5 253.6h0M506.8 253.9h0M511.9 253.1h0M514.3 253.3h0M497.8 255.2h0M499.2 255.0h0M489.0 255.8h0M498.1 256.0h0M508.2 256.1h0M481.1 257.2h0M493.6 257.6h0M518.0 257.0h0M486.1 258.4h0M493.1 258.7h0M506.5 259.5h0M536.8 258.4h0M476.6 260.5h0M483.3 260.4h0M496.7 259.8h0M517.3 260.3h0M486.5 261.2h0M489.6 261.9h0M490.5 262.2h0M498.4 261.3h0M500.5 262.0h0M520.7 262.4h0M475.5 262.9h0M482.9 263.0h0M496.7 262.6h0M508.3 262.5h0M536.0 263.8h0M517.4 266.4h0M492.0 267.7h0M494.9 266.7h0M517.9 267.0h0M527.7 267.7h0M532.2 266.9h0M479.7 268.4h0M488.4 268.7h0M507.2 268.7h0M512.4 269.2h0M522.2 268.1h0M477.4 270.6h0M492.3 270.7h0M495.6 270.0h0M497.8 271.6h0M507.8 271.5h0M513.1 271.3h0M515.2 271.1h0M491.9 273.3h0M521.4 272.7h0M498.1 274.0h0M482.3 275.7h0M499.1 275.6h0M510.4 275.4h0M517.1 275.3h0M513.4 278.4h0M484.3 279.1h0M490.1 280.0h0M490.8 280.3h0M492.5 279.8h0M522.1 279.5h0M484.6 280.5h0M497.0 281.3h0M497.9 282.5h0M507.5 283.0h0M510.0 282.3h0M494.8 284.5h0M508.8 283.5h0M497.3 284.8h0M501.5 288.5h0M506.7 288.3h0M508.4 287.4h0M501.6 289.3h0M505.2 288.7h0"/><path stroke="#C4E69A" d="M443.3 52.7h0M450.9 52.5h0M455.7 55.6h0M457.5 57.2h0M460.1 57.8h0M463.2 58.9h0M457.1 61.8h0M459.4 63.7h0M449.5 64.6h0M444.5 67.0h0M437.8 68.3h0M449.7 68.0h0M451.8 69.8h0M471.0 68.4h0M459.9 70.2h0M463.8 72.5h0M452.2 72.7h0M460.5 74.0h0M432.5 76.1h0M455.3 76.2h0M434.2 77.3h0M473.8 77.3h0M433.7 80.8h0M572.0 80.0h0M439.0 82.7h0M458.8 83.1h0M481.3 82.3h0M454.7 84.9h0M469.1 85.1h0M473.2 85.2h0M436.6 87.0h0M440.6 87.2h0M449.9 87.7h0M464.9 87.8h0M550.4 87.5h0M553.4 86.6h0M467.9 90.2h0M554.5 90.2h0M441.5 91.6h0M462.2 92.2h0M463.7 92.1h0M544.9 92.6h0M436.8 93.8h0M449.9 94.4h0M456.4 93.5h0M434.4 95.5h0M437.6 94.7h0M470.0 95.9h0M434.7 96.9h0M615.8 98.9h0M629.1 97.6h0M433.2 100.0h0M473.7 99.9h0M483.4 99.4h0M435.7 100.4h0M607.7 102.3h0M635.7 101.7h0M442.5 103.8h0M607.2 104.2h0M608.7 103.2h0M548.4 105.2h0M616.1 105.0h0M635.1 105.8h0M437.4 106.6h0M444.1 107.1h0M599.8 106.5h0M624.1 107.0h0M443.0 107.6h0M581.5 109.5h0M590.3 109.4h0M614.9 109.6h0M620.0 109.6h0M626.7 109.7h0M440.9 110.1h0M441.5 111.2h0M442.9 110.3h0M575.2 110.0h0M438.0 111.7h0M439.6 112.0h0M444.4 112.7h0M453.9 112.4h0M563.2 113.5h0M580.4 113.3h0M604.4 113.8h0M615.7 113.2h0M442.7 114.7h0M448.9 115.3h0M561.2 115.4h0M631.5 114.5h0M445.5 116.3h0M558.0 116.3h0M568.8 116.4h0M622.7 116.3h0M512.5 117.3h0M593.7 117.1h0M612.1 117.2h0M446.1 119.2h0M451.4 118.6h0M598.7 119.0h0M606.6 118.5h0M615.6 119.5h0M624.6 118.5h0M613.4 120.5h0M623.9 119.7h0M636.1 120.8h0M643.8 120.9h0M441.3 121.6h0M601.4 121.7h0M614.6 121.7h0M629.3 122.2h0M443.7 123.8h0M452.4 122.9h0M625.9 122.7h0M630.0 122.7h0M457.1 124.5h0M620.0 123.9h0M621.7 124.2h0M629.5 125.7h0M626.2 127.3h0M630.8 127.7h0M646.5 127.2h0M626.3 128.9h0M634.3 130.5h0M609.3 131.5h0M631.7 131.7h0M642.9 131.7h0M650.2 131.5h0M446.5 132.8h0M608.0 132.2h0M596.0 134.1h0M605.2 134.2h0M639.1 134.8h0M621.6 135.1h0M624.9 135.7h0M633.5 136.0h0M621.8 137.0h0M623.6 137.4h0M632.8 137.4h0M638.9 136.5h0M642.1 137.7h0M449.2 138.8h0M486.8 139.0h0M541.2 138.9h0M626.7 138.9h0M636.0 138.4h0M636.8 139.0h0M607.8 139.5h0M615.8 139.9h0M619.9 140.0h0M627.6 139.2h0M481.6 140.7h0M614.4 140.8h0M642.7 141.1h0M541.5 142.6h0M543.1 143.0h0M545.0 142.6h0M609.3 142.9h0M610.4 142.4h0M612.8 141.9h0M615.8 143.3h0M618.7 143.1h0M640.7 143.2h0M452.3 143.6h0M620.5 143.4h0M622.0 144.6h0M636.1 144.0h0M480.4 145.2h0M537.4 145.9h0M627.9 144.9h0M630.1 145.9h0M644.1 144.9h0M622.1 146.0h0M628.4 146.7h0M651.4 146.4h0M540.4 147.4h0M551.9 148.7h0M566.2 148.1h0M570.1 148.3h0M614.1 148.4h0M615.4 147.8h0M646.3 147.6h0M481.3 149.5h0M547.3 149.3h0M616.7 149.1h0M620.8 149.6h0M632.8 149.0h0M638.0 148.9h0M611.7 151.4h0M626.8 150.8h0M642.7 150.7h0M648.9 151.0h0M569.2 152.4h0M622.2 152.8h0M624.3 152.6h0M625.8 152.3h0M632.8 152.1h0M644.7 152.3h0M647.8 151.7h0M487.5 153.8h0M536.7 153.1h0M562.3 153.9h0M616.5 153.5h0M620.2 153.9h0M641.6 154.0h0M649.3 153.3h0M658.1 153.5h0M537.3 155.5h0M617.8 154.5h0M619.4 155.3h0M622.9 155.1h0M624.4 155.2h0M638.4 155.7h0M647.9 154.5h0M659.2 155.5h0M484.9 155.7h0M533.7 156.7h0M536.1 156.6h0M631.8 156.3h0M656.5 157.0h0M479.6 157.8h0M623.2 157.7h0M630.1 157.8h0M632.4 157.6h0M633.2 158.4h0M616.4 159.7h0M622.9 159.3h0M646.1 159.1h0M656.7 159.3h0M659.1 158.8h0M481.5 160.2h0M485.7 160.8h0M556.4 160.1h0M632.8 160.2h0M640.3 160.2h0M653.6 160.3h0M658.4 161.1h0M559.4 161.6h0M621.7 161.6h0M622.8 162.4h0M635.9 161.4h0M657.5 162.5h0M569.5 163.2h0M619.5 163.6h0M624.1 163.3h0M653.6 164.0h0M657.8 162.8h0M661.4 162.9h0M567.5 164.1h0M587.2 164.2h0M645.1 164.7h0M587.9 166.1h0M614.8 166.0h0M631.5 165.6h0M660.9 166.6h0M615.6 167.0h0M657.0 168.0h0M484.6 168.5h0M610.8 168.4h0M615.6 168.5h0M618.9 169.3h0M660.9 168.2h0M567.3 169.6h0M534.0 172.0h0M619.8 171.3h0M644.4 172.1h0M661.1 171.5h0M609.5 173.6h0M619.2 172.5h0M620.4 173.5h0M625.9 172.9h0M628.6 173.3h0M612.5 174.4h0M648.5 173.8h0M660.5 174.5h0M536.8 175.9h0M607.4 175.2h0M614.4 176.0h0M617.0 176.2h0M622.5 176.3h0M635.3 175.3h0M607.0 176.5h0M622.1 177.5h0M625.3 177.7h0M657.1 177.2h0M490.4 179.0h0M629.9 178.1h0M644.7 178.4h0M655.2 178.7h0M616.6 180.7h0M619.3 180.0h0M637.5 180.4h0M645.0 180.0h0M558.4 180.9h0M618.1 180.7h0M623.4 181.6h0M630.0 180.7h0M643.1 181.9h0M651.8 181.5h0M634.1 183.0h0M623.4 184.2h0M626.7 183.7h0M630.7 184.4h0M648.5 184.2h0M510.2 185.8h0M602.9 185.8h0M620.0 185.6h0M623.0 186.0h0M632.6 185.5h0M635.3 186.1h0M636.7 185.1h0M640.3 185.8h0M535.5 187.5h0M565.3 186.8h0M581.4 186.2h0M618.0 186.5h0M632.8 186.8h0M647.5 186.9h0M487.1 188.2h0M535.2 187.9h0M536.7 188.5h0M566.0 188.4h0M569.4 188.9h0M586.0 188.3h0M610.4 188.4h0M613.7 188.0h0M631.8 188.6h0M637.1 188.2h0M644.9 188.2h0M503.2 189.6h0M507.6 189.5h0M511.4 190.3h0M571.3 190.2h0M578.2 188.9h0M598.2 189.6h0M621.6 189.9h0M633.7 190.3h0M506.4 190.5h0M572.0 190.6h0M575.2 191.5h0M575.6 191.5h0M611.3 190.4h0M616.3 191.4h0M626.7 191.3h0M502.5 192.5h0M506.6 193.0h0M510.9 192.9h0M515.6 192.4h0M535.6 191.9h0M600.9 192.5h0M627.8 192.1h0M632.8 192.0h0M639.3 192.6h0M473.9 193.5h0M492.5 193.9h0M503.0 194.2h0M510.1 193.4h0M536.5 193.2h0M576.4 194.0h0M580.9 194.2h0M607.2 193.5h0M613.4 193.4h0M627.9 193.3h0M505.9 194.9h0M518.0 195.5h0M520.0 195.7h0M540.2 195.1h0M585.0 195.6h0M587.3 195.1h0M588.1 195.0h0M605.2 194.9h0M610.1 195.1h0M618.6 195.2h0M622.5 195.4h0M471.3 197.3h0M474.5 196.3h0M521.6 196.4h0M527.5 196.9h0M532.9 196.3h0M543.8 196.1h0M545.8 196.5h0M548.0 197.1h0M581.0 196.8h0M593.9 196.6h0M599.2 196.1h0M611.2 196.7h0M616.9 197.3h0M630.5 196.1h0M632.1 196.2h0M476.0 198.6h0M478.1 197.7h0M494.1 197.7h0M540.1 197.7h0M606.4 197.7h0M612.7 197.6h0M623.4 198.1h0M631.3 197.7h0M520.8 199.5h0M528.8 198.8h0M530.7 199.9h0M542.9 199.4h0M547.3 199.0h0M549.2 199.9h0M551.7 199.6h0M555.9 199.7h0M578.4 199.6h0M590.0 198.7h0M593.6 199.1h0M598.6 199.4h0M613.4 199.3h0M624.9 199.2h0M626.2 199.9h0M470.8 201.2h0M476.1 200.3h0M504.8 201.1h0M528.7 200.7h0M532.7 200.7h0M548.6 201.1h0M585.0 201.0h0M601.7 200.8h0M608.4 200.2h0M613.2 200.8h0M469.4 202.7h0M479.1 202.7h0M480.0 201.9h0M481.9 201.8h0M492.4 202.0h0M494.3 202.4h0M507.7 202.0h0M528.6 202.8h0M533.2 202.2h0M537.1 201.9h0M579.8 202.0h0M622.7 201.4h0M483.1 203.4h0M516.7 203.7h0M546.0 203.4h0M577.7 203.5h0M609.0 203.2h0M616.0 203.1h0M468.5 204.3h0M479.2 204.9h0M528.1 205.6h0M533.5 204.9h0M586.5 205.1h0M587.1 204.2h0M591.9 205.2h0M600.8 205.4h0M468.0 206.9h0M496.0 206.0h0M553.2 206.5h0M555.5 206.9h0M583.4 206.5h0M585.6 206.2h0M593.2 205.8h0M599.4 207.0h0M603.2 205.9h0M605.3 206.5h0M611.8 205.6h0M620.2 206.0h0M623.0 206.0h0M478.8 207.2h0M483.8 207.5h0M487.9 208.3h0M492.8 207.0h0M494.1 207.6h0M495.8 208.2h0M549.3 207.8h0M550.0 207.7h0M563.5 206.9h0M594.0 208.2h0M597.0 208.4h0M606.2 207.1h0M609.3 208.3h0M621.6 207.8h0M474.3 208.9h0M501.3 209.1h0M503.5 208.7h0M504.8 208.4h0M554.6 208.3h0M559.2 208.6h0M570.1 209.1h0M600.1 208.8h0M615.0 208.5h0M621.7 209.6h0M492.9 210.5h0M512.0 210.0h0M518.6 211.1h0M523.6 210.5h0M526.6 209.8h0M531.7 209.8h0M548.0 209.9h0M555.0 210.6h0M595.4 210.7h0M616.2 211.1h0M493.2 211.7h0M496.3 211.3h0M514.7 211.5h0M518.7 212.0h0M524.9 212.5h0M528.8 211.8h0M538.8 211.8h0M554.2 211.6h0M604.7 211.8h0M605.9 211.9h0M615.9 212.1h0M622.5 211.2h0M624.4 211.8h0M481.6 213.1h0M498.7 212.6h0M502.5 213.7h0M506.5 213.5h0M509.9 213.2h0M544.3 213.8h0M555.6 213.5h0M563.2 213.3h0M600.2 213.4h0M485.5 214.9h0M489.1 214.8h0M499.2 214.2h0M529.0 214.4h0M543.9 214.3h0M557.8 214.3h0M591.9 214.3h0M468.1 216.2h0M481.6 215.9h0M488.1 215.6h0M505.7 216.0h0M508.7 215.3h0M513.4 216.2h0M528.7 215.6h0M530.5 215.7h0M532.9 216.5h0M538.4 215.9h0M574.4 216.2h0M580.3 215.4h0M601.6 216.1h0M611.4 215.7h0M620.6 215.5h0M623.1 216.1h0M623.8 216.5h0M483.9 217.7h0M491.3 217.2h0M499.0 216.8h0M500.9 217.0h0M504.9 217.1h0M530.0 217.7h0M536.4 217.4h0M544.1 217.4h0M550.2 217.8h0M561.4 217.2h0M565.4 217.3h0M566.9 216.7h0M591.5 217.1h0M598.5 218.0h0M613.7 217.7h0M622.0 217.2h0M497.9 219.2h0M539.9 219.3h0M540.6 218.7h0M554.4 218.5h0M559.2 219.0h0M563.4 219.1h0M573.3 219.3h0M574.3 218.7h0M575.9 218.4h0M579.8 219.0h0M622.6 218.4h0M627.8 219.1h0M471.3 220.6h0M489.2 219.5h0M531.6 219.6h0M548.6 219.6h0M577.6 220.8h0M606.1 220.2h0M607.4 220.7h0M474.8 221.1h0M532.0 221.5h0M542.1 221.7h0M556.8 222.2h0M573.5 221.8h0M494.5 223.3h0M499.5 223.1h0M534.2 222.7h0M539.6 222.7h0M582.2 223.4h0M584.0 222.8h0M628.5 223.5h0M475.4 224.6h0M497.7 225.0h0M523.8 224.0h0M568.0 224.9h0M574.3 224.8h0M577.5 224.1h0M514.8 225.3h0M554.8 225.1h0M567.2 225.5h0M582.0 225.9h0M586.5 225.6h0M592.1 226.2h0M619.8 225.6h0M630.4 226.2h0M630.9 225.6h0M489.2 227.7h0M492.9 226.7h0M519.8 226.5h0M551.2 227.8h0M560.1 226.8h0M585.7 227.6h0M609.3 227.6h0M622.2 227.0h0M632.5 226.9h0M489.0 228.2h0M490.6 228.4h0M551.7 227.9h0M558.7 228.2h0M565.5 228.6h0M570.1 229.1h0M599.3 228.0h0M628.1 228.8h0M484.9 229.3h0M575.0 230.5h0M586.8 230.0h0M589.3 230.1h0M618.3 230.3h0M493.2 231.1h0M561.7 231.4h0M579.5 231.6h0M581.3 231.6h0M608.6 231.2h0M487.1 233.0h0M494.4 233.1h0M548.5 232.0h0M550.8 232.1h0M569.5 232.6h0M571.3 233.1h0M581.7 232.0h0M596.0 233.0h0M628.9 232.1h0M632.7 232.7h0M488.6 234.5h0M549.2 234.4h0M566.1 234.6h0M584.5 233.3h0M595.0 234.6h0M624.6 234.4h0M485.3 235.4h0M499.0 235.9h0M501.3 234.8h0M613.6 235.3h0M616.8 234.7h0M505.9 237.2h0M543.5 236.8h0M549.8 236.3h0M553.2 236.5h0M495.3 238.4h0M555.1 237.5h0M568.7 238.8h0M577.7 238.1h0M588.9 238.4h0M605.1 238.0h0M606.3 238.0h0M614.5 237.6h0M622.7 237.6h0M493.4 239.6h0M499.2 239.0h0M567.2 238.9h0M577.5 239.4h0M588.4 239.1h0M622.2 240.2h0M560.0 241.2h0M564.7 241.2h0M572.7 241.3h0M576.4 241.4h0M584.7 240.7h0M585.3 241.2h0M626.2 241.4h0M491.9 242.9h0M563.0 241.7h0M564.1 242.4h0M574.1 242.4h0M588.1 242.2h0M595.3 242.3h0M599.2 242.1h0M625.7 242.9h0M492.0 243.0h0M572.0 244.2h0M574.8 244.0h0M575.7 243.3h0M579.5 243.7h0M582.9 243.2h0M589.0 244.3h0M597.9 243.7h0M609.6 243.2h0M613.4 244.1h0M504.4 245.2h0M511.5 244.8h0M513.4 244.6h0M552.8 245.5h0M555.2 244.6h0M585.7 245.0h0M596.2 244.4h0M599.9 244.5h0M606.1 245.7h0M615.9 245.1h0M619.0 244.7h0M492.5 246.1h0M563.0 246.3h0M606.5 246.8h0M619.6 246.5h0M485.2 248.4h0M500.7 248.0h0M507.1 247.9h0M613.2 247.4h0M483.4 249.7h0M506.8 249.8h0M510.7 249.5h0M502.1 250.0h0M508.6 250.2h0M510.0 250.5h0M494.2 251.6h0M502.6 251.8h0M550.0 251.7h0M485.8 253.6h0M487.1 253.9h0M490.9 253.3h0M499.2 253.6h0M503.3 253.9h0M516.1 253.1h0M491.0 254.3h0M493.0 254.3h0M495.6 255.2h0M513.1 254.4h0M480.0 256.2h0M499.6 255.5h0M501.4 255.7h0M502.8 255.6h0M536.4 256.4h0M500.9 258.1h0M522.1 258.2h0M477.3 258.5h0M483.2 258.9h0M489.5 259.0h0M508.9 259.4h0M538.3 258.2h0M488.5 260.3h0M491.3 261.0h0M497.4 260.4h0M541.1 260.2h0M476.5 261.2h0M480.6 261.1h0M497.0 261.2h0M518.5 261.5h0M536.1 262.3h0M491.5 262.6h0M504.7 263.0h0M515.7 263.2h0M516.9 262.9h0M484.1 265.2h0M498.0 264.6h0M490.7 266.5h0M499.9 265.6h0M502.4 265.7h0M476.5 267.3h0M479.5 267.7h0M483.1 267.5h0M498.7 266.8h0M506.3 267.5h0M515.6 267.4h0M525.9 267.3h0M477.4 268.8h0M478.1 268.4h0M495.9 268.5h0M497.1 268.0h0M506.5 268.7h0M497.4 269.8h0M506.2 270.8h0M478.3 273.4h0M491.1 272.4h0M510.4 272.1h0M485.0 273.6h0M489.4 274.1h0M514.5 274.2h0M481.7 276.2h0M489.9 275.0h0M508.3 276.0h0M505.6 280.3h0M486.8 281.2h0M493.9 280.7h0M506.9 281.4h0M488.3 282.1h0M494.4 282.1h0M501.5 282.1h0M513.7 282.9h0M516.1 283.1h0M487.5 284.3h0M491.9 283.2h0M506.0 284.2h0M491.6 285.5h0M500.0 285.3h0M494.0 286.8h0M502.1 288.1h0M503.7 288.1h0M500.2 288.7h0"/><path stroke="#D9EEA2" d="M448.2 52.2h0M440.9 59.2h0M447.1 66.0h0M458.2 66.7h0M442.8 67.5h0M437.2 69.4h0M447.0 69.7h0M464.2 77.2h0M435.6 78.6h0M452.9 80.6h0M453.2 82.8h0M431.0 84.7h0M482.4 87.7h0M465.1 88.8h0M433.0 93.1h0M436.4 92.1h0M546.1 92.1h0M569.2 95.1h0M452.5 97.3h0M548.0 98.3h0M553.7 98.0h0M440.2 99.4h0M451.8 99.4h0M438.2 100.6h0M554.8 100.3h0M437.4 102.2h0M440.1 102.5h0M444.0 102.3h0M553.8 102.6h0M433.5 104.3h0M440.8 103.9h0M582.9 104.4h0M438.8 105.2h0M479.1 105.3h0M434.9 106.7h0M441.2 105.9h0M623.0 109.7h0M438.6 110.9h0M568.4 110.6h0M576.3 110.9h0M606.3 110.4h0M442.8 111.5h0M618.2 112.5h0M623.9 111.8h0M448.2 113.5h0M628.3 113.3h0M636.5 113.9h0M555.7 114.8h0M606.9 115.6h0M623.5 115.6h0M442.7 117.4h0M559.8 117.1h0M605.2 117.2h0M620.8 117.4h0M443.1 118.5h0M450.1 119.4h0M570.8 119.5h0M444.8 120.5h0M449.6 119.7h0M610.2 120.8h0M445.1 122.3h0M615.9 121.9h0M447.6 123.1h0M448.8 123.3h0M587.1 123.1h0M600.0 123.3h0M613.2 123.5h0M601.5 124.8h0M610.0 124.2h0M614.7 123.9h0M626.2 123.9h0M635.7 124.0h0M599.8 125.7h0M623.3 125.5h0M622.4 126.9h0M442.2 128.5h0M620.2 128.5h0M633.5 128.5h0M629.2 130.5h0M604.8 131.3h0M608.0 131.4h0M641.4 130.9h0M646.2 131.1h0M595.9 132.6h0M610.9 132.9h0M621.5 133.5h0M649.5 132.4h0M448.6 134.5h0M618.7 133.7h0M483.7 136.1h0M592.4 135.6h0M627.4 134.9h0M638.0 136.2h0M643.2 135.2h0M604.5 136.9h0M473.9 137.7h0M482.3 139.1h0M622.3 139.0h0M474.7 139.2h0M630.9 139.4h0M642.8 139.5h0M451.3 141.0h0M598.7 140.7h0M615.7 141.1h0M605.6 142.4h0M647.4 142.3h0M655.2 143.0h0M586.4 143.3h0M608.1 143.5h0M609.6 143.8h0M616.5 143.5h0M540.8 145.9h0M548.7 146.0h0M615.0 145.6h0M614.4 147.1h0M624.0 146.4h0M634.2 147.1h0M637.2 146.7h0M655.2 146.6h0M610.7 147.6h0M625.1 148.5h0M502.1 149.1h0M536.7 148.9h0M551.5 149.9h0M538.6 150.7h0M546.3 151.0h0M631.9 150.4h0M635.9 150.7h0M641.4 151.4h0M645.9 151.5h0M479.2 152.0h0M547.4 152.7h0M551.2 151.9h0M563.3 152.4h0M568.8 152.7h0M482.2 153.2h0M541.5 152.9h0M586.2 153.3h0M613.7 153.1h0M565.1 155.4h0M590.0 154.6h0M614.3 155.1h0M616.0 154.3h0M629.3 155.3h0M488.0 156.5h0M572.7 156.5h0M630.0 156.1h0M635.3 156.6h0M541.4 157.6h0M652.1 157.6h0M484.7 159.1h0M537.4 158.5h0M621.3 159.0h0M626.6 159.6h0M630.0 158.5h0M632.1 159.8h0M641.3 158.5h0M541.0 160.5h0M613.7 160.7h0M620.0 160.4h0M628.1 160.3h0M644.6 160.7h0M646.6 160.6h0M650.3 160.5h0M650.8 161.1h0M659.0 161.2h0M484.5 162.4h0M535.1 162.2h0M569.5 162.6h0M608.4 162.6h0M616.7 162.5h0M627.3 162.3h0M617.8 163.5h0M632.5 164.0h0M655.0 163.4h0M616.8 164.1h0M624.5 164.4h0M626.7 164.5h0M655.0 164.7h0M536.5 166.6h0M575.1 165.8h0M620.9 165.6h0M626.8 165.5h0M634.4 166.7h0M611.2 167.0h0M625.1 166.9h0M647.5 167.2h0M649.4 167.4h0M587.3 169.1h0M588.6 169.4h0M655.9 169.1h0M659.1 168.2h0M612.4 170.9h0M622.4 171.0h0M499.5 171.9h0M616.3 171.1h0M625.8 172.2h0M653.0 170.9h0M657.8 171.6h0M623.0 172.7h0M637.6 173.0h0M642.4 172.8h0M533.3 174.0h0M587.6 174.3h0M607.9 174.3h0M610.3 174.5h0M634.3 174.9h0M640.3 174.3h0M633.3 176.4h0M644.7 175.7h0M646.1 176.4h0M649.4 175.7h0M566.0 177.6h0M642.2 177.3h0M659.4 176.7h0M609.0 178.0h0M610.6 178.8h0M619.0 179.0h0M632.8 178.8h0M638.0 178.3h0M640.1 179.1h0M647.3 178.1h0M606.0 180.0h0M621.5 180.2h0M628.9 179.5h0M653.9 180.0h0M605.7 181.4h0M608.6 181.6h0M613.3 181.9h0M645.2 182.0h0M617.5 182.6h0M629.5 182.5h0M605.9 183.4h0M616.5 184.7h0M647.6 184.6h0M504.5 186.1h0M574.7 186.1h0M629.9 185.8h0M495.2 187.1h0M500.8 186.8h0M503.9 187.5h0M563.8 186.8h0M571.9 186.6h0M600.8 187.4h0M602.2 186.3h0M603.7 187.5h0M615.1 186.4h0M622.3 186.2h0M623.8 186.3h0M630.3 187.2h0M631.5 187.3h0M634.7 187.2h0M639.2 186.3h0M591.3 188.9h0M602.3 188.9h0M622.2 188.0h0M518.7 190.1h0M575.5 190.0h0M577.5 189.5h0M618.9 190.1h0M638.9 190.1h0M644.8 189.5h0M522.2 191.5h0M522.9 190.5h0M538.1 191.0h0M569.5 191.1h0M588.5 190.4h0M597.5 190.8h0M600.1 191.5h0M617.9 190.5h0M618.7 191.1h0M629.3 190.9h0M480.6 192.8h0M504.3 192.9h0M538.0 192.4h0M591.3 192.8h0M598.3 192.6h0M609.1 192.5h0M625.5 192.3h0M635.1 192.6h0M475.3 194.1h0M518.3 193.9h0M583.1 194.3h0M588.9 194.0h0M589.9 193.5h0M592.5 194.4h0M593.5 194.1h0M598.9 193.7h0M600.5 194.1h0M616.4 194.0h0M618.9 193.5h0M631.3 194.2h0M631.8 193.9h0M640.3 193.5h0M480.7 194.6h0M485.1 195.0h0M490.0 195.0h0M492.3 194.8h0M534.8 194.5h0M539.1 195.3h0M573.1 194.9h0M590.4 194.5h0M594.5 195.2h0M597.2 194.9h0M602.5 195.2h0M479.8 196.5h0M506.1 196.5h0M529.9 195.9h0M541.7 196.2h0M542.8 196.8h0M551.0 196.2h0M602.7 196.0h0M615.0 196.9h0M629.1 197.2h0M499.2 198.2h0M501.4 198.3h0M503.1 198.1h0M523.6 198.5h0M527.8 198.0h0M552.7 198.6h0M576.6 197.3h0M584.1 197.8h0M591.1 197.4h0M597.7 198.3h0M607.3 198.4h0M620.6 197.3h0M621.4 197.6h0M632.5 198.3h0M470.2 199.1h0M481.3 198.9h0M489.8 199.3h0M502.4 199.9h0M527.3 198.8h0M544.6 199.6h0M608.1 199.5h0M617.4 199.5h0M629.6 199.9h0M481.6 201.4h0M520.6 200.7h0M592.9 201.0h0M599.0 201.4h0M604.1 200.2h0M612.3 200.9h0M614.8 201.1h0M617.2 200.5h0M471.1 201.4h0M518.4 202.3h0M611.0 202.5h0M612.8 202.5h0M477.5 203.2h0M479.3 203.6h0M495.7 203.4h0M496.6 203.8h0M506.8 204.1h0M529.0 204.0h0M557.5 204.0h0M604.0 203.5h0M479.9 205.2h0M500.5 205.5h0M531.1 204.5h0M534.5 204.8h0M551.0 205.6h0M608.7 204.7h0M497.9 206.9h0M500.4 205.6h0M506.9 206.3h0M548.3 206.4h0M591.3 205.9h0M600.7 206.0h0M608.9 206.6h0M616.6 206.1h0M504.8 207.0h0M510.8 207.0h0M523.3 207.4h0M540.0 207.7h0M559.1 207.6h0M592.1 207.4h0M600.3 207.1h0M483.0 208.5h0M494.1 209.0h0M516.4 208.6h0M528.8 209.3h0M551.3 208.3h0M555.9 208.6h0M557.7 209.8h0M560.6 208.8h0M588.5 209.7h0M593.1 209.4h0M602.2 209.0h0M607.6 208.6h0M610.6 209.6h0M612.4 209.2h0M623.8 209.8h0M475.1 210.1h0M476.7 210.5h0M479.8 210.7h0M499.7 210.4h0M502.7 210.1h0M530.4 210.5h0M540.5 210.1h0M566.5 210.3h0M574.8 211.1h0M588.7 210.7h0M607.5 211.1h0M481.1 211.8h0M495.3 211.8h0M525.5 211.6h0M527.1 211.1h0M571.2 211.7h0M591.5 211.5h0M599.1 211.8h0M613.8 211.6h0M617.5 212.1h0M623.5 211.5h0M471.6 212.6h0M488.0 213.8h0M504.8 212.6h0M514.4 213.1h0M569.1 213.2h0M601.1 212.7h0M605.4 213.0h0M471.0 214.0h0M476.7 214.4h0M490.9 214.1h0M567.9 214.3h0M569.7 215.2h0M576.5 214.3h0M600.5 214.4h0M602.2 214.3h0M604.0 214.3h0M615.8 214.4h0M622.1 214.7h0M479.7 215.8h0M495.0 216.5h0M520.3 215.8h0M534.4 216.0h0M540.0 216.1h0M554.1 215.8h0M559.2 215.9h0M565.6 216.3h0M598.5 215.4h0M608.6 215.9h0M471.3 216.8h0M510.5 217.1h0M541.4 216.9h0M547.3 217.1h0M558.2 217.8h0M569.0 217.1h0M578.0 216.9h0M593.3 217.0h0M616.3 217.1h0M619.9 218.0h0M628.2 217.9h0M503.9 218.7h0M515.5 218.1h0M589.5 219.3h0M593.7 218.4h0M597.1 218.6h0M607.8 219.0h0M611.5 218.4h0M623.7 219.4h0M625.8 219.1h0M490.4 220.7h0M496.8 220.4h0M507.7 220.0h0M526.4 220.7h0M529.0 219.4h0M535.2 219.6h0M545.3 219.6h0M563.9 220.0h0M575.8 219.5h0M588.0 220.7h0M596.5 219.9h0M604.3 220.0h0M612.3 220.1h0M480.5 221.2h0M496.4 222.0h0M538.4 221.1h0M561.5 220.9h0M566.2 221.8h0M574.7 221.3h0M609.5 222.2h0M483.6 222.6h0M558.1 222.5h0M561.2 222.7h0M568.0 222.8h0M569.3 222.2h0M572.1 223.4h0M578.2 222.3h0M600.3 222.4h0M473.8 223.8h0M489.6 224.6h0M496.6 225.0h0M518.5 223.9h0M560.3 224.6h0M624.1 224.3h0M627.9 224.2h0M474.6 225.4h0M492.7 226.1h0M495.5 226.2h0M510.2 225.1h0M520.9 225.8h0M557.7 226.1h0M560.4 225.4h0M570.9 225.9h0M576.9 225.6h0M589.8 225.8h0M594.1 226.2h0M483.2 227.3h0M568.2 227.2h0M579.7 227.5h0M590.5 227.1h0M621.7 227.5h0M625.3 226.8h0M497.0 228.6h0M580.2 228.1h0M585.4 227.9h0M609.4 228.5h0M617.3 228.9h0M632.4 227.8h0M557.4 229.8h0M558.2 229.2h0M603.3 229.9h0M615.5 229.7h0M619.5 230.4h0M624.7 230.4h0M630.5 229.8h0M482.1 231.9h0M492.1 231.6h0M552.8 230.8h0M555.7 231.6h0M585.3 231.8h0M587.6 230.6h0M617.4 230.5h0M619.0 231.5h0M633.0 231.3h0M497.2 232.3h0M552.7 232.8h0M567.9 233.0h0M579.9 232.7h0M591.7 233.0h0M596.7 232.1h0M613.6 232.5h0M613.9 232.0h0M554.2 234.3h0M592.6 233.8h0M595.7 234.2h0M604.3 233.7h0M613.2 234.0h0M626.8 233.8h0M493.9 235.9h0M568.4 235.6h0M572.7 235.8h0M598.5 235.6h0M601.2 236.0h0M602.8 235.3h0M614.1 235.8h0M490.7 236.8h0M491.7 236.1h0M559.3 236.3h0M560.4 236.6h0M578.7 236.6h0M587.8 236.4h0M597.5 237.2h0M599.4 236.6h0M610.3 236.1h0M614.4 237.3h0M497.6 238.6h0M544.5 237.6h0M547.3 238.5h0M560.7 238.4h0M581.0 238.6h0M599.9 237.8h0M603.8 237.7h0M619.7 238.3h0M579.0 240.2h0M607.2 239.3h0M608.4 238.9h0M626.4 240.2h0M494.9 240.4h0M499.5 240.9h0M543.6 240.6h0M614.5 241.0h0M494.4 242.6h0M516.7 242.4h0M541.9 242.0h0M554.0 242.5h0M567.5 242.1h0M572.8 242.3h0M575.5 241.7h0M583.6 241.6h0M596.7 242.7h0M615.2 243.0h0M501.1 244.1h0M504.2 243.1h0M558.2 243.3h0M560.8 243.7h0M594.0 243.4h0M606.5 244.2h0M611.0 243.7h0M624.6 243.5h0M549.1 245.0h0M583.7 244.5h0M590.2 244.9h0M604.1 245.3h0M614.3 244.5h0M500.6 247.1h0M511.7 246.2h0M555.3 246.5h0M560.2 246.3h0M603.0 246.0h0M504.0 247.4h0M510.8 248.2h0M513.0 248.2h0M516.5 247.6h0M547.8 247.5h0M552.6 248.1h0M511.7 249.3h0M480.1 250.5h0M490.1 250.2h0M499.3 250.6h0M500.5 251.2h0M516.6 250.8h0M481.4 251.7h0M496.4 251.7h0M506.5 251.7h0M507.6 251.6h0M492.8 253.4h0M548.4 253.4h0M479.8 254.2h0M508.0 255.3h0M512.3 254.4h0M531.4 254.7h0M476.1 256.2h0M494.1 255.5h0M495.4 256.0h0M520.5 256.3h0M538.4 256.4h0M488.7 256.9h0M516.8 257.1h0M487.4 259.5h0M502.1 258.2h0M511.1 259.6h0M522.9 258.5h0M475.6 260.8h0M486.5 260.4h0M513.2 260.2h0M538.0 259.9h0M538.8 261.3h0M488.1 262.8h0M513.9 262.7h0M521.5 263.4h0M523.5 263.8h0M531.7 263.1h0M535.1 263.1h0M478.5 264.2h0M494.8 264.6h0M509.9 264.3h0M523.0 263.8h0M524.4 264.7h0M538.8 264.7h0M492.4 265.5h0M534.4 265.5h0M497.4 267.9h0M510.2 267.2h0M522.6 267.8h0M535.1 266.7h0M486.5 267.9h0M487.9 270.7h0M532.5 270.1h0M533.3 270.0h0M490.4 271.7h0M494.2 271.3h0M532.7 271.6h0M493.9 273.4h0M502.4 272.5h0M494.1 273.8h0M506.8 274.2h0M511.5 275.1h0M520.4 275.2h0M489.3 276.9h0M499.8 276.8h0M526.9 277.2h0M487.0 278.4h0M488.8 277.8h0M507.7 277.7h0M516.7 278.7h0M486.5 279.4h0M495.6 280.3h0M501.3 280.1h0M512.3 279.2h0M512.1 281.0h0M496.6 282.2h0M509.3 281.9h0M517.4 282.4h0M485.5 283.2h0M499.2 284.4h0M516.1 284.4h0M518.2 283.3h0M490.2 285.5h0M507.4 285.0h0M514.5 284.8h0M509.4 286.1h0M500.1 288.3h0M503.3 289.3h0"/><path stroke="#EBF3AB" d="M564.1 70.7h0M446.8 77.2h0M435.6 80.4h0M457.4 81.2h0M461.3 84.7h0M431.7 86.3h0M436.5 88.4h0M439.9 89.4h0M444.5 92.8h0M430.5 94.4h0M435.9 94.6h0M442.3 93.9h0M466.4 94.9h0M456.3 96.9h0M432.8 98.9h0M448.8 98.0h0M610.3 98.2h0M432.9 99.8h0M436.5 100.0h0M434.2 101.9h0M438.4 104.3h0M461.6 104.4h0M615.0 103.6h0M436.6 105.1h0M448.4 106.6h0M439.1 108.1h0M445.6 108.2h0M485.2 107.2h0M551.8 107.9h0M449.7 109.6h0M551.0 110.7h0M593.8 113.8h0M619.0 114.0h0M444.4 114.7h0M447.4 115.2h0M487.6 114.3h0M439.6 116.0h0M441.5 116.4h0M448.7 118.7h0M618.4 119.4h0M633.3 119.5h0M644.4 119.7h0M443.1 120.6h0M446.7 121.3h0M478.5 122.0h0M635.6 121.4h0M627.5 123.8h0M443.9 125.0h0M444.3 125.1h0M637.5 124.3h0M641.1 124.9h0M604.7 126.5h0M618.3 126.4h0M611.0 127.7h0M643.2 127.0h0M612.6 129.2h0M629.4 128.8h0M627.7 130.4h0M615.6 132.0h0M627.0 131.0h0M628.6 131.0h0M616.4 132.6h0M646.1 133.3h0M441.4 134.0h0M635.0 133.9h0M480.2 135.2h0M640.1 136.0h0M645.2 137.5h0M604.6 139.0h0M640.8 139.8h0M643.9 139.3h0M647.7 139.6h0M624.2 140.4h0M646.9 140.7h0M540.7 142.8h0M540.6 144.2h0M631.9 143.9h0M652.4 144.0h0M539.1 145.8h0M544.5 145.4h0M477.2 147.0h0M631.2 147.0h0M643.2 146.9h0M475.9 148.6h0M611.7 148.5h0M549.0 148.9h0M562.8 149.7h0M474.3 150.2h0M479.0 151.2h0M487.5 151.0h0M542.4 150.8h0M617.9 151.1h0M638.1 150.4h0M655.2 151.0h0M658.7 150.8h0M615.9 152.6h0M618.8 152.7h0M635.7 152.5h0M658.5 151.9h0M479.8 153.9h0M544.8 153.9h0M547.7 153.3h0M553.9 153.2h0M568.7 153.2h0M577.3 153.5h0M611.8 153.4h0M630.4 154.2h0M632.7 153.5h0M650.3 153.0h0M502.8 155.3h0M608.8 155.2h0M640.5 154.5h0M477.5 157.0h0M541.7 156.5h0M615.6 156.2h0M647.6 156.5h0M537.3 157.2h0M617.1 158.2h0M615.5 159.3h0M579.5 159.8h0M633.1 159.9h0M584.8 162.2h0M628.0 161.8h0M633.2 161.5h0M652.5 162.1h0M620.9 163.9h0M635.8 165.2h0M648.6 164.4h0M653.7 164.6h0M563.3 165.4h0M577.2 166.1h0M611.1 166.5h0M638.7 165.6h0M620.4 168.2h0M621.5 167.0h0M613.4 168.2h0M626.7 169.3h0M630.2 169.1h0M484.1 170.5h0M627.0 170.7h0M629.1 170.6h0M642.5 170.7h0M649.4 170.0h0M657.0 170.8h0M558.6 172.3h0M569.4 172.1h0M617.5 172.1h0M644.0 171.9h0M654.1 172.0h0M534.2 173.3h0M610.4 173.0h0M614.2 174.2h0M616.2 173.9h0M624.6 173.8h0M630.6 174.8h0M645.1 174.4h0M612.4 175.8h0M488.4 177.0h0M536.4 177.5h0M592.7 177.3h0M608.1 177.6h0M612.4 177.0h0M615.7 177.0h0M649.5 177.3h0M650.7 177.4h0M654.4 177.2h0M656.5 176.8h0M606.9 178.1h0M614.0 178.7h0M634.5 178.3h0M534.9 180.5h0M608.7 179.6h0M612.9 179.5h0M622.4 180.1h0M635.7 180.0h0M640.0 179.5h0M591.3 181.1h0M649.3 180.7h0M577.8 182.5h0M612.5 183.4h0M614.6 182.1h0M615.5 182.3h0M652.5 183.2h0M559.3 183.9h0M613.3 183.8h0M636.8 183.4h0M561.6 185.1h0M566.1 185.5h0M607.9 185.5h0M611.9 186.1h0M620.4 185.8h0M628.7 185.4h0M577.1 187.2h0M580.4 187.4h0M606.0 186.3h0M616.6 186.2h0M517.4 188.2h0M572.3 188.1h0M584.5 188.6h0M615.8 187.7h0M618.7 189.0h0M646.2 187.7h0M501.8 189.4h0M538.2 189.1h0M582.4 190.3h0M584.1 190.2h0M598.8 189.6h0M603.6 190.1h0M625.0 189.6h0M635.2 190.0h0M646.1 189.4h0M485.3 191.7h0M585.5 190.5h0M603.0 190.3h0M624.2 190.8h0M636.3 191.7h0M489.9 192.3h0M507.9 192.3h0M571.0 192.0h0M572.0 191.9h0M577.4 192.1h0M582.1 192.5h0M607.8 192.5h0M611.3 192.6h0M635.7 192.0h0M528.4 193.7h0M596.0 193.7h0M603.8 193.1h0M614.6 194.4h0M622.7 193.6h0M629.5 194.5h0M530.6 194.6h0M542.9 195.7h0M596.5 195.2h0M619.8 195.5h0M622.9 195.1h0M624.6 195.4h0M625.9 195.8h0M636.4 194.6h0M485.3 197.1h0M485.9 196.8h0M490.8 196.2h0M525.1 197.2h0M535.6 196.8h0M582.9 196.2h0M584.9 196.2h0M542.9 197.7h0M585.4 198.6h0M592.5 198.3h0M594.2 198.0h0M596.2 197.3h0M613.3 198.2h0M628.4 197.7h0M494.7 199.2h0M505.8 199.4h0M509.4 199.2h0M592.1 199.8h0M600.5 200.0h0M619.4 198.7h0M621.2 199.5h0M479.5 200.5h0M507.8 201.3h0M546.0 200.7h0M549.5 200.9h0M591.9 200.5h0M610.4 201.1h0M482.7 202.7h0M519.9 202.1h0M552.6 201.7h0M581.1 202.1h0M584.3 201.8h0M601.4 202.0h0M468.9 203.1h0M485.5 203.5h0M510.4 204.1h0M512.9 203.6h0M519.7 203.5h0M525.7 202.8h0M545.1 203.7h0M548.1 203.1h0M581.9 204.1h0M589.8 203.0h0M597.7 203.5h0M599.1 204.0h0M602.7 204.1h0M618.7 203.6h0M625.6 203.2h0M475.3 205.2h0M476.5 205.1h0M492.8 204.8h0M504.2 205.4h0M524.9 204.7h0M554.8 205.4h0M581.0 205.4h0M589.4 205.1h0M606.6 205.5h0M612.7 204.3h0M619.0 204.6h0M620.9 204.6h0M508.7 205.9h0M525.4 206.0h0M537.7 205.7h0M579.7 205.8h0M597.9 206.5h0M476.7 207.5h0M481.7 207.4h0M535.7 207.4h0M583.0 207.1h0M603.0 207.3h0M605.3 207.7h0M478.1 209.0h0M491.8 208.4h0M527.1 208.7h0M543.2 208.8h0M553.2 209.3h0M586.0 208.4h0M594.3 209.7h0M614.4 209.5h0M474.0 209.8h0M495.9 210.4h0M510.1 210.5h0M524.6 210.4h0M544.6 210.3h0M592.7 210.7h0M603.6 211.1h0M617.4 211.1h0M466.0 212.0h0M475.9 211.4h0M508.6 211.1h0M530.8 212.0h0M532.7 212.2h0M536.8 211.2h0M543.4 211.1h0M593.4 212.1h0M597.9 211.8h0M606.9 212.4h0M608.8 211.4h0M618.8 212.1h0M620.5 211.2h0M477.9 213.9h0M526.0 213.4h0M531.9 213.4h0M535.7 212.9h0M552.6 213.9h0M572.6 213.1h0M574.3 212.9h0M590.2 213.3h0M595.0 213.7h0M606.5 213.3h0M614.6 212.9h0M618.7 212.7h0M621.0 213.4h0M622.4 212.6h0M624.0 212.6h0M501.2 214.2h0M505.1 213.9h0M511.4 214.2h0M521.2 214.6h0M538.8 214.6h0M542.1 214.8h0M561.7 214.3h0M574.7 214.9h0M582.4 214.1h0M620.7 215.1h0M468.4 215.8h0M473.3 215.5h0M489.2 215.8h0M501.7 215.8h0M591.3 215.5h0M592.4 216.7h0M605.4 216.4h0M613.0 216.0h0M616.2 216.3h0M478.5 217.3h0M479.2 217.5h0M492.7 217.3h0M503.5 217.8h0M531.6 216.7h0M545.6 217.2h0M564.4 217.3h0M572.9 217.0h0M618.3 217.4h0M499.7 218.0h0M531.5 219.3h0M570.1 218.1h0M581.5 219.2h0M585.5 218.1h0M588.0 219.1h0M618.1 219.2h0M628.4 218.9h0M470.0 219.5h0M520.0 219.7h0M562.6 219.8h0M571.7 220.7h0M585.5 220.6h0M594.6 220.0h0M602.2 219.5h0M623.6 219.7h0M470.1 222.2h0M541.1 222.0h0M549.5 221.1h0M550.3 221.5h0M552.3 221.9h0M581.7 221.3h0M586.4 221.4h0M587.4 221.8h0M608.1 221.5h0M621.9 222.1h0M516.8 223.4h0M519.0 223.2h0M545.7 223.4h0M546.6 222.4h0M603.2 223.1h0M482.2 224.4h0M570.4 224.3h0M584.7 224.8h0M600.9 224.0h0M620.3 224.4h0M631.6 224.4h0M497.0 226.1h0M578.3 225.0h0M599.6 225.4h0M603.9 225.7h0M611.7 225.7h0M615.1 225.4h0M622.8 225.9h0M567.0 227.7h0M581.2 227.5h0M583.6 227.4h0M587.5 226.4h0M592.0 226.5h0M593.5 226.8h0M619.5 226.6h0M624.6 226.4h0M555.8 227.9h0M564.3 228.2h0M568.6 227.9h0M587.0 228.1h0M593.5 228.9h0M604.1 228.2h0M629.9 228.1h0M631.0 228.3h0M489.7 229.5h0M555.9 229.3h0M577.4 230.1h0M579.1 229.2h0M605.7 229.3h0M609.8 229.9h0M611.8 229.4h0M631.5 229.2h0M558.8 231.4h0M564.5 230.6h0M572.0 230.8h0M583.5 231.3h0M591.9 231.2h0M610.1 231.4h0M619.7 231.5h0M479.9 232.0h0M560.2 232.1h0M574.6 231.9h0M591.0 232.9h0M599.0 233.0h0M616.6 232.3h0M619.0 232.6h0M570.5 234.5h0M583.9 233.9h0M597.4 233.3h0M602.6 233.8h0M607.7 234.5h0M612.2 234.2h0M486.4 234.9h0M515.0 235.1h0M559.3 234.7h0M560.2 235.9h0M563.3 235.7h0M570.1 235.3h0M590.5 234.8h0M592.0 235.5h0M619.0 235.6h0M500.6 236.3h0M501.7 237.3h0M541.2 236.1h0M586.0 236.1h0M594.6 237.2h0M595.9 236.5h0M628.0 236.3h0M553.9 237.7h0M561.6 237.7h0M585.5 238.2h0M590.6 238.1h0M595.8 238.1h0M611.6 238.7h0M617.3 238.5h0M620.9 238.1h0M543.8 239.4h0M547.0 238.9h0M557.6 240.1h0M561.2 239.1h0M571.9 239.7h0M580.3 239.4h0M581.1 239.5h0M589.6 239.8h0M601.3 239.7h0M616.5 240.0h0M628.2 240.1h0M497.7 241.5h0M500.5 240.3h0M552.9 240.6h0M563.9 241.5h0M567.8 240.6h0M570.0 240.3h0M571.9 240.8h0M600.5 241.1h0M602.9 240.6h0M506.0 242.7h0M552.6 243.0h0M598.2 242.1h0M606.8 242.7h0M620.5 242.0h0M623.0 241.9h0M499.2 244.2h0M517.1 243.5h0M556.4 243.6h0M585.1 243.6h0M619.8 243.7h0M505.9 245.4h0M515.8 244.8h0M557.2 244.5h0M567.8 244.8h0M603.2 245.2h0M612.4 244.6h0M617.2 244.5h0M620.8 245.1h0M490.2 245.8h0M494.9 246.0h0M495.7 245.9h0M504.3 246.1h0M551.8 245.9h0M609.6 245.9h0M488.4 247.2h0M490.3 249.3h0M495.7 248.5h0M503.3 248.9h0M517.6 249.4h0M486.8 250.9h0M514.9 250.6h0M548.9 250.5h0M478.6 251.3h0M483.2 252.7h0M486.9 252.5h0M513.5 251.8h0M544.3 251.3h0M479.1 252.7h0M484.1 253.9h0M493.5 254.1h0M497.6 253.2h0M479.2 254.3h0M501.5 255.2h0M505.2 255.1h0M517.1 254.9h0M535.6 255.3h0M509.5 256.4h0M518.0 256.7h0M523.5 256.6h0M536.1 256.8h0M489.3 257.1h0M491.2 257.0h0M496.1 257.6h0M531.7 256.9h0M545.4 256.8h0M491.6 259.6h0M499.7 259.1h0M503.2 258.3h0M515.8 259.4h0M535.9 259.5h0M536.3 259.7h0M477.5 262.2h0M502.1 261.0h0M505.1 261.3h0M507.0 261.7h0M508.4 261.6h0M514.4 261.9h0M540.1 261.7h0M480.8 262.5h0M495.0 262.9h0M510.1 263.1h0M526.6 263.4h0M533.7 263.7h0M479.6 264.0h0M481.5 264.6h0M482.8 264.9h0M488.0 265.0h0M502.9 263.8h0M506.2 265.0h0M514.0 263.9h0M480.0 266.4h0M482.1 265.4h0M485.0 265.3h0M486.4 265.8h0M496.9 266.0h0M503.7 266.0h0M514.8 266.6h0M528.7 266.5h0M536.5 265.4h0M500.1 266.7h0M533.5 267.7h0M491.0 269.2h0M493.0 268.8h0M501.5 268.0h0M530.1 269.0h0M485.8 270.2h0M502.0 269.7h0M504.3 270.1h0M518.8 269.6h0M530.2 270.3h0M479.0 271.7h0M486.5 271.3h0M499.5 271.4h0M501.3 271.1h0M496.9 273.3h0M504.5 272.6h0M525.6 273.1h0M480.3 274.5h0M492.1 273.5h0M526.6 274.7h0M503.2 275.8h0M505.4 275.4h0M519.2 275.7h0M527.6 275.6h0M496.7 276.4h0M506.2 277.4h0M509.6 277.2h0M491.1 277.8h0M493.5 278.6h0M481.9 279.0h0M508.3 279.3h0M516.0 279.5h0M510.0 280.5h0M512.5 280.8h0M486.4 283.2h0M491.8 282.2h0M505.6 281.8h0M490.5 283.6h0M502.7 284.4h0M505.7 284.6h0M488.2 285.3h0M501.5 285.5h0M512.1 286.1h0M493.0 288.2h0M495.0 288.5h0M496.0 288.5h0"/><path stroke="#F6F1A7" d="M442.1 57.5h0M446.6 57.6h0M449.3 66.1h0M461.4 67.3h0M448.7 70.6h0M473.0 87.7h0M450.3 88.9h0M431.3 89.2h0M432.2 91.9h0M429.7 93.3h0M446.7 92.0h0M620.4 92.3h0M432.5 94.7h0M478.1 93.4h0M470.3 97.9h0M579.9 103.2h0M440.1 104.7h0M441.3 105.0h0M440.8 111.6h0M446.0 115.7h0M450.9 115.8h0M443.5 118.2h0M605.4 118.4h0M617.0 120.1h0M602.6 123.2h0M612.9 122.4h0M624.5 122.6h0M447.6 124.7h0M449.1 125.5h0M591.5 127.5h0M597.4 126.9h0M637.2 126.7h0M617.5 129.2h0M447.6 129.8h0M638.9 129.6h0M641.4 130.0h0M597.5 131.2h0M623.8 131.2h0M617.7 133.0h0M446.0 135.9h0M649.3 135.5h0M634.4 139.6h0M650.5 139.2h0M539.4 140.8h0M541.4 140.4h0M617.9 140.9h0M622.5 141.2h0M479.5 143.1h0M485.5 142.9h0M483.4 143.7h0M628.4 143.2h0M637.6 144.0h0M567.1 145.9h0M612.4 145.7h0M486.8 146.9h0M544.3 146.9h0M569.1 146.4h0M545.7 148.5h0M550.4 148.3h0M475.0 149.5h0M477.9 149.4h0M629.5 149.5h0M640.8 149.1h0M549.7 151.0h0M554.1 150.6h0M616.0 151.1h0M633.5 150.4h0M534.8 152.2h0M540.6 151.9h0M652.3 151.8h0M658.9 152.9h0M573.9 153.1h0M623.5 153.7h0M482.9 156.4h0M566.1 156.6h0M638.8 155.7h0M654.3 156.6h0M477.9 157.2h0M481.9 157.9h0M483.9 157.9h0M536.8 157.9h0M573.3 158.1h0M626.1 157.4h0M641.6 157.8h0M644.9 158.5h0M569.6 158.8h0M614.5 159.7h0M626.5 160.4h0M628.3 160.1h0M647.8 160.3h0M539.0 161.9h0M572.7 161.4h0M534.2 163.3h0M544.3 163.4h0M614.1 163.4h0M629.7 163.5h0M484.8 164.2h0M486.0 164.3h0M542.2 164.0h0M556.5 164.0h0M558.7 164.7h0M613.6 165.4h0M661.3 165.2h0M533.0 165.9h0M558.8 165.6h0M582.8 167.4h0M534.1 169.0h0M633.5 169.4h0M637.3 170.9h0M658.2 170.6h0M613.6 171.4h0M593.3 172.5h0M575.6 174.8h0M625.9 174.0h0M647.2 174.8h0M660.4 175.8h0M627.3 177.9h0M629.0 176.9h0M557.9 179.3h0M615.9 177.9h0M646.2 177.9h0M651.2 178.5h0M614.1 180.4h0M624.6 181.6h0M643.5 181.4h0M651.3 181.9h0M561.5 182.7h0M596.8 182.3h0M622.4 182.8h0M645.0 182.3h0M604.1 184.4h0M608.6 184.4h0M618.1 184.8h0M622.2 184.8h0M644.8 184.2h0M605.0 185.5h0M567.6 187.4h0M573.7 187.2h0M610.3 186.8h0M563.7 187.8h0M575.9 188.9h0M579.5 188.1h0M600.1 188.3h0M624.0 188.3h0M628.3 188.8h0M600.8 190.3h0M617.7 189.1h0M620.6 189.5h0M622.7 189.8h0M636.6 189.3h0M637.5 189.0h0M592.0 190.8h0M593.9 190.6h0M602.1 190.4h0M605.5 190.4h0M609.8 191.2h0M587.2 192.5h0M595.9 192.0h0M612.8 192.2h0M485.9 193.6h0M573.7 193.6h0M586.4 193.3h0M609.1 193.7h0M638.0 193.8h0M575.1 195.2h0M601.0 195.6h0M492.8 197.1h0M520.9 196.4h0M537.3 196.4h0M622.8 197.0h0M482.2 198.2h0M545.7 197.3h0M547.8 198.6h0M549.5 198.6h0M579.1 197.7h0M601.5 197.9h0M602.8 197.3h0M517.2 199.5h0M537.8 199.5h0M556.3 199.8h0M597.6 199.6h0M606.9 198.8h0M622.8 199.5h0M631.0 199.1h0M472.7 201.4h0M499.6 201.4h0M582.2 201.2h0M626.2 200.4h0M545.4 202.5h0M586.4 202.2h0M587.2 202.1h0M605.6 202.1h0M605.9 201.7h0M614.7 201.4h0M626.2 202.3h0M475.3 203.4h0M488.8 203.8h0M502.0 203.3h0M515.2 203.6h0M524.1 203.1h0M544.0 203.3h0M550.2 203.3h0M551.7 203.7h0M556.0 202.9h0M561.2 203.5h0M583.0 202.9h0M585.7 203.8h0M605.8 202.9h0M617.4 202.9h0M620.2 203.6h0M495.5 204.7h0M509.9 204.7h0M540.9 205.5h0M548.8 204.3h0M598.2 204.9h0M617.4 204.8h0M534.0 206.3h0M559.1 206.0h0M590.1 206.2h0M596.3 206.4h0M604.7 205.6h0M501.1 208.2h0M507.5 207.9h0M552.0 208.0h0M557.0 207.7h0M561.8 208.0h0M590.4 208.3h0M611.3 207.1h0M616.9 208.2h0M480.3 208.6h0M514.9 209.2h0M544.4 208.8h0M583.3 209.1h0M589.9 209.3h0M601.2 208.7h0M533.4 210.8h0M550.4 210.5h0M552.0 210.2h0M556.8 210.7h0M572.5 210.4h0M597.5 210.0h0M599.6 210.8h0M611.9 210.9h0M483.1 211.2h0M540.9 212.3h0M546.5 211.2h0M565.7 212.4h0M602.4 212.1h0M612.2 211.7h0M533.3 213.0h0M598.8 212.6h0M609.8 213.9h0M545.3 214.8h0M585.0 214.7h0M616.9 215.2h0M478.0 215.3h0M547.7 216.2h0M562.0 216.1h0M568.5 216.3h0M570.8 216.3h0M606.2 216.4h0M521.9 217.2h0M534.5 217.9h0M540.6 217.7h0M563.3 217.9h0M584.0 217.1h0M589.2 217.9h0M604.3 217.1h0M612.6 217.6h0M485.3 218.7h0M514.4 218.4h0M535.7 218.4h0M542.4 218.7h0M615.6 219.2h0M527.6 220.1h0M543.8 219.9h0M555.1 220.7h0M556.4 220.1h0M567.8 219.6h0M568.4 219.5h0M591.6 219.6h0M622.4 220.1h0M495.2 222.1h0M519.6 222.2h0M535.3 221.1h0M569.3 221.0h0M623.9 220.8h0M559.4 223.6h0M605.4 223.4h0M621.9 223.6h0M483.0 224.5h0M530.1 223.9h0M551.2 223.6h0M566.0 225.0h0M572.6 225.0h0M608.5 223.9h0M611.2 224.2h0M615.3 223.8h0M617.8 224.5h0M484.6 225.1h0M573.1 225.6h0M580.2 225.4h0M593.0 226.2h0M600.7 226.0h0M618.0 225.7h0M485.3 226.4h0M570.3 227.6h0M572.8 227.5h0M575.0 227.7h0M576.0 226.7h0M607.0 227.3h0M611.7 226.5h0M483.0 228.9h0M487.6 227.8h0M613.2 228.3h0M615.0 229.1h0M621.2 228.4h0M622.9 228.2h0M476.8 229.7h0M550.3 229.6h0M560.8 229.2h0M561.5 229.7h0M564.5 230.4h0M582.7 229.3h0M591.1 229.5h0M598.3 229.3h0M606.8 229.9h0M629.3 229.5h0M562.0 231.1h0M595.3 231.0h0M598.5 231.3h0M599.0 231.8h0M601.2 231.3h0M612.5 231.0h0M621.3 231.6h0M624.9 231.0h0M626.0 230.7h0M490.9 232.1h0M553.7 233.2h0M561.6 232.2h0M572.7 233.1h0M584.5 233.0h0M587.4 232.1h0M604.1 233.1h0M519.6 234.1h0M548.3 234.3h0M557.3 234.5h0M559.3 233.6h0M575.1 234.2h0M579.2 234.6h0M579.5 233.6h0M586.5 233.4h0M599.4 233.5h0M630.4 233.9h0M516.9 235.0h0M579.6 234.8h0M588.0 234.9h0M604.9 234.9h0M633.3 235.4h0M511.6 236.8h0M554.9 236.8h0M564.1 237.1h0M572.8 237.1h0M618.9 236.3h0M563.4 237.6h0M579.1 238.7h0M597.7 237.6h0M598.4 237.7h0M615.7 237.8h0M624.2 237.7h0M626.1 237.6h0M547.8 239.5h0M551.1 239.7h0M560.0 239.4h0M584.3 239.5h0M594.1 239.7h0M602.5 239.4h0M629.4 239.6h0M496.7 240.2h0M580.4 240.9h0M590.4 240.7h0M592.4 240.4h0M623.7 240.8h0M626.9 240.8h0M514.4 242.8h0M542.9 242.4h0M558.2 242.0h0M559.2 242.8h0M571.2 243.0h0M605.5 242.1h0M611.8 241.6h0M509.5 244.3h0M542.1 243.9h0M550.1 243.2h0M553.5 243.1h0M577.1 244.0h0M514.5 244.7h0M517.7 245.0h0M544.6 245.0h0M548.7 245.5h0M556.6 244.4h0M561.2 245.8h0M568.3 244.6h0M594.6 244.9h0M515.1 247.0h0M543.1 245.8h0M544.5 247.0h0M545.5 245.9h0M553.8 246.7h0M615.0 246.6h0M616.8 246.3h0M552.1 247.9h0M494.8 249.9h0M497.4 248.6h0M508.6 248.6h0M544.3 249.0h0M552.3 248.7h0M544.1 250.7h0M551.7 250.5h0M498.0 252.4h0M500.5 251.4h0M511.9 252.0h0M548.7 252.0h0M481.0 252.9h0M488.7 252.7h0M519.2 254.1h0M541.1 254.0h0M547.2 252.8h0M487.2 254.7h0M487.5 254.3h0M504.4 254.4h0M537.1 255.4h0M543.2 254.1h0M487.0 256.6h0M507.2 256.2h0M480.6 258.0h0M485.0 257.1h0M502.7 258.1h0M505.2 257.5h0M508.0 257.2h0M512.7 257.4h0M475.6 258.8h0M478.7 258.9h0M480.9 258.3h0M509.9 258.9h0M517.5 259.6h0M524.9 258.7h0M542.7 259.0h0M479.2 259.9h0M481.4 260.2h0M494.4 260.3h0M510.6 260.8h0M518.7 260.5h0M533.1 259.6h0M488.0 261.7h0M532.8 261.3h0M498.8 262.7h0M502.4 263.7h0M511.9 262.4h0M489.3 265.1h0M493.9 264.6h0M508.2 264.3h0M517.2 263.9h0M488.8 266.2h0M489.7 266.0h0M495.1 265.9h0M513.5 266.5h0M481.4 267.3h0M483.5 267.1h0M490.9 266.7h0M501.2 266.6h0M508.7 266.5h0M524.3 266.5h0M530.9 267.2h0M502.1 268.2h0M516.0 268.5h0M533.7 268.3h0M488.4 269.5h0M490.0 270.0h0M493.3 269.3h0M498.9 269.5h0M500.2 270.3h0M508.6 269.3h0M525.9 269.9h0M523.8 271.6h0M528.7 271.9h0M495.8 272.7h0M503.0 272.6h0M511.3 272.3h0M514.1 272.7h0M522.9 272.8h0M526.8 272.7h0M483.0 274.7h0M498.9 274.8h0M504.1 273.5h0M515.2 274.5h0M523.8 274.3h0M491.9 275.1h0M499.9 275.9h0M522.6 276.1h0M526.2 275.8h0M530.2 275.0h0M483.1 276.2h0M493.5 276.6h0M503.1 277.2h0M514.7 276.4h0M525.4 277.6h0M499.2 278.0h0M502.4 278.1h0M517.8 278.1h0M503.2 280.2h0M514.0 279.7h0M489.4 280.4h0M508.3 280.4h0M521.9 280.5h0M484.8 282.6h0M497.6 284.5h0M511.9 284.2h0M512.8 284.1h0M505.5 285.8h0M492.0 286.7h0M495.0 286.5h0M505.6 286.5h0M506.7 287.0h0"/><path stroke="#FAE696" d="M464.0 86.3h0M432.5 89.7h0M455.7 89.5h0M559.2 92.3h0M433.5 94.3h0M431.8 95.4h0M455.4 95.1h0M435.7 98.0h0M434.7 101.3h0M437.9 102.4h0M439.5 109.0h0M450.4 109.6h0M554.6 112.5h0M442.5 113.1h0M447.0 113.7h0M439.8 115.4h0M447.8 116.7h0M445.2 117.1h0M448.6 118.2h0M442.4 118.9h0M631.5 123.5h0M449.1 123.9h0M444.8 125.4h0M445.9 126.6h0M613.9 126.6h0M631.3 125.7h0M647.8 130.3h0M605.7 133.1h0M441.9 133.8h0M444.4 135.3h0M598.9 135.7h0M616.4 136.9h0M633.7 138.0h0M613.5 139.5h0M651.9 139.8h0M596.9 141.4h0M653.1 141.4h0M546.9 143.1h0M586.3 142.6h0M620.8 142.3h0M626.3 142.8h0M542.9 143.7h0M544.1 143.5h0M545.8 144.6h0M611.0 144.3h0M612.8 144.3h0M633.1 143.6h0M639.0 143.6h0M591.2 145.0h0M626.7 145.6h0M547.0 146.4h0M539.2 150.0h0M540.4 149.4h0M565.3 150.2h0M612.6 149.7h0M483.8 151.1h0M605.2 150.4h0M634.5 150.4h0M640.1 150.7h0M538.1 152.0h0M540.3 153.3h0M587.8 153.1h0M627.5 153.5h0M574.7 154.9h0M602.3 154.9h0M644.0 154.9h0M480.9 157.1h0M621.4 156.8h0M626.4 156.4h0M642.8 156.6h0M561.3 158.4h0M553.4 159.8h0M536.3 160.2h0M612.2 162.5h0M613.8 161.5h0M644.0 161.5h0M486.2 162.9h0M616.8 163.5h0M642.1 163.8h0M649.9 163.2h0M652.0 163.1h0M533.6 164.2h0M540.7 165.2h0M588.6 164.2h0M629.8 167.1h0M642.3 167.9h0M614.3 169.5h0M643.6 169.2h0M563.0 170.8h0M610.6 169.8h0M609.5 171.2h0M628.5 171.5h0M637.4 174.3h0M650.7 174.2h0M609.6 175.6h0M589.4 176.7h0M620.8 177.1h0M624.6 176.8h0M639.1 176.7h0M640.8 177.7h0M652.9 179.4h0M611.9 180.6h0M653.2 181.4h0M559.2 183.3h0M606.0 182.8h0M607.9 183.4h0M562.5 184.3h0M620.8 184.1h0M645.7 183.8h0M650.2 183.9h0M480.4 186.0h0M558.3 185.2h0M560.2 185.3h0M606.0 185.0h0M615.8 185.2h0M536.6 187.3h0M578.5 186.5h0M586.7 187.0h0M609.2 187.2h0M624.9 187.4h0M565.4 187.9h0M577.1 187.6h0M593.8 187.6h0M569.7 188.9h0M584.9 189.5h0M586.7 189.8h0M588.2 189.4h0M595.7 189.9h0M629.5 189.6h0M630.7 189.3h0M579.8 190.6h0M594.8 191.6h0M598.0 190.7h0M478.4 191.8h0M541.5 192.8h0M578.9 192.4h0M594.8 192.2h0M622.9 192.5h0M534.4 193.9h0M621.5 194.5h0M571.9 195.0h0M598.9 195.1h0M607.4 195.7h0M631.4 194.9h0M549.5 196.1h0M608.8 196.5h0M517.4 197.8h0M551.3 197.2h0M555.1 198.6h0M581.5 198.2h0M530.2 199.7h0M601.6 199.8h0M533.4 200.3h0M538.4 200.3h0M550.9 200.8h0M556.7 200.1h0M557.4 200.0h0M594.5 200.6h0M607.7 201.1h0M625.3 200.6h0M555.3 201.6h0M575.7 201.5h0M589.5 201.5h0M590.8 202.7h0M595.9 202.2h0M597.7 201.6h0M600.6 201.6h0M609.8 202.6h0M484.1 203.5h0M555.2 204.1h0M557.2 205.4h0M578.8 205.4h0M605.2 205.4h0M478.7 206.6h0M488.1 206.7h0M549.5 206.2h0M554.4 206.6h0M557.9 206.9h0M563.0 206.1h0M613.1 206.7h0M517.0 207.9h0M555.1 207.5h0M595.8 208.2h0M617.5 207.3h0M622.5 207.1h0M483.8 209.1h0M567.7 209.3h0M596.2 209.5h0M577.3 210.2h0M587.3 210.4h0M590.3 210.9h0M614.1 210.0h0M555.6 212.0h0M575.6 211.9h0M580.0 212.2h0M584.5 211.9h0M491.8 212.8h0M561.4 213.1h0M567.9 212.9h0M571.5 213.0h0M577.5 213.4h0M584.4 213.6h0M588.4 213.5h0M594.0 213.1h0M473.6 214.8h0M547.1 214.4h0M583.6 214.1h0M597.3 214.6h0M606.0 214.9h0M606.7 214.8h0M608.6 214.7h0M612.8 214.8h0M485.5 216.4h0M536.4 215.9h0M560.0 215.5h0M609.8 215.4h0M617.9 216.4h0M625.3 215.9h0M486.4 217.1h0M523.7 216.9h0M556.1 217.8h0M575.3 217.6h0M577.2 216.8h0M596.6 217.0h0M625.4 217.6h0M564.8 218.2h0M566.7 219.0h0M595.7 218.3h0M599.8 219.0h0M539.1 220.5h0M573.4 220.4h0M583.9 219.8h0M599.4 219.8h0M609.1 220.3h0M616.9 220.7h0M545.9 221.6h0M558.3 221.5h0M571.5 221.6h0M575.8 221.2h0M599.6 221.7h0M604.8 221.0h0M614.1 222.0h0M618.4 221.6h0M621.3 221.3h0M627.0 221.4h0M628.5 221.5h0M550.7 222.6h0M564.5 223.5h0M573.4 222.4h0M592.5 223.6h0M615.0 222.5h0M617.1 222.9h0M616.6 224.1h0M619.4 224.4h0M568.4 225.2h0M616.4 225.5h0M621.2 225.8h0M628.3 225.3h0M582.9 227.4h0M600.7 226.6h0M601.7 227.7h0M607.9 227.5h0M480.9 227.9h0M552.3 228.4h0M557.8 228.5h0M563.2 228.5h0M591.5 228.9h0M603.2 228.9h0M606.5 227.9h0M619.0 228.2h0M554.1 230.2h0M562.8 229.6h0M601.6 229.6h0M626.4 229.6h0M566.3 231.4h0M573.9 231.0h0M607.2 231.7h0M615.3 231.7h0M520.4 233.0h0M555.7 233.3h0M578.5 232.2h0M585.7 232.7h0M599.6 232.5h0M606.6 232.0h0M630.0 233.2h0M551.3 234.1h0M571.8 234.2h0M591.8 233.4h0M609.6 234.5h0M623.1 233.9h0M633.5 234.6h0M549.6 235.5h0M576.9 235.2h0M595.3 235.6h0M627.8 235.9h0M557.6 236.3h0M579.9 237.3h0M584.7 236.2h0M608.6 236.4h0M612.8 237.4h0M619.9 237.2h0M624.0 237.3h0M629.9 236.7h0M546.1 238.3h0M575.8 238.1h0M613.6 238.4h0M583.0 239.0h0M606.4 239.2h0M613.3 240.0h0M615.7 239.6h0M624.1 239.5h0M545.6 240.7h0M566.1 241.4h0M574.8 241.3h0M597.3 241.2h0M605.7 240.4h0M610.4 241.5h0M623.3 240.8h0M629.4 240.9h0M501.8 241.7h0M580.0 242.0h0M591.7 242.4h0M601.6 242.7h0M603.7 242.6h0M502.7 244.0h0M515.6 243.0h0M552.6 243.5h0M562.5 243.3h0M565.2 244.3h0M568.3 244.3h0M570.3 243.8h0M590.6 243.1h0M595.5 244.2h0M621.6 243.6h0M625.7 244.0h0M508.7 245.1h0M539.6 244.4h0M608.7 245.2h0M510.1 246.1h0M518.2 246.4h0M540.5 245.9h0M556.9 246.3h0M558.6 246.2h0M608.8 246.1h0M611.9 246.6h0M494.5 247.5h0M484.5 248.5h0M501.5 249.6h0M517.9 248.5h0M497.4 250.9h0M517.3 250.5h0M546.3 250.9h0M479.6 251.4h0M491.6 252.3h0M492.3 251.4h0M504.7 252.0h0M512.4 253.9h0M509.7 255.0h0M515.6 254.5h0M483.9 255.8h0M527.5 256.1h0M532.1 256.2h0M514.2 258.2h0M519.7 257.2h0M528.9 257.6h0M490.1 258.5h0M497.1 259.1h0M521.1 259.3h0M502.5 260.4h0M515.2 261.0h0M520.5 260.8h0M523.9 260.4h0M527.0 260.0h0M502.8 261.3h0M482.1 263.6h0M500.8 263.5h0M520.6 262.8h0M528.3 263.1h0M529.9 263.1h0M490.3 264.9h0M501.7 264.1h0M521.2 264.1h0M534.1 263.8h0M519.7 265.6h0M521.7 266.1h0M526.4 266.5h0M531.4 265.6h0M485.2 267.4h0M488.6 266.6h0M503.2 266.5h0M519.2 267.6h0M521.2 267.6h0M537.3 267.0h0M494.0 268.4h0M509.4 269.1h0M525.0 268.9h0M512.1 270.0h0M524.8 269.7h0M479.9 272.0h0M492.0 271.4h0M496.7 271.2h0M502.2 271.9h0M510.7 270.8h0M516.8 271.4h0M522.0 271.4h0M525.2 271.8h0M478.8 272.7h0M483.6 272.3h0M500.8 272.4h0M508.7 272.7h0M486.8 274.4h0M502.2 274.3h0M519.1 274.0h0M521.9 273.5h0M524.5 273.8h0M486.4 275.5h0M489.2 276.0h0M495.1 275.6h0M486.8 277.3h0M517.7 276.8h0M523.8 276.8h0M497.3 277.7h0M499.6 277.8h0M507.3 277.7h0M494.0 279.2h0M516.6 279.4h0M490.3 281.6h0M501.9 280.6h0M505.3 281.3h0M515.8 281.2h0M517.3 280.6h0M521.1 280.9h0M492.8 282.6h0M489.4 284.4h0M493.2 285.0h0M503.1 285.6h0M504.7 284.7h0M509.6 285.7h0M509.9 285.3h0M497.9 286.1h0M497.4 287.6h0"/><path stroke="#FDD884" d="M429.9 86.2h0M470.5 93.2h0M434.1 98.4h0M436.1 99.5h0M433.6 100.3h0M437.1 107.6h0M440.4 108.8h0M634.4 110.2h0M447.3 119.7h0M450.2 121.5h0M607.1 123.0h0M619.9 123.0h0M620.8 126.5h0M624.2 130.5h0M613.4 135.4h0M543.3 144.6h0M647.7 144.9h0M543.2 148.0h0M548.5 147.9h0M534.1 151.0h0M549.6 153.0h0M554.0 152.7h0M562.0 151.9h0M578.4 151.9h0M556.8 153.8h0M544.6 155.0h0M651.5 155.4h0M542.9 156.2h0M576.5 156.9h0M539.4 157.2h0M542.3 157.8h0M571.0 159.3h0M651.0 159.6h0M642.3 160.0h0M480.5 161.9h0M656.6 163.8h0M659.7 162.8h0M644.3 164.8h0M543.2 166.2h0M570.8 165.8h0M565.1 167.5h0M546.4 168.2h0M501.5 169.9h0M534.0 169.6h0M535.9 170.2h0M582.2 173.4h0M647.3 172.7h0M610.7 174.0h0M658.1 174.6h0M659.8 174.4h0M535.4 175.7h0M635.7 175.7h0M556.7 177.0h0M609.7 177.8h0M650.0 180.3h0M610.8 180.7h0M620.1 182.6h0M556.6 184.1h0M560.6 184.7h0M561.3 187.4h0M640.4 186.2h0M642.7 187.2h0M645.6 186.9h0M643.7 187.7h0M520.4 189.3h0M593.4 190.0h0M614.4 191.7h0M620.5 190.9h0M599.3 191.8h0M617.0 192.9h0M641.0 192.2h0M542.6 193.6h0M571.0 195.4h0M576.7 197.0h0M577.9 196.8h0M592.9 196.9h0M604.8 196.0h0M606.7 197.2h0M485.3 198.4h0M557.8 198.7h0M573.7 198.0h0M616.7 197.3h0M625.6 198.4h0M524.6 199.1h0M546.4 199.3h0M554.2 199.7h0M603.4 198.8h0M610.1 198.7h0M537.4 200.0h0M575.4 201.1h0M577.6 201.1h0M629.7 200.7h0M505.6 202.0h0M577.8 201.7h0M575.2 203.2h0M614.0 203.1h0M544.6 204.6h0M547.2 205.4h0M559.8 205.0h0M582.9 205.2h0M614.0 204.5h0M528.7 206.7h0M570.5 206.0h0M621.8 206.3h0M560.3 208.0h0M566.2 207.1h0M571.9 207.3h0M584.8 208.2h0M598.2 208.5h0M543.1 211.1h0M563.7 209.8h0M585.5 211.0h0M598.0 209.7h0M511.4 211.8h0M549.3 211.3h0M600.9 211.4h0M611.2 212.2h0M551.1 212.9h0M532.3 214.4h0M549.7 214.7h0M551.2 215.2h0M579.0 214.0h0M579.8 215.2h0M610.9 215.0h0M613.6 214.8h0M548.7 216.7h0M554.7 216.0h0M566.0 216.6h0M569.2 216.7h0M589.3 216.5h0M486.7 217.2h0M535.0 217.8h0M581.9 217.8h0M552.4 218.8h0M556.6 219.0h0M605.6 218.6h0M609.7 219.1h0M619.1 218.8h0M620.9 219.0h0M565.1 220.5h0M600.9 220.4h0M627.7 219.7h0M564.4 221.2h0M592.9 221.4h0M596.6 221.3h0M611.5 221.2h0M587.6 222.3h0M609.7 222.9h0M618.4 222.4h0M623.4 223.2h0M629.1 223.1h0M551.7 224.9h0M564.9 224.2h0M579.6 223.9h0M598.6 223.8h0M532.8 225.2h0M548.6 225.2h0M551.0 226.1h0M584.3 225.6h0M491.8 227.6h0M605.4 226.6h0M630.8 227.6h0M594.9 229.4h0M569.6 231.0h0M603.8 231.1h0M628.4 230.8h0M565.7 232.8h0M499.9 234.5h0M553.5 233.3h0M620.2 234.0h0M622.4 233.4h0M630.7 233.8h0M552.2 235.6h0M571.0 234.8h0M596.9 235.3h0M600.8 235.9h0M608.8 235.9h0M610.7 236.0h0M618.3 235.7h0M622.6 234.9h0M624.8 235.2h0M625.3 234.8h0M539.8 236.8h0M565.2 236.8h0M568.7 237.2h0M576.8 236.5h0M582.5 236.5h0M603.0 237.2h0M549.7 238.0h0M574.5 238.4h0M584.9 237.7h0M586.8 237.5h0M610.1 238.5h0M627.0 238.2h0M630.5 238.8h0M495.5 239.3h0M539.6 239.2h0M569.1 239.6h0M620.2 239.0h0M555.1 240.4h0M616.2 240.2h0M500.4 241.9h0M518.2 242.9h0M548.4 241.7h0M576.6 242.5h0M505.9 243.7h0M517.9 244.2h0M563.7 243.2h0M597.2 244.1h0M607.5 244.0h0M615.9 243.7h0M494.3 245.7h0M623.5 244.7h0M498.1 246.0h0M517.5 246.7h0M490.6 247.9h0M492.7 247.4h0M508.0 248.2h0M537.7 248.1h0M555.8 247.3h0M504.3 249.7h0M480.9 251.3h0M552.4 251.0h0M510.9 252.0h0M519.0 251.6h0M539.4 252.7h0M546.9 252.3h0M534.4 253.8h0M536.6 253.1h0M494.4 254.8h0M518.2 255.3h0M519.7 254.3h0M526.4 255.2h0M528.6 254.9h0M546.3 254.4h0M486.1 255.8h0M492.0 256.2h0M486.5 257.2h0M510.8 257.8h0M532.7 257.3h0M542.8 257.3h0M544.4 257.1h0M529.6 259.4h0M533.9 259.5h0M511.5 260.6h0M521.7 260.4h0M528.0 260.0h0M534.0 260.5h0M539.3 261.0h0M542.0 260.0h0M483.6 261.5h0M492.5 262.4h0M522.4 261.1h0M527.2 261.2h0M528.9 261.7h0M530.5 261.4h0M518.2 263.7h0M476.6 264.1h0M505.1 264.9h0M512.4 265.0h0M525.6 264.8h0M530.5 264.0h0M509.6 266.1h0M511.1 266.1h0M518.4 266.4h0M530.3 265.9h0M532.9 266.1h0M538.0 266.2h0M493.8 267.1h0M512.3 267.9h0M517.3 268.1h0M525.9 268.8h0M528.6 268.1h0M507.0 270.3h0M513.4 269.3h0M515.3 269.5h0M516.0 269.8h0M517.3 270.5h0M522.2 269.6h0M528.0 270.2h0M481.2 272.1h0M508.8 270.7h0M531.1 273.4h0M481.3 274.9h0M512.3 274.3h0M517.1 274.4h0M520.6 274.8h0M530.3 274.7h0M531.7 273.6h0M494.3 275.0h0M501.9 274.9h0M524.0 275.7h0M484.8 276.4h0M491.5 276.6h0M509.9 277.3h0M511.8 276.5h0M505.0 277.8h0M509.9 278.6h0M520.8 278.4h0M522.6 278.5h0M526.0 278.2h0M498.3 279.1h0M510.8 279.8h0M524.6 279.4h0M483.1 281.0h0M495.2 281.5h0M499.6 280.7h0M490.3 281.9h0M509.2 284.2h0M508.6 286.6h0"/><path stroke="#FCC172" d="M438.2 68.5h0M433.7 91.4h0M430.9 93.0h0M430.0 95.5h0M432.0 96.8h0M435.7 104.9h0M616.7 125.6h0M448.8 128.4h0M643.9 130.0h0M441.7 133.5h0M611.9 134.9h0M634.1 136.3h0M625.5 142.1h0M642.2 143.2h0M630.8 144.1h0M613.9 145.5h0M634.9 145.2h0M575.6 147.6h0M609.4 151.8h0M624.4 155.9h0M487.2 157.9h0M542.4 159.4h0M620.3 159.0h0M628.6 159.5h0M634.6 159.6h0M557.9 162.5h0M542.4 167.3h0M631.9 167.3h0M617.7 168.8h0M632.3 170.3h0M653.2 170.7h0M638.8 171.2h0M557.4 175.8h0M561.4 176.3h0M618.6 175.8h0M642.7 176.7h0M536.9 179.6h0M537.4 180.0h0M555.6 180.6h0M557.9 179.5h0M574.4 180.6h0M536.5 181.3h0M559.6 181.2h0M639.0 181.1h0M554.3 182.8h0M559.7 182.8h0M571.3 182.4h0M611.1 182.0h0M536.3 184.0h0M554.6 183.8h0M565.4 184.8h0M569.8 185.6h0M560.1 186.2h0M562.0 186.6h0M569.1 187.0h0M626.5 186.4h0M540.7 190.1h0M565.4 189.4h0M567.2 188.9h0M573.6 189.9h0M640.3 189.9h0M541.0 190.7h0M641.2 190.4h0M592.5 192.5h0M540.9 193.1h0M544.0 193.7h0M625.4 193.9h0M621.0 196.6h0M575.0 198.7h0M590.0 197.8h0M610.9 198.4h0M576.2 199.4h0M556.8 201.4h0M619.8 201.4h0M570.6 203.1h0M545.2 205.5h0M561.9 204.8h0M562.7 204.5h0M568.3 205.1h0M609.7 205.0h0M623.6 205.6h0M545.9 206.6h0M572.0 206.6h0M578.9 206.7h0M581.4 206.8h0M575.4 208.8h0M561.3 210.8h0M582.4 209.9h0M583.4 211.8h0M545.2 213.2h0M582.6 213.5h0M587.7 213.0h0M592.9 213.2h0M597.1 213.4h0M494.1 214.7h0M556.5 214.3h0M595.3 215.0h0M599.2 213.9h0M583.1 215.6h0M597.6 215.8h0M615.1 216.4h0M585.0 217.9h0M588.1 217.9h0M561.5 219.4h0M577.3 218.9h0M606.1 218.1h0M614.0 219.4h0M619.0 220.2h0M624.6 220.5h0M582.3 220.8h0M593.2 221.2h0M594.7 221.7h0M548.2 223.1h0M556.7 222.8h0M562.9 222.2h0M586.6 222.8h0M595.2 223.6h0M599.4 223.0h0M604.1 222.2h0M607.9 222.9h0M554.2 225.0h0M558.3 224.3h0M596.3 223.8h0M621.9 223.8h0M626.0 224.4h0M549.3 225.9h0M553.2 225.9h0M559.6 225.4h0M566.2 226.3h0M597.7 225.1h0M605.2 225.2h0M609.6 225.6h0M610.6 225.9h0M624.7 225.3h0M549.1 227.6h0M596.5 226.7h0M613.6 226.8h0M567.1 228.2h0M619.9 228.6h0M626.5 227.9h0M621.7 230.5h0M613.3 231.4h0M583.3 233.0h0M609.7 232.7h0M561.1 233.9h0M611.0 233.8h0M628.8 234.1h0M548.9 236.3h0M551.5 236.7h0M567.9 237.4h0M601.2 237.3h0M539.6 238.4h0M542.8 238.0h0M558.1 238.4h0M569.9 238.4h0M587.2 239.9h0M590.7 239.2h0M596.4 239.4h0M598.3 239.2h0M625.7 239.5h0M540.7 241.2h0M547.6 240.4h0M548.8 241.6h0M556.8 240.9h0M561.9 241.2h0M593.2 240.5h0M598.9 241.0h0M617.9 241.1h0M555.6 241.7h0M587.3 241.9h0M616.6 242.0h0M495.8 243.2h0M587.2 243.5h0M545.9 244.8h0M587.5 245.0h0M591.1 244.7h0M497.0 248.1h0M499.2 248.1h0M518.1 248.2h0M546.2 247.3h0M549.5 248.5h0M514.7 248.7h0M536.8 251.0h0M539.8 251.1h0M550.1 250.2h0M517.6 252.3h0M534.0 251.5h0M518.4 253.1h0M539.3 253.9h0M522.4 254.9h0M524.1 254.9h0M534.9 255.3h0M547.9 254.1h0M515.6 256.6h0M519.4 256.7h0M543.6 256.7h0M545.4 256.6h0M504.0 257.4h0M529.3 257.7h0M536.6 258.1h0M513.6 258.5h0M519.3 258.8h0M541.6 258.9h0M479.9 260.7h0M498.8 260.5h0M529.7 260.7h0M519.7 262.4h0M524.1 262.1h0M534.2 262.4h0M528.0 265.2h0M497.7 265.8h0M499.6 268.3h0M535.3 267.9h0M521.0 269.3h0M504.5 270.7h0M489.3 272.8h0M520.1 272.5h0M488.1 273.6h0M492.7 274.4h0M496.3 276.1h0M506.0 275.5h0M513.0 275.8h0M515.6 275.1h0M495.9 279.0h0M514.0 277.7h0M503.6 281.2h0M499.9 283.0h0M494.3 284.5h0M500.4 284.0h0M501.6 283.4h0M491.1 286.3h0M499.8 286.3h0M496.3 289.4h0M500.0 290.5h0"/><path stroke="#FCAA60" d="M432.0 86.9h0M430.0 88.7h0M434.1 88.6h0M435.1 101.8h0M434.4 105.3h0M439.5 107.2h0M438.0 109.9h0M443.1 113.1h0M442.9 115.7h0M644.7 129.9h0M538.5 142.4h0M542.3 148.3h0M543.9 149.3h0M550.7 150.0h0M568.3 150.2h0M549.4 155.8h0M622.9 156.1h0M555.9 158.0h0M562.8 157.2h0M564.8 157.8h0M620.7 161.6h0M537.7 162.8h0M571.5 162.8h0M541.0 166.7h0M542.9 167.2h0M652.8 172.5h0M537.1 173.9h0M618.1 174.7h0M627.3 174.9h0M652.4 175.7h0M632.7 182.0h0M628.7 187.6h0M579.6 189.0h0M613.2 189.7h0M638.0 191.0h0M571.9 193.2h0M636.6 193.8h0M545.2 194.8h0M617.4 195.7h0M570.9 196.3h0M588.7 196.4h0M604.4 198.5h0M626.6 197.9h0M585.4 199.5h0M564.5 203.0h0M578.4 203.2h0M579.5 204.0h0M565.2 207.9h0M570.0 207.0h0M578.4 207.4h0M601.4 207.3h0M562.4 209.3h0M569.1 209.1h0M577.1 209.2h0M582.3 208.4h0M606.1 208.6h0M565.1 210.3h0M571.2 209.8h0M575.5 211.0h0M551.8 211.2h0M576.9 211.5h0M576.8 212.9h0M553.4 214.0h0M618.8 214.8h0M579.0 215.3h0M585.4 215.4h0M525.2 216.7h0M548.2 217.6h0M600.0 217.6h0M610.9 217.3h0M571.6 218.2h0M584.7 218.4h0M601.6 218.3h0M570.5 220.1h0M581.3 219.7h0M611.1 219.5h0M590.3 221.2h0M598.5 220.9h0M601.7 221.3h0M606.9 221.0h0M626.0 221.3h0M590.2 222.9h0M592.0 222.9h0M597.3 223.5h0M610.5 222.5h0M625.0 223.3h0M604.4 223.9h0M632.5 225.8h0M536.8 227.1h0M552.2 226.7h0M554.0 227.1h0M564.8 227.5h0M596.0 227.2h0M614.6 227.4h0M617.8 227.2h0M572.1 227.9h0M583.6 227.9h0M597.3 228.9h0M600.5 228.6h0M566.7 229.4h0M613.5 230.2h0M614.4 230.2h0M557.4 231.8h0M566.8 230.7h0M622.8 231.6h0M602.4 232.4h0M622.9 232.7h0M625.4 232.1h0M562.8 234.4h0M601.3 233.6h0M617.5 233.8h0M620.6 235.7h0M576.1 236.8h0M606.7 236.4h0M621.1 237.3h0M541.2 238.7h0M552.6 238.8h0M565.7 238.8h0M582.0 238.4h0M604.3 239.8h0M539.2 240.7h0M550.3 241.1h0M606.2 241.5h0M518.8 242.0h0M593.4 241.9h0M506.8 243.9h0M541.1 243.7h0M547.8 243.7h0M551.0 245.0h0M524.0 247.1h0M594.9 245.8h0M540.5 247.4h0M537.1 249.6h0M547.3 249.0h0M553.8 248.6h0M518.9 249.9h0M524.6 251.3h0M542.3 250.0h0M554.0 250.1h0M525.0 251.6h0M543.2 251.5h0M545.8 251.5h0M502.0 253.7h0M532.3 252.8h0M539.8 253.4h0M550.2 253.3h0M541.2 254.1h0M490.2 256.4h0M504.5 255.8h0M510.9 256.8h0M530.8 256.1h0M534.0 255.7h0M534.6 258.1h0M537.3 257.8h0M514.4 258.7h0M528.0 259.2h0M532.5 258.6h0M539.6 259.1h0M531.7 260.6h0M510.8 262.0h0M541.2 261.7h0M535.8 262.9h0M531.5 264.7h0M507.1 265.8h0M524.9 266.1h0M511.3 268.9h0M530.7 268.8h0M484.3 270.5h0M476.9 271.1h0M530.3 272.0h0M532.8 272.2h0M505.4 273.9h0M508.7 273.6h0M528.9 275.3h0M495.2 277.4h0M503.9 276.9h0M507.8 276.8h0M519.7 277.6h0M511.4 279.0h0M524.1 278.6h0M518.4 280.3h0M520.4 280.0h0M492.2 281.4h0M518.7 283.0h0M503.4 287.2h0"/><path stroke="#F79053" d="M432.6 87.4h0M429.6 89.9h0M430.4 100.0h0M431.8 100.3h0M612.6 127.9h0M477.7 141.1h0M618.2 149.5h0M621.3 150.6h0M478.4 153.6h0M549.4 154.1h0M545.2 155.6h0M547.8 155.0h0M536.7 155.8h0M545.4 156.5h0M553.7 157.6h0M539.9 163.3h0M553.4 162.8h0M557.7 164.3h0M543.8 166.3h0M557.7 166.6h0M503.4 167.8h0M540.5 167.4h0M539.4 168.4h0M585.8 171.3h0M535.9 173.0h0M540.3 173.4h0M539.0 175.9h0M538.7 177.8h0M537.5 178.7h0M538.1 178.3h0M556.7 178.4h0M556.4 181.5h0M555.0 182.8h0M556.4 182.5h0M646.6 182.9h0M563.3 186.0h0M558.2 186.3h0M537.7 188.3h0M539.6 188.6h0M541.5 190.2h0M613.0 190.7h0M569.1 193.1h0M572.7 196.2h0M572.2 197.6h0M560.4 201.7h0M561.7 201.9h0M574.0 202.5h0M562.2 203.4h0M592.5 203.7h0M622.3 204.5h0M544.7 208.3h0M489.5 208.6h0M616.7 208.9h0M569.6 211.0h0M619.3 211.0h0M513.1 211.8h0M581.1 211.6h0M588.2 212.2h0M564.8 213.2h0M580.6 212.7h0M616.1 213.0h0M589.4 214.0h0M583.5 215.5h0M609.0 217.9h0M623.1 216.9h0M592.2 218.0h0M561.3 220.8h0M614.0 219.8h0M580.0 221.2h0M584.1 221.5h0M616.0 221.4h0M626.5 222.8h0M547.5 223.9h0M593.8 224.9h0M596.7 226.3h0M555.8 227.3h0M557.1 227.8h0M603.4 226.7h0M628.7 227.2h0M569.8 229.6h0M575.8 229.2h0M592.5 229.8h0M596.7 230.3h0M602.4 231.2h0M566.3 232.1h0M567.6 233.7h0M573.3 233.8h0M615.0 234.4h0M604.8 236.7h0M617.3 237.1h0M541.9 238.9h0M554.3 239.2h0M553.3 241.2h0M582.7 241.2h0M589.2 240.6h0M629.9 240.3h0M621.5 242.7h0M539.8 243.5h0M584.5 243.3h0M600.3 243.3h0M525.5 246.4h0M546.9 245.8h0M550.6 246.6h0M518.9 247.6h0M544.8 248.3h0M529.9 249.9h0M545.5 250.4h0M522.3 253.9h0M543.0 253.9h0M544.8 253.0h0M544.1 254.1h0M539.8 256.5h0M546.8 255.8h0M500.0 257.3h0M525.3 259.1h0M525.4 261.7h0M504.2 268.9h0M519.3 268.8h0M528.8 270.1h0M535.1 270.2h0M518.5 270.9h0M520.3 270.8h0M487.6 272.9h0M498.0 273.0h0M506.9 273.3h0M515.9 272.9h0M497.7 277.1h0M519.8 277.8h0M482.9 279.9h0M519.9 281.4h0"/><path stroke="#F27548" d="M431.2 97.8h0M436.9 107.2h0M551.5 154.3h0M544.3 157.1h0M544.6 164.0h0M548.2 164.9h0M546.9 166.1h0M544.8 168.1h0M546.8 167.8h0M548.4 167.3h0M557.6 167.4h0M581.2 167.3h0M611.8 168.1h0M627.1 167.7h0M536.0 168.6h0M553.6 168.4h0M635.6 168.4h0M546.8 170.8h0M556.4 172.0h0M556.1 174.9h0M551.4 175.7h0M554.4 176.3h0M554.4 177.1h0M554.7 176.7h0M553.1 181.2h0M536.4 183.1h0M557.1 184.2h0M536.2 185.0h0M562.3 188.5h0M564.5 189.2h0M547.1 194.7h0M550.1 194.7h0M579.7 197.9h0M558.7 199.9h0M568.2 198.8h0M574.7 199.6h0M558.8 200.1h0M573.3 200.2h0M580.8 201.0h0M572.9 201.9h0M567.8 208.4h0M576.5 207.9h0M572.3 209.4h0M557.4 212.4h0M579.3 211.2h0M587.2 211.9h0M586.3 213.2h0M608.6 212.9h0M578.2 215.9h0M595.2 215.6h0M612.6 221.8h0M608.4 230.1h0M552.1 230.7h0M630.8 230.6h0M555.7 234.7h0M550.8 235.2h0M609.6 235.3h0M606.1 237.3h0M571.0 240.0h0M519.3 240.3h0M539.3 242.3h0M584.8 242.9h0M544.6 244.3h0M538.5 246.9h0M520.8 248.0h0M541.3 248.0h0M513.3 251.1h0M523.3 250.1h0M538.5 250.6h0M528.5 252.7h0M531.3 254.0h0M535.7 253.3h0M522.3 256.6h0M522.8 257.0h0M525.6 256.9h0M538.7 257.6h0M541.2 257.4h0M537.6 263.9h0M529.4 266.9h0M532.1 270.7h0M491.9 278.2h0M507.4 279.3h0M495.6 284.6h0M497.1 286.0h0"/><path stroke="#E75C44" d="M535.1 148.7h0M548.7 158.0h0M656.2 158.4h0M547.7 160.6h0M552.3 161.0h0M569.9 160.3h0M542.2 163.1h0M545.4 165.7h0M542.4 168.8h0M544.5 168.8h0M547.4 169.4h0M555.6 168.2h0M554.0 170.6h0M536.2 172.0h0M559.8 172.8h0M536.5 174.3h0M543.6 174.9h0M541.6 176.2h0M549.9 177.3h0M555.0 178.5h0M537.6 182.1h0M559.6 188.5h0M568.1 187.9h0M562.4 189.6h0M542.8 190.9h0M544.1 191.5h0M568.0 190.5h0M548.3 192.1h0M553.1 192.7h0M567.7 191.8h0M546.4 193.8h0M555.4 197.1h0M556.6 196.3h0M556.8 197.6h0M570.1 197.8h0M571.7 199.2h0M572.7 200.8h0M569.4 203.8h0M566.4 204.9h0M576.6 205.6h0M568.1 205.9h0M568.8 206.4h0M575.3 206.4h0M579.8 207.3h0M580.7 208.2h0M574.5 209.5h0M580.9 210.5h0M589.3 211.7h0M578.9 212.6h0M574.1 213.9h0M587.3 216.1h0M586.3 217.1h0M615.0 217.0h0M629.6 220.2h0M602.9 225.4h0M623.2 229.1h0M608.5 237.5h0M532.8 239.6h0M537.7 239.2h0M520.8 240.7h0M535.3 241.3h0M523.4 244.2h0M526.0 243.7h0M538.3 243.8h0M546.4 243.0h0M538.7 244.6h0M559.8 245.5h0M532.5 246.1h0M539.8 247.1h0M548.9 246.6h0M525.4 248.0h0M538.0 247.6h0M543.1 248.4h0M554.8 247.3h0M520.5 248.8h0M541.9 249.8h0M525.4 251.2h0M520.6 251.3h0M526.2 251.5h0M533.5 252.7h0M537.2 251.4h0M540.7 252.6h0M520.8 252.8h0M526.2 253.3h0M530.4 255.1h0M528.3 255.5h0M529.7 263.9h0M519.8 268.8h0M503.0 269.8h0M492.3 272.1h0M518.2 273.4h0M523.9 272.1h0M484.3 279.0h0M502.8 277.7h0M487.5 279.4h0"/><path stroke="#D94445" d="M564.6 148.1h0M544.6 150.8h0M549.9 154.6h0M548.7 156.1h0M556.6 156.4h0M543.7 161.1h0M549.2 160.2h0M551.2 160.6h0M541.8 161.6h0M543.2 161.3h0M550.5 162.6h0M547.6 163.2h0M544.0 164.9h0M553.2 164.0h0M550.0 165.7h0M549.9 167.0h0M552.3 167.0h0M555.8 168.1h0M549.3 168.2h0M557.5 169.0h0M537.2 170.1h0M538.3 170.4h0M540.4 170.9h0M550.0 169.7h0M550.7 169.6h0M537.9 172.0h0M540.6 171.8h0M543.9 171.7h0M555.4 172.0h0M550.5 172.3h0M541.0 175.1h0M542.7 174.4h0M551.8 175.0h0M546.9 175.6h0M538.5 177.7h0M549.2 176.9h0M539.8 178.0h0M548.0 178.2h0M549.5 179.9h0M553.7 180.3h0M538.3 181.5h0M537.3 186.0h0M557.0 185.9h0M538.7 186.9h0M554.9 186.9h0M549.6 188.7h0M553.6 188.7h0M547.0 190.3h0M560.4 189.3h0M550.5 191.6h0M566.1 191.1h0M544.0 192.3h0M563.6 192.4h0M564.4 194.0h0M567.8 194.3h0M547.9 195.0h0M553.6 195.7h0M555.1 194.7h0M568.6 195.1h0M569.9 196.4h0M559.4 198.1h0M560.5 198.3h0M566.3 197.9h0M568.6 197.5h0M567.0 198.6h0M570.1 199.4h0M565.9 201.8h0M572.0 202.5h0M565.5 203.1h0M572.9 203.4h0M578.3 205.3h0M566.3 206.2h0M577.6 207.0h0M572.6 207.7h0M574.5 208.1h0M580.1 209.7h0M579.1 210.7h0M586.3 214.0h0M593.6 220.6h0M603.1 224.6h0M593.7 235.7h0M525.6 237.0h0M538.6 236.5h0M535.9 238.0h0M537.8 237.7h0M529.6 240.1h0M536.1 239.9h0M538.7 240.1h0M522.5 241.6h0M533.2 241.3h0M523.0 241.7h0M539.7 242.3h0M550.8 242.9h0M535.7 244.2h0M519.3 245.8h0M527.1 245.6h0M542.8 244.9h0M520.1 246.9h0M526.9 246.0h0M526.9 247.1h0M535.2 247.7h0M526.4 249.6h0M535.2 249.2h0M529.7 251.2h0M528.1 253.8h0M526.5 256.4h0M541.6 255.4h0"/><path stroke="#C82E44" d="M430.4 97.1h0M551.2 158.0h0M551.5 157.1h0M568.6 157.6h0M543.9 159.9h0M548.4 158.8h0M546.3 161.6h0M541.3 163.2h0M545.8 163.2h0M551.9 163.9h0M549.3 164.8h0M539.3 165.8h0M552.7 165.4h0M553.3 166.0h0M552.0 169.5h0M547.4 171.5h0M551.8 172.2h0M537.2 172.9h0M545.6 172.4h0M554.8 173.6h0M556.8 172.6h0M553.2 174.4h0M544.5 176.3h0M548.9 175.6h0M542.8 177.6h0M551.5 176.6h0M538.9 179.9h0M546.9 181.4h0M540.5 182.2h0M544.4 183.2h0M549.0 182.8h0M550.4 184.2h0M542.8 185.2h0M550.3 184.8h0M539.7 186.9h0M555.9 186.5h0M540.9 188.5h0M543.8 189.2h0M552.4 190.4h0M562.0 191.2h0M563.0 190.4h0M545.4 192.1h0M546.2 192.7h0M554.3 192.6h0M556.7 193.0h0M559.2 193.0h0M562.1 192.9h0M547.0 193.8h0M549.1 193.3h0M551.8 194.9h0M555.6 195.7h0M560.0 195.2h0M562.6 194.7h0M564.5 194.7h0M566.0 194.7h0M558.0 196.3h0M560.0 196.7h0M561.3 196.3h0M566.0 196.2h0M568.2 195.9h0M561.9 197.5h0M560.1 199.1h0M562.1 199.1h0M560.5 200.7h0M561.9 201.3h0M568.0 201.0h0M569.3 202.5h0M574.3 203.6h0M565.6 205.1h0M573.3 204.2h0M574.3 204.3h0M577.9 209.5h0M587.7 215.1h0M591.2 218.6h0M629.6 231.7h0M621.3 232.5h0M532.2 234.6h0M532.5 236.1h0M521.4 240.2h0M525.1 240.0h0M537.1 242.7h0M519.5 244.1h0M528.7 243.1h0M522.7 244.4h0M523.8 244.7h0M529.5 245.6h0M535.7 245.7h0M522.0 246.2h0M530.3 246.4h0M522.3 248.2h0M528.9 247.7h0M533.4 248.4h0M522.0 249.5h0M527.7 249.9h0M532.0 249.1h0M539.2 248.8h0M527.5 250.7h0M521.8 252.1h0M523.7 251.7h0M527.5 252.7h0M529.6 252.3h0M523.8 253.7h0M525.1 254.5h0"/><path stroke="#B21C3C" d="M549.5 155.6h0M550.7 156.9h0M547.5 157.6h0M545.6 159.1h0M549.6 159.1h0M551.3 159.3h0M546.2 160.4h0M552.1 165.0h0M549.2 165.6h0M555.1 166.4h0M551.3 167.0h0M555.1 168.1h0M544.8 170.0h0M548.5 169.5h0M556.4 169.7h0M538.8 174.1h0M545.5 173.9h0M548.6 173.8h0M549.9 173.9h0M540.7 176.4h0M543.8 176.4h0M552.9 176.5h0M540.4 177.3h0M543.7 177.8h0M541.5 179.3h0M547.2 178.5h0M551.7 179.2h0M543.9 180.3h0M550.4 179.4h0M540.2 181.8h0M547.8 181.9h0M545.6 182.7h0M547.5 182.9h0M551.2 182.3h0M552.8 183.4h0M539.0 183.7h0M541.9 184.7h0M551.0 183.6h0M552.7 184.3h0M539.1 185.5h0M541.6 185.0h0M546.0 184.9h0M549.5 185.0h0M551.9 185.3h0M553.7 185.4h0M542.2 187.4h0M545.6 187.3h0M546.6 187.3h0M550.1 186.9h0M543.8 188.2h0M546.0 188.6h0M547.3 188.0h0M555.8 188.9h0M545.5 189.0h0M548.7 189.0h0M556.4 190.2h0M557.2 189.8h0M549.0 191.3h0M554.2 190.7h0M551.4 192.9h0M569.1 192.7h0M550.9 194.0h0M552.7 194.5h0M554.1 193.1h0M555.3 193.8h0M556.6 193.3h0M559.2 193.5h0M563.0 194.2h0M567.1 195.3h0M552.6 196.8h0M554.3 196.5h0M565.3 195.9h0M564.1 198.5h0M568.3 200.9h0M570.0 201.0h0M564.5 202.7h0M568.3 202.7h0M567.6 202.8h0M564.0 206.1h0M601.2 224.9h0M612.2 229.0h0M531.1 234.7h0M533.6 237.3h0M521.1 238.4h0M524.7 238.6h0M530.4 238.7h0M523.1 239.6h0M524.0 240.0h0M530.2 238.9h0M534.2 240.2h0M523.2 240.2h0M527.3 240.3h0M528.8 240.5h0M529.7 240.9h0M530.8 241.3h0M542.0 240.8h0M524.4 242.8h0M526.9 243.0h0M529.0 242.3h0M522.1 243.6h0M524.3 243.6h0M525.6 245.2h0M531.7 245.5h0M537.7 245.1h0M541.5 245.7h0M531.1 246.6h0M531.3 248.2h0M523.4 248.7h0M536.6 249.8h0M541.4 249.1h0M521.6 250.0h0M531.5 251.4h0M536.8 252.3h0M533.6 254.4h0M525.9 257.2h0M511.8 267.2h0"/><path stroke="#9C0A35" d="M546.4 156.9h0M546.0 157.7h0M545.9 158.7h0M542.4 160.2h0M544.7 161.2h0M547.8 161.8h0M550.9 162.4h0M552.6 161.9h0M548.3 162.8h0M550.4 162.9h0M546.8 164.8h0M554.0 165.2h0M537.4 167.7h0M539.3 167.6h0M537.3 168.8h0M540.5 169.2h0M551.0 168.3h0M541.6 169.7h0M543.0 170.9h0M552.8 169.6h0M557.2 170.8h0M539.9 171.0h0M542.7 171.5h0M545.6 171.7h0M548.8 171.7h0M550.4 171.2h0M553.4 172.2h0M538.3 173.0h0M541.2 172.9h0M543.7 173.1h0M546.2 172.4h0M548.2 172.7h0M550.7 173.2h0M553.1 173.6h0M546.7 174.4h0M550.0 175.3h0M556.0 176.4h0M545.4 177.5h0M548.0 176.9h0M542.8 179.2h0M545.2 179.2h0M550.4 178.3h0M553.5 179.1h0M541.2 180.1h0M542.9 180.4h0M545.7 180.0h0M547.2 180.5h0M552.8 180.0h0M541.9 181.9h0M544.0 182.0h0M545.0 181.3h0M549.1 181.8h0M551.2 180.8h0M554.7 181.8h0M539.9 182.5h0M542.9 182.6h0M539.9 184.4h0M543.5 183.9h0M545.7 183.8h0M546.0 183.8h0M547.9 183.6h0M543.6 185.5h0M547.1 185.7h0M555.2 185.9h0M543.4 187.5h0M548.3 187.3h0M551.0 187.1h0M552.9 187.4h0M542.0 188.7h0M551.3 188.1h0M552.3 188.4h0M556.4 187.9h0M558.9 188.8h0M549.8 189.1h0M551.2 190.2h0M553.5 190.1h0M554.6 190.1h0M559.1 189.3h0M545.9 190.8h0M546.7 191.7h0M555.1 191.6h0M556.9 191.2h0M558.8 191.6h0M560.6 190.5h0M564.5 190.9h0M549.5 191.8h0M558.2 192.4h0M560.6 192.7h0M565.8 191.9h0M559.7 194.0h0M561.2 193.9h0M565.9 193.8h0M557.9 195.0h0M561.3 195.7h0M563.4 196.2h0M566.9 198.5h0M563.8 199.7h0M565.4 199.7h0M572.4 200.0h0M564.0 201.3h0M565.5 200.9h0M563.4 201.5h0M569.8 204.6h0M570.9 204.5h0M573.6 205.7h0M607.2 228.2h0M523.6 237.8h0M526.5 237.5h0M527.9 238.1h0M531.1 237.7h0M533.3 238.1h0M534.8 238.4h0M526.8 240.1h0M524.6 241.0h0M536.6 240.6h0M538.3 240.8h0M521.7 242.0h0M526.1 241.7h0M530.6 241.6h0M532.6 242.7h0M533.3 242.6h0M534.8 242.3h0M529.3 244.2h0M531.2 243.3h0M532.4 244.0h0M535.3 244.0h0M520.8 245.5h0M530.2 244.8h0M533.3 245.0h0M527.7 245.8h0M533.9 246.6h0M535.5 247.1h0M523.9 247.4h0M531.9 248.1h0M524.4 249.5h0M533.1 249.0h0M530.1 250.1h0M532.5 250.8h0M533.5 250.2h0M535.6 250.0h0M539.5 254.1h0"/></g>
<g fill="none" stroke-width="2.60" stroke-linecap="round"><path stroke="#CFCFCF" d="M569.9 385.0h0M567.3 388.8h0M564.2 391.0h0M569.7 391.7h0M556.5 402.1h0M575.0 401.7h0M553.1 403.1h0M570.5 403.6h0M555.4 405.2h0M561.0 405.5h0M565.4 409.9h0M441.5 410.9h0M443.3 411.1h0M601.3 412.5h0M557.9 414.9h0M569.5 415.3h0M601.1 415.4h0M597.3 416.2h0M604.8 415.7h0M459.4 417.2h0M553.3 419.6h0M595.8 418.7h0M597.4 419.4h0M450.6 421.9h0M456.5 422.4h0M458.4 421.5h0M490.7 421.5h0M455.7 423.1h0M464.2 422.8h0M470.1 423.0h0M495.9 422.9h0M573.4 422.9h0M459.8 425.0h0M489.6 424.6h0M494.2 424.3h0M495.7 424.4h0M527.3 424.0h0M579.6 425.1h0M591.8 424.0h0M492.2 426.0h0M495.1 426.4h0M604.9 426.1h0M462.3 426.9h0M492.7 427.1h0M496.5 427.8h0M498.5 428.0h0M501.7 427.5h0M502.9 427.6h0M509.6 427.7h0M511.4 427.1h0M587.8 427.0h0M454.6 428.1h0M510.0 429.3h0M512.9 429.2h0M516.0 428.6h0M519.8 428.4h0M459.0 430.4h0M465.3 429.9h0M479.1 429.9h0M480.9 430.0h0M488.1 430.7h0M493.7 430.1h0M495.4 430.4h0M510.7 429.8h0M558.6 430.0h0M560.4 430.4h0M609.9 430.3h0M452.1 431.5h0M453.3 432.0h0M463.5 431.4h0M472.9 430.9h0M480.2 431.1h0M485.7 431.3h0M491.8 431.3h0M497.6 430.8h0M502.1 431.3h0M512.1 431.0h0M556.5 430.9h0M576.2 431.0h0M459.2 432.6h0M462.3 432.2h0M464.1 432.9h0M489.1 432.2h0M491.1 432.5h0M493.7 432.5h0M494.1 432.9h0M496.8 432.3h0M506.5 433.2h0M509.3 432.2h0M513.5 432.6h0M515.8 433.0h0M561.8 433.3h0M570.9 432.9h0M452.6 434.4h0M468.3 435.0h0M487.8 433.6h0M489.8 434.7h0M495.4 434.3h0M496.5 433.6h0M503.2 434.0h0M506.9 434.5h0M565.7 434.3h0M455.4 435.8h0M464.9 435.5h0M489.8 435.9h0M492.2 435.0h0M494.7 436.2h0M501.5 435.8h0M508.1 435.6h0M617.9 435.0h0M487.5 436.4h0M489.8 436.8h0M491.7 436.7h0M502.0 436.4h0M511.2 436.6h0M624.0 436.4h0M452.7 438.8h0M467.0 438.0h0M485.2 438.8h0M489.9 437.8h0M492.8 438.5h0M503.4 438.0h0M504.4 437.8h0M507.6 439.0h0M586.2 438.4h0M592.8 438.2h0M480.0 440.1h0M497.1 439.7h0M502.3 440.0h0M507.9 439.4h0M458.9 440.7h0M461.4 440.8h0M467.8 440.9h0M473.1 440.5h0M487.0 441.5h0M489.1 441.8h0M501.1 441.0h0M552.0 441.9h0M468.3 441.9h0M473.0 443.0h0M475.7 442.8h0M481.7 442.1h0M498.6 442.5h0M445.9 444.4h0M475.9 444.4h0M489.3 444.0h0M588.8 443.4h0M471.6 446.0h0M486.1 445.3h0M494.0 445.6h0M551.0 444.7h0M631.9 444.9h0M482.6 446.1h0M505.3 446.1h0M546.5 446.8h0M549.8 446.4h0M619.2 447.0h0M628.5 446.6h0M479.1 448.7h0M482.1 448.3h0M485.7 448.4h0M501.9 448.8h0M504.2 448.1h0M505.0 448.5h0M594.3 448.4h0M609.2 448.2h0M491.3 449.7h0M493.4 450.1h0M497.6 449.2h0M497.1 451.6h0M505.0 451.1h0M490.6 451.7h0M492.0 451.9h0M492.9 452.5h0M494.4 452.0h0M608.8 451.8h0M627.5 451.8h0M498.9 453.8h0M500.5 454.2h0M543.9 454.1h0M487.9 455.3h0M498.3 455.3h0M504.7 455.6h0M542.3 455.7h0M492.7 456.0h0M493.9 456.2h0M495.3 456.6h0M503.0 456.6h0M484.1 457.8h0M493.7 457.7h0M497.9 457.7h0M588.9 458.3h0M494.5 459.9h0M497.6 459.9h0M475.6 461.0h0M498.4 460.8h0M482.5 463.5h0M615.5 469.6h0M502.1 470.1h0M500.7 473.7h0M575.9 473.8h0M579.9 473.2h0M633.8 473.4h0M501.3 475.5h0M616.9 475.8h0M504.1 482.8h0M620.5 485.7h0M574.8 488.7h0M610.1 488.7h0M625.0 491.2h0M621.8 493.6h0M618.0 500.1h0M637.0 500.0h0M581.3 500.3h0M537.8 505.4h0M583.0 505.7h0M615.9 506.8h0M640.5 507.6h0M593.4 512.5h0M550.2 513.7h0M592.0 513.4h0M539.1 516.8h0M557.6 517.1h0M576.1 517.2h0M597.8 519.3h0M567.9 520.5h0M569.2 520.3h0M571.4 521.4h0M595.8 521.8h0M597.3 524.0h0M544.2 526.1h0M593.3 525.6h0M568.3 526.5h0M589.5 527.2h0M609.6 526.6h0M543.3 529.0h0M581.4 530.4h0M618.0 530.4h0M545.7 531.0h0M526.9 533.0h0M556.3 533.5h0M600.3 534.5h0M528.0 535.4h0M535.1 535.9h0M579.6 535.8h0M570.4 537.5h0M623.8 536.8h0M523.5 538.6h0M525.4 537.6h0M527.2 538.0h0M532.8 538.5h0M605.2 538.6h0M607.3 539.7h0M559.4 541.2h0M565.9 541.6h0M569.4 541.7h0M571.0 540.8h0M586.9 540.7h0M512.1 542.3h0M514.3 541.8h0M529.1 541.7h0M593.8 543.2h0M593.3 545.2h0M592.3 547.5h0M596.1 548.3h0M555.1 549.6h0M523.2 550.0h0M528.8 550.2h0M560.2 551.1h0M621.3 550.0h0M631.2 550.7h0M529.9 553.1h0M530.4 553.5h0M514.4 555.3h0M524.7 554.9h0M526.4 554.4h0M527.7 554.2h0M549.6 555.0h0M598.7 555.4h0M517.6 556.3h0M581.4 556.0h0M584.7 555.6h0M612.8 555.8h0M622.3 556.5h0M519.2 558.0h0M529.0 557.3h0M557.2 556.9h0M561.6 557.8h0M599.4 557.7h0M626.6 558.2h0M514.8 558.9h0M525.4 559.9h0M592.2 560.9h0M614.3 559.7h0M549.6 567.2h0"/><path stroke="#3A3C9C" d="M438.9 381.2h0M461.2 383.7h0M462.1 383.5h0M472.2 383.9h0M471.8 385.7h0M473.5 385.4h0M465.3 388.9h0M477.9 388.5h0M440.0 389.6h0M452.9 389.9h0M449.6 390.9h0M461.4 390.6h0M462.6 391.9h0M445.8 393.2h0M434.8 394.8h0M444.8 395.9h0M446.6 395.9h0M457.0 395.1h0M483.2 396.2h0M559.3 394.8h0M451.9 396.3h0M478.7 396.4h0M454.3 398.5h0M440.3 399.6h0M468.8 399.9h0M443.9 401.5h0M452.8 401.6h0M474.2 401.0h0M432.3 402.9h0M473.8 403.0h0M433.9 403.3h0M556.1 403.4h0M571.7 403.7h0M449.1 405.5h0M441.6 406.3h0M445.3 406.1h0M449.9 406.1h0M463.5 407.3h0M473.9 407.3h0M451.0 409.4h0M433.9 410.3h0M441.1 410.8h0M431.6 411.7h0M441.7 411.7h0M445.4 413.7h0M602.2 413.9h0M432.7 415.2h0M452.1 415.0h0M462.2 414.8h0M432.6 416.2h0M435.2 415.9h0M595.8 416.3h0M439.7 417.4h0M447.5 418.1h0M472.2 418.3h0M473.6 417.3h0M466.9 419.5h0M598.9 419.5h0M600.4 419.0h0M461.3 420.3h0M594.1 419.9h0M599.8 421.1h0M441.4 421.4h0M463.1 422.4h0M558.4 421.3h0M588.7 421.9h0M527.9 423.4h0M592.6 423.7h0M599.1 423.0h0M601.1 423.4h0M442.9 425.1h0M548.7 424.8h0M589.8 424.6h0M602.5 425.3h0M475.8 426.0h0M596.1 426.5h0M601.7 425.9h0M516.0 428.0h0M589.1 427.1h0M487.5 429.2h0M497.0 428.6h0M596.7 428.1h0M450.2 430.8h0M452.0 430.4h0M557.1 429.9h0M580.9 430.8h0M489.8 431.4h0M498.4 431.3h0M583.8 430.9h0M594.3 432.1h0M485.7 432.6h0M517.0 432.9h0M563.0 432.9h0M597.8 432.5h0M491.8 433.8h0M498.2 434.5h0M516.7 434.4h0M587.5 434.1h0M589.8 434.4h0M608.6 433.7h0M618.5 434.3h0M467.7 436.2h0M498.2 436.3h0M510.3 435.7h0M606.1 435.8h0M630.3 436.1h0M466.1 437.4h0M595.1 436.8h0M458.4 438.6h0M627.6 438.3h0M478.6 439.8h0M483.2 440.3h0M498.3 440.3h0M587.8 439.5h0M589.8 439.4h0M612.1 439.5h0M589.7 442.8h0M591.3 443.2h0M594.9 442.8h0M604.9 442.6h0M585.8 443.7h0M592.0 443.5h0M615.3 444.1h0M498.6 445.1h0M593.1 445.1h0M614.1 445.7h0M500.1 446.6h0M599.7 446.3h0M625.5 446.4h0M634.9 446.6h0M492.6 447.9h0M493.9 448.4h0M593.2 448.8h0M591.4 449.7h0M594.4 449.4h0M604.5 450.1h0M613.2 449.9h0M499.7 450.2h0M586.2 450.2h0M604.0 450.5h0M606.1 450.2h0M628.6 450.2h0M640.1 450.8h0M483.9 452.1h0M505.0 453.0h0M595.9 452.1h0M597.5 452.9h0M605.4 452.5h0M614.5 452.0h0M632.5 452.6h0M547.3 453.1h0M592.5 453.2h0M612.6 454.3h0M628.8 454.4h0M636.5 453.8h0M590.7 454.7h0M612.4 455.9h0M617.2 456.2h0M624.3 455.8h0M628.0 455.8h0M634.7 456.5h0M612.9 457.9h0M616.5 458.4h0M627.5 457.3h0M588.1 459.6h0M595.1 458.9h0M614.2 460.8h0M635.9 460.9h0M639.6 462.4h0M586.1 464.1h0M630.3 464.8h0M639.0 464.5h0M591.3 466.6h0M632.8 466.3h0M613.4 467.0h0M501.1 469.3h0M503.3 469.5h0M626.5 469.5h0M503.8 470.7h0M564.7 470.4h0M613.0 470.1h0M622.0 470.8h0M631.9 473.0h0M637.7 472.6h0M630.4 474.2h0M638.2 473.8h0M653.0 474.6h0M612.6 475.9h0M622.1 475.6h0M629.3 475.7h0M619.6 477.3h0M626.3 477.6h0M620.2 479.0h0M629.4 478.7h0M605.2 479.9h0M628.5 480.1h0M632.1 480.5h0M486.9 481.7h0M628.0 481.7h0M662.4 482.2h0M613.5 484.8h0M631.1 484.7h0M627.0 486.3h0M616.3 488.7h0M622.6 488.0h0M627.5 487.6h0M629.4 488.9h0M612.7 490.5h0M625.6 490.8h0M627.9 490.5h0M631.1 490.9h0M638.8 491.2h0M615.8 493.6h0M621.7 494.5h0M623.6 494.8h0M635.9 495.0h0M640.4 497.1h0M643.0 496.3h0M648.6 497.9h0M652.6 498.1h0M636.0 499.3h0M639.9 499.6h0M648.3 499.1h0M623.8 501.1h0M627.8 501.1h0M654.1 500.6h0M580.5 502.4h0M588.3 502.7h0M622.9 502.0h0M625.5 501.7h0M640.8 502.2h0M650.3 501.9h0M636.2 504.0h0M646.2 504.2h0M536.9 505.3h0M610.5 504.9h0M616.3 504.5h0M628.6 504.3h0M633.9 505.0h0M647.5 505.1h0M541.8 506.1h0M543.6 506.5h0M585.6 506.5h0M587.0 506.0h0M589.7 506.6h0M605.7 506.7h0M608.8 505.8h0M527.0 507.3h0M536.0 507.8h0M606.8 508.4h0M609.9 508.1h0M616.5 508.2h0M638.7 507.4h0M591.5 509.7h0M597.3 509.4h0M599.8 508.9h0M611.8 509.1h0M625.0 509.3h0M628.7 508.6h0M631.8 509.5h0M547.9 510.2h0M578.6 510.7h0M589.5 509.8h0M591.3 510.3h0M592.7 511.0h0M595.9 510.8h0M551.3 511.5h0M615.4 511.8h0M620.4 512.3h0M514.3 513.6h0M573.8 513.9h0M576.6 512.7h0M597.1 513.3h0M603.6 513.0h0M551.8 515.0h0M556.5 515.1h0M589.0 514.4h0M593.4 514.4h0M600.5 514.5h0M539.5 516.1h0M546.2 516.6h0M573.9 515.6h0M576.3 515.4h0M577.3 515.5h0M598.2 515.4h0M552.3 517.4h0M576.8 516.7h0M580.8 516.9h0M603.4 517.8h0M604.3 517.5h0M608.2 518.0h0M481.0 519.3h0M556.1 518.9h0M565.3 518.6h0M572.0 518.6h0M582.9 519.4h0M598.5 518.8h0M614.2 518.1h0M624.3 518.7h0M551.5 520.8h0M565.9 520.8h0M574.1 519.9h0M583.0 519.7h0M587.3 520.3h0M590.4 519.9h0M594.9 520.7h0M565.5 522.1h0M568.0 521.2h0M574.3 521.9h0M582.8 521.0h0M585.4 521.0h0M596.6 522.3h0M609.6 521.8h0M611.3 521.1h0M613.6 521.3h0M615.5 522.0h0M532.8 522.6h0M561.6 523.6h0M562.2 522.3h0M571.4 523.2h0M577.8 522.6h0M585.9 523.6h0M587.5 523.0h0M597.4 523.3h0M614.2 523.6h0M622.2 523.5h0M522.0 524.7h0M543.9 523.7h0M564.9 524.6h0M591.3 523.7h0M614.6 524.9h0M618.5 524.2h0M622.9 524.6h0M530.9 525.7h0M539.2 525.5h0M554.1 526.4h0M594.1 526.1h0M624.7 525.5h0M529.5 526.5h0M541.0 527.4h0M543.2 526.6h0M543.9 526.6h0M563.8 527.7h0M622.7 527.6h0M555.7 529.1h0M560.5 528.5h0M591.3 528.5h0M599.9 528.6h0M612.9 528.5h0M530.0 530.6h0M533.2 529.7h0M552.3 530.5h0M571.6 529.3h0M579.3 530.4h0M591.3 530.5h0M600.9 529.3h0M604.8 529.8h0M607.2 530.4h0M608.7 529.4h0M613.4 530.4h0M470.2 531.4h0M528.1 531.5h0M534.1 531.8h0M539.8 531.5h0M555.1 531.8h0M577.5 531.6h0M583.2 531.3h0M586.7 531.9h0M593.0 531.1h0M604.1 531.0h0M613.5 531.1h0M620.4 530.6h0M626.5 531.2h0M501.7 533.2h0M517.9 532.3h0M535.8 532.2h0M543.7 532.8h0M547.8 533.1h0M560.0 532.8h0M578.4 532.5h0M607.1 532.4h0M609.0 532.5h0M559.3 533.7h0M565.5 534.2h0M570.2 534.3h0M573.5 533.4h0M578.7 533.9h0M605.4 534.2h0M609.8 533.8h0M619.3 533.6h0M622.5 534.2h0M557.4 534.8h0M562.5 535.9h0M569.9 536.0h0M581.3 535.2h0M604.6 535.5h0M608.7 535.2h0M630.8 536.0h0M521.4 536.5h0M539.2 537.5h0M557.0 537.2h0M564.2 537.2h0M568.9 537.5h0M592.5 537.0h0M599.6 536.6h0M602.7 536.6h0M615.1 536.9h0M554.2 538.3h0M566.4 538.9h0M571.1 537.8h0M573.3 538.3h0M577.6 538.4h0M582.9 537.9h0M595.9 538.8h0M607.2 538.2h0M609.9 538.6h0M615.1 538.0h0M544.9 539.5h0M556.3 539.6h0M560.6 539.7h0M608.9 539.4h0M615.5 539.2h0M625.2 539.5h0M481.9 540.3h0M551.5 541.1h0M560.4 541.2h0M568.9 541.5h0M584.8 541.0h0M597.3 540.4h0M598.3 540.8h0M612.0 541.1h0M620.6 541.0h0M625.5 540.6h0M554.7 542.6h0M567.5 542.1h0M570.9 542.5h0M587.0 542.2h0M589.4 542.1h0M593.2 543.1h0M613.1 542.3h0M622.7 542.6h0M628.7 542.1h0M631.8 541.7h0M551.9 543.6h0M556.7 544.1h0M576.1 544.2h0M581.4 543.2h0M550.9 544.6h0M555.7 545.7h0M559.3 545.5h0M567.5 545.3h0M582.4 544.5h0M597.5 544.5h0M609.8 545.1h0M614.2 545.3h0M624.2 544.5h0M554.2 547.1h0M577.5 546.5h0M580.2 546.3h0M593.1 547.1h0M595.2 546.8h0M625.8 547.1h0M632.0 546.0h0M520.6 547.9h0M550.2 548.2h0M555.4 548.3h0M570.9 548.1h0M581.5 548.5h0M592.7 548.2h0M594.4 548.1h0M603.3 547.7h0M618.7 548.6h0M630.9 547.4h0M553.6 549.3h0M571.1 549.2h0M582.3 549.7h0M608.5 549.5h0M633.7 549.1h0M562.3 550.9h0M580.9 550.5h0M588.7 550.9h0M589.6 550.2h0M597.8 550.4h0M602.1 550.5h0M615.9 550.9h0M616.7 550.9h0M528.4 551.8h0M534.1 552.6h0M536.5 552.2h0M549.0 552.5h0M562.4 551.7h0M563.3 551.5h0M570.6 552.5h0M590.5 552.3h0M602.9 551.5h0M511.9 552.8h0M551.5 554.1h0M556.2 553.1h0M562.3 553.0h0M568.6 553.1h0M580.1 553.9h0M582.5 553.6h0M587.5 553.3h0M590.0 553.7h0M591.8 553.2h0M488.0 555.0h0M530.2 555.4h0M565.4 554.6h0M577.6 554.5h0M580.2 555.5h0M581.0 555.2h0M582.2 555.5h0M626.7 555.1h0M631.3 554.6h0M569.0 556.4h0M571.0 555.9h0M572.4 556.0h0M574.4 556.8h0M583.4 556.8h0M594.5 556.1h0M596.8 556.2h0M599.5 555.8h0M541.5 557.9h0M572.9 558.0h0M581.2 557.2h0M584.3 557.9h0M589.1 558.2h0M621.6 558.0h0M517.0 558.7h0M523.2 559.4h0M566.4 558.5h0M570.1 558.7h0M595.8 559.1h0M599.2 558.7h0M615.0 559.0h0M622.9 558.5h0M625.4 559.1h0M523.3 559.9h0M563.9 560.5h0M585.9 560.8h0M589.8 559.9h0M604.6 560.3h0M607.4 560.9h0M561.5 562.0h0M596.6 561.3h0M600.6 561.3h0M604.3 561.2h0M518.6 562.5h0M514.3 569.1h0M518.6 569.8h0M538.4 573.3h0M518.5 579.8h0"/><path stroke="#3556AA" d="M472.2 383.6h0M445.6 383.8h0M458.1 385.6h0M456.1 389.2h0M451.1 389.9h0M455.7 389.7h0M470.5 390.3h0M555.4 390.6h0M448.2 394.7h0M572.7 394.8h0M563.3 399.6h0M454.2 402.0h0M445.8 403.5h0M573.6 409.7h0M445.4 411.3h0M573.8 410.7h0M458.6 412.8h0M457.7 418.0h0M595.5 417.0h0M487.9 421.0h0M473.9 421.4h0M518.4 428.1h0M589.7 429.6h0M518.4 432.4h0M593.5 432.2h0M455.7 435.0h0M591.7 433.9h0M588.0 435.9h0M602.3 438.5h0M598.7 440.5h0M631.1 440.4h0M595.9 441.3h0M621.0 441.6h0M485.4 443.5h0M641.0 444.3h0M595.8 445.6h0M502.4 446.0h0M622.2 446.1h0M606.1 447.9h0M616.2 449.3h0M634.3 449.9h0M488.2 450.5h0M490.4 450.8h0M604.7 453.8h0M609.0 455.5h0M618.6 454.5h0M504.4 457.6h0M637.6 459.0h0M638.7 460.4h0M627.8 462.2h0M655.9 462.0h0M592.1 463.7h0M614.4 463.8h0M481.9 465.1h0M619.1 464.2h0M626.5 465.2h0M476.5 466.6h0M632.8 468.0h0M614.1 470.7h0M615.2 470.5h0M627.1 470.4h0M637.6 469.9h0M633.7 472.1h0M485.5 473.8h0M644.5 476.2h0M646.5 476.2h0M643.4 478.3h0M578.6 481.8h0M619.2 480.9h0M624.0 481.6h0M652.7 482.8h0M622.2 485.1h0M645.4 488.7h0M614.6 492.2h0M587.8 494.0h0M624.8 493.8h0M644.5 494.2h0M612.9 495.0h0M632.7 495.1h0M621.8 496.2h0M642.5 496.0h0M645.4 496.7h0M614.2 497.9h0M655.4 497.7h0M632.6 499.3h0M584.7 501.5h0M607.3 500.4h0M642.9 500.2h0M650.9 500.3h0M606.0 504.0h0M587.9 506.1h0M618.1 506.0h0M636.9 508.3h0M629.8 509.8h0M612.6 511.2h0M601.4 513.2h0M608.1 512.9h0M628.6 512.9h0M614.7 514.2h0M611.6 516.0h0M629.4 516.5h0M556.3 517.6h0M570.1 518.4h0M593.9 519.0h0M617.8 519.4h0M560.5 520.2h0M571.0 520.2h0M602.6 520.0h0M622.6 519.9h0M619.0 521.3h0M469.3 523.3h0M535.6 522.9h0M563.7 522.3h0M596.7 522.7h0M549.1 523.8h0M567.5 524.2h0M587.3 524.6h0M590.9 525.7h0M596.9 527.0h0M532.5 528.1h0M574.3 528.5h0M580.2 528.3h0M590.1 528.6h0M523.2 529.8h0M565.8 530.9h0M575.7 530.6h0M601.6 531.1h0M530.3 533.3h0M596.6 532.3h0M628.2 532.7h0M515.0 533.4h0M526.5 534.7h0M534.3 533.5h0M548.2 533.9h0M569.9 534.2h0M524.2 535.8h0M563.5 535.0h0M573.2 534.9h0M623.1 535.8h0M627.0 535.8h0M541.5 537.2h0M577.2 536.8h0M472.4 537.8h0M596.6 538.8h0M621.9 538.9h0M630.4 538.2h0M619.1 539.4h0M578.0 541.4h0M619.4 541.5h0M623.9 541.2h0M614.3 541.7h0M563.6 543.0h0M631.5 543.7h0M564.6 544.5h0M628.7 544.6h0M630.6 545.8h0M564.1 545.9h0M606.4 547.2h0M552.6 547.2h0M556.2 547.9h0M565.9 547.9h0M556.8 549.3h0M559.0 549.6h0M587.6 549.0h0M627.3 549.8h0M555.0 551.1h0M571.3 551.2h0M573.8 550.9h0M575.6 551.3h0M626.6 550.6h0M579.0 552.4h0M622.8 552.1h0M627.6 551.7h0M630.6 551.9h0M536.7 554.3h0M551.9 554.6h0M574.8 555.4h0M623.5 555.5h0M559.1 555.7h0M519.7 556.9h0M594.9 557.7h0M612.3 557.8h0M617.5 557.3h0M595.0 558.3h0M566.2 560.6h0M594.2 560.0h0M595.9 560.0h0M504.6 569.4h0M530.9 577.4h0M521.1 586.4h0M535.9 586.2h0"/><path stroke="#3070B8" d="M446.7 377.0h0M456.2 385.6h0M453.8 391.6h0M453.3 393.2h0M470.7 393.6h0M474.2 395.7h0M446.6 397.3h0M458.4 396.8h0M460.3 398.2h0M468.7 398.5h0M452.3 403.0h0M431.4 403.6h0M440.6 403.5h0M453.8 403.8h0M475.1 403.6h0M430.7 405.3h0M437.8 405.5h0M439.3 405.7h0M450.8 406.9h0M445.4 408.0h0M479.2 408.1h0M453.0 408.7h0M461.9 409.5h0M473.8 409.9h0M464.2 411.3h0M437.5 412.2h0M556.2 412.0h0M489.5 415.0h0M438.9 416.1h0M598.3 417.1h0M461.0 418.5h0M467.8 421.3h0M474.8 422.8h0M551.0 423.4h0M463.0 426.6h0M489.3 426.0h0M442.7 428.6h0M490.9 429.3h0M581.0 429.1h0M498.1 429.5h0M514.0 430.7h0M583.8 430.8h0M569.9 432.2h0M441.1 432.5h0M474.4 432.8h0M620.2 433.3h0M598.2 434.5h0M600.8 433.9h0M475.3 435.5h0M593.9 436.3h0M602.3 437.4h0M500.1 438.8h0M604.2 439.9h0M617.8 439.9h0M615.3 441.0h0M488.6 442.6h0M505.1 443.0h0M620.8 442.9h0M622.9 442.4h0M482.4 443.9h0M505.9 444.4h0M610.4 444.4h0M616.3 446.9h0M603.0 448.3h0M554.5 448.9h0M592.3 448.8h0M477.8 450.2h0M587.9 451.3h0M484.7 453.2h0M502.3 457.4h0M625.5 458.3h0M635.0 458.1h0M612.1 459.3h0M629.9 459.5h0M611.4 462.1h0M612.4 465.0h0M615.8 464.4h0M627.3 465.8h0M628.6 466.2h0M482.4 467.0h0M621.4 472.4h0M640.0 471.3h0M653.2 471.3h0M607.0 477.8h0M617.9 476.7h0M636.8 478.4h0M649.1 478.8h0M610.5 480.3h0M634.6 482.2h0M611.2 484.8h0M630.1 483.8h0M614.2 486.3h0M631.6 490.4h0M650.1 490.8h0M651.0 491.0h0M610.3 492.5h0M641.1 492.9h0M655.7 494.6h0M630.0 495.1h0M607.4 496.0h0M625.2 497.5h0M639.3 497.8h0M656.8 498.3h0M630.9 500.1h0M634.6 499.5h0M649.9 498.8h0M651.8 499.4h0M629.5 501.3h0M586.4 502.1h0M611.7 502.5h0M615.2 501.9h0M500.9 503.2h0M604.2 503.7h0M590.9 504.4h0M620.9 506.8h0M588.6 507.9h0M620.1 507.2h0M626.0 508.4h0M615.9 508.6h0M605.0 511.1h0M525.4 511.6h0M584.3 511.5h0M510.4 514.0h0M587.4 514.3h0M610.3 514.8h0M535.3 515.8h0M558.2 516.1h0M604.5 516.4h0M582.6 517.3h0M539.3 518.8h0M579.3 518.4h0M590.2 518.7h0M532.2 520.7h0M544.9 519.8h0M550.4 520.6h0M576.5 520.7h0M581.0 520.3h0M533.6 521.7h0M552.0 521.0h0M581.8 521.7h0M589.1 521.0h0M603.7 522.0h0M524.4 523.4h0M543.8 522.3h0M604.1 523.4h0M509.0 524.8h0M540.5 524.6h0M559.8 524.7h0M579.8 524.4h0M583.5 524.5h0M617.1 525.0h0M558.1 525.2h0M566.9 525.0h0M575.4 525.2h0M596.2 526.3h0M607.2 526.2h0M547.3 527.4h0M566.4 526.9h0M588.2 526.8h0M620.1 527.3h0M615.1 527.9h0M542.7 529.8h0M573.2 529.2h0M601.5 529.2h0M551.4 533.1h0M601.1 532.8h0M624.6 533.3h0M538.1 534.1h0M576.8 533.7h0M520.0 535.4h0M544.5 535.4h0M577.6 535.1h0M592.8 535.3h0M595.6 535.1h0M553.7 536.7h0M559.5 536.7h0M557.8 538.7h0M563.8 538.7h0M599.8 538.6h0M472.3 540.0h0M547.9 539.4h0M573.7 539.2h0M601.5 539.1h0M622.3 540.4h0M628.6 541.2h0M493.5 542.6h0M557.8 542.5h0M591.4 542.0h0M618.3 542.8h0M558.3 543.1h0M564.6 543.2h0M568.8 543.9h0M574.8 543.4h0M550.5 545.6h0M575.1 545.2h0M581.1 545.5h0M504.5 546.7h0M561.3 546.3h0M568.1 546.3h0M589.5 546.8h0M612.0 546.0h0M624.4 546.6h0M568.5 547.7h0M576.1 548.6h0M583.7 547.6h0M613.9 547.3h0M586.4 550.0h0M614.2 549.5h0M505.3 550.7h0M582.0 550.7h0M554.7 552.7h0M604.9 552.3h0M554.5 553.1h0M613.8 553.1h0M633.3 552.9h0M548.1 554.1h0M554.5 554.5h0M590.4 554.4h0M612.9 554.3h0M629.0 555.0h0M520.6 556.7h0M529.0 556.9h0M521.9 557.3h0M568.6 557.3h0M521.3 559.1h0M567.4 559.4h0M617.2 559.4h0M627.2 558.5h0M546.5 559.9h0M587.3 559.7h0M515.7 563.2h0M545.6 564.1h0M553.6 565.9h0M551.8 568.0h0"/><path stroke="#3486B7" d="M461.9 380.0h0M445.5 381.9h0M461.4 383.7h0M573.3 386.4h0M468.1 386.6h0M433.9 390.1h0M441.8 391.5h0M454.7 391.7h0M465.9 391.8h0M567.5 391.2h0M473.0 392.4h0M555.8 392.7h0M460.8 394.7h0M483.9 394.5h0M454.4 395.4h0M549.7 394.9h0M574.0 397.5h0M440.2 401.5h0M460.7 400.6h0M436.9 402.1h0M555.3 403.1h0M462.6 403.1h0M567.0 403.2h0M431.7 405.6h0M432.7 406.3h0M448.1 407.0h0M549.5 406.3h0M430.1 407.6h0M440.2 408.7h0M446.6 409.7h0M447.6 409.4h0M461.4 411.4h0M450.7 412.7h0M436.2 413.9h0M438.8 414.1h0M446.6 413.8h0M572.5 413.6h0M448.3 414.7h0M470.5 415.1h0M452.8 415.7h0M465.1 416.5h0M467.6 416.2h0M558.7 417.1h0M471.8 419.0h0M445.3 420.8h0M596.8 420.9h0M453.3 422.0h0M592.9 421.2h0M477.0 423.0h0M492.6 423.2h0M489.0 425.0h0M452.1 425.3h0M469.1 425.4h0M439.1 427.3h0M467.8 428.3h0M577.8 428.7h0M454.3 430.7h0M509.5 429.8h0M636.0 429.6h0M612.7 431.5h0M461.2 432.8h0M520.0 433.1h0M484.1 435.1h0M593.4 435.9h0M607.8 436.3h0M622.8 435.7h0M586.8 436.4h0M591.3 436.6h0M612.9 436.9h0M480.6 438.9h0M628.7 438.8h0M494.9 439.5h0M599.6 440.4h0M630.1 439.1h0M608.2 442.9h0M600.5 443.9h0M464.0 445.3h0M590.0 446.1h0M604.9 445.6h0M609.1 445.5h0M622.4 444.8h0M641.8 448.6h0M622.4 449.0h0M593.6 451.5h0M630.4 450.9h0M585.6 453.0h0M648.2 452.4h0M609.2 453.7h0M593.1 454.9h0M598.4 455.4h0M621.9 455.7h0M627.4 455.6h0M645.3 454.4h0M501.6 456.2h0M619.8 456.5h0M633.5 457.9h0M613.7 462.0h0M623.3 466.5h0M632.1 471.0h0M630.3 472.6h0M607.2 474.6h0M614.9 474.9h0M632.9 474.9h0M633.2 475.6h0M631.1 477.3h0M502.3 479.7h0M576.6 480.1h0M620.2 480.4h0M615.0 481.1h0M615.5 483.1h0M654.2 482.8h0M655.7 483.7h0M662.6 488.6h0M585.1 490.2h0M610.7 490.4h0M614.9 489.7h0M618.6 491.9h0M631.7 492.9h0M641.3 495.4h0M628.1 496.7h0M587.7 498.9h0M634.9 501.5h0M494.8 502.7h0M609.6 502.6h0M581.8 505.6h0M589.9 504.2h0M608.3 505.1h0M628.0 504.4h0M636.1 504.6h0M604.8 506.6h0M607.7 506.4h0M628.4 506.2h0M522.4 507.6h0M523.6 508.2h0M538.1 507.5h0M543.8 507.6h0M576.9 508.1h0M590.7 507.6h0M595.3 507.1h0M597.9 507.2h0M614.3 507.3h0M590.0 509.1h0M538.5 510.8h0M597.7 510.2h0M586.2 512.3h0M590.2 511.8h0M602.1 512.1h0M599.9 513.1h0M628.2 513.9h0M529.4 514.2h0M549.3 514.0h0M592.3 514.4h0M612.7 515.0h0M517.1 516.6h0M532.9 515.8h0M589.9 515.4h0M624.1 515.8h0M569.7 518.0h0M608.6 517.9h0M625.5 517.6h0M527.0 519.1h0M626.6 518.3h0M553.4 520.0h0M560.1 520.5h0M563.5 520.8h0M591.4 520.2h0M545.4 521.5h0M560.5 521.7h0M565.7 522.9h0M594.6 522.4h0M609.3 522.9h0M611.7 522.7h0M601.6 524.2h0M514.9 526.3h0M523.3 525.5h0M535.3 526.3h0M521.4 527.4h0M578.2 527.0h0M612.5 527.0h0M509.9 529.0h0M528.7 529.0h0M559.3 528.2h0M565.3 527.8h0M585.1 527.9h0M593.3 527.8h0M535.8 529.3h0M575.1 530.6h0M592.0 529.9h0M596.2 529.8h0M614.2 530.1h0M621.5 529.2h0M618.5 531.2h0M622.9 530.8h0M512.7 532.2h0M542.6 532.0h0M556.2 532.4h0M575.1 532.4h0M624.2 534.8h0M556.2 535.9h0M566.7 535.6h0M587.5 534.9h0M500.6 536.5h0M597.8 537.5h0M522.3 538.4h0M541.4 538.3h0M604.3 538.8h0M559.9 539.1h0M597.7 539.5h0M617.7 539.4h0M623.1 539.7h0M553.6 541.3h0M557.0 541.0h0M594.3 541.4h0M613.7 540.9h0M616.2 541.3h0M631.3 541.7h0M481.8 542.0h0M569.8 542.0h0M579.1 542.5h0M595.9 542.2h0M599.0 542.6h0M611.2 542.3h0M480.2 544.3h0M569.3 543.8h0M573.8 544.3h0M579.5 543.4h0M585.6 544.5h0M600.4 543.7h0M606.2 544.4h0M609.1 544.3h0M612.9 543.7h0M633.3 543.1h0M557.4 544.8h0M570.4 545.2h0M586.9 546.8h0M605.3 547.0h0M609.9 546.0h0M569.7 549.6h0M583.8 549.5h0M595.9 549.8h0M615.9 549.7h0M624.8 549.1h0M628.8 551.2h0M557.3 551.6h0M599.5 552.0h0M616.5 552.3h0M573.9 553.3h0M615.6 553.7h0M589.5 555.4h0M522.5 556.8h0M577.2 556.2h0M605.4 556.5h0M628.3 555.9h0M502.5 557.6h0M558.4 557.1h0M571.0 558.2h0M600.0 557.6h0M525.5 558.4h0M549.3 558.4h0M554.8 558.3h0M574.0 558.3h0M585.5 558.5h0M607.1 558.6h0M520.5 560.6h0M560.3 560.0h0M590.8 560.2h0M602.1 559.8h0M608.1 560.0h0M593.9 561.1h0M605.7 561.2h0M618.6 562.2h0M510.4 563.1h0M512.9 562.5h0M543.5 565.4h0M502.6 578.5h0M519.8 582.8h0M535.7 585.5h0M514.7 587.3h0M515.7 596.8h0"/><path stroke="#3B9AAF" d="M439.9 379.0h0M567.4 384.3h0M462.5 385.2h0M442.2 386.8h0M462.3 387.7h0M476.7 387.2h0M477.4 389.9h0M445.2 392.0h0M467.6 392.0h0M567.7 390.9h0M551.1 392.7h0M575.2 392.6h0M452.3 393.7h0M480.5 395.2h0M571.3 395.1h0M454.7 397.2h0M568.5 396.3h0M575.5 396.7h0M576.1 396.8h0M561.2 398.0h0M448.8 399.8h0M463.5 399.3h0M438.1 400.8h0M465.9 401.3h0M470.1 400.6h0M438.4 402.3h0M484.5 401.8h0M447.7 403.7h0M472.3 403.7h0M469.5 404.6h0M471.4 405.8h0M474.0 405.1h0M487.3 404.8h0M569.7 405.7h0M442.2 407.5h0M453.2 407.5h0M458.5 407.6h0M454.2 409.6h0M466.4 408.7h0M551.4 409.6h0M576.7 409.4h0M451.8 410.1h0M467.7 410.7h0M463.0 411.9h0M553.8 412.6h0M576.0 411.9h0M462.9 413.5h0M438.7 414.7h0M445.4 416.9h0M458.4 416.3h0M563.9 416.1h0M444.8 417.4h0M566.2 417.0h0M570.1 418.0h0M454.9 419.2h0M558.2 419.8h0M603.8 419.0h0M547.2 419.8h0M601.5 419.9h0M607.0 420.1h0M477.8 422.4h0M585.0 422.0h0M578.6 423.8h0M587.5 423.0h0M439.0 424.6h0M440.2 425.5h0M464.8 426.0h0M494.5 427.3h0M602.9 428.3h0M564.7 430.5h0M457.0 430.9h0M593.4 431.2h0M628.5 432.1h0M601.4 432.7h0M640.5 433.2h0M567.5 433.8h0M588.8 434.7h0M600.9 436.6h0M604.7 436.8h0M619.9 436.5h0M613.5 438.1h0M626.8 439.6h0M489.7 441.2h0M601.6 440.7h0M625.3 441.4h0M629.6 441.9h0M612.8 442.9h0M639.1 442.9h0M487.7 444.0h0M602.4 444.8h0M493.4 447.4h0M592.1 446.8h0M612.9 446.5h0M625.6 448.7h0M630.3 448.3h0M586.4 449.0h0M591.4 450.2h0M599.2 451.0h0M601.6 450.7h0M471.8 451.6h0M598.1 452.0h0M626.0 452.6h0M652.0 452.7h0M481.3 454.3h0M630.7 453.8h0M640.4 454.4h0M649.8 455.5h0M498.5 457.0h0M588.6 456.1h0M592.0 456.3h0M602.2 455.7h0M611.0 456.0h0M597.5 457.5h0M604.8 457.1h0M624.7 457.4h0M591.7 460.5h0M489.9 462.0h0M501.1 465.6h0M637.4 466.6h0M659.8 465.6h0M612.4 467.1h0M626.1 467.1h0M629.4 468.4h0M639.4 468.5h0M483.9 469.8h0M620.5 470.2h0M645.8 470.8h0M566.2 471.1h0M488.9 473.4h0M568.0 473.4h0M645.4 473.7h0M575.8 474.7h0M630.9 475.3h0M644.1 477.8h0M592.7 478.1h0M634.9 477.9h0M644.7 478.6h0M651.5 480.0h0M616.9 483.4h0M619.2 483.7h0M587.9 484.8h0M615.2 486.0h0M612.8 487.4h0M646.0 489.6h0M648.1 491.0h0M635.1 492.4h0M640.3 492.7h0M614.3 493.6h0M660.6 493.3h0M616.9 496.1h0M628.6 497.1h0M638.3 496.5h0M623.0 497.6h0M635.9 497.5h0M616.8 500.0h0M624.9 498.7h0M633.4 500.9h0M538.8 503.5h0M589.4 502.9h0M625.0 503.1h0M587.7 505.3h0M603.6 505.4h0M621.1 504.6h0M504.3 506.7h0M567.4 506.5h0M596.8 507.0h0M625.6 506.4h0M588.3 508.9h0M634.4 509.2h0M598.8 510.7h0M622.5 511.0h0M634.4 510.4h0M489.8 511.3h0M530.9 512.1h0M614.5 511.4h0M483.1 513.2h0M544.4 513.7h0M547.7 512.8h0M578.6 513.8h0M585.7 513.2h0M586.9 513.8h0M491.8 514.6h0M522.9 514.5h0M531.8 514.0h0M542.0 514.9h0M552.9 514.6h0M576.7 514.2h0M579.5 515.2h0M606.5 514.8h0M619.3 514.9h0M624.3 514.7h0M527.8 516.2h0M600.9 515.8h0M513.5 517.5h0M536.9 517.2h0M553.0 516.8h0M583.1 516.8h0M590.6 517.5h0M534.1 518.8h0M580.9 518.5h0M603.9 519.4h0M619.0 519.4h0M481.9 519.6h0M500.8 520.1h0M556.0 519.5h0M606.2 520.1h0M474.4 521.4h0M530.1 521.5h0M531.8 521.2h0M556.9 521.9h0M573.8 522.1h0M584.2 521.3h0M624.9 521.1h0M575.1 522.8h0M606.2 523.5h0M618.6 522.7h0M468.0 525.0h0M539.2 524.0h0M547.3 523.7h0M553.8 524.8h0M581.6 524.5h0M612.5 523.8h0M484.1 525.4h0M489.3 525.5h0M614.3 525.4h0M483.1 526.9h0M602.3 526.8h0M605.9 527.7h0M611.2 526.5h0M614.6 526.6h0M548.2 528.8h0M606.4 529.1h0M469.1 529.8h0M510.5 530.1h0M524.6 530.5h0M540.6 530.0h0M620.0 529.8h0M544.3 531.8h0M552.1 531.5h0M552.9 531.4h0M597.4 530.7h0M502.8 533.0h0M553.0 532.4h0M557.8 532.7h0M558.3 532.3h0M572.7 533.1h0M598.2 532.6h0M611.1 532.3h0M531.8 533.3h0M575.4 533.9h0M600.9 534.3h0M608.2 534.0h0M617.7 534.2h0M548.0 535.3h0M590.8 535.2h0M615.0 535.0h0M528.5 537.3h0M582.5 537.1h0M594.4 536.8h0M597.1 536.9h0M612.7 537.2h0M616.1 537.9h0M625.8 538.2h0M594.1 539.3h0M630.9 540.1h0M514.1 541.1h0M580.6 541.2h0M586.1 540.4h0M591.1 540.4h0M591.7 541.0h0M553.4 541.7h0M559.3 542.4h0M577.0 542.9h0M603.2 542.4h0M524.1 544.3h0M566.3 543.4h0M571.2 543.4h0M602.5 543.2h0M626.4 543.6h0M501.0 544.9h0M577.2 545.8h0M586.9 545.5h0M591.6 545.1h0M543.3 546.9h0M558.4 547.1h0M630.4 546.7h0M559.2 547.6h0M561.7 549.8h0M574.1 549.2h0M492.4 551.4h0M502.3 550.0h0M608.5 550.7h0M614.5 550.4h0M621.0 551.2h0M517.9 552.6h0M541.8 552.1h0M543.5 552.6h0M551.1 551.7h0M574.7 552.3h0M588.2 552.5h0M625.9 551.8h0M565.9 554.0h0M567.5 553.6h0M571.1 553.6h0M616.6 553.4h0M490.2 554.2h0M562.2 554.5h0M567.9 554.9h0M576.8 554.2h0M603.6 555.3h0M605.2 554.4h0M526.6 555.8h0M541.5 555.9h0M549.6 556.6h0M593.7 555.8h0M613.9 556.4h0M537.3 557.2h0M556.0 557.3h0M563.5 557.4h0M565.8 557.8h0M615.7 557.4h0M520.3 558.5h0M569.7 558.8h0M587.0 558.5h0M613.6 558.8h0M531.6 560.8h0M574.2 559.9h0M576.3 560.0h0M583.0 559.9h0M494.5 569.1h0M540.7 568.2h0M520.0 576.1h0M519.6 581.6h0M526.3 590.5h0M511.8 597.7h0"/><path stroke="#4AACA8" d="M448.8 375.3h0M440.0 382.4h0M449.6 384.4h0M476.1 384.0h0M459.9 385.2h0M469.1 386.3h0M441.0 387.8h0M437.6 387.9h0M573.4 389.3h0M435.3 391.7h0M441.5 392.3h0M452.7 392.1h0M479.4 392.3h0M480.1 394.1h0M432.5 395.1h0M476.1 396.6h0M483.3 396.7h0M565.9 396.2h0M439.5 398.7h0M569.2 398.3h0M572.2 398.5h0M435.7 399.2h0M451.3 401.6h0M455.6 401.3h0M463.9 401.4h0M479.3 401.3h0M547.0 401.1h0M486.4 402.9h0M434.4 404.5h0M442.2 405.9h0M475.1 407.3h0M476.1 407.2h0M560.6 406.2h0M568.9 406.6h0M570.9 406.8h0M555.1 408.6h0M567.9 408.1h0M457.7 408.9h0M430.7 411.3h0M453.6 411.4h0M469.8 410.4h0M478.1 412.6h0M439.9 413.1h0M447.7 413.9h0M452.0 413.6h0M454.6 412.9h0M459.1 413.4h0M461.4 413.7h0M466.3 414.2h0M478.3 414.1h0M561.6 413.7h0M450.7 415.5h0M597.8 415.4h0M433.7 416.7h0M447.0 415.8h0M558.1 416.4h0M593.9 417.0h0M437.5 418.2h0M461.7 417.2h0M466.8 419.9h0M469.6 419.8h0M588.2 420.4h0M614.4 421.0h0M607.2 425.3h0M615.3 425.0h0M552.1 425.4h0M584.0 426.5h0M589.5 425.6h0M491.8 427.8h0M504.1 427.3h0M602.6 426.8h0M604.9 426.8h0M449.6 429.0h0M561.3 429.2h0M601.1 428.7h0M607.9 429.2h0M467.2 429.7h0M562.4 430.1h0M595.5 429.6h0M602.2 429.7h0M443.1 431.5h0M483.8 431.9h0M604.6 431.4h0M449.7 432.9h0M451.8 432.4h0M587.9 433.5h0M616.0 432.3h0M631.1 433.3h0M450.6 433.7h0M485.6 433.6h0M623.3 434.0h0M487.1 435.9h0M508.8 435.1h0M586.2 436.4h0M591.4 436.3h0M595.7 435.7h0M605.1 436.2h0M639.0 435.4h0M506.7 436.5h0M626.3 436.4h0M459.0 438.7h0M469.5 439.1h0M553.4 439.1h0M616.8 438.9h0M457.6 441.1h0M592.0 441.5h0M606.7 441.6h0M612.2 441.0h0M494.3 442.3h0M506.4 442.1h0M631.8 443.0h0M483.6 444.2h0M487.3 443.8h0M491.2 443.5h0M498.6 443.7h0M499.8 443.5h0M488.6 445.5h0M626.7 445.0h0M590.6 447.4h0M599.2 447.3h0M463.9 448.8h0M596.6 448.4h0M636.5 448.2h0M642.2 447.5h0M479.4 450.9h0M613.8 451.0h0M610.9 451.6h0M616.5 451.9h0M623.1 452.9h0M624.9 452.6h0M644.3 452.0h0M487.3 453.5h0M600.9 453.1h0M619.7 453.1h0M640.3 453.3h0M480.9 455.1h0M610.0 455.6h0M637.1 455.7h0M641.8 455.1h0M643.0 456.6h0M615.3 457.3h0M650.3 457.3h0M610.2 458.8h0M632.6 460.7h0M633.9 459.9h0M612.0 462.6h0M479.7 464.1h0M624.0 463.3h0M658.4 462.8h0M620.2 464.8h0M625.0 464.6h0M621.3 465.9h0M588.0 467.7h0M623.4 469.4h0M561.8 469.7h0M611.5 470.3h0M615.0 471.2h0M630.3 471.1h0M639.2 472.2h0M650.3 475.1h0M487.6 475.3h0M626.2 476.3h0M642.2 475.7h0M586.4 477.6h0M633.2 478.7h0M614.4 480.4h0M629.4 482.4h0M647.3 483.0h0M615.2 483.7h0M613.1 485.9h0M644.1 488.6h0M613.3 489.2h0M618.5 490.9h0M653.6 490.6h0M644.8 491.9h0M646.6 491.8h0M609.9 493.7h0M622.6 494.4h0M625.8 493.9h0M630.5 494.1h0M632.3 493.8h0M590.6 494.8h0M616.9 495.6h0M653.8 496.3h0M635.1 497.6h0M610.6 499.5h0M636.0 501.4h0M637.9 500.4h0M500.2 502.5h0M583.0 502.1h0M613.3 501.6h0M632.7 502.8h0M633.7 502.5h0M652.3 501.5h0M577.1 503.7h0M585.0 503.7h0M587.7 503.2h0M619.4 504.3h0M602.1 505.2h0M478.7 505.7h0M520.7 506.8h0M601.3 505.7h0M612.1 506.0h0M493.5 507.1h0M594.6 507.8h0M608.5 508.0h0M631.0 508.4h0M500.1 509.7h0M595.2 509.4h0M498.4 510.8h0M581.2 510.6h0M615.3 511.0h0M617.4 510.2h0M625.4 511.0h0M520.9 512.2h0M578.9 511.2h0M585.0 512.3h0M609.8 512.4h0M624.9 511.5h0M594.7 512.7h0M607.5 514.0h0M619.9 513.6h0M615.1 514.4h0M485.5 516.5h0M547.9 515.6h0M555.8 516.1h0M574.5 516.1h0M580.6 516.6h0M584.4 516.0h0M596.7 516.4h0M603.0 515.8h0M516.1 517.8h0M520.2 518.1h0M526.2 517.9h0M542.7 517.7h0M564.2 518.0h0M606.4 517.5h0M545.0 519.2h0M546.7 519.0h0M566.6 518.2h0M602.2 519.2h0M611.4 519.0h0M534.4 520.7h0M592.7 520.6h0M579.9 521.9h0M586.9 521.9h0M598.7 521.6h0M622.4 521.0h0M504.7 523.7h0M548.8 522.4h0M616.3 522.7h0M542.5 524.3h0M568.3 523.7h0M571.8 524.5h0M498.6 525.4h0M511.5 525.3h0M525.0 525.6h0M541.4 526.4h0M548.1 525.4h0M581.4 526.2h0M587.5 525.0h0M523.8 527.3h0M579.0 527.5h0M583.2 527.3h0M618.1 527.2h0M536.2 528.1h0M539.0 528.2h0M546.6 528.2h0M552.6 529.0h0M601.3 528.6h0M620.5 529.1h0M551.4 530.1h0M560.0 530.5h0M578.6 529.5h0M513.0 532.0h0M535.2 531.8h0M542.1 531.7h0M560.8 531.8h0M596.0 531.5h0M617.6 531.1h0M528.6 533.3h0M576.1 533.2h0M588.3 532.0h0M626.6 533.2h0M507.7 534.5h0M536.0 534.0h0M572.4 533.4h0M580.2 534.6h0M472.8 535.6h0M530.2 535.3h0M550.7 535.4h0M558.4 536.1h0M598.8 535.0h0M625.1 535.2h0M540.6 537.3h0M544.9 536.4h0M562.3 536.4h0M580.1 537.4h0M591.0 536.7h0M621.9 537.2h0M626.9 536.4h0M630.4 537.2h0M528.8 538.1h0M538.2 537.7h0M552.0 538.7h0M555.8 538.6h0M586.1 538.3h0M592.5 538.4h0M567.3 539.6h0M555.7 540.5h0M562.5 541.2h0M573.8 541.0h0M602.7 541.3h0M496.6 542.9h0M563.4 542.5h0M566.3 542.7h0M606.6 542.4h0M509.9 543.9h0M615.4 543.7h0M504.1 545.2h0M568.7 545.4h0M572.4 545.8h0M600.3 545.2h0M619.5 544.6h0M634.4 545.6h0M576.3 547.2h0M582.9 546.2h0M601.7 546.9h0M551.6 547.2h0M560.8 548.3h0M573.4 548.3h0M628.9 547.8h0M548.1 549.5h0M573.1 548.9h0M575.7 549.8h0M594.0 548.9h0M600.6 549.5h0M613.2 549.1h0M553.7 551.4h0M615.5 552.5h0M501.7 552.9h0M577.2 553.6h0M537.9 554.9h0M558.2 556.5h0M566.1 556.3h0M588.7 555.9h0M590.5 556.6h0M493.6 558.2h0M516.6 558.1h0M575.1 557.5h0M577.3 557.2h0M587.9 558.0h0M509.6 559.3h0M553.6 559.4h0M593.7 559.1h0M598.2 559.5h0M604.9 559.1h0M620.6 558.5h0M621.7 559.4h0M555.7 560.4h0M599.8 560.2h0M545.1 561.3h0M611.5 562.2h0M523.4 570.3h0M518.9 572.2h0M530.7 574.7h0M511.0 575.5h0M496.3 576.8h0M540.7 579.0h0M523.8 579.9h0M531.0 581.6h0M538.2 581.3h0M532.9 585.5h0M511.3 590.8h0M516.2 594.5h0"/><path stroke="#66BDA3" d="M438.2 379.1h0M442.2 378.6h0M468.5 381.8h0M435.1 384.8h0M570.2 384.5h0M448.4 386.5h0M463.1 387.1h0M558.5 386.5h0M442.0 388.7h0M462.7 388.1h0M445.3 389.4h0M567.8 389.4h0M438.6 391.7h0M456.9 391.9h0M459.0 391.6h0M480.1 391.7h0M555.9 391.0h0M556.7 391.7h0M442.8 393.1h0M553.3 393.0h0M456.9 393.9h0M466.2 394.1h0M472.5 394.2h0M475.4 393.8h0M477.8 394.1h0M435.7 396.2h0M470.4 395.7h0M553.2 395.1h0M564.1 395.8h0M461.7 396.5h0M463.7 400.0h0M441.9 400.8h0M553.8 401.0h0M479.0 401.8h0M434.6 404.0h0M445.3 404.6h0M466.6 405.3h0M484.7 405.8h0M443.3 408.0h0M447.7 408.6h0M467.5 407.9h0M435.7 408.9h0M436.9 410.4h0M462.8 410.1h0M436.0 411.7h0M468.0 411.5h0M452.8 413.5h0M440.8 415.3h0M444.6 415.4h0M465.0 415.6h0M550.9 415.2h0M559.8 415.5h0M564.0 414.6h0M606.2 415.3h0M449.8 415.7h0M603.8 415.7h0M442.7 417.6h0M568.6 417.8h0M601.1 417.0h0M439.2 418.5h0M549.8 418.5h0M578.5 419.6h0M447.3 419.8h0M454.5 420.9h0M488.6 420.8h0M592.8 420.7h0M602.9 420.7h0M465.7 422.2h0M602.6 421.9h0M438.7 423.2h0M454.3 423.2h0M550.1 422.8h0M580.9 422.9h0M582.0 422.5h0M440.2 423.9h0M467.1 424.1h0M472.9 424.1h0M493.9 424.5h0M528.0 424.4h0M552.3 424.0h0M594.5 424.9h0M598.2 424.2h0M626.1 424.5h0M441.2 426.3h0M597.9 426.4h0M449.6 427.9h0M489.0 427.8h0M597.6 427.0h0M609.0 427.7h0M564.5 429.2h0M576.0 428.6h0M440.3 430.1h0M600.7 430.1h0M633.6 430.7h0M447.6 431.2h0M465.2 431.0h0M601.0 431.2h0M579.3 433.2h0M598.8 432.4h0M608.6 433.3h0M624.3 432.8h0M638.9 432.7h0M599.1 433.7h0M603.8 434.4h0M452.7 435.4h0M601.1 435.4h0M627.7 435.9h0M471.1 436.6h0M490.8 437.3h0M497.7 437.6h0M621.7 437.6h0M509.3 437.7h0M622.6 438.2h0M449.1 440.2h0M585.8 439.6h0M593.6 439.5h0M608.2 440.4h0M469.1 440.8h0M586.3 441.2h0M594.7 441.6h0M617.4 441.0h0M642.1 441.1h0M477.4 443.2h0M624.5 442.2h0M647.7 442.3h0M500.8 443.4h0M594.1 444.6h0M601.8 444.0h0M627.8 444.5h0M475.1 445.6h0M586.7 445.2h0M612.7 445.1h0M635.2 445.9h0M608.4 446.4h0M614.9 447.0h0M628.2 446.3h0M632.4 447.4h0M450.2 448.1h0M598.9 447.7h0M615.2 448.0h0M618.9 448.5h0M489.0 449.7h0M602.2 449.9h0M589.9 450.7h0M596.4 451.1h0M618.6 451.2h0M636.0 450.9h0M587.4 452.6h0M605.8 453.8h0M491.9 454.6h0M589.3 455.5h0M625.0 455.3h0M629.6 456.5h0M631.1 456.5h0M607.2 458.6h0M610.7 457.6h0M623.5 457.6h0M585.6 459.4h0M592.5 459.7h0M631.5 459.6h0M634.4 458.6h0M637.1 458.9h0M489.0 461.1h0M496.1 460.9h0M586.3 460.4h0M588.5 460.8h0M624.5 460.2h0M479.6 462.6h0M627.1 462.3h0M619.9 463.4h0M626.9 463.8h0M621.9 464.3h0M632.3 464.9h0M625.3 466.4h0M619.9 468.1h0M635.2 467.6h0M633.1 469.1h0M570.7 469.8h0M618.2 471.9h0M622.3 471.5h0M623.2 473.0h0M641.5 472.9h0M484.0 473.7h0M568.9 475.1h0M613.3 474.5h0M642.3 474.5h0M486.7 476.3h0M638.1 475.2h0M589.5 477.1h0M623.0 476.8h0M632.7 477.7h0M634.3 476.8h0M566.0 478.6h0M617.1 479.3h0M619.2 478.2h0M624.8 480.5h0M637.5 480.0h0M653.2 480.4h0M617.0 482.0h0M629.4 481.4h0M647.9 481.8h0M652.0 482.9h0M483.9 483.6h0M620.8 483.5h0M568.0 484.9h0M628.8 485.9h0M648.4 485.7h0M646.3 487.3h0M653.6 486.4h0M642.4 487.9h0M617.2 489.6h0M643.1 489.7h0M649.6 490.0h0M636.9 490.9h0M579.4 492.1h0M636.7 491.9h0M649.0 492.5h0M586.7 493.6h0M609.0 494.4h0M640.9 494.0h0M607.6 495.7h0M608.8 494.8h0M634.4 495.3h0M614.9 496.1h0M611.0 497.5h0M615.8 497.4h0M621.4 498.1h0M626.2 498.5h0M644.6 498.6h0M639.4 499.9h0M644.1 499.7h0M652.8 499.6h0M631.4 500.9h0M644.3 500.8h0M603.4 501.6h0M617.8 502.3h0M579.9 503.6h0M617.2 504.2h0M631.3 503.7h0M641.1 502.9h0M582.9 504.4h0M618.2 504.6h0M637.1 504.9h0M501.7 506.5h0M540.3 505.9h0M594.3 507.0h0M626.6 505.6h0M640.8 505.7h0M503.0 507.8h0M581.0 507.6h0M601.4 507.4h0M612.3 507.5h0M623.5 507.1h0M631.7 507.5h0M538.6 509.3h0M595.7 509.8h0M611.0 509.2h0M486.9 511.1h0M506.6 511.2h0M513.9 510.9h0M518.9 510.4h0M536.2 510.8h0M541.3 510.9h0M542.5 510.5h0M546.3 510.9h0M587.2 510.0h0M601.4 510.6h0M603.4 509.9h0M613.7 510.2h0M636.1 510.0h0M495.6 512.5h0M605.6 511.2h0M608.0 511.5h0M623.5 511.5h0M473.9 512.7h0M515.4 513.6h0M526.8 513.1h0M625.8 513.4h0M533.5 514.7h0M536.8 515.1h0M554.7 514.8h0M595.3 514.8h0M597.7 514.5h0M620.9 514.7h0M625.5 515.2h0M508.5 516.5h0M516.0 516.0h0M531.6 516.7h0M536.5 516.4h0M551.1 516.5h0M552.4 516.3h0M572.2 516.3h0M518.4 517.1h0M585.3 517.2h0M596.6 517.1h0M615.4 517.9h0M619.9 516.7h0M629.3 516.7h0M525.9 518.3h0M530.1 519.1h0M552.3 518.4h0M556.9 519.4h0M563.8 519.4h0M589.5 518.3h0M595.2 518.1h0M503.4 520.9h0M512.7 519.7h0M564.1 520.6h0M620.3 519.8h0M469.6 521.2h0M508.2 521.7h0M523.8 521.0h0M544.2 521.4h0M617.5 521.5h0M492.5 523.3h0M509.5 522.3h0M525.8 523.6h0M554.7 522.5h0M574.5 522.4h0M600.0 523.4h0M493.4 524.6h0M528.8 523.8h0M545.3 523.8h0M564.3 524.4h0M573.6 523.9h0M575.7 525.0h0M537.7 526.3h0M561.6 526.1h0M564.1 526.1h0M587.8 526.0h0M612.5 525.6h0M617.2 526.1h0M467.6 526.4h0M493.8 527.4h0M528.4 527.4h0M532.9 527.7h0M546.1 527.5h0M552.4 526.5h0M555.2 527.0h0M585.8 526.6h0M598.2 526.6h0M586.4 528.3h0M596.1 528.7h0M598.7 528.9h0M608.8 527.8h0M610.3 528.4h0M618.8 529.0h0M624.6 527.9h0M526.5 529.7h0M555.9 529.3h0M567.0 530.2h0M569.6 530.0h0M589.8 529.5h0M495.4 531.3h0M550.4 531.2h0M572.4 531.0h0M585.0 530.9h0M594.8 530.6h0M608.7 531.1h0M489.4 532.2h0M545.8 533.1h0M561.8 532.1h0M580.9 532.1h0M612.9 533.1h0M619.8 532.2h0M621.4 532.4h0M471.6 534.3h0M473.9 534.5h0M529.0 534.0h0M540.1 534.0h0M563.8 534.6h0M586.6 533.9h0M613.3 534.2h0M542.8 535.3h0M571.7 535.3h0M576.8 534.9h0M586.0 535.3h0M593.6 534.8h0M514.4 536.7h0M525.9 537.0h0M537.9 537.1h0M549.6 536.3h0M554.6 536.3h0M557.6 537.5h0M574.4 536.7h0M600.5 537.0h0M610.7 537.5h0M515.8 537.5h0M620.2 538.0h0M538.7 539.6h0M552.1 539.8h0M628.4 539.5h0M600.4 540.9h0M606.1 540.4h0M627.5 541.6h0M501.0 542.0h0M604.0 542.2h0M609.6 542.5h0M577.4 543.5h0M588.9 543.3h0M598.2 544.0h0M623.8 544.3h0M566.3 545.4h0M602.2 544.9h0M484.0 546.9h0M491.5 547.2h0M596.9 546.3h0M614.8 546.2h0M620.8 546.6h0M562.4 547.6h0M564.0 548.1h0M590.4 547.5h0M607.8 547.3h0M630.7 548.3h0M499.9 549.2h0M577.9 548.8h0M592.3 549.9h0M557.7 551.0h0M572.7 550.6h0M579.2 551.1h0M585.5 551.2h0M592.5 550.0h0M599.0 550.1h0M489.6 551.7h0M559.2 552.6h0M578.3 552.7h0M612.1 552.5h0M618.6 552.6h0M533.4 553.8h0M544.8 553.3h0M559.4 553.5h0M584.0 553.1h0M594.3 553.5h0M623.4 553.6h0M630.7 553.3h0M522.1 555.5h0M555.4 554.4h0M557.5 554.8h0M571.2 555.0h0M627.6 555.5h0M499.9 556.2h0M528.2 556.3h0M563.3 556.0h0M580.9 556.8h0M604.2 556.0h0M608.1 555.6h0M610.7 555.8h0M626.9 555.8h0M524.9 557.2h0M569.3 557.2h0M575.9 557.3h0M585.5 558.1h0M624.7 558.0h0M629.0 557.6h0M513.7 558.6h0M524.5 558.4h0M533.8 559.4h0M550.9 558.9h0M562.2 559.7h0M579.7 559.0h0M518.3 560.3h0M539.7 559.7h0M569.0 559.9h0M579.0 559.7h0M618.1 560.1h0M621.2 559.8h0M589.9 561.4h0M616.2 562.0h0M616.9 561.9h0M541.2 562.7h0M550.6 562.8h0M554.1 562.5h0M493.0 564.9h0M504.0 566.4h0M551.0 565.8h0M548.2 567.7h0M547.6 571.9h0M536.6 573.5h0M515.2 574.8h0M539.4 575.3h0M541.7 576.2h0M515.3 576.8h0M530.6 577.3h0M537.5 579.7h0M520.0 584.6h0M527.2 585.1h0M516.5 586.5h0M523.2 587.1h0M534.7 587.8h0M526.9 589.6h0M511.0 595.2h0M522.3 594.6h0M519.1 598.3h0"/><path stroke="#82CC9E" d="M458.5 372.7h0M463.4 373.7h0M445.0 378.8h0M469.7 380.5h0M444.4 382.0h0M447.1 381.9h0M455.4 381.8h0M571.0 386.0h0M439.6 386.7h0M447.9 387.1h0M450.8 386.5h0M456.6 387.6h0M467.4 387.9h0M565.9 387.3h0M471.8 388.6h0M478.6 388.7h0M572.9 387.9h0M434.8 390.2h0M462.6 389.4h0M447.0 391.1h0M481.5 390.6h0M457.1 393.3h0M460.2 393.2h0M462.5 392.6h0M567.3 392.7h0M458.5 394.8h0M439.4 394.9h0M467.2 395.8h0M437.0 396.3h0M472.0 396.3h0M434.1 398.7h0M445.1 398.4h0M467.0 397.5h0M453.4 400.3h0M461.5 400.2h0M551.2 399.3h0M462.0 401.1h0M468.9 400.4h0M453.8 402.9h0M466.5 403.0h0M467.6 402.4h0M568.1 403.1h0M570.9 402.4h0M442.2 404.3h0M444.0 404.2h0M575.1 403.8h0M435.6 405.4h0M443.8 404.6h0M457.6 404.7h0M482.0 405.4h0M564.0 405.4h0M574.6 404.6h0M457.1 407.2h0M548.4 406.7h0M556.6 406.6h0M576.8 406.9h0M451.0 407.5h0M458.6 411.0h0M476.8 411.4h0M566.2 410.6h0M568.0 411.2h0M574.2 411.0h0M440.1 411.9h0M445.6 411.9h0M454.5 412.5h0M567.3 411.7h0M456.9 413.4h0M490.0 414.1h0M570.3 413.9h0M449.6 414.6h0M556.6 414.6h0M436.7 415.6h0M440.0 416.5h0M448.0 416.0h0M455.1 416.3h0M486.3 416.6h0M616.3 416.0h0M432.8 418.0h0M465.1 417.9h0M483.9 418.1h0M578.9 418.1h0M599.0 417.3h0M619.3 417.3h0M605.2 418.8h0M438.2 420.6h0M460.3 422.4h0M486.6 421.9h0M596.1 421.2h0M446.5 423.1h0M458.9 422.8h0M462.0 423.0h0M466.7 423.5h0M472.7 422.5h0M493.4 423.4h0M554.8 423.6h0M591.8 423.0h0M578.3 424.5h0M583.7 424.6h0M603.1 424.0h0M604.7 425.0h0M632.6 424.7h0M486.6 425.3h0M494.7 426.0h0M513.2 426.4h0M553.4 426.4h0M556.5 426.4h0M595.3 427.9h0M611.5 426.7h0M446.1 428.2h0M481.6 429.2h0M494.2 428.9h0M560.3 429.3h0M593.1 428.9h0M597.4 428.4h0M482.4 429.8h0M485.2 430.5h0M486.3 430.4h0M496.1 430.1h0M571.7 429.6h0M579.0 429.8h0M598.3 430.5h0M451.1 432.0h0M483.4 431.9h0M559.0 431.4h0M641.6 431.9h0M574.9 432.9h0M593.0 433.5h0M633.0 432.3h0M641.6 432.7h0M454.6 434.7h0M613.8 433.9h0M627.3 433.7h0M644.2 433.7h0M448.2 435.4h0M602.1 435.1h0M611.8 435.7h0M621.4 435.2h0M624.8 435.3h0M447.4 436.5h0M454.0 437.7h0M613.5 437.2h0M634.2 436.5h0M595.9 438.0h0M603.5 438.6h0M610.6 437.8h0M485.7 439.5h0M639.3 439.6h0M643.5 439.9h0M615.7 440.9h0M624.8 441.2h0M645.6 440.6h0M449.8 442.5h0M450.3 442.7h0M587.0 442.6h0M599.2 442.9h0M617.8 442.1h0M636.5 442.1h0M461.0 443.4h0M479.3 443.3h0M480.4 443.5h0M607.0 444.0h0M617.7 444.5h0M629.6 443.7h0M610.4 445.6h0M616.8 445.8h0M618.6 444.8h0M628.1 446.0h0M445.1 447.3h0M471.0 447.4h0M486.7 446.1h0M621.1 446.6h0M642.5 446.1h0M471.9 448.2h0M586.1 448.3h0M616.5 447.5h0M623.8 448.7h0M630.9 448.2h0M648.1 447.9h0M651.1 447.6h0M457.7 450.1h0M483.7 449.9h0M490.0 449.5h0M599.7 450.1h0M615.4 448.9h0M628.7 449.0h0M645.7 449.7h0M475.9 452.3h0M603.9 452.3h0M613.0 452.3h0M635.4 452.1h0M587.2 453.1h0M599.6 454.0h0M611.2 453.7h0M597.3 455.2h0M605.0 455.5h0M613.8 455.4h0M629.2 455.1h0M605.4 455.8h0M608.0 456.5h0M621.5 457.9h0M478.2 459.4h0M489.1 459.7h0M628.6 458.6h0M568.6 462.7h0M485.9 463.6h0M615.7 463.1h0M620.6 463.1h0M634.4 462.7h0M642.0 462.8h0M487.5 468.0h0M562.5 468.2h0M585.8 467.4h0M615.5 467.0h0M636.3 467.4h0M648.1 468.7h0M569.3 470.9h0M624.3 469.8h0M657.4 471.5h0M615.5 473.0h0M620.2 473.7h0M625.9 473.3h0M486.2 474.7h0M645.9 474.7h0M648.0 474.1h0M484.3 476.9h0M578.3 477.2h0M564.5 478.4h0M604.6 478.5h0M621.8 478.8h0M566.9 480.3h0M620.5 480.0h0M639.9 479.6h0M613.3 481.6h0M654.0 481.9h0M654.9 481.3h0M567.4 483.2h0M625.4 482.4h0M627.7 483.5h0M659.2 483.1h0M587.3 483.5h0M611.9 484.7h0M624.1 483.6h0M660.4 484.3h0M633.4 485.2h0M603.3 487.2h0M615.9 487.2h0M628.9 486.3h0M633.3 487.2h0M637.8 487.4h0M625.1 487.8h0M635.9 487.8h0M661.8 488.6h0M573.5 489.9h0M640.1 489.5h0M650.6 489.3h0M657.1 490.2h0M660.8 490.3h0M572.7 492.6h0M612.8 493.2h0M617.1 492.5h0M653.1 493.9h0M620.8 495.3h0M648.6 495.7h0M483.8 496.1h0M609.4 496.0h0M649.8 496.6h0M629.0 497.6h0M623.3 499.5h0M626.4 500.9h0M652.7 500.8h0M537.8 501.5h0M578.4 501.9h0M590.6 502.4h0M642.3 502.7h0M644.2 502.2h0M648.5 502.0h0M509.1 503.3h0M609.2 503.7h0M613.1 503.8h0M622.7 503.3h0M539.7 505.4h0M598.6 505.4h0M606.1 505.4h0M507.4 505.9h0M518.5 506.2h0M525.6 506.3h0M591.8 506.6h0M603.1 507.0h0M614.5 507.0h0M635.1 506.3h0M636.2 506.6h0M639.5 506.4h0M584.5 507.8h0M586.4 508.4h0M599.1 507.1h0M494.7 509.0h0M516.2 509.6h0M521.7 508.8h0M542.2 508.9h0M582.1 509.1h0M593.1 508.5h0M604.4 509.2h0M605.3 508.4h0M626.8 508.6h0M490.9 510.6h0M535.1 510.6h0M544.7 511.0h0M593.6 510.9h0M610.9 509.9h0M631.4 510.0h0M477.4 512.2h0M511.1 512.1h0M532.1 512.2h0M535.7 511.9h0M540.7 512.3h0M544.6 511.6h0M595.0 512.0h0M604.1 511.8h0M635.3 512.3h0M528.5 513.0h0M529.7 513.9h0M605.3 514.0h0M611.6 512.8h0M613.5 513.7h0M527.8 514.8h0M539.7 514.9h0M544.2 514.5h0M561.6 515.3h0M572.5 515.2h0M603.3 514.3h0M609.1 514.4h0M474.6 515.5h0M529.6 516.4h0M566.7 516.5h0M582.2 515.8h0M625.7 516.5h0M479.1 518.1h0M489.0 517.3h0M562.8 517.7h0M572.7 517.3h0M586.6 518.0h0M573.0 519.3h0M577.9 518.6h0M587.9 518.9h0M539.3 520.4h0M544.0 520.4h0M557.5 520.1h0M578.6 520.9h0M615.3 519.5h0M516.1 521.0h0M537.8 522.1h0M569.5 521.6h0M550.0 522.9h0M569.7 523.6h0M579.0 522.4h0M602.3 522.7h0M610.2 523.6h0M474.4 524.5h0M500.8 524.5h0M530.7 524.6h0M534.5 524.9h0M556.0 524.7h0M561.6 524.7h0M574.3 524.4h0M594.2 524.2h0M595.5 524.0h0M624.5 524.7h0M563.3 525.4h0M573.9 525.1h0M619.3 525.4h0M508.5 526.6h0M553.5 527.5h0M572.2 526.5h0M580.8 527.5h0M616.4 526.9h0M521.5 527.9h0M577.9 527.8h0M579.5 528.8h0M588.8 528.9h0M485.3 529.8h0M514.0 530.0h0M528.9 529.8h0M554.0 529.5h0M486.2 531.3h0M505.1 530.6h0M547.7 531.7h0M588.4 531.6h0M603.4 531.8h0M521.5 532.0h0M524.3 532.4h0M540.6 532.8h0M554.4 533.3h0M579.5 532.4h0M595.4 533.4h0M622.2 532.9h0M560.7 533.9h0M626.4 534.6h0M503.1 535.0h0M509.2 535.0h0M533.6 534.8h0M536.8 536.0h0M548.9 534.7h0M600.3 534.9h0M602.6 535.3h0M626.6 535.3h0M530.6 536.7h0M566.7 536.6h0M587.4 537.3h0M590.4 536.6h0M625.7 537.3h0M531.4 537.6h0M540.2 538.3h0M548.9 538.7h0M551.2 538.6h0M560.2 538.4h0M561.4 537.9h0M569.4 538.4h0M580.6 538.1h0M602.1 538.5h0M495.1 539.6h0M511.4 539.2h0M555.2 538.9h0M563.9 538.9h0M583.4 539.7h0M604.7 539.7h0M510.5 540.8h0M583.2 540.5h0M595.9 540.9h0M631.9 541.6h0M498.7 542.5h0M560.6 543.0h0M564.2 542.8h0M579.7 541.9h0M583.4 543.0h0M588.5 542.5h0M597.8 542.4h0M600.9 542.1h0M582.1 544.3h0M584.9 544.0h0M628.9 544.1h0M632.1 544.1h0M499.2 545.3h0M583.7 545.2h0M604.1 545.7h0M570.2 545.8h0M572.0 546.4h0M598.5 546.0h0M616.3 546.4h0M618.1 546.9h0M568.0 547.8h0M578.9 547.4h0M627.1 548.4h0M548.7 549.8h0M550.7 550.0h0M565.3 549.1h0M604.0 548.6h0M605.4 548.9h0M612.0 549.6h0M617.9 548.9h0M630.4 549.9h0M499.4 550.4h0M552.1 550.3h0M561.8 551.1h0M565.3 551.2h0M583.4 550.5h0M592.2 550.4h0M547.8 552.2h0M568.7 552.8h0M583.7 551.4h0M589.9 552.4h0M628.9 551.9h0M544.2 553.0h0M552.9 552.9h0M593.8 553.1h0M601.6 552.9h0M606.4 553.8h0M625.8 553.1h0M544.5 554.4h0M596.9 554.3h0M519.1 556.4h0M532.3 556.7h0M537.3 556.6h0M539.0 556.0h0M575.8 556.2h0M586.1 556.8h0M615.7 556.5h0M623.6 556.6h0M515.3 558.0h0M524.2 557.8h0M593.4 558.0h0M596.6 557.5h0M619.5 557.8h0M572.4 559.3h0M583.0 558.5h0M600.7 559.5h0M546.9 560.6h0M603.6 560.1h0M624.9 560.1h0M607.9 561.9h0M517.3 564.4h0M556.1 564.1h0M494.5 567.7h0M518.2 567.0h0M519.0 571.4h0M529.5 571.3h0M515.4 572.3h0M514.4 574.4h0M527.5 573.7h0M516.8 577.4h0M520.4 577.7h0M505.9 578.8h0M516.4 581.1h0M533.6 580.9h0M522.5 582.6h0M537.6 582.7h0M522.7 584.4h0M526.9 584.6h0M521.7 587.6h0M513.8 590.8h0M527.3 592.2h0M507.0 595.2h0M515.1 595.0h0M511.8 595.8h0M504.0 599.5h0"/><path stroke="#A3D99C" d="M440.5 369.1h0M456.0 374.7h0M467.9 376.8h0M465.1 381.0h0M443.3 380.9h0M471.0 381.5h0M448.1 383.1h0M450.7 383.0h0M470.3 382.5h0M438.9 385.3h0M471.2 385.5h0M434.9 387.6h0M446.3 386.6h0M459.2 387.8h0M465.0 387.6h0M446.4 388.1h0M464.1 388.0h0M469.5 388.0h0M564.1 388.9h0M466.7 390.2h0M468.7 390.0h0M472.3 390.4h0M480.7 389.7h0M477.8 392.0h0M436.0 392.1h0M454.9 392.8h0M464.7 392.9h0M476.3 393.2h0M572.8 393.3h0M432.5 394.2h0M453.4 393.7h0M576.1 393.5h0M476.7 395.3h0M440.3 397.1h0M465.9 397.6h0M469.6 396.7h0M560.5 397.4h0M437.3 399.5h0M467.7 399.3h0M481.8 400.3h0M569.5 399.3h0M442.9 401.5h0M434.6 402.9h0M447.4 402.5h0M457.7 402.9h0M480.9 402.4h0M564.8 403.1h0M487.8 404.4h0M446.2 405.6h0M454.2 405.3h0M472.3 404.8h0M444.5 407.2h0M465.5 406.7h0M449.7 408.0h0M459.1 407.9h0M486.6 408.0h0M574.8 407.3h0M463.5 409.1h0M478.4 410.0h0M570.2 409.2h0M576.0 409.5h0M432.4 411.0h0M450.3 410.4h0M454.2 411.3h0M457.0 411.1h0M459.7 410.6h0M474.4 410.8h0M572.0 410.1h0M563.0 412.4h0M484.7 414.1h0M558.2 412.8h0M575.5 413.0h0M435.4 414.3h0M446.2 414.9h0M470.5 416.5h0M482.2 415.7h0M549.0 416.9h0M567.7 416.4h0M574.6 416.0h0M614.9 416.2h0M477.4 416.9h0M482.3 417.8h0M458.1 418.5h0M462.7 419.6h0M475.6 418.9h0M490.6 418.4h0M491.7 419.3h0M546.4 418.7h0M448.7 419.9h0M452.9 420.1h0M615.8 420.4h0M626.7 420.1h0M448.4 421.7h0M488.6 422.4h0M591.3 421.9h0M598.5 422.1h0M600.0 421.4h0M483.8 422.6h0M489.9 422.7h0M594.9 423.0h0M450.2 424.0h0M479.1 425.0h0M483.7 424.7h0M564.5 424.6h0M587.8 425.3h0M594.6 425.9h0M602.3 426.0h0M505.6 427.7h0M631.8 426.7h0M488.6 429.4h0M558.2 428.8h0M573.1 428.9h0M610.4 429.1h0M615.8 429.8h0M620.3 429.7h0M636.7 430.5h0M481.3 431.2h0M490.3 431.8h0M558.6 431.5h0M609.3 430.8h0M615.2 432.0h0M631.9 430.8h0M644.1 431.4h0M593.7 434.2h0M632.6 434.7h0M450.1 435.2h0M468.8 435.7h0M589.7 435.7h0M619.1 437.7h0M625.7 436.9h0M631.1 436.8h0M643.8 436.9h0M456.2 438.1h0M477.1 439.0h0M621.5 437.7h0M597.0 440.3h0M547.9 441.1h0M590.1 441.1h0M597.7 441.3h0M603.8 441.6h0M638.8 440.6h0M444.1 442.6h0M585.3 442.1h0M628.6 442.4h0M633.4 441.9h0M456.8 443.3h0M590.8 444.6h0M616.3 444.4h0M622.4 443.9h0M634.5 443.4h0M469.6 445.8h0M472.6 445.2h0M585.1 444.8h0M589.1 444.7h0M623.3 445.6h0M488.5 446.3h0M601.6 446.6h0M604.9 446.1h0M606.2 446.3h0M645.5 446.5h0M600.7 448.7h0M611.5 448.8h0M614.3 448.8h0M622.0 447.9h0M640.3 448.0h0M501.7 449.4h0M494.2 450.9h0M632.2 450.3h0M638.4 450.9h0M643.1 451.3h0M648.6 450.5h0M607.2 451.8h0M649.3 452.4h0M652.5 451.8h0M460.1 454.0h0M478.4 455.2h0M484.2 455.5h0M616.0 455.7h0M594.4 456.7h0M638.0 456.6h0M640.9 456.3h0M650.6 456.4h0M655.6 456.2h0M585.4 458.1h0M590.2 457.8h0M592.6 457.6h0M595.2 457.6h0M608.6 458.5h0M614.4 459.0h0M478.4 460.2h0M499.1 461.2h0M587.3 460.5h0M645.1 461.0h0M646.1 461.0h0M501.0 462.3h0M614.9 461.5h0M620.0 461.3h0M657.3 461.6h0M476.5 462.7h0M571.6 463.7h0M613.4 465.4h0M616.8 465.3h0M636.9 464.2h0M644.4 465.4h0M645.9 464.8h0M569.9 466.8h0M612.6 465.8h0M640.2 465.5h0M484.8 468.2h0M575.4 467.0h0M616.9 467.0h0M623.4 468.1h0M641.4 467.3h0M653.5 467.0h0M637.3 468.9h0M660.1 468.7h0M617.0 470.2h0M649.5 470.4h0M488.3 471.6h0M561.9 471.2h0M613.5 471.3h0M635.2 471.5h0M637.4 471.6h0M484.5 472.6h0M569.1 472.8h0M621.6 473.8h0M639.3 473.0h0M657.2 473.0h0M489.1 473.8h0M621.8 474.4h0M569.4 475.3h0M572.4 475.4h0M614.5 475.5h0M655.5 477.0h0M650.9 479.3h0M653.5 478.2h0M662.9 478.9h0M616.8 479.4h0M617.7 479.8h0M626.2 480.0h0M642.2 480.7h0M583.1 482.1h0M648.6 480.8h0M650.5 481.7h0M626.6 484.3h0M641.0 484.8h0M624.3 486.2h0M659.6 485.0h0M653.0 487.4h0M660.2 487.5h0M613.8 487.8h0M614.4 488.9h0M619.5 488.6h0M620.7 487.8h0M590.5 490.1h0M624.6 489.1h0M644.4 489.6h0M611.0 490.6h0M614.4 490.9h0M634.1 490.4h0M660.2 492.8h0M599.5 494.4h0M627.7 493.9h0M633.6 493.6h0M638.6 493.9h0M614.6 494.9h0M615.0 495.9h0M637.7 495.5h0M636.9 496.5h0M605.1 497.4h0M609.6 498.3h0M611.8 497.9h0M630.4 497.8h0M645.9 497.6h0M606.5 498.9h0M609.5 500.6h0M621.3 500.7h0M491.4 502.6h0M596.2 501.5h0M605.6 502.6h0M502.6 503.7h0M519.4 504.2h0M587.1 504.0h0M591.8 503.6h0M624.0 503.2h0M624.7 505.3h0M510.2 506.3h0M515.4 506.7h0M523.3 506.5h0M610.1 506.6h0M629.7 507.0h0M644.1 506.9h0M488.2 508.1h0M539.3 507.9h0M543.2 507.3h0M513.7 509.3h0M584.6 508.4h0M500.8 510.7h0M511.5 511.1h0M533.5 510.4h0M627.2 510.3h0M480.3 511.8h0M538.3 512.3h0M546.4 511.9h0M550.2 512.1h0M579.8 512.0h0M598.7 511.6h0M610.6 512.6h0M535.7 513.3h0M537.9 513.6h0M545.9 513.6h0M551.8 513.6h0M556.8 513.4h0M596.0 513.7h0M598.4 512.6h0M609.9 513.7h0M630.7 513.4h0M498.6 513.9h0M547.9 514.5h0M582.0 514.0h0M583.7 514.0h0M627.0 514.0h0M479.1 516.3h0M542.8 515.6h0M586.4 515.6h0M620.0 516.0h0M627.4 516.4h0M499.9 518.0h0M515.3 517.5h0M502.7 518.2h0M508.3 518.6h0M562.4 518.8h0M621.2 518.6h0M527.7 520.2h0M547.4 519.6h0M554.3 520.1h0M575.7 520.0h0M589.1 520.0h0M598.3 519.7h0M616.9 520.0h0M486.7 522.0h0M495.4 521.3h0M508.5 521.8h0M525.2 521.8h0M540.5 521.7h0M553.6 521.8h0M616.7 522.0h0M547.1 522.5h0M583.8 523.3h0M592.1 523.2h0M510.6 524.4h0M524.3 524.9h0M526.4 524.3h0M533.8 523.8h0M592.3 524.9h0M609.7 523.7h0M621.5 524.3h0M466.9 526.3h0M519.8 526.0h0M529.2 526.2h0M552.1 525.6h0M584.0 526.0h0M482.3 526.6h0M604.0 527.5h0M488.8 528.8h0M541.3 527.9h0M545.6 529.0h0M572.6 528.9h0M594.1 528.5h0M479.5 530.1h0M479.9 530.3h0M517.0 529.7h0M545.9 530.3h0M563.4 530.4h0M598.6 529.9h0M623.2 529.2h0M623.9 530.1h0M468.1 531.2h0M482.7 530.7h0M521.5 531.8h0M568.8 531.2h0M578.9 530.6h0M580.4 530.6h0M581.9 531.0h0M611.8 531.6h0M624.9 531.6h0M540.3 532.5h0M583.0 532.6h0M617.4 532.7h0M511.3 533.5h0M516.7 534.6h0M550.9 533.4h0M554.2 534.0h0M583.6 533.3h0M597.1 534.4h0M479.4 536.0h0M518.1 535.8h0M527.2 535.5h0M531.4 535.2h0M540.1 536.1h0M560.5 535.9h0M621.9 535.5h0M547.8 536.3h0M576.1 536.7h0M584.8 537.2h0M588.5 536.3h0M605.3 537.4h0M617.6 536.3h0M477.3 538.7h0M483.5 538.1h0M517.3 537.6h0M520.3 538.3h0M565.4 538.6h0M574.5 537.6h0M488.6 540.3h0M517.0 539.1h0M518.2 538.9h0M519.4 539.8h0M535.7 539.3h0M546.9 539.5h0M566.2 539.3h0M575.1 540.2h0M587.9 539.7h0M597.1 540.2h0M620.2 539.3h0M574.1 540.4h0M616.0 541.9h0M624.1 542.0h0M481.9 543.1h0M550.4 544.0h0M587.1 544.3h0M591.9 543.3h0M611.4 543.9h0M623.0 544.3h0M487.3 544.6h0M587.8 545.7h0M594.1 544.5h0M610.5 545.8h0M553.1 545.9h0M555.1 546.7h0M557.3 546.3h0M575.3 546.6h0M613.6 546.8h0M585.6 547.5h0M623.3 547.3h0M552.4 549.6h0M563.5 549.0h0M548.1 550.2h0M567.4 550.6h0M569.7 551.2h0M538.6 552.8h0M555.6 552.4h0M581.2 552.7h0M582.1 552.3h0M596.3 552.4h0M597.3 551.5h0M607.8 552.6h0M564.3 552.8h0M571.9 553.6h0M603.7 553.4h0M618.9 553.3h0M627.0 554.0h0M533.6 554.6h0M541.4 554.3h0M561.0 554.8h0M586.2 554.9h0M594.0 554.2h0M600.8 555.0h0M601.6 554.8h0M608.4 554.3h0M609.8 554.9h0M620.1 555.0h0M544.8 556.0h0M546.7 556.7h0M561.6 555.6h0M546.1 558.2h0M550.4 557.8h0M575.1 558.6h0M578.2 558.9h0M608.5 559.0h0M517.8 559.7h0M538.3 559.8h0M611.9 559.7h0M516.9 562.0h0M557.9 561.6h0M564.7 561.4h0M591.5 561.0h0M507.7 563.8h0M542.1 563.8h0M510.1 566.5h0M515.6 565.6h0M520.2 565.3h0M551.8 565.8h0M524.4 566.8h0M527.7 569.0h0M542.1 568.2h0M505.5 571.8h0M538.3 571.1h0M521.1 572.7h0M517.1 573.7h0M543.4 573.6h0M525.1 576.2h0M510.2 581.6h0M500.9 582.2h0M507.0 584.0h0M521.8 584.9h0M525.8 585.3h0M530.7 585.7h0M500.5 586.0h0M524.8 586.6h0M526.9 586.5h0M530.9 586.7h0M532.5 587.6h0M520.0 591.2h0M509.6 592.9h0M529.7 591.7h0M504.3 592.9h0M511.9 601.3h0M513.8 601.5h0"/><path stroke="#C4E69A" d="M450.1 372.3h0M459.5 379.6h0M464.8 379.5h0M438.4 380.2h0M448.6 382.1h0M451.1 383.7h0M565.6 382.9h0M466.6 384.1h0M467.9 384.3h0M450.6 385.9h0M455.0 386.4h0M449.3 387.7h0M460.1 386.6h0M571.2 387.0h0M474.0 389.0h0M441.9 390.3h0M558.7 389.6h0M563.7 389.5h0M470.9 391.2h0M474.2 392.0h0M571.9 391.6h0M554.5 393.1h0M433.8 393.5h0M454.6 394.1h0M571.4 394.3h0M447.6 394.9h0M555.8 395.8h0M442.7 396.5h0M447.8 396.9h0M562.2 397.0h0M570.4 396.5h0M572.7 396.5h0M440.6 397.7h0M473.8 398.9h0M476.2 398.1h0M570.2 397.6h0M474.4 400.2h0M565.7 399.0h0M466.1 401.2h0M483.9 401.7h0M487.7 400.6h0M548.7 400.3h0M487.9 402.7h0M548.8 402.5h0M460.8 404.0h0M470.4 403.9h0M480.7 404.4h0M483.5 404.4h0M467.5 404.6h0M572.1 405.3h0M439.1 406.9h0M479.5 407.0h0M572.4 406.4h0M575.2 406.2h0M431.8 408.0h0M440.6 408.0h0M484.6 408.1h0M577.0 408.5h0M433.2 409.4h0M458.9 408.7h0M484.4 409.0h0M546.4 409.5h0M553.9 409.9h0M632.9 410.6h0M443.5 411.6h0M449.9 412.4h0M489.2 412.1h0M629.1 411.9h0M457.9 414.0h0M467.4 413.5h0M482.1 413.6h0M493.4 413.6h0M547.8 413.4h0M603.3 413.2h0M475.5 415.5h0M623.7 414.5h0M479.0 416.9h0M488.4 416.6h0M559.7 415.9h0M441.2 417.5h0M450.1 417.2h0M460.4 418.3h0M572.0 417.4h0M602.5 417.4h0M605.1 417.0h0M608.2 417.4h0M434.1 418.8h0M440.4 419.4h0M555.5 419.8h0M589.0 419.0h0M601.5 418.7h0M476.8 420.0h0M554.3 420.7h0M559.3 420.7h0M576.9 420.0h0M603.9 421.1h0M619.5 420.0h0M440.5 421.1h0M586.7 421.9h0M594.0 421.3h0M445.1 422.8h0M452.2 422.9h0M585.2 423.3h0M589.6 423.5h0M602.6 423.3h0M456.2 424.5h0M595.9 424.3h0M616.6 424.2h0M442.9 427.9h0M451.9 427.5h0M482.3 427.0h0M552.9 427.6h0M580.6 426.7h0M601.1 427.7h0M604.1 427.5h0M610.2 426.9h0M619.5 427.6h0M485.3 428.7h0M578.3 429.4h0M632.6 428.1h0M573.8 429.7h0M591.0 430.4h0M612.9 429.8h0M629.8 429.8h0M638.8 429.8h0M488.2 431.6h0M495.4 431.4h0M563.8 431.2h0M577.9 431.8h0M588.9 432.1h0M614.4 432.2h0M482.0 432.6h0M569.0 432.8h0M610.4 432.6h0M571.0 434.0h0M573.1 434.4h0M645.9 434.9h0M468.3 437.2h0M469.7 436.7h0M475.7 436.9h0M498.6 436.7h0M500.9 437.4h0M589.9 437.6h0M596.8 437.8h0M617.4 436.7h0M629.0 436.9h0M447.1 438.2h0M478.4 438.1h0M597.9 439.1h0M605.2 438.0h0M587.5 440.5h0M595.4 439.9h0M601.1 440.5h0M624.1 439.2h0M627.7 439.1h0M633.3 439.8h0M442.1 440.6h0M485.1 441.9h0M589.7 441.4h0M601.1 441.2h0M619.1 441.9h0M636.7 440.9h0M605.9 443.1h0M629.4 442.8h0M468.7 444.1h0M502.7 444.2h0M613.1 444.0h0M619.3 444.6h0M642.1 445.6h0M644.7 445.7h0M651.0 445.4h0M476.1 447.3h0M481.0 446.5h0M594.2 446.5h0M639.5 446.2h0M585.4 447.5h0M592.3 448.8h0M597.9 448.0h0M633.1 448.2h0M637.5 447.8h0M464.1 448.9h0M473.6 449.7h0M485.8 450.1h0M618.0 449.4h0M625.0 450.2h0M445.1 450.3h0M461.5 450.9h0M489.0 451.6h0M611.4 450.8h0M615.9 451.5h0M481.0 453.0h0M486.5 452.1h0M621.2 452.3h0M640.5 452.1h0M647.1 452.5h0M615.7 453.2h0M625.0 454.0h0M651.5 453.0h0M487.3 455.4h0M600.9 455.7h0M603.4 455.1h0M606.1 455.7h0M615.4 455.8h0M623.1 454.5h0M632.7 455.0h0M480.0 456.3h0M485.8 457.0h0M489.9 456.8h0M590.6 456.1h0M614.4 455.7h0M633.5 456.1h0M629.6 457.6h0M656.9 457.2h0M485.7 458.9h0M589.7 459.0h0M626.7 458.6h0M654.2 458.7h0M626.5 460.9h0M641.1 460.0h0M482.6 461.6h0M573.0 461.5h0M617.5 464.1h0M628.7 463.2h0M478.4 464.4h0M475.5 466.3h0M614.8 466.0h0M615.9 466.4h0M633.7 466.3h0M653.8 466.2h0M655.3 465.8h0M541.9 467.2h0M619.2 467.0h0M639.0 467.1h0M644.0 466.8h0M601.8 468.9h0M642.1 468.5h0M643.4 468.5h0M647.4 468.9h0M653.6 469.4h0M487.3 470.4h0M537.2 470.8h0M536.8 471.0h0M574.5 471.7h0M619.9 471.3h0M629.3 471.4h0M578.1 473.1h0M616.3 474.7h0M639.9 475.6h0M648.1 475.9h0M645.2 477.3h0M483.8 478.2h0M501.7 477.9h0M485.4 480.3h0M623.1 480.2h0M631.0 482.1h0M636.4 481.7h0M582.1 482.4h0M632.2 482.8h0M656.9 482.3h0M571.7 483.8h0M634.6 484.6h0M590.2 486.1h0M627.2 485.8h0M662.8 485.3h0M617.4 487.0h0M586.4 489.8h0M612.7 489.7h0M652.0 489.2h0M655.3 490.4h0M588.6 491.1h0M629.1 490.6h0M659.8 491.2h0M642.2 493.5h0M659.6 493.8h0M642.7 495.3h0M647.6 495.3h0M654.5 494.7h0M654.9 495.7h0M605.3 497.0h0M609.0 496.3h0M611.2 497.0h0M618.9 497.1h0M622.8 496.0h0M654.8 496.4h0M583.5 497.4h0M637.6 497.8h0M648.2 498.4h0M629.9 499.4h0M656.6 498.8h0M505.9 501.5h0M604.9 501.1h0M606.0 500.9h0M648.1 500.1h0M625.1 502.1h0M631.2 501.8h0M645.7 501.6h0M601.2 503.4h0M639.9 503.1h0M649.4 502.8h0M499.0 504.4h0M501.0 505.6h0M513.9 504.6h0M586.2 504.4h0M600.8 504.3h0M622.3 504.4h0M632.9 504.6h0M638.3 505.0h0M643.6 505.4h0M645.3 505.6h0M484.2 506.7h0M598.0 505.7h0M617.2 506.5h0M623.8 506.5h0M501.0 507.8h0M517.5 507.4h0M635.4 508.4h0M485.0 509.8h0M491.8 509.2h0M517.7 509.0h0M525.5 508.5h0M540.6 508.5h0M547.0 509.6h0M580.3 508.6h0M607.4 509.2h0M488.8 509.8h0M524.1 510.1h0M528.0 509.9h0M584.6 510.4h0M600.3 510.9h0M606.6 509.8h0M474.6 512.4h0M504.9 511.7h0M518.4 512.0h0M537.5 512.0h0M577.4 512.3h0M581.3 511.9h0M618.2 511.7h0M631.5 512.0h0M475.5 513.4h0M523.5 513.0h0M553.9 513.8h0M583.8 513.2h0M621.7 512.7h0M507.2 515.0h0M524.1 514.9h0M571.3 514.8h0M599.9 514.6h0M629.1 514.4h0M506.6 516.6h0M560.4 515.5h0M590.6 515.8h0M592.2 516.1h0M593.9 516.5h0M609.1 515.6h0M609.8 515.9h0M474.4 517.6h0M493.1 518.1h0M508.0 517.1h0M540.2 517.5h0M560.1 517.6h0M579.0 517.0h0M593.1 518.0h0M611.4 517.2h0M470.9 519.3h0M489.0 518.3h0M519.8 518.5h0M528.1 518.8h0M532.6 518.7h0M542.6 518.5h0M546.9 518.8h0M550.2 518.1h0M575.0 519.0h0M475.1 520.3h0M497.2 520.3h0M516.8 520.2h0M548.2 519.9h0M597.1 520.8h0M558.5 521.6h0M590.2 521.5h0M591.8 521.2h0M594.1 522.1h0M600.1 521.4h0M469.1 522.7h0M474.6 523.5h0M512.0 523.1h0M516.9 523.6h0M538.4 523.1h0M567.8 523.2h0M589.6 522.5h0M606.9 523.6h0M617.5 522.4h0M623.4 523.2h0M518.9 524.4h0M578.1 524.4h0M598.6 524.9h0M605.9 524.7h0M608.3 524.4h0M620.1 525.0h0M473.6 525.2h0M517.4 525.9h0M553.2 525.3h0M559.1 525.7h0M572.6 525.8h0M577.7 526.2h0M600.9 526.3h0M605.7 525.6h0M499.3 526.9h0M539.3 527.2h0M570.3 527.0h0M573.2 526.6h0M584.9 526.5h0M591.8 527.8h0M596.1 527.2h0M607.0 526.6h0M506.2 528.2h0M518.3 528.4h0M549.4 528.8h0M564.5 529.0h0M568.8 528.6h0M584.1 528.7h0M622.2 528.0h0M624.2 528.2h0M488.9 530.1h0M494.2 530.2h0M521.4 530.5h0M531.0 530.0h0M537.4 530.0h0M547.2 529.2h0M582.7 529.5h0M587.7 529.7h0M604.2 530.2h0M611.5 529.9h0M503.4 531.9h0M507.0 532.0h0M524.8 531.8h0M529.6 531.3h0M546.4 530.9h0M469.9 533.3h0M520.2 533.2h0M525.3 532.6h0M532.2 532.9h0M533.7 533.1h0M535.3 532.4h0M591.8 532.9h0M602.9 532.3h0M605.4 532.5h0M476.1 534.1h0M549.4 534.1h0M585.7 533.3h0M591.7 534.6h0M593.3 533.9h0M605.1 534.2h0M488.0 535.9h0M513.6 535.2h0M603.3 535.3h0M611.9 534.9h0M613.5 535.2h0M484.2 536.4h0M512.5 537.2h0M519.9 536.9h0M524.9 537.0h0M551.2 536.5h0M609.4 536.5h0M614.4 537.2h0M629.1 536.6h0M547.9 538.5h0M575.8 538.0h0M584.5 538.4h0M593.6 538.7h0M598.6 537.5h0M608.9 537.5h0M625.0 538.9h0M487.6 539.3h0M533.6 539.0h0M593.7 539.5h0M603.5 539.0h0M606.2 539.5h0M507.1 540.9h0M474.1 542.2h0M482.7 542.5h0M629.8 542.5h0M497.9 543.3h0M560.4 543.1h0M595.2 544.4h0M561.5 544.8h0M585.8 545.3h0M596.7 545.2h0M608.1 545.0h0M612.8 545.5h0M625.8 545.6h0M627.1 544.4h0M600.3 546.8h0M618.9 546.0h0M572.4 547.2h0M580.8 548.2h0M586.3 547.7h0M610.5 548.5h0M615.0 548.1h0M581.6 548.9h0M610.6 549.4h0M619.8 549.4h0M622.9 548.7h0M625.7 548.9h0M485.7 550.0h0M490.3 551.1h0M586.5 551.0h0M586.5 551.7h0M594.4 552.4h0M606.3 552.6h0M624.7 551.6h0M492.6 552.8h0M557.8 552.7h0M560.7 553.9h0M597.7 552.7h0M607.7 553.1h0M622.2 553.3h0M551.0 555.5h0M591.7 555.5h0M595.6 555.4h0M616.5 554.2h0M597.6 556.6h0M504.0 557.3h0M529.6 558.2h0M579.2 557.5h0M591.3 558.3h0M604.6 557.4h0M613.9 557.2h0M622.3 557.5h0M490.7 558.8h0M511.1 559.2h0M512.2 560.3h0M514.0 559.8h0M521.8 560.0h0M562.7 560.5h0M597.6 560.8h0M496.8 561.8h0M526.6 561.3h0M546.2 561.7h0M496.1 562.8h0M514.6 563.2h0M521.4 563.6h0M549.1 563.9h0M554.4 564.0h0M501.5 566.5h0M514.0 566.0h0M529.5 566.3h0M549.5 566.4h0M504.5 567.9h0M510.6 566.9h0M508.9 568.3h0M537.3 568.0h0M492.2 569.5h0M494.1 570.7h0M529.4 570.6h0M540.2 569.7h0M547.9 570.5h0M512.5 573.2h0M520.6 574.8h0M498.4 576.2h0M540.3 576.0h0M513.0 576.9h0M524.5 581.0h0M518.5 582.7h0M529.1 582.8h0M530.1 583.7h0M536.5 584.3h0M513.4 585.2h0M515.7 585.8h0M517.9 585.4h0M518.5 585.6h0M519.2 586.9h0M513.9 587.6h0M530.6 588.4h0M519.2 591.0h0M525.1 593.4h0M502.3 595.0h0M508.2 597.9h0M520.7 598.0h0"/><path stroke="#D9EEA2" d="M450.3 365.2h0M458.4 369.1h0M440.3 371.3h0M456.2 376.5h0M461.5 376.2h0M435.7 380.1h0M445.8 379.9h0M452.6 380.3h0M464.7 382.1h0M435.4 383.1h0M444.0 385.1h0M446.9 385.0h0M563.4 384.6h0M564.2 384.9h0M435.4 386.2h0M476.0 386.4h0M444.3 387.8h0M453.0 387.1h0M474.6 387.6h0M477.6 387.2h0M561.1 386.6h0M572.5 387.5h0M451.8 388.6h0M458.9 387.9h0M471.4 388.6h0M553.5 388.6h0M568.0 388.5h0M449.1 390.4h0M457.3 390.0h0M464.7 389.7h0M433.0 391.9h0M448.6 391.8h0M464.6 391.2h0M469.3 391.0h0M451.4 393.1h0M459.2 392.3h0M463.7 393.0h0M565.9 393.1h0M440.1 394.3h0M479.4 393.6h0M562.5 394.2h0M568.7 394.4h0M443.3 396.2h0M464.0 395.5h0M480.2 394.9h0M552.1 395.7h0M554.8 394.9h0M569.5 395.6h0M575.8 395.5h0M439.5 397.4h0M445.3 397.1h0M443.3 398.1h0M451.3 398.9h0M465.9 397.6h0M550.7 397.9h0M559.3 398.9h0M563.3 398.1h0M552.8 400.0h0M435.9 400.4h0M449.0 400.3h0M551.2 401.2h0M441.8 402.0h0M450.1 403.0h0M463.0 402.1h0M477.7 401.7h0M576.7 402.8h0M437.7 404.5h0M449.0 403.9h0M457.9 403.7h0M467.9 404.2h0M476.2 404.2h0M489.4 404.0h0M550.6 404.0h0M562.5 403.8h0M566.2 403.8h0M453.5 405.0h0M462.4 404.6h0M475.4 405.9h0M483.6 404.6h0M551.7 405.4h0M575.7 404.6h0M429.9 407.1h0M431.0 407.1h0M434.5 406.4h0M438.4 406.3h0M453.8 407.1h0M460.9 406.6h0M461.8 406.3h0M566.3 406.3h0M568.0 406.8h0M488.4 408.4h0M570.3 408.6h0M468.3 408.8h0M465.9 410.5h0M488.8 410.7h0M452.9 411.5h0M483.1 411.8h0M432.4 414.2h0M441.9 414.0h0M443.5 414.0h0M559.8 413.5h0M615.9 413.5h0M578.9 415.6h0M624.8 415.0h0M443.8 416.2h0M477.8 416.9h0M562.3 415.6h0M570.5 416.7h0M626.0 416.4h0M436.7 418.3h0M562.6 417.0h0M621.7 417.4h0M625.1 418.3h0M441.9 419.7h0M447.5 418.5h0M453.4 419.3h0M456.1 419.3h0M465.1 419.3h0M571.5 418.4h0M574.5 418.7h0M576.0 418.6h0M580.6 419.5h0M625.0 418.5h0M484.0 420.9h0M491.4 420.9h0M493.3 420.9h0M590.6 420.8h0M598.6 421.0h0M444.7 422.3h0M447.3 421.3h0M461.0 421.9h0M485.2 421.3h0M622.6 422.0h0M632.8 422.3h0M436.6 423.0h0M465.4 423.4h0M636.7 423.8h0M449.0 425.0h0M609.6 425.0h0M487.9 426.5h0M490.6 425.8h0M577.8 426.2h0M586.7 425.5h0M600.2 425.8h0M605.4 426.4h0M624.8 426.3h0M551.2 427.4h0M606.3 427.7h0M636.2 427.9h0M641.5 427.7h0M492.9 428.4h0M567.9 428.7h0M616.9 428.2h0M620.2 429.4h0M443.3 429.5h0M567.3 429.7h0M582.8 430.1h0M592.7 429.9h0M608.5 430.5h0M615.2 429.8h0M618.1 430.6h0M494.2 430.8h0M570.2 431.5h0M573.6 430.9h0M606.2 431.2h0M610.8 431.9h0M625.0 431.0h0M632.7 432.1h0M446.1 432.9h0M448.5 433.6h0M486.3 433.5h0M504.7 432.2h0M567.3 432.5h0M569.5 433.0h0M576.0 433.3h0M604.3 432.4h0M606.3 433.2h0M643.2 432.4h0M442.8 434.3h0M509.9 433.6h0M574.2 433.6h0M596.0 434.5h0M606.6 434.4h0M612.4 434.0h0M640.2 434.7h0M619.0 435.6h0M642.4 435.0h0M643.0 436.3h0M473.4 437.3h0M608.2 437.7h0M444.2 438.5h0M448.4 438.7h0M450.1 437.8h0M611.0 439.1h0M626.4 438.9h0M443.1 440.5h0M476.8 440.1h0M606.3 439.5h0M609.2 439.8h0M619.8 440.0h0M638.7 440.3h0M641.4 439.5h0M645.7 439.8h0M449.3 441.9h0M470.2 441.7h0M588.2 440.5h0M644.1 440.7h0M446.5 442.3h0M457.2 442.1h0M470.4 442.5h0M491.9 443.0h0M593.2 442.0h0M608.6 442.1h0M618.9 442.4h0M641.2 441.9h0M447.0 444.1h0M459.9 444.3h0M587.9 444.3h0M612.0 443.4h0M496.7 445.3h0M625.8 445.9h0M648.0 446.0h0M588.1 446.1h0M618.4 447.3h0M643.1 446.9h0M651.2 447.0h0M612.5 448.3h0M620.7 447.5h0M610.3 450.2h0M641.5 449.9h0M602.3 450.5h0M617.1 451.5h0M474.1 452.7h0M485.8 452.4h0M588.7 452.4h0M594.2 452.8h0M601.8 451.7h0M617.8 452.8h0M619.6 452.0h0M644.6 452.1h0M450.1 453.4h0M488.7 453.9h0M616.9 454.2h0M622.5 454.1h0M642.1 453.9h0M647.7 453.4h0M626.4 454.7h0M630.8 454.5h0M634.9 455.2h0M477.9 455.9h0M484.9 456.0h0M540.6 455.8h0M545.1 456.3h0M615.2 456.7h0M626.3 457.1h0M649.3 455.9h0M489.8 457.7h0M594.0 458.0h0M612.2 457.8h0M617.7 457.2h0M481.3 459.4h0M482.8 459.3h0M623.2 459.9h0M657.8 461.0h0M476.5 461.6h0M622.9 461.7h0M633.2 462.0h0M637.9 461.6h0M641.4 461.6h0M633.0 464.0h0M639.7 463.1h0M649.4 462.8h0M655.2 463.9h0M482.1 464.4h0M487.6 464.9h0M624.0 465.2h0M632.7 464.6h0M544.0 466.6h0M563.8 465.5h0M619.1 466.2h0M624.0 466.1h0M658.3 466.9h0M621.8 467.7h0M486.7 468.9h0M621.6 469.3h0M625.0 468.4h0M650.4 469.4h0M651.9 469.4h0M597.5 470.0h0M625.8 470.3h0M632.7 470.5h0M635.1 470.3h0M642.7 470.5h0M647.8 470.0h0M651.4 470.7h0M654.1 470.5h0M580.0 472.2h0M588.0 472.0h0M590.9 471.4h0M615.9 471.4h0M641.6 471.8h0M643.3 472.2h0M560.9 473.6h0M562.2 473.6h0M628.7 472.9h0M644.3 472.5h0M563.7 475.1h0M571.4 473.8h0M574.5 474.8h0M647.5 474.0h0M651.0 474.6h0M536.3 476.0h0M536.9 476.0h0M608.6 476.4h0M625.2 475.5h0M641.7 475.9h0M651.4 476.1h0M654.6 475.5h0M503.7 477.7h0M658.0 477.1h0M567.8 478.8h0M615.7 478.3h0M645.8 479.0h0M652.4 478.0h0M613.6 479.7h0M631.0 480.5h0M634.1 480.6h0M657.9 479.5h0M659.4 480.6h0M626.9 480.8h0M659.8 482.1h0M661.4 480.9h0M537.1 483.1h0M613.3 482.3h0M645.0 483.0h0M622.3 483.9h0M632.8 484.9h0M639.5 485.7h0M642.7 484.9h0M658.7 485.1h0M610.6 487.2h0M619.3 486.2h0M623.7 486.3h0M625.5 487.6h0M630.4 487.5h0M641.1 486.6h0M618.7 488.1h0M632.9 488.6h0M607.9 489.1h0M618.6 490.0h0M641.0 490.3h0M653.5 489.4h0M571.7 491.4h0M642.4 491.0h0M660.9 490.4h0M570.1 493.1h0M620.8 493.1h0M624.0 492.5h0M643.4 491.9h0M650.8 492.7h0M653.0 492.8h0M612.3 494.4h0M613.1 493.4h0M650.0 493.8h0M484.8 495.8h0M628.0 495.9h0M631.6 495.6h0M645.1 495.7h0M632.8 496.3h0M652.1 496.7h0M605.3 498.5h0M618.6 497.3h0M633.7 497.6h0M586.7 499.3h0M628.3 498.9h0M639.0 500.1h0M489.7 502.5h0M493.7 502.4h0M502.4 502.6h0M510.6 501.6h0M576.7 502.1h0M583.9 502.2h0M619.5 502.5h0M647.4 501.7h0M504.6 503.8h0M537.1 504.1h0M583.5 504.2h0M607.9 503.5h0M620.8 504.0h0M638.7 503.2h0M642.1 504.1h0M647.3 503.3h0M491.1 505.2h0M541.1 504.8h0M595.2 505.4h0M604.9 504.4h0M620.3 505.6h0M642.7 504.3h0M482.3 506.1h0M492.8 506.2h0M578.1 506.7h0M503.7 507.5h0M518.9 507.9h0M580.1 508.0h0M583.2 507.4h0M605.0 508.1h0M613.4 507.8h0M634.5 507.1h0M510.5 509.8h0M528.6 509.7h0M535.6 508.6h0M617.6 508.4h0M622.5 508.9h0M623.7 509.8h0M477.5 510.2h0M519.7 509.8h0M521.8 509.9h0M531.4 510.1h0M549.8 510.2h0M560.6 510.9h0M585.3 510.5h0M637.4 510.2h0M476.8 511.3h0M522.3 512.1h0M541.9 512.5h0M548.9 512.0h0M558.0 511.4h0M533.4 513.6h0M543.0 512.8h0M582.5 513.5h0M622.2 512.8h0M471.6 515.2h0M497.8 514.5h0M566.4 514.7h0M608.2 514.3h0M630.0 514.8h0M491.2 516.5h0M498.7 515.9h0M510.9 516.7h0M519.2 515.7h0M537.9 515.8h0M602.0 516.2h0M616.0 516.5h0M622.2 516.0h0M524.8 517.4h0M546.7 517.8h0M549.6 517.8h0M561.0 517.8h0M588.9 517.8h0M613.4 517.2h0M622.0 517.3h0M623.0 517.8h0M522.4 519.2h0M531.3 518.6h0M559.0 519.0h0M478.4 520.0h0M488.1 520.1h0M536.9 519.9h0M604.2 519.9h0M608.6 520.3h0M611.4 519.9h0M618.4 520.4h0M488.2 521.6h0M492.6 521.6h0M504.8 520.9h0M505.9 521.8h0M513.1 522.3h0M520.2 521.6h0M577.1 521.9h0M490.2 523.2h0M496.6 522.3h0M581.1 522.8h0M592.5 522.4h0M484.6 524.6h0M496.7 524.1h0M525.6 525.0h0M537.6 524.6h0M588.7 525.0h0M604.0 524.3h0M475.2 526.1h0M481.9 525.1h0M500.9 526.0h0M541.0 525.8h0M584.7 525.3h0M599.3 525.4h0M615.8 525.8h0M466.7 526.6h0M476.7 527.5h0M565.7 526.7h0M577.0 527.7h0M621.0 526.8h0M467.2 528.5h0M474.9 528.5h0M500.5 528.6h0M567.9 528.8h0M616.5 529.0h0M472.8 530.1h0M504.4 529.9h0M556.7 530.2h0M472.8 531.1h0M478.1 531.1h0M484.6 530.8h0M516.1 531.7h0M525.9 530.9h0M533.0 531.2h0M555.8 531.5h0M559.0 531.7h0M562.7 531.3h0M566.9 531.4h0M590.0 530.7h0M586.4 533.0h0M522.2 534.3h0M524.4 534.4h0M536.8 533.6h0M544.2 534.6h0M547.1 533.9h0M612.1 533.6h0M621.0 534.5h0M516.1 535.7h0M517.3 534.9h0M540.8 535.6h0M553.8 535.5h0M610.3 535.7h0M619.8 535.6h0M482.9 536.9h0M509.6 537.0h0M511.5 537.1h0M516.9 536.7h0M535.6 537.2h0M579.2 537.5h0M603.7 536.6h0M499.0 538.2h0M501.3 537.7h0M505.0 538.5h0M559.1 537.9h0M618.0 537.6h0M589.7 539.9h0M612.6 539.1h0M627.4 539.5h0M630.3 539.8h0M504.3 541.6h0M577.0 540.4h0M578.9 540.7h0M602.9 541.0h0M582.3 541.8h0M621.0 542.3h0M486.9 543.8h0M484.4 545.3h0M563.1 544.8h0M590.4 544.5h0M632.0 545.1h0M487.8 545.8h0M565.2 547.1h0M594.2 546.4h0M607.9 547.2h0M627.4 546.0h0M598.3 547.3h0M601.2 548.0h0M616.7 548.4h0M498.0 549.6h0M560.1 549.2h0M568.6 549.6h0M601.7 549.0h0M632.2 548.8h0M488.0 550.8h0M537.2 551.1h0M600.8 550.1h0M604.0 550.7h0M612.4 550.1h0M504.6 552.3h0M511.1 552.2h0M545.5 552.7h0M602.0 551.6h0M613.4 552.2h0M488.1 554.1h0M499.0 553.2h0M500.2 554.0h0M537.5 553.2h0M547.4 553.8h0M596.0 552.8h0M611.1 553.8h0M625.0 555.4h0M566.9 556.1h0M578.7 555.9h0M603.2 556.8h0M619.8 556.8h0M629.5 555.9h0M547.3 557.2h0M627.7 557.2h0M518.0 558.4h0M561.1 559.2h0M590.6 559.2h0M612.3 559.5h0M497.9 560.0h0M535.5 561.0h0M557.2 560.2h0M609.3 560.6h0M612.6 560.4h0M529.9 561.4h0M541.4 561.1h0M602.7 561.5h0M493.8 563.6h0M547.5 563.4h0M497.6 564.8h0M500.0 564.6h0M536.5 564.0h0M541.0 564.7h0M543.2 564.5h0M495.8 565.2h0M517.1 566.3h0M545.7 565.3h0M499.3 568.9h0M522.6 568.3h0M549.5 568.1h0M521.7 569.8h0M497.1 571.5h0M512.5 571.6h0M515.3 571.5h0M540.9 571.2h0M543.8 571.6h0M495.3 572.7h0M510.8 573.8h0M521.5 573.8h0M532.2 574.6h0M505.1 575.0h0M534.1 575.2h0M535.1 575.2h0M528.5 576.4h0M532.7 577.5h0M536.1 576.6h0M537.9 577.7h0M513.4 578.3h0M522.7 578.3h0M524.9 578.0h0M506.1 579.6h0M507.4 580.6h0M508.2 580.5h0M506.4 582.6h0M512.1 582.1h0M526.4 582.4h0M502.4 583.5h0M503.2 583.7h0M524.1 584.5h0M531.2 585.6h0M510.7 588.0h0M508.6 589.5h0M515.7 589.2h0M530.9 589.8h0M525.2 591.1h0M515.5 593.3h0M524.1 594.0h0M489.6 596.6h0M507.6 596.5h0M513.7 598.3h0M507.8 599.9h0M512.9 600.4h0"/><path stroke="#EBF3AB" d="M457.8 370.8h0M441.1 373.2h0M460.5 375.2h0M457.0 379.4h0M440.2 380.4h0M444.2 380.6h0M457.5 380.3h0M454.3 381.9h0M467.5 381.4h0M470.1 381.1h0M452.5 382.7h0M456.0 383.5h0M562.1 383.0h0M435.9 384.0h0M439.4 384.8h0M453.4 386.2h0M464.6 385.3h0M468.0 385.6h0M563.9 385.5h0M435.7 387.2h0M574.1 387.7h0M450.6 389.1h0M560.5 389.2h0M436.5 390.3h0M447.1 389.5h0M464.0 390.3h0M561.6 390.4h0M437.8 391.1h0M478.1 391.5h0M554.5 391.9h0M435.3 394.1h0M436.6 393.8h0M463.2 394.1h0M468.2 393.7h0M473.4 394.1h0M554.4 393.4h0M437.6 395.5h0M449.6 395.6h0M484.9 395.3h0M574.3 395.1h0M433.3 397.2h0M473.5 396.8h0M484.9 397.5h0M447.4 398.2h0M449.5 397.8h0M457.6 398.7h0M470.3 397.9h0M478.0 397.7h0M565.7 398.2h0M574.9 398.9h0M457.9 399.7h0M484.0 400.1h0M572.5 399.1h0M431.1 401.6h0M563.8 401.3h0M567.7 400.5h0M572.2 401.1h0M575.6 401.6h0M435.0 402.9h0M461.2 402.6h0M468.9 401.9h0M552.6 402.2h0M572.6 402.2h0M455.3 404.0h0M564.4 403.3h0M574.1 403.8h0M577.0 404.3h0M441.4 405.4h0M566.6 405.0h0M480.7 405.9h0M552.2 406.8h0M447.0 407.2h0M460.7 408.1h0M554.0 408.1h0M565.1 408.0h0M435.1 409.7h0M438.2 408.7h0M445.1 408.9h0M460.5 409.7h0M464.9 408.7h0M470.3 408.9h0M472.0 409.0h0M474.2 408.9h0M481.0 409.8h0M486.7 409.0h0M549.8 410.0h0M558.9 409.2h0M484.7 410.8h0M569.8 410.4h0M461.8 412.6h0M471.7 411.7h0M545.9 411.8h0M546.8 412.5h0M570.9 412.3h0M576.6 412.7h0M602.7 411.7h0M449.7 413.5h0M552.7 413.1h0M564.5 413.8h0M471.3 414.9h0M479.6 414.7h0M491.3 414.3h0M596.6 414.5h0M613.1 414.9h0M615.7 414.4h0M459.2 416.4h0M461.9 416.1h0M463.3 416.7h0M598.7 416.4h0M622.4 416.0h0M453.6 417.5h0M470.3 417.6h0M605.8 417.7h0M550.5 418.9h0M552.3 418.5h0M557.4 418.4h0M585.9 419.6h0M612.2 419.3h0M434.4 420.6h0M442.8 421.1h0M485.8 420.1h0M444.3 422.0h0M491.9 421.4h0M578.1 421.3h0M579.1 421.5h0M619.7 422.1h0M449.4 422.6h0M598.7 423.6h0M607.6 423.0h0M620.2 423.1h0M626.9 423.1h0M442.2 424.4h0M451.7 425.3h0M628.9 424.9h0M555.1 425.4h0M562.4 425.8h0M477.3 427.2h0M592.7 427.5h0M613.1 426.7h0M634.2 426.7h0M582.5 428.6h0M612.2 429.1h0M635.4 429.4h0M491.5 429.8h0M506.6 430.5h0M553.9 429.7h0M563.1 430.8h0M445.6 431.0h0M499.7 431.6h0M560.7 431.9h0M572.8 431.6h0M618.3 430.8h0M620.9 431.7h0M637.8 432.0h0M443.3 433.2h0M577.3 432.6h0M604.5 432.9h0M610.9 432.5h0M621.0 433.0h0M637.8 432.7h0M616.8 434.8h0M447.0 435.6h0M485.3 435.7h0M645.4 435.2h0M443.9 437.0h0M629.5 437.0h0M633.1 437.5h0M641.5 436.5h0M589.6 439.1h0M591.1 439.1h0M594.3 437.8h0M600.5 438.2h0M620.3 438.4h0M623.7 438.0h0M634.9 438.9h0M444.3 439.1h0M446.9 440.0h0M453.5 439.3h0M492.1 439.6h0M451.9 441.4h0M452.7 441.9h0M480.6 441.0h0M609.6 441.7h0M461.0 442.5h0M471.3 443.2h0M589.0 442.4h0M597.5 443.2h0M601.5 443.2h0M611.4 443.1h0M646.4 442.5h0M649.9 443.0h0M597.6 443.9h0M624.1 443.4h0M626.3 443.6h0M632.5 444.1h0M636.9 444.0h0M642.6 443.7h0M646.1 443.5h0M501.5 444.7h0M594.2 445.3h0M640.7 444.9h0M649.2 444.7h0M504.7 446.6h0M611.0 446.3h0M631.3 447.1h0M477.0 448.6h0M446.1 449.6h0M588.6 449.2h0M599.4 449.5h0M627.0 449.5h0M636.0 449.5h0M639.4 449.8h0M484.2 451.4h0M607.1 451.0h0M609.3 451.2h0M612.1 451.5h0M624.5 450.5h0M645.5 450.2h0M451.6 451.7h0M446.6 453.7h0M463.8 453.6h0M475.4 454.4h0M485.7 453.2h0M595.8 453.6h0M635.2 454.2h0M492.6 454.5h0M601.6 455.4h0M648.8 454.6h0M655.3 455.2h0M586.6 456.5h0M592.7 457.0h0M596.9 455.9h0M604.1 456.7h0M621.3 456.8h0M625.4 456.4h0M635.7 456.8h0M479.2 457.5h0M482.0 457.7h0M488.6 457.6h0M630.2 457.8h0M646.9 457.8h0M654.5 457.2h0M457.0 459.6h0M543.3 459.8h0M592.2 459.0h0M644.1 458.5h0M480.1 460.8h0M485.0 460.6h0M487.2 460.8h0M539.6 461.1h0M590.3 460.8h0M610.7 460.3h0M618.5 460.6h0M622.8 460.0h0M627.4 460.0h0M636.6 460.4h0M650.9 461.3h0M607.8 461.6h0M616.6 461.7h0M619.0 461.6h0M625.1 462.3h0M643.0 461.8h0M650.9 462.0h0M654.7 461.9h0M564.2 463.4h0M622.1 463.3h0M636.0 463.5h0M637.5 463.7h0M645.8 463.7h0M652.9 462.9h0M476.2 464.8h0M590.3 465.0h0M628.3 464.1h0M642.4 465.0h0M647.4 464.7h0M655.1 464.2h0M481.1 465.9h0M536.3 466.2h0M572.7 467.0h0M554.1 469.1h0M617.0 468.7h0M633.5 468.7h0M635.1 468.9h0M577.3 470.5h0M644.7 470.9h0M651.8 470.2h0M624.9 472.2h0M647.9 471.2h0M651.5 472.0h0M480.6 472.6h0M534.6 472.9h0M537.5 473.0h0M540.0 472.6h0M541.9 472.6h0M566.5 473.3h0M577.6 472.7h0M642.6 472.9h0M650.7 472.7h0M653.4 473.0h0M589.0 473.8h0M636.7 473.9h0M643.2 474.4h0M655.8 474.1h0M658.2 474.0h0M621.0 476.0h0M636.8 475.5h0M486.7 477.9h0M566.5 476.9h0M627.2 477.8h0M487.0 478.5h0M628.2 479.1h0M648.2 478.8h0M661.1 478.7h0M569.0 479.9h0M571.7 480.0h0M483.3 481.4h0M484.2 481.2h0M535.3 481.3h0M593.1 481.7h0M624.5 482.0h0M657.7 481.6h0M659.2 480.8h0M621.0 483.4h0M623.1 482.6h0M623.8 482.9h0M658.4 483.1h0M627.9 483.8h0M633.2 484.4h0M642.7 484.9h0M644.1 484.0h0M647.5 484.4h0M649.8 484.7h0M653.0 483.6h0M637.7 486.2h0M622.0 486.5h0M647.3 487.5h0M656.8 487.1h0M658.5 486.5h0M626.6 487.7h0M649.9 488.7h0M647.2 490.3h0M621.6 491.4h0M622.7 490.4h0M632.8 490.8h0M643.0 490.6h0M645.9 490.8h0M656.3 491.7h0M609.6 493.1h0M626.4 492.3h0M628.7 491.8h0M629.4 493.2h0M638.1 492.7h0M655.2 492.8h0M658.8 493.0h0M647.0 494.3h0M648.1 493.9h0M655.3 493.5h0M646.7 494.9h0M653.1 495.4h0M624.4 496.7h0M636.3 496.9h0M657.1 496.7h0M619.8 498.1h0M625.6 498.9h0M504.1 501.0h0M571.5 501.3h0M580.5 501.2h0M614.5 500.4h0M641.7 500.8h0M508.0 502.6h0M512.1 501.6h0M515.3 502.0h0M536.7 502.0h0M601.5 502.7h0M607.3 502.1h0M627.0 501.7h0M635.4 502.5h0M636.5 501.8h0M639.2 501.8h0M502.9 503.8h0M634.7 503.1h0M483.4 504.8h0M504.0 504.8h0M509.7 504.8h0M518.9 504.5h0M577.5 505.0h0M584.4 504.5h0M641.0 505.1h0M487.0 506.5h0M501.1 506.2h0M577.2 506.3h0M579.7 506.6h0M593.8 506.0h0M631.2 506.1h0M487.0 508.4h0M587.3 508.1h0M618.4 507.7h0M627.4 507.5h0M629.1 508.4h0M489.5 508.6h0M527.1 509.5h0M532.2 508.7h0M543.0 509.1h0M578.3 509.2h0M584.2 509.1h0M601.9 509.0h0M516.7 511.1h0M526.5 510.0h0M529.3 511.0h0M579.1 510.1h0M608.5 510.8h0M619.8 510.4h0M513.8 512.0h0M514.8 511.8h0M516.1 511.5h0M534.6 512.6h0M543.7 511.7h0M574.9 511.5h0M601.2 511.6h0M617.8 512.3h0M626.4 511.6h0M630.4 512.5h0M517.8 512.6h0M521.6 512.8h0M534.6 513.8h0M539.1 512.6h0M570.3 512.7h0M624.2 513.0h0M516.4 514.2h0M520.6 515.0h0M538.4 514.2h0M604.9 514.6h0M519.9 516.2h0M544.1 516.6h0M556.7 516.2h0M564.1 515.8h0M498.2 516.7h0M543.2 516.8h0M547.7 517.1h0M598.4 518.0h0M483.0 518.2h0M495.3 518.2h0M537.9 518.4h0M600.0 519.2h0M616.1 518.6h0M476.3 519.7h0M485.0 519.6h0M490.8 520.4h0M508.8 519.7h0M536.1 520.0h0M542.3 519.8h0M601.0 519.6h0M612.2 519.5h0M625.0 519.9h0M513.9 521.3h0M518.4 522.1h0M551.4 521.1h0M563.1 521.6h0M607.0 521.0h0M507.9 522.6h0M513.5 523.6h0M522.8 523.6h0M527.4 523.0h0M529.7 523.2h0M559.6 522.9h0M536.6 524.7h0M556.6 524.5h0M569.9 524.7h0M586.0 524.0h0M482.1 525.3h0M503.6 525.7h0M521.3 525.0h0M527.9 525.3h0M580.2 525.9h0M620.6 526.3h0M623.5 525.5h0M496.7 527.1h0M515.5 527.8h0M520.5 527.7h0M531.8 527.3h0M549.8 526.6h0M560.6 527.3h0M562.7 526.7h0M600.6 527.6h0M494.1 528.8h0M501.5 528.9h0M524.8 528.4h0M540.2 528.5h0M551.1 527.9h0M557.7 529.2h0M562.3 529.2h0M604.1 529.2h0M476.1 529.4h0M515.5 529.4h0M544.2 529.6h0M558.3 529.8h0M577.0 530.2h0M594.7 530.6h0M625.4 530.4h0M522.5 531.9h0M477.5 533.3h0M494.8 532.6h0M567.7 532.6h0M588.8 532.4h0M616.4 532.3h0M491.3 533.8h0M502.2 533.4h0M509.6 533.4h0M513.6 533.6h0M544.7 533.7h0M552.8 534.1h0M557.7 534.7h0M563.3 534.4h0M594.2 534.0h0M627.8 533.4h0M496.2 535.7h0M511.8 535.9h0M596.5 535.8h0M493.0 536.3h0M498.7 537.1h0M522.8 536.5h0M572.3 536.8h0M618.1 536.6h0M505.3 538.3h0M507.0 537.5h0M514.3 538.0h0M518.7 538.8h0M579.0 538.1h0M628.2 538.5h0M629.2 537.8h0M585.4 540.0h0M587.1 540.2h0M491.8 540.7h0M501.2 541.4h0M502.4 541.3h0M512.5 540.3h0M549.0 540.8h0M589.6 540.9h0M607.8 541.2h0M476.1 542.2h0M508.6 542.2h0M550.0 541.8h0M551.5 541.9h0M627.3 541.7h0M555.1 544.0h0M590.6 543.4h0M603.8 543.8h0M604.9 544.0h0M620.6 543.1h0M627.2 543.7h0M504.6 545.0h0M553.5 545.0h0M629.1 546.4h0M479.4 547.2h0M485.5 547.3h0M495.2 548.1h0M576.9 548.1h0M600.1 547.2h0M606.1 548.6h0M622.3 548.6h0M482.1 549.1h0M488.1 549.8h0M496.3 549.7h0M501.7 549.2h0M579.4 548.7h0M503.0 550.3h0M596.7 550.9h0M611.3 550.1h0M630.0 551.1h0M559.9 551.8h0M565.7 552.2h0M573.3 552.7h0M592.6 552.5h0M601.0 552.1h0M532.9 553.3h0M541.8 552.8h0M548.4 553.3h0M600.2 553.8h0M488.8 556.5h0M498.9 555.7h0M535.8 556.1h0M617.6 556.0h0M536.9 557.6h0M553.5 558.1h0M555.9 559.3h0M492.3 560.5h0M507.8 560.0h0M616.0 561.1h0M619.5 560.5h0M500.0 562.2h0M519.6 561.9h0M539.4 562.3h0M551.2 561.7h0M553.1 561.1h0M609.0 562.1h0M528.7 563.2h0M533.2 563.7h0M552.7 562.5h0M519.0 564.4h0M532.0 565.6h0M533.6 566.8h0M505.7 568.2h0M520.9 569.2h0M526.2 568.5h0M501.0 571.4h0M515.9 573.1h0M517.6 572.5h0M531.9 573.4h0M534.3 573.0h0M543.4 572.9h0M503.2 574.7h0M504.6 573.8h0M527.5 576.1h0M537.9 575.1h0M500.8 576.4h0M534.3 576.8h0M541.4 577.4h0M506.4 578.2h0M525.8 578.6h0M539.4 578.4h0M501.7 579.4h0M520.9 579.7h0M521.8 581.3h0M522.1 580.9h0M531.8 582.9h0M535.0 582.3h0M510.7 584.3h0M519.7 585.6h0M508.4 586.6h0M523.5 588.4h0M528.8 588.2h0M503.3 590.5h0M509.2 599.3h0M514.7 599.9h0"/><path stroke="#F6F1A7" d="M447.0 363.9h0M448.2 364.6h0M460.0 369.9h0M456.5 371.8h0M452.9 373.5h0M455.6 373.6h0M440.5 378.0h0M441.3 377.3h0M451.8 377.8h0M445.4 379.0h0M437.4 380.7h0M441.6 381.1h0M441.7 382.6h0M454.6 382.8h0M467.6 382.6h0M469.3 383.4h0M451.9 383.9h0M455.6 385.1h0M457.9 383.8h0M475.1 383.9h0M458.1 389.2h0M475.6 388.1h0M562.4 388.5h0M445.1 390.2h0M454.0 390.1h0M460.7 390.1h0M563.0 390.4h0M451.4 391.2h0M472.2 391.7h0M558.2 391.8h0M478.2 392.9h0M558.6 393.2h0M568.9 392.1h0M463.8 394.6h0M570.3 394.5h0M566.3 395.9h0M432.7 396.3h0M443.6 397.4h0M464.0 396.8h0M477.6 396.2h0M480.5 396.4h0M445.3 397.8h0M458.6 398.9h0M483.4 398.2h0M553.5 398.5h0M433.3 399.2h0M455.0 399.7h0M465.7 399.5h0M477.2 399.4h0M487.5 399.4h0M547.5 399.5h0M432.7 401.7h0M446.6 401.2h0M457.0 401.2h0M471.5 400.7h0M482.2 401.1h0M440.3 401.8h0M464.2 403.0h0M483.5 402.7h0M562.2 401.8h0M450.6 403.4h0M458.3 404.4h0M449.5 405.1h0M479.1 404.5h0M480.9 405.9h0M573.0 404.8h0M452.8 407.1h0M469.9 407.2h0M470.9 406.8h0M488.8 406.6h0M455.0 407.3h0M469.8 407.9h0M483.8 407.3h0M432.3 409.4h0M545.2 409.3h0M438.2 411.0h0M448.1 410.2h0M554.5 410.3h0M562.1 410.1h0M617.6 411.3h0M432.5 412.0h0M447.8 411.7h0M460.4 411.8h0M627.0 412.2h0M433.4 413.6h0M475.1 413.6h0M571.8 413.1h0M608.6 413.6h0M632.5 413.0h0M443.1 414.3h0M454.3 415.4h0M467.0 414.2h0M469.0 415.6h0M473.8 414.4h0M548.1 414.5h0M560.7 415.4h0M562.6 414.4h0M567.8 415.3h0M608.5 414.5h0M630.5 414.8h0M490.4 416.3h0M547.6 416.1h0M552.0 416.5h0M576.8 416.6h0M602.2 415.6h0M446.3 417.9h0M464.2 417.0h0M552.8 417.0h0M556.0 417.7h0M612.1 417.0h0M613.6 417.2h0M615.1 417.5h0M633.7 417.4h0M635.8 417.3h0M435.0 419.2h0M471.4 418.7h0M482.3 418.9h0M494.6 418.4h0M590.7 418.9h0M629.8 418.7h0M632.9 418.4h0M634.5 418.4h0M439.4 420.0h0M458.3 420.4h0M581.5 421.1h0M583.2 420.6h0M591.1 419.8h0M634.5 420.2h0M451.0 421.8h0M555.6 421.3h0M638.9 422.4h0M442.3 422.8h0M480.5 423.5h0M548.1 423.6h0M469.5 424.4h0M480.0 424.0h0M580.9 424.6h0M582.6 424.7h0M597.3 424.1h0M627.3 424.5h0M637.2 424.9h0M640.1 425.1h0M447.8 426.1h0M581.0 426.6h0M635.3 426.1h0M448.9 427.8h0M453.3 427.1h0M599.3 427.7h0M627.3 428.1h0M640.0 427.2h0M482.3 428.7h0M496.1 428.5h0M555.0 429.1h0M604.6 429.0h0M606.6 428.1h0M613.7 429.4h0M627.7 428.3h0M575.4 430.1h0M611.3 429.8h0M621.4 430.7h0M449.0 431.7h0M629.5 431.6h0M634.6 431.9h0M636.8 432.2h0M643.2 431.7h0M581.0 432.4h0M589.3 433.2h0M626.6 433.1h0M628.2 433.4h0M633.4 432.4h0M449.6 434.4h0M484.0 434.2h0M513.6 434.4h0M576.2 434.5h0M602.4 434.6h0M607.0 434.1h0M472.8 435.2h0M613.6 436.3h0M615.4 435.8h0M456.1 437.3h0M597.5 436.7h0M615.0 437.0h0M636.8 437.7h0M646.1 437.4h0M451.1 438.5h0M473.5 438.5h0M587.3 438.0h0M634.0 438.6h0M640.9 437.8h0M644.9 438.6h0M445.7 439.7h0M618.9 439.5h0M635.3 440.0h0M647.3 439.9h0M483.1 441.2h0M598.6 441.4h0M646.7 440.8h0M443.3 442.3h0M447.4 442.7h0M615.0 442.7h0M622.5 443.2h0M477.5 444.2h0M621.4 444.2h0M635.2 443.5h0M452.4 444.7h0M484.3 445.6h0M605.6 445.6h0M607.3 445.8h0M639.0 446.0h0M459.3 447.4h0M460.4 447.5h0M452.3 449.7h0M476.9 449.6h0M588.1 449.8h0M595.9 450.2h0M609.0 449.1h0M633.1 448.9h0M636.9 448.8h0M454.4 451.0h0M584.8 450.8h0M648.1 450.8h0M653.8 451.6h0M481.3 452.0h0M592.4 452.1h0M630.8 452.1h0M482.4 453.0h0M588.7 454.2h0M595.1 454.1h0M597.5 453.1h0M607.4 453.6h0M619.2 453.3h0M641.6 454.2h0M649.8 454.1h0M474.0 455.2h0M485.8 454.5h0M619.8 455.2h0M480.9 456.9h0M487.5 456.8h0M597.9 456.9h0M601.9 456.6h0M608.6 456.5h0M619.1 456.0h0M639.9 455.8h0M474.5 457.5h0M485.3 458.0h0M542.4 458.1h0M546.4 458.0h0M588.3 458.5h0M608.6 457.9h0M624.8 459.2h0M643.1 459.8h0M651.4 458.6h0M482.7 460.0h0M540.8 460.7h0M547.9 460.0h0M654.2 460.3h0M497.1 461.3h0M542.4 462.5h0M587.9 461.9h0M621.3 461.4h0M543.3 463.4h0M547.9 463.1h0M566.2 462.8h0M631.0 463.9h0M644.2 462.9h0M540.0 465.4h0M649.3 464.7h0M654.5 464.3h0M482.2 466.1h0M535.3 465.9h0M550.6 466.5h0M635.3 466.0h0M641.6 466.3h0M651.8 466.5h0M552.7 466.8h0M650.5 468.1h0M641.3 469.8h0M479.3 471.6h0M481.3 471.9h0M568.4 471.2h0M628.1 471.2h0M632.2 471.2h0M645.2 472.1h0M657.0 472.2h0M480.0 473.4h0M486.3 473.7h0M563.9 472.4h0M613.6 472.8h0M649.7 473.1h0M652.7 473.3h0M619.4 473.9h0M629.0 474.9h0M635.9 474.8h0M661.6 475.1h0M661.9 476.3h0M534.7 476.6h0M536.0 476.5h0M563.7 477.7h0M615.1 476.7h0M616.4 477.7h0M624.3 477.3h0M649.0 476.7h0M483.1 478.4h0M614.3 479.1h0M656.7 478.6h0M627.2 480.5h0M654.1 480.5h0M645.4 480.8h0M533.8 483.4h0M565.1 484.2h0M654.0 483.8h0M535.3 485.3h0M618.0 484.9h0M654.1 485.2h0M656.5 485.8h0M631.8 486.8h0M642.6 487.6h0M641.0 488.3h0M647.9 488.8h0M651.6 487.9h0M656.5 487.8h0M501.7 489.6h0M578.7 489.7h0M621.7 489.4h0M626.7 489.7h0M628.6 489.5h0M661.7 490.1h0M610.7 491.7h0M558.3 492.0h0M656.6 492.9h0M618.2 493.3h0M619.3 494.3h0M629.4 494.2h0M657.4 494.6h0M537.8 494.6h0M555.3 495.4h0M589.3 496.7h0M481.6 497.5h0M569.3 497.4h0M607.9 498.1h0M641.5 498.0h0M642.2 498.2h0M650.4 498.3h0M605.0 499.6h0M641.9 500.0h0M646.5 500.1h0M654.6 499.9h0M501.7 500.8h0M602.5 501.2h0M611.9 500.7h0M616.3 501.2h0M617.9 500.3h0M620.2 500.4h0M624.6 500.1h0M554.4 502.7h0M591.8 502.7h0M629.5 502.3h0M540.7 503.4h0M575.7 502.9h0M581.7 503.6h0M592.6 503.6h0M613.5 503.5h0M626.2 503.1h0M481.2 506.9h0M489.7 505.7h0M495.9 506.7h0M524.3 507.0h0M538.4 505.7h0M575.0 506.8h0M582.4 506.3h0M484.8 508.4h0M494.5 507.3h0M530.4 508.1h0M563.6 507.4h0M570.1 508.3h0M577.4 508.1h0M642.1 507.3h0M478.3 509.2h0M501.6 509.1h0M524.1 509.7h0M571.5 509.6h0M620.7 508.8h0M636.5 509.1h0M637.6 509.3h0M568.8 510.2h0M574.3 510.5h0M582.9 510.5h0M621.8 510.9h0M631.8 510.2h0M639.0 510.2h0M473.6 512.5h0M566.9 511.3h0M632.8 511.7h0M492.7 513.1h0M494.5 513.3h0M520.7 513.4h0M563.7 513.9h0M571.3 513.5h0M579.3 513.7h0M591.2 513.9h0M616.5 512.9h0M631.9 513.9h0M513.0 515.3h0M526.7 514.2h0M546.4 514.8h0M562.4 514.3h0M576.2 514.4h0M494.9 516.5h0M503.1 516.7h0M512.6 515.6h0M526.4 515.9h0M553.8 516.0h0M570.2 515.5h0M596.1 515.8h0M469.7 516.9h0M481.8 517.5h0M485.0 516.9h0M535.6 517.2h0M555.0 517.7h0M566.3 517.9h0M571.3 517.8h0M601.1 517.7h0M618.7 516.8h0M626.9 517.3h0M486.6 519.4h0M516.9 519.4h0M535.9 519.1h0M585.1 518.8h0M608.1 518.2h0M479.8 520.1h0M489.8 520.4h0M494.6 520.4h0M505.7 520.0h0M509.4 520.3h0M511.1 519.6h0M520.6 520.4h0M522.7 520.4h0M585.2 519.9h0M537.0 522.0h0M555.3 521.6h0M577.5 522.0h0M604.6 521.8h0M472.9 523.0h0M485.6 522.4h0M499.1 523.5h0M537.1 522.9h0M544.8 522.6h0M553.1 522.9h0M558.3 522.7h0M573.1 522.9h0M588.4 522.5h0M479.1 524.2h0M516.7 524.5h0M496.1 525.5h0M545.8 526.3h0M550.6 525.8h0M566.2 526.0h0M590.7 525.2h0M610.2 526.4h0M470.1 527.7h0M472.1 527.7h0M488.0 526.4h0M512.8 526.9h0M514.4 526.8h0M517.2 526.5h0M536.9 527.2h0M491.8 528.8h0M508.3 528.3h0M511.4 527.9h0M514.4 528.5h0M518.9 528.9h0M522.6 528.7h0M536.7 528.2h0M554.8 529.2h0M571.1 529.2h0M603.1 528.8h0M490.1 530.4h0M496.6 530.3h0M502.9 529.4h0M506.5 529.7h0M498.9 531.0h0M501.9 531.4h0M510.0 531.6h0M570.4 530.7h0M607.8 530.7h0M616.1 531.0h0M621.9 531.8h0M485.0 532.0h0M488.6 532.6h0M504.2 532.8h0M513.5 532.3h0M519.3 532.0h0M549.5 532.0h0M497.2 534.0h0M503.8 534.6h0M517.6 534.3h0M590.2 533.3h0M602.5 533.9h0M615.3 533.3h0M625.0 533.5h0M484.9 535.2h0M491.7 534.7h0M569.1 535.4h0M589.6 535.5h0M618.6 536.1h0M629.7 535.1h0M481.3 536.4h0M527.4 536.8h0M561.4 537.1h0M606.9 537.1h0M480.8 538.8h0M482.5 537.6h0M536.8 537.6h0M590.7 538.8h0M622.8 538.7h0M473.2 540.2h0M478.3 538.9h0M486.4 539.4h0M503.7 539.8h0M557.6 539.0h0M581.6 539.7h0M599.9 540.0h0M480.6 540.7h0M486.5 541.0h0M552.5 540.3h0M614.2 541.2h0M618.1 540.9h0M503.4 542.6h0M556.8 542.2h0M574.5 542.7h0M584.5 542.4h0M617.8 542.7h0M632.7 541.8h0M503.2 543.7h0M615.8 543.4h0M618.6 544.4h0M502.7 544.4h0M508.1 544.4h0M601.4 545.4h0M560.8 546.6h0M581.9 546.2h0M622.3 546.1h0M633.6 546.0h0M481.4 547.9h0M484.0 547.4h0M609.5 547.2h0M494.8 549.3h0M606.5 549.6h0M489.1 550.5h0M501.0 551.2h0M563.9 550.7h0M493.0 551.7h0M501.5 552.3h0M571.4 552.3h0M609.9 551.6h0M503.3 553.9h0M535.2 553.2h0M575.5 553.0h0M602.1 553.6h0M487.2 554.2h0M621.8 554.4h0M556.2 556.2h0M496.3 557.9h0M610.0 557.7h0M506.3 559.5h0M548.3 558.8h0M558.4 558.9h0M577.1 558.9h0M582.0 559.4h0M602.7 558.7h0M605.9 559.0h0M550.3 560.4h0M583.8 559.8h0M495.9 561.6h0M556.1 561.4h0M559.0 561.7h0M502.7 563.7h0M535.1 563.8h0M546.4 562.4h0M556.7 563.0h0M502.4 564.2h0M527.4 565.2h0M549.3 564.8h0M552.1 563.9h0M490.6 566.4h0M499.5 565.5h0M524.0 566.6h0M526.8 566.2h0M520.1 567.7h0M525.4 566.8h0M528.1 567.8h0M518.9 569.2h0M504.0 569.4h0M505.3 569.9h0M532.7 569.8h0M541.3 570.4h0M545.3 569.5h0M546.3 569.5h0M508.1 571.6h0M513.9 570.9h0M517.5 572.1h0M532.6 571.5h0M509.0 573.3h0M510.2 575.3h0M504.1 576.3h0M518.6 577.4h0M522.4 577.7h0M500.1 578.3h0M529.7 578.5h0M533.3 578.6h0M512.7 579.2h0M536.5 579.7h0M535.0 581.4h0M499.1 582.1h0M533.9 587.2h0M512.8 588.5h0M520.4 587.9h0M519.5 589.7h0M528.6 590.7h0M508.1 591.9h0M510.4 593.4h0M500.3 595.3h0M513.5 595.3h0M519.2 595.9h0M507.7 599.7h0M507.7 602.2h0"/><path stroke="#FAE696" d="M450.6 362.7h0M455.1 369.4h0M453.5 371.7h0M454.4 372.6h0M437.6 373.0h0M458.5 376.7h0M460.5 377.9h0M437.1 378.4h0M452.7 378.6h0M461.1 378.2h0M446.3 380.2h0M438.8 383.5h0M569.4 383.6h0M565.9 383.7h0M466.7 385.9h0M477.6 385.6h0M556.5 385.9h0M559.8 386.3h0M566.7 386.3h0M559.6 387.7h0M438.1 388.0h0M461.6 388.2h0M570.9 388.8h0M433.9 393.2h0M434.5 392.9h0M445.0 392.7h0M471.6 392.4h0M481.7 392.1h0M570.5 392.1h0M441.8 395.4h0M462.6 396.2h0M477.5 395.8h0M561.7 395.2h0M562.2 395.9h0M553.7 396.9h0M451.8 398.4h0M462.1 398.7h0M486.1 397.6h0M432.5 399.3h0M442.0 400.0h0M447.4 399.5h0M456.6 399.6h0M459.3 400.2h0M556.5 401.7h0M557.9 401.4h0M443.5 403.0h0M455.7 402.8h0M481.6 402.7h0M452.3 404.2h0M479.3 403.1h0M484.8 404.4h0M551.4 403.9h0M554.1 404.5h0M458.9 405.1h0M464.6 404.6h0M562.5 405.1h0M568.3 405.5h0M486.6 407.0h0M491.4 407.2h0M433.7 407.9h0M438.3 408.6h0M475.6 408.1h0M547.1 408.3h0M571.1 408.7h0M441.2 409.8h0M443.3 409.9h0M557.8 409.0h0M569.4 409.3h0M631.5 409.7h0M472.2 411.1h0M478.9 410.5h0M489.8 411.3h0M557.3 411.3h0M601.5 411.1h0M630.7 411.4h0M485.9 412.0h0M549.5 412.5h0M465.0 413.7h0M633.5 413.9h0M459.9 415.5h0M486.2 415.1h0M494.4 414.7h0M565.5 414.5h0M572.7 414.3h0M576.3 414.9h0M610.6 414.6h0M628.8 414.6h0M471.9 416.5h0M475.8 416.5h0M493.7 416.8h0M632.7 415.8h0M636.2 416.6h0M492.9 417.4h0M550.9 417.9h0M568.1 417.0h0M628.1 417.1h0M450.3 419.7h0M486.2 418.6h0M610.3 418.8h0M628.3 419.6h0M464.8 420.0h0M468.2 420.1h0M474.7 420.2h0M480.8 420.5h0M587.4 420.5h0M437.5 421.6h0M464.7 421.3h0M583.3 421.8h0M613.4 422.5h0M616.2 421.4h0M468.8 422.6h0M595.7 423.4h0M614.6 423.1h0M622.3 422.8h0M623.0 423.2h0M625.4 423.8h0M484.8 424.8h0M491.8 424.9h0M523.5 424.1h0M613.5 424.8h0M630.1 424.7h0M636.2 424.0h0M442.4 425.8h0M480.6 426.0h0M550.2 425.4h0M593.2 425.7h0M626.3 425.7h0M631.6 425.9h0M639.4 425.5h0M447.2 428.0h0M480.5 427.1h0M489.5 428.0h0M575.5 428.0h0M629.9 428.0h0M591.0 428.4h0M594.9 428.7h0M608.9 429.3h0M618.1 429.1h0M637.7 429.4h0M476.5 430.0h0M570.3 429.6h0M577.0 429.5h0M596.6 430.0h0M607.5 429.7h0M625.9 429.6h0M641.5 430.3h0M514.1 432.0h0M567.7 431.4h0M591.8 431.3h0M622.2 430.9h0M483.4 433.5h0M499.2 433.5h0M503.0 432.3h0M572.7 432.7h0M595.7 433.2h0M635.3 433.6h0M494.1 433.6h0M508.0 434.0h0M577.5 434.0h0M619.9 434.8h0M630.6 434.7h0M495.9 435.5h0M636.0 435.5h0M640.6 435.5h0M605.6 436.4h0M638.0 436.8h0M639.0 437.2h0M598.7 438.4h0M606.8 438.2h0M636.8 438.1h0M460.7 439.7h0M483.9 439.5h0M479.0 441.3h0M634.3 441.2h0M636.0 440.6h0M451.9 442.5h0M475.4 443.3h0M597.1 442.7h0M626.4 442.9h0M599.0 443.7h0M603.2 444.7h0M638.9 444.3h0M643.7 444.7h0M647.9 444.5h0M449.4 445.4h0M476.4 445.1h0M600.7 445.2h0M609.8 446.8h0M454.4 448.3h0M588.7 448.0h0M635.0 448.4h0M646.0 448.0h0M447.9 449.2h0M607.1 450.1h0M646.6 449.1h0M485.6 451.2h0M641.0 450.9h0M448.0 452.6h0M500.0 452.0h0M553.1 452.6h0M590.5 451.8h0M637.6 452.1h0M455.1 454.4h0M479.3 454.3h0M590.0 453.9h0M613.7 453.4h0M624.3 453.4h0M637.4 453.9h0M593.8 454.7h0M457.6 455.9h0M645.3 456.2h0M543.8 457.7h0M637.1 457.8h0M641.9 457.7h0M643.6 457.4h0M653.9 457.4h0M539.7 458.7h0M621.4 458.5h0M641.9 459.3h0M616.4 460.2h0M619.5 460.1h0M628.6 460.3h0M642.9 460.2h0M653.2 460.0h0M481.3 461.7h0M544.2 461.9h0M630.1 462.6h0M634.1 462.0h0M645.0 461.3h0M652.4 461.7h0M613.6 462.9h0M638.3 463.8h0M544.7 464.5h0M659.5 464.5h0M645.2 465.6h0M536.7 468.0h0M547.2 467.0h0M656.8 467.9h0M484.2 468.7h0M488.4 469.2h0M537.9 468.5h0M573.2 468.8h0M630.6 468.5h0M644.7 468.7h0M656.6 469.3h0M658.7 468.2h0M478.7 470.2h0M481.2 470.0h0M536.2 469.8h0M538.6 469.8h0M592.6 469.8h0M479.8 471.7h0M549.8 471.0h0M560.2 471.5h0M577.0 472.1h0M626.5 472.2h0M647.0 472.3h0M655.3 471.6h0M487.3 473.7h0M618.4 473.1h0M627.4 473.7h0M635.2 473.7h0M636.5 473.7h0M482.0 474.8h0M570.2 475.1h0M662.3 474.8h0M561.9 476.0h0M567.2 475.9h0M575.9 476.3h0M623.0 475.4h0M634.3 476.2h0M656.6 475.3h0M576.7 477.9h0M613.8 477.3h0M621.7 476.9h0M629.5 477.4h0M637.7 477.4h0M655.8 477.7h0M485.7 477.9h0M503.7 478.7h0M536.0 480.6h0M541.0 480.2h0M647.8 480.1h0M661.7 479.3h0M539.2 481.9h0M641.7 481.4h0M644.8 481.8h0M618.7 482.8h0M619.7 483.0h0M643.6 482.2h0M577.0 484.8h0M650.5 483.5h0M661.8 484.7h0M548.5 485.8h0M557.4 486.2h0M652.1 486.1h0M582.3 487.6h0M644.9 486.5h0M650.1 486.4h0M537.3 488.0h0M552.1 487.6h0M630.3 487.6h0M653.1 488.2h0M623.4 489.6h0M633.9 489.5h0M616.7 490.5h0M620.0 490.5h0M622.3 492.1h0M637.5 493.2h0M555.8 494.6h0M625.4 495.6h0M650.3 495.4h0M657.0 494.9h0M543.2 496.5h0M483.0 497.5h0M536.0 498.2h0M539.7 498.0h0M631.7 498.7h0M615.4 500.0h0M555.8 501.0h0M610.9 500.4h0M568.4 502.0h0M572.7 502.2h0M620.8 501.7h0M492.7 504.1h0M498.5 503.4h0M511.7 503.2h0M518.1 503.2h0M578.3 503.5h0M610.2 503.6h0M630.1 503.3h0M644.7 503.1h0M481.5 504.8h0M502.1 505.5h0M507.2 505.3h0M593.1 505.3h0M611.6 504.6h0M510.9 505.9h0M564.9 506.3h0M621.8 506.7h0M638.5 506.9h0M483.2 507.6h0M568.8 507.3h0M592.7 508.0h0M599.8 508.4h0M602.9 507.7h0M519.3 508.6h0M577.4 509.4h0M608.7 508.9h0M495.9 510.2h0M499.4 509.8h0M503.0 510.0h0M525.9 510.0h0M563.7 510.7h0M497.9 511.9h0M509.1 511.7h0M510.1 511.8h0M554.6 511.9h0M588.8 511.3h0M622.6 512.1h0M476.6 513.7h0M499.2 513.7h0M506.1 513.4h0M531.2 513.7h0M568.9 513.8h0M580.5 512.9h0M473.0 514.9h0M511.5 515.3h0M514.3 514.5h0M564.3 514.3h0M580.4 514.1h0M585.8 514.3h0M590.5 514.5h0M500.6 515.8h0M522.6 516.1h0M525.9 516.7h0M562.3 515.7h0M565.5 516.5h0M613.2 516.0h0M617.8 516.6h0M476.5 516.8h0M573.6 518.0h0M591.3 517.8h0M599.8 517.3h0M474.3 519.2h0M493.0 518.8h0M498.5 519.4h0M500.1 518.3h0M510.9 518.5h0M515.6 518.9h0M541.9 518.7h0M553.5 518.8h0M567.9 519.1h0M577.0 519.1h0M612.8 519.1h0M468.4 520.9h0M482.4 521.2h0M501.8 521.6h0M517.7 521.1h0M529.0 521.6h0M547.3 522.0h0M602.4 522.3h0M475.9 522.6h0M487.0 522.8h0M507.2 522.4h0M541.5 523.6h0M498.9 523.8h0M511.9 523.7h0M611.1 524.7h0M468.6 526.1h0M485.5 525.9h0M506.2 526.4h0M508.2 526.4h0M578.5 526.4h0M609.6 525.1h0M474.7 527.3h0M506.3 526.9h0M551.5 526.8h0M559.0 527.3h0M591.2 526.7h0M608.0 527.0h0M473.1 529.0h0M513.4 529.0h0M527.2 529.1h0M607.1 529.2h0M614.5 527.9h0M521.1 529.8h0M609.6 529.4h0M476.7 532.0h0M496.9 531.8h0M511.4 530.9h0M517.5 531.6h0M539.1 531.1h0M573.5 531.8h0M479.0 532.8h0M487.2 532.1h0M566.3 532.3h0M602.2 532.0h0M609.4 533.4h0M614.5 533.3h0M483.4 533.7h0M483.8 534.4h0M498.2 534.1h0M567.5 534.5h0M610.9 534.6h0M470.6 535.3h0M495.2 535.9h0M564.5 535.1h0M575.2 535.1h0M476.8 537.3h0M487.3 537.3h0M502.6 536.3h0M506.2 537.4h0M508.1 536.3h0M534.7 537.5h0M583.3 537.0h0M619.8 536.4h0M478.4 538.2h0M494.7 537.7h0M504.9 539.4h0M512.9 540.0h0M562.2 540.2h0M571.9 540.2h0M613.7 539.5h0M476.7 540.5h0M505.3 540.8h0M543.0 541.6h0M563.8 541.2h0M605.8 541.2h0M480.2 543.0h0M489.2 543.0h0M506.8 542.6h0M510.2 542.5h0M594.9 542.2h0M491.2 543.5h0M499.6 543.3h0M480.9 545.1h0M483.4 544.6h0M490.4 545.6h0M519.1 544.9h0M554.8 545.4h0M579.0 544.9h0M616.7 545.4h0M622.7 544.4h0M478.1 546.1h0M495.2 546.1h0M502.9 546.2h0M551.0 546.3h0M566.2 545.9h0M585.6 546.0h0M591.2 546.3h0M603.1 546.5h0M503.0 547.8h0M557.8 547.8h0M604.6 547.4h0M633.8 547.7h0M489.8 550.0h0M533.8 549.4h0M589.0 548.6h0M597.3 548.6h0M628.6 549.5h0M493.7 551.4h0M594.4 550.1h0M606.9 550.5h0M539.2 552.5h0M545.1 552.0h0M493.5 553.1h0M612.9 553.0h0M628.4 553.9h0M493.2 554.4h0M563.6 555.1h0M573.6 554.7h0M587.9 554.1h0M506.4 556.4h0M625.2 555.7h0M489.9 557.4h0M501.3 558.1h0M535.3 558.2h0M542.4 557.9h0M545.1 558.0h0M549.0 557.5h0M560.0 558.0h0M582.4 557.3h0M532.9 558.7h0M541.3 559.6h0M610.8 558.9h0M496.3 559.7h0M503.5 560.8h0M515.7 560.2h0M544.1 560.5h0M598.2 560.5h0M511.2 562.2h0M537.6 562.4h0M614.2 562.3h0M498.2 562.7h0M525.5 563.8h0M531.5 563.2h0M486.2 564.3h0M503.8 565.2h0M515.8 564.2h0M521.9 565.1h0M487.2 565.8h0M525.4 565.4h0M534.6 565.6h0M536.1 566.3h0M498.4 567.6h0M503.2 566.8h0M514.3 567.6h0M529.5 567.0h0M497.3 568.8h0M548.2 569.3h0M501.5 570.1h0M511.4 569.9h0M514.4 570.2h0M524.4 569.5h0M543.1 570.7h0M494.3 572.1h0M502.4 572.1h0M535.1 571.8h0M486.0 572.1h0M489.7 573.0h0M492.8 573.7h0M533.9 574.3h0M539.0 574.4h0M492.0 574.9h0M493.8 575.9h0M523.2 575.1h0M531.7 576.0h0M495.4 577.1h0M506.0 577.6h0M509.7 577.2h0M510.1 577.3h0M509.5 578.7h0M509.4 580.3h0M514.1 579.2h0M527.0 579.2h0M533.0 579.1h0M498.4 581.2h0M503.3 581.4h0M514.6 581.6h0M518.6 581.2h0M525.5 581.5h0M476.8 582.9h0M490.3 582.6h0M503.1 582.9h0M507.0 582.1h0M508.7 583.2h0M508.6 583.4h0M516.6 583.3h0M528.9 583.8h0M531.7 583.9h0M535.9 583.6h0M502.7 585.9h0M510.4 585.4h0M513.7 587.4h0M517.8 588.1h0M511.3 589.0h0M517.7 588.9h0M512.0 590.3h0M517.3 591.2h0M512.7 592.8h0M517.1 592.1h0M523.8 592.7h0M492.0 593.3h0M496.8 595.3h0M521.6 594.3h0M517.5 596.7h0M489.8 597.3h0M502.3 598.4h0M511.5 601.4h0"/><path stroke="#FDD884" d="M448.3 364.2h0M452.1 365.3h0M451.9 366.8h0M459.4 369.8h0M457.4 372.1h0M439.3 373.9h0M448.2 373.2h0M464.5 373.9h0M442.9 374.8h0M459.5 374.0h0M444.3 375.7h0M448.3 376.8h0M447.3 378.3h0M461.6 378.7h0M455.8 380.2h0M462.4 380.7h0M466.6 380.2h0M451.1 382.1h0M464.3 381.6h0M443.1 382.6h0M459.0 385.0h0M470.5 385.1h0M473.9 383.9h0M561.5 384.2h0M437.1 385.7h0M440.3 385.4h0M478.6 386.4h0M470.2 387.8h0M442.8 389.3h0M568.7 389.5h0M565.1 391.7h0M475.4 393.1h0M482.7 394.2h0M552.2 394.5h0M558.5 393.4h0M566.7 394.3h0M455.0 395.6h0M436.1 397.2h0M433.7 397.8h0M484.4 398.3h0M551.8 398.5h0M439.2 399.5h0M472.5 399.9h0M561.4 399.8h0M575.7 399.0h0M434.1 400.9h0M447.8 400.6h0M453.6 400.4h0M473.4 400.9h0M562.3 400.6h0M566.6 400.5h0M447.8 402.2h0M470.1 403.1h0M463.9 403.7h0M465.3 404.4h0M568.8 403.9h0M625.5 404.5h0M477.9 405.8h0M547.5 405.3h0M554.0 404.7h0M565.2 404.5h0M463.3 407.2h0M484.1 406.5h0M546.3 407.0h0M437.1 408.3h0M466.6 407.4h0M472.8 408.2h0M561.5 407.6h0M573.8 408.0h0M449.3 409.4h0M481.4 411.3h0M492.3 411.1h0M547.6 411.1h0M548.6 411.0h0M555.5 410.5h0M564.2 410.1h0M612.5 411.4h0M435.4 412.5h0M444.9 412.6h0M475.2 412.0h0M557.7 412.1h0M631.0 412.0h0M477.7 413.6h0M480.2 414.0h0M491.2 413.7h0M545.4 413.9h0M568.1 413.9h0M597.5 413.2h0M598.1 413.0h0M624.9 413.6h0M456.9 414.2h0M459.2 414.6h0M476.9 415.6h0M492.3 414.5h0M553.3 414.7h0M574.2 414.3h0M633.1 414.5h0M451.1 416.1h0M494.3 416.1h0M600.4 417.0h0M606.3 415.8h0M619.6 416.5h0M630.9 416.1h0M456.2 417.0h0M474.7 417.1h0M476.9 417.7h0M548.7 417.8h0M574.5 418.0h0M593.9 417.2h0M627.1 417.3h0M483.8 419.3h0M493.7 418.9h0M591.7 418.8h0M619.3 418.4h0M441.4 421.1h0M451.4 420.0h0M457.2 420.2h0M473.1 420.2h0M548.7 421.1h0M470.1 421.4h0M495.0 421.4h0M447.1 423.8h0M609.5 422.9h0M611.8 423.3h0M586.1 424.5h0M600.4 424.9h0M639.5 425.3h0M446.0 425.5h0M450.2 426.4h0M610.7 425.7h0M621.9 425.9h0M638.5 425.4h0M640.5 425.5h0M556.6 427.2h0M593.6 426.8h0M444.1 428.3h0M450.6 429.3h0M504.7 428.5h0M630.1 428.8h0M636.4 428.6h0M445.8 430.8h0M489.7 430.6h0M501.8 430.8h0M577.7 430.6h0M622.7 430.3h0M624.1 429.8h0M641.1 429.9h0M597.9 431.0h0M607.4 431.8h0M627.2 430.9h0M490.0 432.6h0M613.7 433.6h0M444.2 434.9h0M595.3 434.5h0M615.2 433.8h0M628.1 434.4h0M635.2 434.2h0M636.4 433.7h0M632.6 435.4h0M475.0 436.5h0M610.7 437.2h0M592.3 439.8h0M610.5 440.2h0M444.1 441.6h0M448.9 440.8h0M474.1 440.6h0M628.1 440.6h0M602.4 442.1h0M454.6 444.1h0M595.4 444.0h0M607.9 444.1h0M480.1 445.4h0M638.4 445.8h0M464.2 446.2h0M477.0 446.5h0M588.8 446.8h0M596.8 446.1h0M637.3 446.5h0M640.8 447.3h0M445.0 447.8h0M474.8 448.6h0M589.8 448.4h0M479.8 450.2h0M499.4 448.8h0M611.5 450.0h0M620.0 449.1h0M621.7 450.1h0M630.4 449.6h0M456.0 451.6h0M594.6 450.8h0M598.1 450.5h0M620.3 450.5h0M623.3 450.3h0M635.5 451.4h0M477.2 452.9h0M478.1 453.3h0M490.2 453.4h0M632.3 453.4h0M633.5 454.0h0M652.4 453.2h0M490.3 455.7h0M596.0 455.2h0M633.7 455.2h0M643.0 455.6h0M651.8 455.2h0M483.1 456.6h0M652.1 456.7h0M446.6 457.2h0M459.5 457.4h0M631.9 458.1h0M640.8 457.6h0M644.9 457.7h0M454.0 459.1h0M475.8 459.4h0M619.8 459.7h0M655.2 458.7h0M546.4 460.1h0M475.5 462.6h0M484.5 462.0h0M539.0 462.7h0M484.0 462.7h0M547.4 465.2h0M549.7 465.0h0M641.5 465.4h0M542.1 466.3h0M545.3 466.5h0M548.0 466.2h0M478.4 467.4h0M489.6 466.9h0M645.7 467.5h0M654.2 468.9h0M549.5 470.7h0M618.8 470.6h0M639.1 470.1h0M593.5 471.3h0M535.9 473.4h0M589.9 473.5h0M560.7 473.8h0M578.2 475.0h0M627.1 474.0h0M634.3 474.3h0M480.7 475.6h0M488.8 475.4h0M504.2 475.4h0M556.8 476.3h0M577.5 475.7h0M648.8 475.9h0M656.0 475.6h0M551.1 477.9h0M571.2 478.7h0M577.5 478.5h0M627.2 478.7h0M631.3 478.2h0M655.2 479.3h0M538.0 480.6h0M553.0 480.4h0M574.3 480.1h0M580.2 480.3h0M534.2 481.1h0M613.1 480.9h0M649.0 482.9h0M649.7 482.6h0M661.8 482.8h0M486.1 484.2h0M536.9 483.6h0M538.7 483.6h0M656.5 484.5h0M659.2 483.7h0M620.9 486.4h0M582.3 487.8h0M612.2 488.9h0M633.8 487.8h0M504.2 489.4h0M579.9 489.6h0M629.4 489.3h0M654.7 490.8h0M633.1 491.8h0M546.2 493.6h0M548.8 493.7h0M557.5 494.0h0M635.5 494.2h0M651.7 493.7h0M551.7 494.7h0M610.4 494.5h0M591.0 496.4h0M546.3 497.6h0M538.9 501.5h0M565.0 500.3h0M583.9 501.3h0M649.0 500.9h0M496.1 502.5h0M497.3 502.8h0M517.2 502.7h0M608.0 501.6h0M616.2 502.3h0M496.5 504.2h0M507.1 503.9h0M544.8 503.5h0M567.5 503.6h0M602.6 503.4h0M479.4 505.4h0M494.8 504.9h0M517.1 505.3h0M568.7 504.9h0M614.7 504.3h0M631.3 504.4h0M536.6 505.9h0M550.0 506.7h0M574.1 505.7h0M633.0 505.8h0M642.8 506.6h0M515.8 507.3h0M520.9 507.5h0M540.8 507.9h0M565.5 508.2h0M574.5 508.4h0M478.9 509.2h0M503.1 509.5h0M507.3 509.1h0M514.2 508.8h0M530.3 509.6h0M534.6 508.9h0M548.2 509.2h0M563.7 509.1h0M566.2 509.1h0M568.7 508.8h0M572.3 508.5h0M586.4 509.3h0M602.4 508.5h0M512.2 511.1h0M562.2 510.6h0M567.3 509.8h0M609.4 510.0h0M616.0 509.9h0M625.0 509.9h0M486.2 512.3h0M524.2 511.7h0M573.3 511.7h0M599.4 512.2h0M629.0 511.9h0M486.3 513.2h0M492.2 513.3h0M501.6 513.2h0M509.3 512.9h0M518.6 513.5h0M617.5 512.7h0M474.9 515.2h0M482.4 514.2h0M519.3 514.5h0M557.5 514.4h0M567.6 514.5h0M481.5 516.7h0M504.8 516.6h0M548.6 515.8h0M579.2 515.4h0M606.6 516.4h0M470.9 516.7h0M488.0 517.7h0M493.8 518.0h0M505.3 517.9h0M509.4 518.0h0M520.9 518.0h0M477.0 518.9h0M504.1 519.4h0M505.4 519.0h0M509.1 518.5h0M592.9 518.1h0M473.1 519.8h0M493.1 519.8h0M519.0 519.9h0M581.5 520.0h0M599.4 520.4h0M613.7 520.4h0M472.6 521.0h0M475.1 522.3h0M500.3 521.5h0M608.7 522.3h0M483.8 522.6h0M500.3 523.2h0M501.5 522.5h0M530.3 522.6h0M556.8 522.4h0M582.4 523.0h0M601.5 523.5h0M469.8 524.6h0M477.7 525.0h0M490.9 524.3h0M502.2 524.0h0M503.9 525.0h0M513.9 524.3h0M515.5 524.1h0M558.3 524.4h0M600.7 524.9h0M471.5 525.3h0M476.7 525.4h0M513.0 525.8h0M556.8 525.9h0M476.2 527.7h0M491.9 527.4h0M497.8 527.4h0M526.7 527.7h0M557.5 527.3h0M593.8 527.1h0M467.8 529.2h0M469.5 529.2h0M471.2 528.6h0M525.5 529.1h0M501.5 530.4h0M512.5 529.2h0M538.9 530.0h0M549.8 530.4h0M561.7 530.1h0M596.5 529.7h0M488.6 531.9h0M500.1 530.6h0M482.5 532.0h0M499.6 532.2h0M563.2 533.2h0M570.6 532.0h0M492.2 534.0h0M505.3 533.8h0M527.7 534.7h0M530.5 533.4h0M482.4 535.8h0M483.6 535.2h0M486.4 535.0h0M497.8 535.0h0M499.3 535.4h0M521.9 534.8h0M552.5 536.1h0M470.6 536.5h0M478.3 537.4h0M517.5 536.4h0M543.7 536.9h0M546.3 536.7h0M490.1 538.2h0M534.6 538.4h0M546.3 538.2h0M484.9 539.4h0M491.1 540.2h0M492.9 539.2h0M510.5 540.2h0M568.8 539.9h0M577.5 540.1h0M473.6 540.5h0M489.1 541.3h0M492.6 541.1h0M498.1 540.8h0M509.7 541.1h0M609.9 541.1h0M492.6 542.4h0M502.4 543.0h0M624.6 541.9h0M507.6 543.1h0M597.3 543.4h0M491.8 544.5h0M606.5 545.3h0M480.4 545.8h0M490.4 546.8h0M497.4 546.7h0M505.7 546.3h0M538.6 546.2h0M572.9 545.9h0M488.9 548.2h0M505.0 548.3h0M612.7 547.7h0M625.2 548.2h0M505.0 549.6h0M590.9 549.9h0M497.6 550.0h0M542.2 551.2h0M625.6 551.1h0M485.6 551.8h0M486.3 552.8h0M502.8 552.3h0M618.9 551.9h0M633.5 552.7h0M491.4 554.0h0M504.5 552.9h0M496.9 555.0h0M532.0 555.0h0M546.5 555.5h0M569.4 554.3h0M607.4 554.9h0M611.8 555.5h0M617.9 555.1h0M490.1 556.5h0M496.9 556.9h0M533.8 556.0h0M552.6 555.9h0M531.5 557.5h0M552.9 558.2h0M500.8 559.7h0M543.5 558.3h0M544.9 559.0h0M547.3 558.9h0M591.8 559.5h0M527.1 560.6h0M549.9 560.9h0M490.7 562.3h0M505.7 561.8h0M517.3 561.3h0M521.4 561.1h0M531.2 562.0h0M532.5 561.4h0M612.6 561.1h0M490.6 562.5h0M491.7 562.6h0M494.5 563.6h0M520.4 563.4h0M545.1 563.7h0M490.4 564.4h0M525.5 564.9h0M531.1 564.7h0M532.0 563.9h0M553.2 564.6h0M518.6 565.4h0M489.9 567.4h0M513.8 568.0h0M541.8 566.9h0M547.0 567.1h0M513.1 568.8h0M516.7 568.2h0M537.0 569.2h0M537.9 569.7h0M481.6 571.0h0M490.2 572.8h0M523.1 572.2h0M544.8 572.6h0M491.1 574.5h0M501.1 573.9h0M525.4 574.5h0M495.5 575.5h0M499.8 575.3h0M508.3 575.3h0M526.2 575.0h0M523.8 576.8h0M476.5 578.8h0M480.2 578.4h0M503.6 577.8h0M516.2 578.6h0M489.1 579.2h0M500.3 579.3h0M516.9 579.5h0M504.7 580.6h0M532.7 581.6h0M484.3 583.2h0M510.7 582.5h0M524.2 582.8h0M536.8 582.0h0M512.5 584.3h0M501.5 586.0h0M509.7 585.2h0M499.4 586.4h0M517.7 587.4h0M529.5 586.5h0M497.0 587.5h0M506.5 588.8h0M532.1 588.0h0M505.5 589.8h0M525.0 589.9h0M480.9 590.9h0M522.1 590.5h0M514.9 591.7h0M499.4 593.8h0M522.1 596.8h0M495.0 597.2h0M502.6 600.1h0M496.6 601.9h0M508.8 601.4h0M502.7 603.8h0M507.9 602.7h0"/><path stroke="#FCC172" d="M444.7 365.5h0M444.0 368.1h0M449.9 367.6h0M450.9 367.2h0M452.2 367.2h0M452.6 368.8h0M439.0 370.9h0M462.5 373.8h0M450.0 374.9h0M437.6 376.2h0M451.4 376.4h0M457.8 375.7h0M466.9 376.3h0M437.0 377.4h0M454.1 376.8h0M465.9 377.6h0M454.7 379.1h0M436.2 381.8h0M456.7 381.8h0M444.9 382.3h0M447.3 383.1h0M440.6 384.5h0M453.6 384.6h0M461.0 385.5h0M471.2 387.7h0M554.9 387.0h0M563.8 387.2h0M477.0 389.6h0M570.3 389.5h0M458.4 390.9h0M562.7 390.9h0M467.2 393.0h0M449.3 394.1h0M459.6 394.7h0M563.5 393.6h0M458.4 394.9h0M461.0 395.8h0M557.8 395.7h0M453.2 396.4h0M459.7 396.8h0M549.3 397.3h0M557.0 396.5h0M559.0 397.3h0M479.2 397.8h0M574.5 400.5h0M436.1 403.9h0M473.8 403.8h0M486.3 403.5h0M548.8 404.5h0M487.7 405.6h0M559.2 405.4h0M458.8 406.7h0M473.3 406.7h0M552.9 406.2h0M615.0 407.3h0M435.4 408.3h0M483.2 408.6h0M491.3 409.9h0M547.9 409.7h0M484.2 410.1h0M552.8 411.4h0M457.7 412.6h0M476.9 411.8h0M551.5 411.7h0M559.1 412.6h0M630.5 412.4h0M470.6 413.1h0M472.3 413.0h0M487.0 412.8h0M554.7 413.8h0M599.7 414.0h0M606.2 413.1h0M621.5 413.5h0M630.1 413.4h0M436.5 414.7h0M438.9 414.8h0M483.8 414.8h0M602.3 415.5h0M614.0 414.6h0M617.4 414.6h0M620.0 415.5h0M465.3 415.7h0M554.5 415.9h0M546.6 417.4h0M468.8 418.4h0M474.7 418.4h0M479.8 419.7h0M547.7 418.4h0M594.3 419.2h0M460.9 420.1h0M495.1 420.2h0M553.2 420.6h0M576.2 419.8h0M610.8 420.0h0M623.2 420.1h0M628.3 419.9h0M469.3 421.7h0M552.9 421.3h0M587.6 421.8h0M605.8 422.0h0M615.4 421.5h0M633.9 421.1h0M441.6 423.0h0M450.1 423.2h0M482.5 423.7h0M603.9 423.3h0M611.4 423.7h0M631.7 422.5h0M633.6 423.1h0M475.2 424.9h0M477.6 425.0h0M486.5 425.0h0M479.2 425.8h0M523.8 426.1h0M609.9 425.3h0M620.2 426.1h0M445.1 426.8h0M636.8 426.9h0M638.6 427.6h0M440.5 428.3h0M460.6 429.3h0M556.2 429.4h0M600.0 428.4h0M449.0 429.7h0M603.8 430.1h0M605.5 430.6h0M563.2 432.0h0M580.9 431.3h0M623.8 431.9h0M452.9 433.0h0M641.2 433.6h0M450.9 435.2h0M596.8 436.1h0M609.5 435.5h0M626.6 435.0h0M646.2 436.2h0M442.4 436.9h0M451.9 437.7h0M481.7 439.1h0M615.8 440.3h0M447.5 440.6h0M462.2 440.8h0M475.0 441.9h0M640.3 441.9h0M486.9 442.9h0M634.8 443.3h0M644.9 442.4h0M630.1 444.2h0M442.7 445.3h0M456.9 445.4h0M481.3 445.0h0M597.5 446.0h0M619.7 444.8h0M629.4 445.2h0M637.1 445.5h0M646.2 445.2h0M447.0 446.7h0M453.6 446.5h0M460.8 447.2h0M474.6 446.5h0M494.2 446.9h0M586.5 446.0h0M594.9 446.6h0M623.9 446.6h0M633.6 447.0h0M649.7 446.8h0M449.3 448.7h0M649.6 448.3h0M454.9 448.8h0M479.1 449.9h0M603.8 449.3h0M639.7 449.2h0M652.0 448.9h0M463.2 451.0h0M473.0 450.2h0M633.5 450.9h0M650.5 451.0h0M638.4 452.7h0M473.8 454.2h0M493.4 454.1h0M584.9 454.1h0M626.8 453.5h0M452.6 456.4h0M456.0 455.8h0M599.5 456.4h0M643.8 456.2h0M647.4 456.5h0M539.7 457.7h0M541.6 458.4h0M619.7 458.0h0M638.8 458.5h0M651.1 457.2h0M474.8 459.8h0M648.3 459.0h0M612.7 461.2h0M486.3 462.1h0M550.2 462.2h0M649.3 462.2h0M659.1 463.1h0M489.4 464.9h0M575.3 464.3h0M634.4 464.4h0M484.6 465.8h0M540.9 466.2h0M565.1 466.0h0M647.8 465.8h0M503.7 466.9h0M538.5 467.1h0M539.8 467.5h0M543.1 468.1h0M557.1 468.2h0M574.2 468.0h0M534.7 468.7h0M563.6 469.0h0M620.0 469.2h0M640.5 468.7h0M543.5 469.8h0M538.3 471.0h0M660.2 471.8h0M570.5 473.8h0M655.5 472.7h0M660.0 473.8h0M618.6 474.2h0M623.5 474.0h0M624.2 475.0h0M626.1 474.2h0M660.1 474.5h0M628.4 475.4h0M661.1 476.3h0M542.4 478.0h0M553.8 476.9h0M650.2 477.6h0M660.0 476.9h0M540.8 477.9h0M623.6 478.8h0M625.6 478.7h0M539.7 480.2h0M544.2 479.7h0M638.7 480.5h0M537.1 481.3h0M547.1 481.0h0M584.2 482.7h0M635.0 482.4h0M551.0 486.0h0M571.0 486.2h0M630.4 486.1h0M650.0 485.7h0M660.7 486.0h0M534.1 486.4h0M648.9 487.4h0M655.0 487.7h0M662.2 486.3h0M544.3 488.5h0M646.9 488.3h0M657.7 488.8h0M536.0 490.1h0M557.3 495.5h0M618.8 495.9h0M639.0 495.8h0M659.0 495.9h0M546.6 496.8h0M576.3 496.7h0M633.8 496.0h0M648.1 496.0h0M538.2 497.9h0M547.9 498.4h0M536.1 499.4h0M538.0 499.7h0M609.0 498.9h0M645.0 499.2h0M645.7 500.8h0M501.4 502.3h0M561.5 502.0h0M569.7 501.8h0M489.3 503.7h0M494.7 502.9h0M513.8 503.2h0M628.2 503.0h0M505.7 505.3h0M511.8 505.2h0M548.6 505.4h0M579.4 504.8h0M593.4 504.4h0M625.7 505.2h0M478.9 506.6h0M490.1 505.7h0M497.8 506.1h0M499.0 505.9h0M513.4 506.9h0M516.4 506.6h0M570.8 506.8h0M599.7 506.1h0M509.0 508.0h0M524.8 508.4h0M556.6 507.4h0M624.3 508.1h0M491.2 508.9h0M545.7 509.1h0M550.3 509.7h0M567.8 508.9h0M630.6 508.7h0M632.6 508.6h0M639.7 508.5h0M478.8 511.2h0M576.4 509.8h0M480.7 511.3h0M492.9 512.0h0M494.5 511.6h0M498.6 511.8h0M519.7 511.4h0M485.7 513.1h0M507.1 513.0h0M541.0 513.0h0M562.4 513.0h0M614.4 513.7h0M476.6 514.8h0M478.4 514.0h0M479.1 514.3h0M487.2 514.9h0M490.3 514.9h0M508.3 514.1h0M569.1 514.6h0M596.6 514.0h0M492.7 515.7h0M498.9 515.9h0M567.9 516.1h0M482.5 517.8h0M496.6 517.8h0M502.1 518.0h0M503.6 518.0h0M511.6 517.6h0M532.3 517.9h0M533.4 517.6h0M545.9 516.8h0M568.1 517.6h0M595.0 517.5h0M607.5 518.3h0M496.2 519.7h0M501.5 520.8h0M526.5 519.7h0M607.4 520.8h0M481.1 521.8h0M491.9 521.6h0M522.7 522.0h0M542.3 522.0h0M549.4 521.8h0M482.5 522.5h0M493.6 523.5h0M503.2 523.1h0M520.1 522.2h0M551.0 523.3h0M480.9 523.9h0M487.4 524.0h0M494.6 524.1h0M606.1 524.2h0M469.6 526.3h0M491.9 525.3h0M494.1 525.8h0M525.5 525.7h0M597.8 525.0h0M602.1 525.3h0M479.9 527.5h0M490.1 527.6h0M534.6 527.5h0M538.7 527.7h0M574.2 527.1h0M497.0 528.1h0M504.2 528.7h0M533.3 528.6h0M471.2 530.3h0M492.6 530.1h0M498.2 530.1h0M507.6 530.2h0M488.1 530.6h0M508.6 530.6h0M537.0 531.1h0M557.4 530.7h0M591.5 530.7h0M600.0 531.5h0M606.5 530.7h0M471.4 532.6h0M480.0 532.2h0M483.2 533.4h0M492.1 532.9h0M506.2 532.0h0M508.9 533.3h0M590.1 533.1h0M629.2 533.3h0M480.6 533.9h0M588.3 534.5h0M475.2 535.2h0M511.0 536.1h0M538.0 535.8h0M583.9 536.0h0M473.4 537.0h0M475.4 537.0h0M486.6 536.3h0M494.9 536.2h0M474.2 538.8h0M475.0 538.3h0M487.1 537.8h0M496.3 537.5h0M544.5 538.4h0M587.4 538.7h0M483.4 539.8h0M498.6 539.7h0M579.4 540.3h0M621.8 539.1h0M483.4 540.6h0M495.0 541.0h0M567.2 540.6h0M575.6 542.3h0M485.6 544.3h0M489.3 543.1h0M537.6 543.5h0M561.4 543.4h0M478.5 545.4h0M489.4 544.5h0M632.6 545.7h0M487.2 546.1h0M541.6 547.3h0M491.6 550.0h0M598.7 549.1h0M620.9 549.3h0M619.0 550.2h0M633.9 550.8h0M634.2 550.5h0M490.9 552.5h0M552.1 552.0h0M516.2 554.0h0M549.4 553.4h0M585.3 553.2h0M589.0 553.0h0M620.5 553.5h0M491.0 555.3h0M535.2 554.3h0M543.5 554.2h0M558.1 554.8h0M567.0 554.9h0M488.1 556.4h0M501.3 556.9h0M532.5 557.5h0M567.4 557.1h0M607.1 558.3h0M529.3 558.4h0M538.9 559.1h0M560.1 558.7h0M587.9 559.3h0M493.8 561.0h0M498.9 560.8h0M504.6 560.7h0M505.5 560.8h0M533.5 560.9h0M552.3 560.5h0M564.5 560.5h0M623.0 560.4h0M507.2 562.1h0M512.6 561.7h0M524.1 562.3h0M500.2 563.0h0M548.8 562.4h0M489.5 565.1h0M539.5 564.9h0M494.1 565.7h0M507.1 565.3h0M539.5 565.3h0M541.8 565.3h0M548.1 565.5h0M521.8 566.8h0M522.3 566.9h0M531.8 567.6h0M545.5 567.1h0M484.6 568.2h0M489.9 569.1h0M491.9 568.8h0M502.1 568.1h0M531.1 568.8h0M486.2 569.6h0M500.8 570.7h0M536.1 569.7h0M538.7 569.8h0M487.8 571.7h0M491.3 571.5h0M499.6 571.0h0M521.5 572.0h0M526.1 572.1h0M531.0 571.6h0M500.4 572.5h0M524.6 572.8h0M528.9 573.3h0M531.2 572.7h0M536.2 573.6h0M507.3 574.9h0M536.7 573.9h0M506.9 575.1h0M516.9 575.2h0M499.4 576.8h0M507.7 577.2h0M499.4 578.3h0M519.1 578.3h0M534.5 580.1h0M499.9 580.7h0M512.2 580.7h0M513.1 581.1h0M528.0 580.5h0M496.8 582.8h0M497.5 582.4h0M514.7 582.1h0M524.5 582.0h0M517.3 583.2h0M484.7 584.8h0M523.2 585.4h0M492.2 586.5h0M494.1 586.5h0M511.6 586.8h0M525.2 587.8h0M522.9 589.6h0M529.5 589.7h0M497.7 591.8h0M517.3 592.6h0M505.2 595.2h0M517.5 595.3h0M519.0 594.5h0M510.6 596.5h0M513.9 599.5h0M495.0 603.3h0M506.2 603.3h0"/><path stroke="#FCAA60" d="M441.5 368.2h0M453.8 367.4h0M445.9 368.5h0M448.9 369.4h0M452.1 368.5h0M461.4 372.1h0M445.5 373.7h0M446.8 374.0h0M455.4 374.8h0M457.8 375.3h0M462.7 374.8h0M443.3 375.5h0M449.2 376.8h0M464.6 376.8h0M459.8 377.0h0M449.8 379.0h0M463.2 379.5h0M449.0 380.6h0M451.0 379.6h0M455.3 380.0h0M438.4 382.2h0M466.3 383.2h0M450.6 383.8h0M442.3 386.0h0M444.2 385.3h0M451.9 385.7h0M438.5 387.3h0M445.4 388.4h0M448.1 388.1h0M467.0 388.8h0M459.3 390.5h0M475.5 390.7h0M574.6 391.4h0M439.3 392.4h0M447.3 392.5h0M442.5 394.4h0M443.2 393.7h0M469.2 393.6h0M465.5 395.5h0M567.8 395.8h0M456.7 396.6h0M463.3 397.4h0M481.7 396.4h0M555.3 396.7h0M438.6 398.9h0M455.6 397.9h0M554.1 397.7h0M444.8 399.8h0M450.5 399.7h0M451.1 400.0h0M479.8 399.9h0M561.8 400.5h0M571.0 400.9h0M459.8 402.8h0M547.9 402.6h0M566.8 402.9h0M440.9 404.5h0M436.4 406.1h0M554.4 406.9h0M559.8 406.2h0M564.3 407.0h0M464.5 408.5h0M476.5 407.4h0M564.3 407.9h0M628.6 407.4h0M476.2 409.2h0M479.9 409.2h0M489.9 409.4h0M555.5 409.5h0M556.8 409.5h0M563.0 409.4h0M602.1 409.8h0M622.4 409.6h0M435.0 410.5h0M487.3 410.2h0M605.2 410.1h0M623.2 410.9h0M625.9 411.2h0M484.2 412.6h0M492.4 412.2h0M571.9 412.6h0M605.6 411.5h0M608.9 411.8h0M612.3 412.3h0M436.9 413.8h0M575.9 412.8h0M610.5 413.8h0M622.3 413.3h0M477.5 414.4h0M480.9 415.0h0M554.3 414.5h0M599.1 414.5h0M480.6 416.0h0M482.9 416.0h0M491.5 416.1h0M611.8 415.6h0M623.8 416.2h0M469.1 418.3h0M481.2 418.3h0M493.7 417.7h0M549.9 417.0h0M619.9 418.4h0M629.7 418.3h0M616.7 418.7h0M471.3 420.8h0M550.2 420.5h0M608.9 420.1h0M625.4 420.6h0M629.7 420.2h0M633.4 420.5h0M636.8 420.6h0M438.4 421.6h0M480.1 421.9h0M609.0 421.2h0M620.6 422.5h0M477.8 422.9h0M635.3 423.6h0M447.2 424.1h0M474.9 425.8h0M616.7 425.7h0M630.5 426.1h0M440.0 427.2h0M556.2 427.8h0M559.0 427.6h0M578.4 427.3h0M583.0 427.1h0M617.0 427.8h0M447.6 429.1h0M583.6 429.2h0M584.9 428.4h0M621.6 429.2h0M626.2 428.2h0M631.1 428.3h0M518.8 429.8h0M581.4 430.9h0M441.7 432.2h0M454.4 433.1h0M590.8 433.0h0M623.4 432.4h0M622.4 434.9h0M638.2 434.8h0M471.4 435.6h0M492.8 435.4h0M592.3 435.7h0M603.7 435.5h0M615.9 435.2h0M633.6 435.0h0M637.7 435.4h0M450.6 437.5h0M588.4 437.5h0M599.6 437.1h0M641.3 438.1h0M456.5 439.3h0M475.5 439.8h0M488.6 439.7h0M603.4 439.8h0M644.8 439.2h0M608.6 441.7h0M623.1 441.3h0M631.2 441.6h0M443.9 444.7h0M461.4 446.0h0M603.2 447.0h0M446.9 448.6h0M604.5 447.7h0M627.2 448.6h0M445.7 449.0h0M459.4 449.9h0M475.6 450.1h0M596.8 449.8h0M648.5 449.1h0M448.2 451.3h0M449.0 451.1h0M481.8 450.4h0M644.8 451.5h0M454.4 452.5h0M479.0 452.3h0M634.4 452.8h0M447.5 453.1h0M458.1 454.3h0M591.8 453.4h0M602.2 454.0h0M644.3 453.1h0M460.6 454.8h0M462.2 454.5h0M638.9 455.4h0M448.8 457.0h0M448.9 457.9h0M480.3 458.0h0M601.3 457.4h0M448.0 458.7h0M546.8 459.7h0M586.8 459.0h0M616.0 459.0h0M617.3 459.9h0M645.5 458.8h0M649.6 458.6h0M460.3 460.7h0M483.6 460.0h0M611.5 460.7h0M454.0 461.7h0M539.9 461.3h0M548.9 461.5h0M575.2 461.8h0M658.8 461.9h0M539.3 463.8h0M546.3 463.8h0M656.4 464.1h0M538.4 466.6h0M549.9 466.2h0M643.2 466.6h0M590.6 466.9h0M649.9 468.0h0M659.2 467.9h0M480.3 468.8h0M541.1 469.5h0M542.6 470.7h0M657.5 470.4h0M545.3 471.3h0M547.2 471.0h0M571.8 471.9h0M479.9 474.0h0M573.6 476.1h0M544.4 477.1h0M548.9 477.0h0M555.2 477.6h0M565.8 476.7h0M642.2 477.9h0M651.8 477.5h0M653.5 477.4h0M661.5 477.0h0M535.6 477.9h0M537.7 478.7h0M538.2 478.0h0M553.9 479.1h0M658.2 478.5h0M662.3 478.5h0M558.7 479.4h0M551.1 481.6h0M553.3 482.1h0M621.0 481.3h0M621.6 482.0h0M483.6 482.9h0M552.8 485.2h0M611.6 485.5h0M620.2 486.2h0M625.3 485.9h0M545.8 487.0h0M502.1 488.6h0M541.7 488.8h0M655.5 488.2h0M536.8 489.2h0M538.8 489.4h0M659.3 489.7h0M540.3 490.6h0M636.1 491.7h0M640.5 490.9h0M491.2 493.1h0M542.1 491.8h0M545.2 493.0h0M548.8 492.3h0M557.1 493.0h0M648.1 491.8h0M654.3 492.4h0M547.4 493.7h0M607.3 494.1h0M643.4 493.7h0M546.4 495.8h0M550.7 495.0h0M553.8 495.3h0M626.6 495.9h0M570.0 496.7h0M630.6 497.1h0M489.7 500.0h0M540.2 499.0h0M550.4 498.8h0M554.9 499.9h0M556.8 499.2h0M562.2 498.9h0M611.6 498.8h0M620.2 499.6h0M545.3 500.1h0M562.2 501.0h0M566.0 500.6h0M567.3 500.4h0M618.1 501.1h0M540.6 501.6h0M547.3 502.0h0M556.8 502.9h0M580.1 502.1h0M486.3 504.2h0M542.2 503.7h0M564.8 502.9h0M573.8 503.7h0M615.0 504.2h0M633.9 504.2h0M498.2 504.5h0M511.2 505.5h0M515.4 505.1h0M572.7 505.0h0M577.0 504.4h0M486.0 506.2h0M548.0 507.0h0M556.3 506.7h0M573.0 506.5h0M495.8 507.4h0M499.5 507.2h0M512.9 507.9h0M528.5 508.0h0M567.0 507.0h0M620.8 507.5h0M496.6 509.2h0M498.4 509.2h0M505.5 508.6h0M523.3 509.4h0M575.9 509.1h0M475.7 510.5h0M482.6 509.8h0M494.8 510.9h0M504.9 511.0h0M539.9 510.5h0M527.0 512.3h0M591.2 511.4h0M511.1 513.3h0M512.2 513.5h0M574.3 513.0h0M485.7 514.2h0M489.6 514.4h0M545.0 515.1h0M621.8 515.3h0M470.6 515.9h0M476.5 516.7h0M486.9 515.7h0M496.0 516.0h0M513.3 515.7h0M473.6 517.6h0M495.7 517.3h0M612.4 517.5h0M476.1 519.4h0M479.4 518.4h0M496.2 518.8h0M523.0 519.2h0M585.7 519.4h0M605.7 518.5h0M610.2 518.2h0M623.3 518.8h0M530.4 520.4h0M467.9 521.8h0M490.2 521.1h0M498.1 522.0h0M538.9 521.0h0M561.6 521.7h0M471.4 523.5h0M520.7 522.5h0M489.6 523.7h0M507.8 523.8h0M495.3 527.6h0M501.2 526.8h0M503.0 527.7h0M504.0 527.6h0M508.1 526.4h0M525.6 527.6h0M490.6 527.8h0M531.1 528.3h0M575.8 528.9h0M581.9 528.9h0M468.2 530.0h0M518.3 529.3h0M534.1 529.2h0M615.8 529.6h0M474.3 531.0h0M481.1 531.7h0M611.2 530.9h0M571.7 532.3h0M584.2 532.9h0M593.6 532.2h0M520.9 533.6h0M501.2 535.2h0M508.0 535.0h0M545.5 535.3h0M491.1 536.5h0M511.2 538.8h0M530.5 538.0h0M478.9 539.0h0M496.6 540.0h0M590.9 540.1h0M611.5 539.5h0M484.8 540.4h0M607.9 541.8h0M479.3 543.6h0M483.2 543.9h0M495.7 544.0h0M480.2 545.0h0M495.5 545.8h0M615.8 545.4h0M619.8 544.7h0M485.5 547.1h0M584.2 545.9h0M496.8 547.8h0M482.1 550.7h0M577.1 550.7h0M624.2 551.3h0M488.7 551.8h0M495.3 551.4h0M498.6 551.4h0M576.2 551.4h0M496.7 553.4h0M541.0 553.5h0M579.2 553.9h0M499.9 554.7h0M509.6 554.3h0M494.6 556.6h0M495.2 555.8h0M603.7 557.0h0M527.3 558.6h0M540.4 559.1h0M618.9 558.3h0M495.3 560.5h0M501.6 560.0h0M509.8 560.2h0M510.7 559.9h0M542.9 560.7h0M493.4 561.1h0M515.3 561.1h0M540.5 561.9h0M543.3 562.0h0M554.6 561.2h0M505.9 563.9h0M508.7 562.6h0M516.9 563.2h0M509.6 564.1h0M514.7 564.0h0M523.2 564.9h0M535.6 564.4h0M497.4 566.3h0M538.2 566.1h0M544.2 565.6h0M482.7 566.8h0M490.3 567.7h0M495.3 567.2h0M540.1 567.9h0M507.4 568.4h0M526.4 570.4h0M523.6 570.9h0M536.7 571.2h0M477.9 574.6h0M495.1 573.6h0M505.4 574.8h0M512.5 574.6h0M523.9 574.7h0M535.4 574.2h0M496.7 575.6h0M518.6 575.7h0M530.8 575.0h0M480.7 577.6h0M490.7 577.9h0M507.8 578.9h0M492.1 579.2h0M495.0 580.0h0M502.5 579.2h0M525.1 579.8h0M494.6 580.6h0M493.2 581.9h0M530.3 583.2h0M477.5 583.9h0M511.5 583.4h0M526.3 583.9h0M479.0 585.7h0M488.7 584.6h0M494.8 585.4h0M512.9 584.9h0M529.0 585.7h0M534.4 585.8h0M509.5 586.6h0M532.4 587.0h0M494.9 587.7h0M498.3 588.0h0M508.8 588.4h0M496.0 588.9h0M526.0 590.1h0M500.6 591.7h0M503.2 594.3h0M512.5 593.6h0M494.7 594.4h0M498.0 596.9h0M505.0 597.7h0M500.8 601.4h0M504.6 601.9h0M506.4 602.2h0M498.5 604.1h0"/><path stroke="#F79053" d="M455.2 367.6h0M440.7 370.4h0M454.1 373.8h0M457.6 372.6h0M452.6 374.6h0M445.3 377.3h0M450.1 376.9h0M467.6 381.0h0M460.0 381.9h0M459.8 383.4h0M439.7 388.7h0M444.1 389.0h0M443.2 391.3h0M468.5 393.0h0M444.6 393.8h0M574.5 394.5h0M450.2 394.8h0M453.1 396.0h0M472.6 396.1h0M467.8 396.2h0M463.4 398.3h0M476.3 400.3h0M479.1 399.8h0M555.3 399.7h0M570.9 399.9h0M481.7 400.6h0M444.6 401.7h0M472.5 402.0h0M613.5 403.2h0M456.0 406.9h0M466.7 406.3h0M603.1 406.7h0M617.0 406.9h0M489.9 408.3h0M551.1 407.5h0M610.0 408.4h0M487.1 409.0h0M615.0 409.5h0M625.4 409.6h0M476.3 411.3h0M629.0 410.8h0M466.3 411.8h0M472.9 412.4h0M493.5 411.7h0M555.0 412.3h0M566.4 411.5h0M608.1 411.7h0M617.6 412.5h0M488.2 413.7h0M566.7 413.1h0M612.2 414.0h0M614.5 412.9h0M627.4 413.0h0M487.9 414.3h0M546.9 415.5h0M570.8 414.9h0M626.6 415.3h0M631.9 414.6h0M566.8 416.6h0M613.1 416.8h0M627.6 415.6h0M636.8 416.6h0M479.2 418.1h0M608.9 417.2h0M624.2 418.3h0M632.1 417.1h0M445.7 418.4h0M465.6 419.5h0M608.9 419.4h0M618.5 418.6h0M626.5 419.5h0M444.7 420.5h0M480.1 420.6h0M619.9 420.2h0M475.7 421.4h0M481.9 421.2h0M493.8 421.1h0M597.9 421.8h0M603.4 421.4h0M607.3 421.7h0M625.4 421.8h0M637.8 422.0h0M470.9 422.7h0M486.4 423.3h0M487.4 423.1h0M491.0 423.6h0M583.1 423.9h0M615.0 423.3h0M617.6 423.8h0M619.3 423.2h0M445.4 425.2h0M482.7 425.1h0M576.9 424.9h0M609.1 424.8h0M619.0 424.9h0M634.5 425.3h0M470.9 425.2h0M484.8 426.3h0M607.0 426.6h0M612.4 425.3h0M618.1 425.7h0M479.1 427.9h0M576.8 427.9h0M579.2 428.0h0M584.6 426.8h0M621.6 427.6h0M452.7 429.1h0M465.7 428.6h0M484.9 428.2h0M642.4 428.1h0M442.7 429.8h0M515.9 430.0h0M631.3 429.8h0M632.5 429.6h0M441.4 432.0h0M475.0 431.1h0M516.1 432.1h0M590.0 431.4h0M599.8 431.1h0M600.5 432.2h0M629.6 433.2h0M487.9 435.6h0M608.8 437.2h0M642.4 437.6h0M472.5 438.7h0M483.3 439.1h0M609.0 438.6h0M631.1 439.1h0M632.2 438.1h0M622.5 439.1h0M624.6 439.5h0M454.9 441.6h0M632.9 441.8h0M614.6 442.7h0M493.6 443.5h0M453.8 445.1h0M459.0 445.7h0M478.3 445.9h0M488.1 446.0h0M590.9 445.8h0M632.6 445.1h0M450.1 446.1h0M454.1 447.1h0M463.5 446.4h0M489.8 446.2h0M648.5 447.0h0M607.6 448.2h0M628.0 448.8h0M652.3 448.2h0M443.6 449.2h0M471.0 449.5h0M644.0 450.0h0M482.2 450.7h0M450.0 452.5h0M458.4 452.4h0M609.8 453.0h0M628.5 452.1h0M452.8 454.0h0M476.7 453.2h0M646.2 454.0h0M653.9 454.0h0M585.5 455.4h0M653.4 454.4h0M450.1 456.4h0M543.3 456.2h0M654.3 455.8h0M450.4 459.7h0M455.0 459.6h0M639.3 459.3h0M657.8 459.6h0M538.2 460.1h0M621.6 460.5h0M641.8 460.5h0M478.2 461.9h0M646.3 462.0h0M544.2 465.4h0M571.5 464.1h0M578.1 465.0h0M652.9 464.7h0M539.2 466.6h0M618.7 466.5h0M657.0 466.7h0M549.8 468.2h0M648.0 467.0h0M542.2 468.4h0M547.1 469.2h0M552.9 468.3h0M618.5 469.0h0M539.9 469.6h0M545.9 470.6h0M548.5 469.7h0M566.2 470.8h0M574.9 470.4h0M483.2 472.0h0M539.6 471.6h0M544.9 472.2h0M550.8 471.6h0M557.1 472.4h0M482.7 472.4h0M539.2 473.1h0M543.2 473.6h0M549.0 472.6h0M562.5 474.5h0M548.9 475.3h0M563.7 476.3h0M575.4 477.0h0M635.1 476.7h0M534.4 478.4h0M548.8 480.2h0M557.6 479.4h0M649.4 479.9h0M557.0 481.1h0M558.2 480.7h0M651.9 481.4h0M535.4 483.2h0M551.2 482.7h0M557.3 482.6h0M546.9 484.2h0M554.9 484.8h0M624.6 484.7h0M557.8 487.3h0M549.0 487.8h0M546.3 491.3h0M549.3 491.4h0M551.0 492.7h0M553.9 492.5h0M615.1 492.3h0M569.8 495.9h0M536.5 496.1h0M539.0 496.6h0M555.3 496.0h0M613.3 496.5h0M658.2 496.3h0M543.8 498.2h0M561.9 497.9h0M564.5 498.1h0M571.8 498.9h0M537.1 500.7h0M569.3 501.5h0M574.2 501.3h0M591.2 500.8h0M505.8 501.8h0M550.7 502.6h0M563.8 501.6h0M486.9 504.0h0M495.0 503.2h0M514.9 504.1h0M515.9 504.2h0M543.2 503.5h0M549.9 503.7h0M556.3 503.1h0M493.9 504.9h0M545.8 504.7h0M494.7 505.8h0M544.9 505.7h0M547.4 505.7h0M560.8 506.4h0M482.5 507.7h0M558.4 507.2h0M572.7 507.7h0M477.0 509.7h0M555.1 508.8h0M570.5 511.0h0M483.5 512.3h0M500.7 511.7h0M562.4 512.2h0M472.2 513.6h0M478.5 512.9h0M488.0 513.2h0M504.0 513.0h0M558.9 513.5h0M589.9 514.0h0M484.4 515.0h0M559.7 514.1h0M573.5 515.3h0M488.8 516.2h0M490.6 515.6h0M523.2 515.4h0M541.7 516.6h0M620.8 516.1h0M529.0 517.7h0M468.5 519.3h0M485.2 518.7h0M501.0 519.4h0M513.4 518.3h0M540.7 520.7h0M623.5 520.4h0M503.2 521.8h0M534.3 521.2h0M479.8 522.5h0M514.5 523.2h0M540.3 523.2h0M470.1 524.6h0M505.8 523.7h0M550.6 523.9h0M533.9 526.1h0M569.6 525.2h0M621.6 525.7h0M485.1 527.7h0M624.1 526.6h0M475.8 529.0h0M479.2 528.0h0M481.2 528.1h0M486.4 528.7h0M477.7 530.2h0M483.1 530.6h0M569.0 529.2h0M585.9 529.6h0M493.9 531.5h0M531.2 530.9h0M474.9 533.0h0M516.2 532.5h0M565.3 532.3h0M489.1 534.7h0M494.6 533.4h0M492.5 535.1h0M505.7 535.6h0M582.4 536.0h0M489.3 537.5h0M505.2 537.2h0M531.9 537.1h0M485.0 537.9h0M509.7 538.9h0M542.4 538.2h0M568.8 537.5h0M509.1 538.9h0M550.3 539.7h0M479.2 540.8h0M504.6 541.9h0M477.9 543.3h0M492.8 544.3h0M494.2 544.1h0M554.5 544.4h0M619.8 543.2h0M494.5 544.9h0M501.6 546.6h0M492.2 547.9h0M483.2 548.7h0M505.5 549.3h0M550.4 550.8h0M496.6 551.4h0M499.5 551.9h0M609.4 553.4h0M631.0 553.8h0M495.2 555.3h0M531.1 556.4h0M544.1 556.3h0M618.6 555.7h0M491.2 557.6h0M526.7 557.6h0M608.1 557.8h0M496.7 559.1h0M564.4 558.8h0M529.7 559.8h0M536.4 560.5h0M498.1 561.9h0M508.5 561.3h0M509.7 561.6h0M534.9 562.5h0M504.5 563.6h0M530.6 562.8h0M538.9 562.6h0M499.4 564.2h0M506.5 564.3h0M529.9 564.5h0M488.4 565.6h0M487.8 567.6h0M543.1 567.5h0M530.4 568.5h0M533.2 569.2h0M534.9 568.6h0M484.4 569.6h0M488.8 569.8h0M490.4 570.5h0M495.2 570.6h0M487.3 572.2h0M542.7 571.9h0M494.0 573.3h0M510.0 573.0h0M526.1 572.4h0M540.0 572.2h0M538.4 574.5h0M492.1 577.0h0M498.2 576.7h0M539.0 576.4h0M482.9 578.7h0M484.0 577.8h0M488.9 578.6h0M530.8 578.5h0M481.5 579.2h0M483.2 579.3h0M521.9 579.7h0M483.0 584.1h0M486.2 583.3h0M495.2 584.5h0M505.2 583.9h0M514.7 583.3h0M534.7 583.6h0M493.5 585.6h0M497.6 585.3h0M504.3 585.7h0M488.8 587.3h0M490.5 587.2h0M505.8 586.1h0M525.7 586.9h0M491.6 587.5h0M500.0 587.8h0M504.3 590.1h0M514.3 589.1h0M505.0 590.6h0M503.9 591.7h0M490.4 593.3h0M497.8 593.2h0M508.0 594.2h0M509.1 593.7h0M517.6 593.2h0M488.5 594.8h0M495.9 595.7h0M503.0 594.9h0M499.3 596.1h0M505.5 596.5h0M508.6 596.7h0M500.8 599.0h0M506.0 598.9h0M498.0 602.6h0M510.7 602.8h0"/><path stroke="#F27548" d="M445.6 366.3h0M450.5 368.8h0M450.4 370.4h0M437.0 374.7h0M464.8 374.7h0M439.4 375.8h0M461.0 375.7h0M452.7 377.1h0M457.1 377.0h0M450.7 379.0h0M459.1 381.2h0M464.7 383.4h0M437.9 383.9h0M558.3 385.9h0M455.4 387.2h0M556.1 388.4h0M570.4 387.9h0M559.5 390.4h0M573.8 391.2h0M448.8 392.8h0M470.2 392.8h0M551.5 394.6h0M470.6 397.0h0M563.0 396.5h0M566.8 397.5h0M567.6 398.5h0M444.2 400.2h0M458.3 400.4h0M560.5 402.9h0M466.4 403.3h0M478.7 404.4h0M559.7 404.0h0M455.7 404.6h0M460.7 405.3h0M490.2 405.8h0M550.6 405.3h0M616.5 404.5h0M624.3 404.6h0M478.5 407.1h0M558.5 407.0h0M619.7 406.6h0M624.5 406.1h0M471.3 408.4h0M480.2 408.6h0M552.3 408.6h0M557.1 408.4h0M616.8 407.3h0M622.1 408.2h0M626.6 408.4h0M563.9 409.4h0M568.3 409.1h0M609.3 409.4h0M446.5 410.3h0M545.8 410.1h0M550.2 410.4h0M565.7 410.3h0M575.9 411.2h0M606.8 411.0h0M465.1 412.7h0M614.2 412.0h0M622.6 412.3h0M623.4 412.3h0M628.7 413.1h0M545.7 414.6h0M635.3 415.0h0M636.0 415.4h0M485.2 416.8h0M577.4 416.4h0M449.6 417.0h0M485.3 418.2h0M491.3 418.2h0M580.2 417.5h0M617.4 417.4h0M449.0 419.1h0M484.6 418.7h0M488.7 419.5h0M607.2 419.8h0M613.9 419.6h0M621.8 419.7h0M630.2 419.7h0M637.4 418.6h0M477.7 420.3h0M473.0 421.7h0M554.5 422.0h0M611.3 421.3h0M636.0 421.8h0M639.5 422.6h0M483.3 425.8h0M484.5 427.5h0M640.0 428.5h0M447.0 430.6h0M452.6 430.4h0M483.7 430.4h0M639.9 431.2h0M445.8 434.8h0M470.7 433.8h0M491.2 434.6h0M578.1 434.3h0M444.1 436.2h0M445.1 435.4h0M614.5 439.0h0M618.3 438.8h0M458.8 440.0h0M487.8 439.4h0M614.4 440.4h0M482.7 441.6h0M605.7 441.3h0M613.3 441.2h0M605.5 443.5h0M649.7 444.0h0M445.3 446.0h0M451.0 445.2h0M599.0 445.2h0M456.3 447.0h0M458.7 447.6h0M472.7 448.4h0M480.8 447.5h0M488.3 448.0h0M460.9 449.5h0M462.4 449.5h0M450.2 450.9h0M627.4 451.3h0M488.0 452.1h0M600.3 452.9h0M446.3 455.0h0M475.3 455.7h0M461.1 456.8h0M463.5 456.2h0M450.0 457.9h0M475.8 457.5h0M480.0 458.7h0M618.9 459.2h0M652.1 458.6h0M542.4 460.0h0M537.1 461.8h0M647.6 461.4h0M536.1 462.9h0M538.5 463.4h0M577.5 463.1h0M646.6 463.8h0M485.5 465.4h0M537.6 464.6h0M539.1 465.3h0M552.3 464.8h0M637.8 464.9h0M657.4 464.3h0M487.9 466.5h0M476.8 467.5h0M545.7 467.1h0M624.7 467.8h0M637.5 467.9h0M642.5 467.8h0M651.7 467.8h0M655.0 467.2h0M580.5 468.4h0M613.3 468.5h0M482.2 470.8h0M551.7 471.0h0M553.2 470.3h0M567.5 470.2h0M565.6 472.3h0M550.1 473.5h0M647.7 472.7h0M659.1 473.0h0M534.6 473.8h0M539.9 474.2h0M543.4 474.9h0M572.5 474.1h0M640.3 474.7h0M484.9 475.5h0M549.3 476.5h0M552.2 476.1h0M560.2 476.5h0M651.9 476.1h0M573.7 477.7h0M647.1 477.4h0M545.1 478.5h0M579.1 478.6h0M534.5 480.2h0M545.6 479.8h0M646.5 479.9h0M541.0 480.9h0M581.0 481.4h0M538.6 482.7h0M540.1 482.2h0M543.3 483.2h0M571.8 483.0h0M630.8 483.4h0M536.2 484.3h0M544.7 484.3h0M616.9 484.6h0M484.9 485.8h0M643.0 485.6h0M646.6 486.1h0M653.0 486.0h0M539.9 487.6h0M546.2 486.7h0M551.7 487.3h0M554.1 486.8h0M555.2 488.2h0M542.9 489.5h0M554.9 489.4h0M619.7 489.7h0M537.0 490.5h0M543.3 491.2h0M552.1 491.5h0M646.7 491.0h0M535.7 492.8h0M547.2 493.1h0M555.0 492.8h0M624.9 491.9h0M545.4 495.9h0M626.6 496.0h0M646.6 496.5h0M536.9 498.4h0M555.9 497.5h0M617.8 498.2h0M544.6 499.8h0M613.2 499.3h0M508.3 500.6h0M542.7 500.2h0M550.4 500.5h0M542.9 502.3h0M544.5 502.4h0M546.2 502.7h0M575.1 502.7h0M560.9 503.8h0M566.1 503.7h0M484.7 504.4h0M559.3 504.8h0M562.3 505.0h0M564.6 505.2h0M575.0 504.4h0M612.5 505.4h0M545.6 507.4h0M555.6 507.1h0M495.5 508.4h0M537.1 509.4h0M560.2 509.2h0M561.6 508.7h0M562.6 509.4h0M573.4 509.5h0M614.1 508.9h0M473.7 511.0h0M489.5 510.2h0M493.0 511.0h0M552.3 510.3h0M553.6 510.7h0M555.3 510.4h0M485.0 511.8h0M490.2 512.6h0M501.9 512.0h0M570.3 512.6h0M495.8 513.6h0M498.1 513.5h0M561.1 513.9h0M494.6 515.0h0M501.5 514.8h0M505.7 514.2h0M617.7 514.0h0M471.7 516.4h0M486.3 516.9h0M507.0 517.3h0M490.4 519.0h0M512.7 518.3h0M561.0 519.3h0M498.3 519.8h0M517.5 519.5h0M524.5 520.6h0M566.3 522.0h0M620.7 521.8h0M488.5 523.4h0M534.6 522.9h0M484.3 524.9h0M532.1 523.8h0M478.3 525.8h0M478.9 525.5h0M487.8 525.6h0M504.7 525.7h0M510.1 525.3h0M547.2 525.4h0M603.9 526.1h0M469.5 526.5h0M487.4 527.8h0M505.4 528.5h0M516.2 528.2h0M585.0 529.6h0M495.9 532.0h0M497.5 533.3h0M537.4 532.5h0M470.0 533.4h0M474.2 533.5h0M477.4 534.7h0M542.6 533.3h0M582.0 534.2h0M473.6 534.9h0M524.5 535.6h0M616.9 535.8h0M470.9 537.3h0M480.0 536.9h0M494.5 537.0h0M497.1 536.6h0M503.4 536.6h0M492.6 538.5h0M512.8 538.3h0M611.7 537.8h0M613.3 538.7h0M476.0 539.0h0M481.2 539.6h0M514.2 539.1h0M552.5 539.7h0M485.4 542.8h0M610.4 544.2h0M497.7 544.8h0M573.4 544.7h0M482.1 545.8h0M588.4 547.9h0M486.3 549.5h0M493.7 548.8h0M495.6 553.4h0M539.1 553.5h0M497.8 555.1h0M523.3 555.2h0M539.4 555.3h0M583.8 555.4h0M524.8 556.0h0M541.0 555.8h0M554.6 556.9h0M564.5 556.7h0M591.1 556.8h0M502.2 559.3h0M531.4 558.9h0M558.1 560.8h0M492.5 561.7h0M522.2 562.5h0M547.7 561.1h0M483.8 564.2h0M487.1 563.9h0M496.3 564.7h0M504.5 565.0h0M511.5 564.9h0M533.4 564.1h0M483.4 565.9h0M493.1 566.2h0M505.3 566.0h0M484.5 567.4h0M497.5 567.4h0M515.8 567.6h0M497.1 569.2h0M525.2 568.7h0M539.4 568.2h0M544.1 569.1h0M545.3 569.1h0M510.0 569.5h0M516.4 570.6h0M534.3 569.5h0M520.6 571.6h0M525.7 570.9h0M478.9 573.0h0M481.5 573.4h0M497.8 572.5h0M508.7 574.1h0M544.3 574.0h0M482.6 576.0h0M489.7 576.2h0M477.9 576.8h0M527.3 577.1h0M486.4 578.4h0M497.1 578.9h0M527.5 577.7h0M531.7 577.8h0M480.3 579.4h0M498.1 579.8h0M483.1 581.6h0M486.7 581.8h0M492.6 581.0h0M502.4 581.5h0M529.0 581.2h0M504.6 582.2h0M489.3 583.7h0M490.8 584.0h0M497.5 584.4h0M486.5 585.2h0M506.3 585.4h0M506.5 587.2h0M490.2 587.5h0M506.9 587.4h0M479.9 590.0h0M501.1 588.9h0M481.3 591.5h0M523.7 591.1h0M501.3 591.8h0M526.1 592.0h0M482.6 593.7h0M506.5 593.1h0M520.8 593.9h0M486.6 595.2h0M498.2 595.3h0M483.8 596.4h0M485.6 596.7h0M491.6 596.9h0M501.9 595.8h0M513.8 596.6h0M523.0 596.2h0M491.9 597.6h0M503.2 597.8h0M489.9 599.5h0M495.2 599.1h0M517.6 598.7h0M491.2 600.8h0M491.8 600.8h0M507.3 600.0h0M511.4 600.9h0M500.5 605.4h0M502.1 604.2h0"/><path stroke="#E75C44" d="M449.3 363.8h0M454.9 366.1h0M443.2 368.1h0M442.8 370.8h0M444.1 371.0h0M455.4 370.9h0M442.4 371.8h0M447.0 372.0h0M443.8 373.1h0M460.3 372.7h0M439.7 374.5h0M445.5 375.7h0M446.9 376.0h0M463.1 375.5h0M439.1 378.1h0M468.8 379.0h0M442.3 379.6h0M461.6 381.5h0M560.1 384.4h0M564.8 385.5h0M473.3 386.7h0M435.5 389.0h0M479.0 390.6h0M573.8 392.2h0M471.8 394.8h0M552.1 396.6h0M481.3 398.4h0M548.7 397.7h0M485.5 399.1h0M566.7 399.7h0M626.5 401.2h0M546.6 403.0h0M551.0 401.8h0M561.6 403.5h0M619.0 403.6h0M549.6 404.8h0M609.4 404.9h0M611.2 405.0h0M603.9 407.2h0M609.5 406.0h0M607.8 409.1h0M612.9 409.0h0M618.2 409.3h0M620.8 409.8h0M624.2 410.0h0M470.3 410.7h0M480.5 411.2h0M624.5 410.5h0M478.9 412.2h0M564.7 412.1h0M619.8 412.3h0M633.8 412.0h0M612.8 413.1h0M618.1 412.9h0M619.7 413.0h0M455.4 414.4h0M462.9 415.2h0M456.5 416.9h0M620.6 416.1h0M434.2 417.9h0M554.1 417.7h0M635.3 417.9h0M437.5 419.7h0M478.9 419.0h0M614.2 418.6h0M622.4 419.0h0M436.6 420.9h0M483.3 420.5h0M492.6 420.7h0M585.5 420.6h0M613.0 420.4h0M617.1 420.6h0M631.0 420.2h0M625.1 421.2h0M439.6 422.6h0M480.2 423.3h0M463.0 424.9h0M553.6 424.1h0M618.5 424.4h0M444.3 425.3h0M614.3 426.3h0M616.3 426.2h0M632.7 425.8h0M442.0 427.7h0M618.5 426.7h0M626.2 428.0h0M630.9 426.8h0M615.5 428.2h0M594.3 430.6h0M584.6 430.9h0M596.5 432.0h0M602.8 431.0h0M445.4 432.6h0M615.5 433.6h0M625.3 433.9h0M598.2 436.0h0M470.3 438.1h0M639.1 437.8h0M452.7 439.5h0M473.1 440.1h0M481.2 439.2h0M648.3 441.0h0M463.2 442.1h0M491.4 445.0h0M615.5 445.6h0M448.3 446.9h0M452.0 446.7h0M483.3 446.7h0M496.2 446.8h0M464.6 448.2h0M462.7 453.6h0M450.3 455.3h0M451.3 454.5h0M453.8 455.5h0M588.1 455.3h0M610.9 455.6h0M459.3 456.6h0M542.5 457.0h0M546.2 456.1h0M457.9 458.2h0M538.6 458.5h0M484.1 459.0h0M451.9 460.4h0M456.7 460.2h0M544.9 460.6h0M648.6 461.1h0M657.0 460.1h0M455.8 462.5h0M488.2 461.5h0M545.3 461.8h0M547.3 462.4h0M568.0 462.6h0M636.7 462.7h0M486.7 463.2h0M543.8 463.5h0M550.6 463.7h0M611.2 463.7h0M651.3 463.5h0M541.8 464.7h0M552.2 465.8h0M555.3 467.3h0M481.6 468.3h0M544.9 469.0h0M548.7 468.5h0M550.8 469.5h0M607.0 470.1h0M636.4 470.5h0M655.7 470.8h0M659.9 469.7h0M650.4 471.4h0M617.6 472.6h0M536.5 474.0h0M537.5 474.8h0M545.1 474.9h0M654.6 474.7h0M540.6 475.7h0M481.7 476.9h0M539.7 476.6h0M580.2 477.2h0M547.0 478.2h0M548.4 478.5h0M557.6 478.7h0M575.9 478.3h0M644.7 479.9h0M656.8 480.2h0M543.6 481.2h0M545.7 481.3h0M545.9 482.1h0M638.6 482.6h0M542.3 484.0h0M543.9 484.2h0M549.6 484.9h0M552.9 484.2h0M555.7 484.5h0M558.6 484.1h0M553.9 485.9h0M644.7 485.0h0M535.6 487.5h0M536.0 488.1h0M539.6 488.6h0M550.1 488.0h0M660.3 488.6h0M540.8 489.5h0M550.2 489.9h0M541.1 490.5h0M550.2 491.4h0M557.8 491.3h0M558.4 491.8h0M572.6 490.9h0M658.1 490.4h0M536.6 492.4h0M549.8 492.1h0M540.6 495.2h0M552.8 496.8h0M559.8 497.2h0M617.4 496.7h0M550.3 497.5h0M559.2 498.6h0M549.3 500.1h0M558.9 500.0h0M565.4 499.9h0M569.1 499.8h0M506.9 501.3h0M509.8 502.3h0M571.6 501.9h0M490.2 502.9h0M546.5 503.7h0M552.6 503.7h0M556.9 505.1h0M566.2 505.0h0M571.6 504.6h0M504.5 505.8h0M519.6 506.8h0M506.7 507.8h0M507.4 507.5h0M551.3 508.3h0M481.6 509.0h0M482.1 508.9h0M556.3 509.8h0M484.0 510.7h0M507.9 510.1h0M572.9 511.0h0M556.4 512.4h0M561.5 511.7h0M566.0 511.3h0M569.3 511.7h0M572.1 511.2h0M595.9 511.6h0M503.0 513.8h0M524.6 513.9h0M556.3 513.3h0M565.2 514.0h0M567.2 513.6h0M495.4 514.5h0M503.6 514.9h0M518.7 514.1h0M531.3 513.9h0M535.6 515.3h0M475.4 516.0h0M507.8 515.6h0M527.1 517.4h0M472.4 518.8h0M470.9 519.7h0M485.9 520.8h0M485.9 521.5h0M495.8 522.2h0M510.7 521.2h0M517.5 523.4h0M475.7 524.0h0M551.7 524.1h0M584.7 524.6h0M490.1 526.1h0M515.8 525.5h0M571.0 525.1h0M510.5 527.3h0M495.2 528.4h0M473.4 530.5h0M491.2 529.2h0M499.1 529.4h0M565.6 530.6h0M492.0 531.0h0M519.7 530.6h0M565.1 530.6h0M474.1 532.8h0M507.9 532.4h0M480.2 533.3h0M488.2 533.8h0M499.9 534.5h0M506.8 534.3h0M490.6 534.7h0M503.7 535.4h0M589.5 538.1h0M474.3 539.7h0M580.8 539.6h0M496.4 541.1h0M572.8 541.7h0M500.7 543.7h0M493.2 547.2h0M496.5 545.9h0M498.6 547.8h0M499.8 548.1h0M619.8 547.8h0M556.0 551.0h0M567.1 551.7h0M632.7 552.1h0M489.4 553.9h0M507.7 552.8h0M500.6 554.1h0M609.5 556.5h0M592.9 557.6h0M615.5 557.4h0M492.2 558.3h0M505.6 558.9h0M528.4 560.3h0M540.5 560.4h0M527.8 562.1h0M550.7 562.2h0M555.5 563.6h0M483.1 564.4h0M513.2 564.0h0M542.7 565.2h0M546.8 564.6h0M503.5 566.1h0M512.8 566.4h0M528.2 565.5h0M508.2 567.3h0M484.1 568.2h0M550.8 568.1h0M480.8 569.4h0M497.9 570.0h0M506.3 570.5h0M508.4 569.8h0M527.1 569.5h0M530.7 570.7h0M480.3 572.1h0M493.5 570.8h0M498.6 571.7h0M509.7 571.4h0M540.3 571.6h0M484.9 573.2h0M511.7 572.9h0M490.4 573.8h0M498.4 574.2h0M500.1 574.4h0M540.6 574.4h0M488.3 575.3h0M513.4 575.7h0M488.5 577.2h0M489.5 577.0h0M493.1 577.5h0M524.9 577.1h0M511.4 578.1h0M518.5 578.5h0M520.8 577.7h0M536.8 578.4h0M497.0 580.3h0M539.3 579.1h0M481.6 581.4h0M487.6 581.6h0M495.5 580.5h0M497.3 580.9h0M480.7 582.9h0M491.7 581.9h0M480.1 584.6h0M487.9 583.5h0M493.6 583.2h0M500.9 583.8h0M480.1 584.8h0M482.5 585.4h0M484.5 586.3h0M487.8 586.5h0M503.0 586.8h0M481.3 588.5h0M502.6 588.4h0M515.3 587.9h0M483.9 589.4h0M491.3 589.8h0M491.2 590.5h0M494.2 591.0h0M515.6 591.2h0M529.9 590.7h0M482.9 591.8h0M486.2 591.7h0M493.2 593.5h0M496.4 593.3h0M483.0 595.1h0M490.6 594.6h0M509.1 594.4h0M524.9 595.1h0M494.7 596.5h0M496.1 597.0h0M506.7 597.1h0M516.2 598.1h0M495.3 600.6h0M503.1 600.7h0M494.3 601.9h0M499.7 601.4h0M504.1 603.2h0"/><path stroke="#D94445" d="M445.6 364.6h0M443.5 366.3h0M446.7 365.9h0M453.9 366.0h0M446.4 368.4h0M441.3 368.8h0M448.3 370.0h0M438.8 371.4h0M451.2 371.4h0M441.3 376.6h0M451.9 376.3h0M464.2 376.9h0M441.8 378.7h0M449.9 380.8h0M437.1 383.4h0M443.5 384.8h0M568.5 385.5h0M453.3 387.1h0M455.4 388.3h0M440.3 391.4h0M438.6 394.0h0M471.8 398.7h0M475.0 398.5h0M478.2 400.5h0M486.2 401.7h0M559.0 400.4h0M554.4 401.7h0M620.2 402.0h0M620.8 402.4h0M626.7 402.8h0M611.2 404.0h0M616.1 404.2h0M620.1 403.3h0M605.2 405.0h0M613.6 404.5h0M468.4 406.4h0M483.0 407.1h0M487.4 407.2h0M573.8 406.4h0M607.6 406.6h0M611.5 406.8h0M621.5 407.0h0M559.8 407.8h0M605.0 408.3h0M607.9 408.0h0M612.1 407.3h0M619.0 408.6h0M624.9 408.0h0M627.4 407.3h0M630.1 407.6h0M603.8 409.1h0M627.2 409.2h0M629.4 408.7h0M603.1 410.8h0M456.2 411.8h0M481.3 412.1h0M490.4 411.5h0M611.2 412.8h0M615.3 411.7h0M618.7 411.9h0M634.6 412.5h0M555.6 413.3h0M577.9 413.0h0M482.1 414.8h0M469.7 416.5h0M555.3 416.6h0M573.5 416.3h0M607.9 415.6h0M610.6 416.7h0M451.9 417.1h0M466.2 417.6h0M486.9 418.2h0M561.7 418.1h0M451.6 418.9h0M580.5 420.6h0M478.8 421.4h0M629.5 422.1h0M605.9 423.0h0M629.7 423.8h0M622.2 424.5h0M581.7 426.2h0M636.1 425.9h0M614.3 427.5h0M625.1 427.7h0M480.3 428.8h0M587.5 428.5h0M641.1 428.0h0M447.4 434.5h0M473.2 434.3h0M631.0 434.0h0M643.1 434.0h0M473.4 435.3h0M629.5 435.8h0M486.3 438.8h0M491.8 438.3h0M455.8 443.2h0M637.6 442.8h0M444.3 443.5h0M448.1 443.9h0M451.9 443.7h0M457.9 444.0h0M462.3 443.4h0M472.0 444.5h0M455.0 445.6h0M456.9 447.6h0M462.1 448.3h0M644.0 448.2h0M453.3 449.7h0M650.6 449.3h0M457.3 451.5h0M452.9 452.0h0M464.3 452.8h0M448.8 453.4h0M544.6 455.4h0M497.8 455.8h0M456.4 458.0h0M448.8 459.1h0M459.4 458.9h0M459.9 459.6h0M538.7 459.0h0M457.3 462.3h0M549.2 463.5h0M650.7 464.2h0M554.6 466.8h0M555.0 465.9h0M646.1 466.8h0M649.9 465.6h0M535.8 468.1h0M536.6 468.7h0M540.6 471.2h0M542.1 471.5h0M546.7 473.4h0M550.4 474.8h0M555.5 474.8h0M542.0 475.9h0M543.9 475.2h0M615.4 476.0h0M545.6 477.2h0M550.2 479.3h0M555.0 478.2h0M486.9 479.7h0M542.8 479.8h0M559.7 480.6h0M542.6 481.9h0M541.4 483.5h0M539.7 483.8h0M542.7 485.4h0M545.8 485.6h0M485.5 486.6h0M541.7 486.3h0M544.0 487.3h0M553.9 488.3h0M544.6 489.8h0M562.9 489.2h0M540.2 492.3h0M539.0 493.4h0M542.2 493.4h0M538.8 495.9h0M549.0 496.2h0M552.9 498.0h0M554.4 497.4h0M541.2 500.1h0M546.1 498.8h0M620.8 499.5h0M501.1 501.0h0M539.7 500.3h0M544.2 500.7h0M546.6 501.0h0M548.6 501.4h0M553.5 500.3h0M559.2 501.3h0M513.5 502.3h0M539.3 502.6h0M566.5 502.5h0M560.1 504.0h0M572.2 504.0h0M496.9 504.7h0M520.7 504.2h0M542.3 504.3h0M551.0 505.0h0M554.6 505.5h0M560.9 504.9h0M554.5 506.1h0M565.8 506.9h0M569.5 506.6h0M480.7 508.0h0M490.3 507.7h0M491.1 508.1h0M497.6 507.1h0M510.4 508.1h0M547.0 508.0h0M552.6 508.4h0M554.5 508.1h0M560.1 507.5h0M488.0 508.9h0M511.1 509.5h0M558.2 509.8h0M619.1 508.7h0M480.2 510.2h0M509.0 509.9h0M550.7 510.0h0M558.4 510.0h0M572.0 510.3h0M507.4 511.9h0M553.9 512.1h0M559.7 511.4h0M563.9 512.5h0M489.3 513.7h0M481.0 515.5h0M483.7 515.6h0M587.5 516.3h0M478.3 517.0h0M481.9 519.0h0M549.5 519.4h0M506.4 520.5h0M514.4 519.7h0M529.2 519.5h0M467.4 522.8h0M478.4 522.8h0M481.8 523.0h0M519.8 525.0h0M501.6 525.2h0M518.7 526.5h0M508.8 529.9h0M471.2 531.6h0M490.9 531.1h0M510.5 532.2h0M567.6 536.7h0M488.9 538.1h0M491.7 538.4h0M494.4 540.2h0M502.7 540.2h0M477.5 542.7h0M504.5 543.3h0M482.6 547.8h0M501.3 547.5h0M502.8 549.1h0M566.8 549.8h0M483.9 550.2h0M495.3 550.8h0M484.1 551.8h0M621.0 551.9h0M498.7 558.6h0M501.7 562.4h0M501.1 562.5h0M523.9 563.2h0M536.5 563.7h0M558.6 563.7h0M508.2 564.8h0M509.2 566.2h0M478.7 567.8h0M480.2 567.6h0M485.7 566.7h0M493.0 567.4h0M530.1 567.3h0M481.9 568.1h0M487.9 568.6h0M511.3 569.0h0M482.4 569.4h0M498.4 569.8h0M484.1 571.3h0M490.3 571.8h0M504.4 571.4h0M487.9 572.5h0M501.9 573.0h0M519.1 574.5h0M477.6 575.1h0M484.1 576.2h0M486.8 577.0h0M495.3 579.0h0M514.3 579.1h0M504.7 579.1h0M490.1 581.5h0M536.7 581.2h0M479.3 582.8h0M485.2 583.0h0M486.8 582.8h0M495.2 582.1h0M516.9 582.6h0M533.1 582.9h0M484.4 583.2h0M499.5 584.5h0M491.4 584.8h0M496.7 585.3h0M482.2 586.8h0M501.5 586.7h0M479.2 587.4h0M479.7 587.9h0M484.3 587.5h0M487.2 588.8h0M493.5 588.8h0M500.5 588.0h0M504.1 588.3h0M527.4 587.5h0M482.9 589.9h0M487.9 589.9h0M512.5 590.1h0M485.2 590.4h0M488.2 591.3h0M507.1 590.8h0M508.9 591.0h0M492.2 592.4h0M519.5 592.0h0M492.5 595.1h0M510.3 594.4h0M486.6 596.5h0M502.4 596.1h0M487.7 598.4h0M499.2 597.3h0M515.5 598.0h0M497.0 600.3h0M501.0 600.5h0M491.3 602.3h0M496.7 603.2h0M505.0 602.9h0M499.9 604.1h0"/><path stroke="#C82E44" d="M453.9 365.5h0M455.9 368.6h0M448.1 372.6h0M449.3 373.0h0M443.8 376.9h0M467.3 378.6h0M458.5 382.5h0M465.7 385.1h0M453.2 389.0h0M479.9 387.9h0M438.0 392.3h0M564.6 392.1h0M556.8 393.9h0M565.7 393.8h0M467.9 394.8h0M436.2 398.1h0M556.3 397.8h0M564.3 398.3h0M470.9 399.6h0M620.3 401.7h0M558.4 402.6h0M627.1 401.7h0M606.0 404.4h0M557.0 404.7h0M606.6 404.6h0M608.9 404.9h0M617.5 405.9h0M619.0 405.0h0M627.2 405.5h0M631.5 405.8h0M563.1 406.1h0M612.3 407.1h0M627.3 406.5h0M631.4 406.8h0M603.1 408.2h0M612.8 407.5h0M455.5 409.6h0M613.5 408.8h0M610.0 410.9h0M612.0 411.0h0M627.3 410.8h0M469.6 411.5h0M569.3 412.8h0M469.4 413.9h0M473.4 412.9h0M603.7 415.2h0M618.9 414.2h0M441.7 416.4h0M545.9 416.6h0M557.0 416.0h0M633.4 416.1h0M489.2 417.0h0M443.3 418.7h0M635.8 419.2h0M456.0 420.7h0M463.1 420.4h0M578.7 419.9h0M622.0 420.8h0M484.2 422.4h0M525.2 422.4h0M549.4 421.5h0M628.7 423.8h0M590.1 424.2h0M611.7 425.0h0M478.5 425.9h0M553.0 429.0h0M624.7 428.1h0M444.5 430.9h0M446.6 437.4h0M481.5 437.7h0M505.9 437.8h0M636.3 440.2h0M642.4 442.5h0M457.8 447.2h0M647.2 447.1h0M483.9 447.9h0M486.9 449.4h0M459.3 451.1h0M652.9 451.3h0M447.4 451.7h0M457.7 453.9h0M455.2 454.9h0M458.3 455.5h0M459.4 454.7h0M477.0 455.3h0M454.6 456.3h0M451.8 457.2h0M452.7 458.5h0M453.1 460.7h0M541.5 463.2h0M639.0 466.3h0M658.4 470.9h0M545.1 473.7h0M551.7 472.6h0M541.7 475.0h0M549.2 474.4h0M546.8 475.9h0M658.6 476.0h0M538.2 476.7h0M540.8 476.7h0M552.4 477.1h0M556.8 478.5h0M551.1 480.2h0M549.0 481.6h0M646.2 483.6h0M556.0 485.5h0M537.5 486.4h0M550.3 486.2h0M542.7 489.7h0M552.9 490.0h0M538.7 493.6h0M554.3 494.0h0M543.9 495.9h0M537.3 497.0h0M554.5 497.3h0M563.7 500.0h0M557.9 501.2h0M503.8 501.6h0M510.6 503.0h0M557.3 503.7h0M571.1 503.3h0M486.1 505.6h0M488.9 505.1h0M489.4 504.7h0M544.1 505.6h0M564.0 505.5h0M553.6 506.0h0M558.7 506.3h0M559.2 507.0h0M562.7 506.4h0M477.1 508.0h0M548.8 507.1h0M571.4 508.1h0M486.2 509.5h0M515.8 510.4h0M504.0 511.9h0M480.5 513.8h0M481.9 513.1h0M615.1 515.7h0M522.5 517.8h0M518.8 518.8h0M478.6 521.5h0M483.1 522.3h0M526.1 522.1h0M495.9 522.3h0M619.8 523.1h0M472.2 524.3h0M487.7 524.8h0M478.4 529.2h0M482.6 528.1h0M498.3 528.1h0M473.0 533.2h0M519.6 534.0h0M598.5 533.8h0M484.7 541.9h0M490.2 542.8h0M489.1 543.7h0M481.1 549.6h0M485.4 549.4h0M606.0 550.7h0M503.2 554.2h0M492.0 556.8h0M601.7 556.2h0M498.1 557.9h0M500.1 557.3h0M539.7 558.0h0M494.5 558.9h0M503.2 559.1h0M534.9 558.5h0M537.6 562.7h0M524.7 565.2h0M491.4 565.5h0M522.5 565.7h0M481.9 566.6h0M535.5 567.9h0M539.4 567.3h0M481.1 568.7h0M515.6 569.1h0M478.0 570.7h0M513.1 570.6h0M519.6 569.6h0M477.5 571.5h0M485.3 571.6h0M546.2 571.1h0M492.2 572.6h0M478.2 574.2h0M482.3 573.9h0M496.6 574.9h0M528.9 574.2h0M491.4 576.2h0M520.6 575.5h0M529.2 575.1h0M483.6 576.9h0M503.1 577.3h0M491.9 578.4h0M477.5 579.2h0M531.5 579.4h0M477.8 581.1h0M479.9 581.7h0M484.1 584.9h0M479.2 586.7h0M481.7 587.1h0M488.0 587.8h0M498.8 588.8h0M501.7 589.2h0M521.7 590.1h0M483.6 590.8h0M500.3 591.5h0M500.5 590.5h0M487.7 592.2h0M493.7 592.2h0M505.0 592.0h0M520.8 592.4h0M501.3 593.1h0M513.9 593.2h0M484.8 594.8h0M520.6 595.8h0M490.7 598.0h0M500.7 598.0h0M518.6 597.3h0M511.2 599.1h0M510.0 600.9h0M504.5 605.1h0M498.7 605.5h0"/><path stroke="#B21C3C" d="M448.6 362.8h0M451.4 363.6h0M446.4 368.6h0M459.7 371.4h0M445.9 374.2h0M452.0 374.5h0M456.2 378.3h0M473.7 389.7h0M434.3 391.7h0M561.7 392.9h0M475.7 401.6h0M621.4 401.3h0M475.7 401.8h0M623.1 402.5h0M614.7 405.8h0M621.2 404.7h0M622.8 405.7h0M625.6 405.3h0M605.5 405.9h0M614.0 407.0h0M623.5 406.2h0M628.1 407.2h0M602.7 407.4h0M614.5 408.5h0M617.0 409.6h0M560.2 410.9h0M616.8 410.3h0M487.8 412.1h0M626.6 413.0h0M577.6 415.2h0M474.2 415.6h0M637.4 418.2h0M477.6 419.2h0M638.5 419.7h0M455.2 422.2h0M627.3 421.1h0M630.2 421.2h0M483.4 427.4h0M486.5 427.2h0M618.1 432.7h0M610.8 434.1h0M450.5 439.3h0M455.0 439.6h0M468.0 439.7h0M502.1 442.5h0M645.3 444.4h0M504.3 449.6h0M626.2 449.4h0M446.6 451.1h0M452.4 450.3h0M621.6 450.5h0M461.2 451.7h0M642.7 452.1h0M457.0 455.2h0M647.4 455.7h0M460.6 457.9h0M647.9 457.9h0M648.8 463.3h0M548.9 464.9h0M485.7 467.7h0M539.9 469.2h0M479.2 470.2h0M547.4 470.1h0M569.7 471.4h0M547.3 474.1h0M551.1 477.7h0M554.2 479.7h0M549.5 481.6h0M633.0 480.7h0M549.1 482.3h0M551.8 483.5h0M554.4 482.3h0M555.9 482.1h0M534.1 483.8h0M548.4 486.7h0M553.1 486.8h0M557.1 487.4h0M535.0 487.7h0M545.7 487.8h0M546.9 488.5h0M535.1 490.4h0M554.0 491.1h0M536.3 494.2h0M551.2 494.4h0M552.5 494.0h0M535.7 495.9h0M560.2 494.9h0M544.9 497.2h0M546.9 496.8h0M557.0 497.1h0M559.2 496.4h0M557.6 498.3h0M653.7 497.9h0M552.8 500.0h0M553.5 499.8h0M558.5 502.6h0M564.9 501.9h0M562.4 503.4h0M569.7 504.0h0M508.2 506.1h0M479.2 507.3h0M514.3 508.4h0M474.7 509.4h0M564.9 510.7h0M490.6 517.4h0M530.3 517.8h0M483.4 519.7h0M571.9 519.6h0M481.9 524.1h0M497.2 525.5h0M532.5 525.5h0M478.6 527.1h0M486.3 529.9h0M514.4 531.3h0M486.0 533.5h0M495.5 534.3h0M477.2 535.4h0M607.0 535.3h0M502.4 538.7h0M571.5 539.1h0M489.4 540.8h0M495.4 542.5h0M485.9 545.4h0M493.6 547.7h0M485.4 553.5h0M503.6 556.9h0M548.3 555.8h0M551.6 555.9h0M489.0 556.9h0M495.1 558.5h0M537.6 558.7h0M526.8 563.0h0M501.6 567.3h0M506.7 566.9h0M486.9 568.6h0M501.3 568.4h0M478.7 572.3h0M483.1 572.7h0M505.1 573.1h0M527.8 572.6h0M542.7 572.8h0M480.5 574.3h0M484.5 574.3h0M476.7 575.8h0M480.3 575.2h0M485.6 576.3h0M513.4 576.7h0M528.7 579.1h0M515.1 581.9h0M477.5 584.7h0M486.5 587.2h0M496.0 586.3h0M481.1 589.5h0M485.4 590.0h0M506.5 589.0h0M493.4 590.2h0M498.0 590.4h0M506.5 590.6h0M480.3 591.6h0M499.0 591.8h0M484.5 593.4h0M488.7 593.4h0M519.1 593.8h0M521.6 593.0h0M487.3 595.0h0M504.7 597.1h0M494.5 598.4h0M496.5 597.1h0M487.4 599.4h0M494.1 600.1h0M505.6 600.8h0M502.5 602.4h0M493.9 603.5h0M499.0 603.3h0"/><path stroke="#9C0A35" d="M448.6 365.4h0M442.7 366.6h0M448.8 366.3h0M449.5 366.3h0M448.1 367.1h0M438.9 369.3h0M443.9 369.4h0M445.6 371.2h0M449.3 370.2h0M452.7 371.2h0M454.7 370.5h0M443.8 371.7h0M444.9 371.2h0M442.7 373.1h0M451.4 373.2h0M439.3 375.1h0M441.5 374.4h0M454.0 376.4h0M458.1 377.7h0M462.5 377.9h0M459.0 379.5h0M452.4 381.7h0M460.9 383.9h0M464.2 385.1h0M444.7 385.3h0M446.5 385.1h0M556.9 387.1h0M562.1 387.4h0M438.2 389.6h0M475.4 389.5h0M482.3 392.4h0M446.4 393.4h0M555.6 393.9h0M450.2 397.5h0M558.0 397.9h0M623.0 401.4h0M614.2 403.1h0M625.0 403.1h0M438.9 404.0h0M607.7 403.8h0M612.6 403.7h0M617.1 404.1h0M622.4 404.1h0M623.3 403.5h0M626.7 403.5h0M628.7 403.9h0M451.8 405.8h0M629.5 405.8h0M619.0 406.1h0M629.6 406.2h0M456.2 407.3h0M481.9 407.6h0M607.0 408.5h0M617.8 407.5h0M620.8 407.8h0M492.1 409.3h0M561.5 408.7h0M606.6 409.3h0M610.4 408.8h0M627.7 409.9h0M608.2 411.0h0M614.8 410.8h0M619.7 411.3h0M621.4 410.2h0M561.0 412.8h0M605.1 411.8h0M625.6 411.8h0M482.9 413.6h0M551.3 412.9h0M604.8 412.9h0M608.1 414.8h0M622.4 415.2h0M618.4 416.8h0M629.1 416.8h0M611.5 417.6h0M459.3 419.3h0M606.1 420.6h0M609.7 422.3h0M618.0 421.4h0M638.2 423.4h0M474.3 424.0h0M550.5 424.1h0M621.0 424.0h0M623.9 424.1h0M564.2 426.3h0M623.4 425.9h0M628.7 426.6h0M467.4 428.0h0M623.0 426.8h0M622.9 429.1h0M627.0 429.4h0M566.1 431.6h0M617.5 431.3h0M505.5 434.0h0M503.2 435.7h0M449.1 437.3h0M644.0 438.4h0M646.7 438.3h0M449.9 444.0h0M461.1 445.6h0M484.7 446.4h0M445.4 447.5h0M451.8 447.6h0M456.1 448.2h0M477.8 448.8h0M450.5 449.4h0M443.2 451.2h0M460.4 450.3h0M474.8 451.0h0M445.8 452.2h0M456.4 452.3h0M459.9 452.3h0M462.3 451.8h0M454.3 453.9h0M448.7 455.7h0M447.8 456.7h0M462.3 456.6h0M477.1 455.9h0M454.4 457.6h0M541.7 459.1h0M545.4 458.6h0M548.8 459.5h0M633.3 459.0h0M454.2 460.4h0M457.6 460.9h0M649.5 460.0h0M452.7 461.3h0M488.3 463.1h0M489.9 463.7h0M486.6 465.7h0M548.0 467.7h0M551.4 467.0h0M545.7 468.7h0M561.5 468.2h0M486.2 472.0h0M545.7 475.0h0M551.7 474.2h0M539.1 476.3h0M544.7 475.4h0M553.6 475.9h0M619.5 475.8h0M485.9 476.6h0M547.0 477.3h0M541.5 479.2h0M544.2 479.1h0M547.6 480.3h0M555.0 479.4h0M554.8 480.9h0M544.3 482.7h0M547.6 482.7h0M559.3 483.2h0M548.4 484.5h0M551.7 484.7h0M585.4 484.6h0M536.6 485.5h0M537.7 485.9h0M539.9 485.8h0M541.3 485.3h0M544.9 485.3h0M548.0 485.2h0M616.6 486.2h0M539.4 487.1h0M543.1 487.9h0M557.9 488.7h0M546.1 490.3h0M548.8 489.6h0M551.7 490.3h0M555.8 489.5h0M500.7 491.4h0M538.2 491.0h0M544.4 490.8h0M547.0 491.1h0M556.1 491.1h0M539.0 492.4h0M544.2 492.2h0M535.5 494.1h0M541.0 493.4h0M544.2 493.8h0M554.9 493.2h0M559.4 493.3h0M541.6 494.6h0M548.1 495.7h0M541.8 497.1h0M550.8 497.1h0M572.7 497.2h0M541.5 497.9h0M545.3 498.7h0M551.6 498.0h0M542.1 499.3h0M547.7 498.9h0M560.4 500.0h0M510.2 500.9h0M551.0 500.9h0M555.2 500.6h0M560.8 500.3h0M549.4 502.7h0M552.2 502.1h0M555.4 501.7h0M561.1 502.7h0M548.9 503.1h0M552.2 503.6h0M555.0 502.9h0M522.5 505.2h0M548.2 504.6h0M551.9 505.5h0M556.0 505.6h0M570.4 505.3h0M551.6 506.2h0M562.2 507.9h0M508.6 509.0h0M551.5 508.5h0M553.2 508.6h0M472.9 510.3h0M485.0 510.1h0M557.0 510.0h0M487.9 512.3h0M529.8 511.2h0M549.8 513.4h0M480.5 514.8h0M501.1 514.7h0M616.9 516.8h0M491.1 519.3h0M469.6 520.9h0M470.3 522.1h0M477.5 522.0h0M498.7 524.8h0M483.9 528.6h0M487.2 528.4h0M481.6 529.7h0M480.0 530.8h0M493.1 533.1h0M479.8 536.0h0M470.9 537.9h0M498.2 538.2h0M501.0 539.7h0M506.4 539.2h0M475.6 540.6h0M499.9 540.4h0M487.5 542.8h0M505.6 544.4h0M506.6 545.2h0M499.5 546.1h0M487.2 547.4h0M490.7 547.8h0M614.5 554.8h0M495.3 557.4h0M602.1 558.0h0M553.5 560.1h0M503.8 562.2h0M533.5 561.6h0M486.6 563.7h0M488.8 563.7h0M494.3 564.8h0M482.2 565.3h0M485.6 566.0h0M532.7 565.3h0M500.8 567.4h0M512.0 567.4h0M536.8 566.7h0M478.9 568.0h0M492.5 568.5h0M522.9 568.3h0M480.0 570.0h0M487.4 569.6h0M478.4 571.6h0M511.3 572.0h0M528.1 571.3h0M499.2 573.0h0M504.0 572.6h0M507.1 573.5h0M483.7 573.7h0M487.4 574.5h0M487.8 574.5h0M480.9 575.0h0M485.7 576.3h0M502.3 575.3h0M504.3 575.6h0M514.3 575.7h0M478.1 576.9h0M481.8 577.7h0M477.6 579.0h0M480.7 578.1h0M487.8 578.0h0M493.6 577.9h0M535.2 578.3h0M479.1 579.3h0M485.2 580.4h0M486.2 580.4h0M489.9 580.2h0M493.8 580.0h0M507.6 580.1h0M510.2 580.4h0M515.3 579.9h0M530.2 579.7h0M483.8 581.4h0M489.3 581.7h0M481.7 582.3h0M488.0 583.1h0M480.8 583.4h0M492.8 583.5h0M520.8 583.5h0M489.6 584.7h0M499.6 585.5h0M507.4 585.8h0M497.4 587.4h0M484.6 587.8h0M518.8 588.2h0M489.5 588.8h0M492.4 589.2h0M494.2 589.8h0M497.1 589.8h0M510.4 590.0h0M487.2 590.7h0M490.4 591.3h0M496.4 591.4h0M483.9 592.7h0M489.5 592.6h0M490.5 591.6h0M495.8 592.3h0M506.4 591.5h0M511.2 592.0h0M522.4 592.7h0M483.4 593.2h0M486.4 594.1h0M494.6 593.7h0M488.0 596.0h0M493.7 596.3h0M485.5 597.9h0M509.7 598.0h0M488.7 599.9h0M491.7 599.7h0M493.5 598.4h0M495.9 598.8h0M497.4 599.1h0M499.3 599.3h0M503.2 598.8h0M512.2 599.6h0M515.1 599.5h0M489.2 600.7h0M499.5 600.5h0M492.9 601.3h0M500.0 603.5h0M502.0 605.5h0"/></g>
<defs><linearGradient id="cb" x1="0" y1="0" x2="0" y2="1"><stop offset="0.000" stop-color="#9E0142"/><stop offset="0.100" stop-color="#D53E4F"/><stop offset="0.200" stop-color="#F46D43"/><stop offset="0.300" stop-color="#FDAE61"/><stop offset="0.400" stop-color="#FEE08B"/><stop offset="0.500" stop-color="#FFFFBF"/><stop offset="0.600" stop-color="#E6F598"/><stop offset="0.700" stop-color="#ABDDA4"/><stop offset="0.800" stop-color="#66C2A5"/><stop offset="0.900" stop-color="#3288BD"/><stop offset="1.000" stop-color="#5E4FA2"/></linearGradient></defs>
<text x="386.6" y="13.7" font-size="18.0" text-anchor="start" >b</text>
<text x="383.3" y="333.3" font-size="18.0" text-anchor="start" >d</text>
<text x="553.4" y="32.8" font-size="12.0" text-anchor="middle" >MD.Score</text>
<text x="545.6" y="348.0" font-size="12.0" text-anchor="middle" >AP.Score</text>
<rect x="671.9" y="158.0" width="6.9" height="34.6" fill="url(#cb)" stroke="#999" stroke-width="0.6"/><line x1="671.9" y1="171.1" x2="673.3" y2="171.1" stroke="#333" stroke-width="0.6"/><line x1="677.4" y1="171.1" x2="678.8" y2="171.1" stroke="#333" stroke-width="0.6"/><line x1="671.9" y1="178.2" x2="673.3" y2="178.2" stroke="#333" stroke-width="0.6"/><line x1="677.4" y1="178.2" x2="678.8" y2="178.2" stroke="#333" stroke-width="0.6"/><line x1="671.9" y1="185.2" x2="673.3" y2="185.2" stroke="#333" stroke-width="0.6"/><line x1="677.4" y1="185.2" x2="678.8" y2="185.2" stroke="#333" stroke-width="0.6"/><text x="682.0" y="163.3" font-size="12.0" text-anchor="start" >0.20</text><text x="682.0" y="172.6" font-size="12.0" text-anchor="start" >0.15</text><text x="682.0" y="181.8" font-size="12.0" text-anchor="start" >0.10</text><text x="682.0" y="191.4" font-size="12.0" text-anchor="start" >0.05</text>
<rect x="674.0" y="473.3" width="6.8" height="34.5" fill="url(#cb)" stroke="#999" stroke-width="0.6"/><line x1="674.0" y1="482.4" x2="675.4" y2="482.4" stroke="#333" stroke-width="0.6"/><line x1="679.4" y1="482.4" x2="680.8" y2="482.4" stroke="#333" stroke-width="0.6"/><line x1="674.0" y1="495.3" x2="675.4" y2="495.3" stroke="#333" stroke-width="0.6"/><line x1="679.4" y1="495.3" x2="680.8" y2="495.3" stroke="#333" stroke-width="0.6"/><text x="684.3" y="484.8" font-size="12.0" text-anchor="start" >0.10</text><text x="684.3" y="496.9" font-size="12.0" text-anchor="start" >0.05</text>
<path d="M418.7 262.1 L418.7 302.5 L456.8 302.5" fill="none" stroke="#111" stroke-width="1.1"/><path d="M415.5 266.3 L418.7 262.1 L421.9 266.3" fill="none" stroke="#111" stroke-width="1.1"/><path d="M452.6 299.3 L456.8 302.5 L452.6 305.7" fill="none" stroke="#111" stroke-width="1.1"/><text x="418.0" y="314.4" font-size="12.0" text-anchor="start" >UMAP_1</text><text transform="translate(415.0 277.9) rotate(-90)" font-size="12" text-anchor="middle">UMAP_2</text>
<path d="M420.4 577.3 L420.4 617.1 L458.7 617.1" fill="none" stroke="#111" stroke-width="1.1"/><path d="M417.2 581.5 L420.4 577.3 L423.6 581.5" fill="none" stroke="#111" stroke-width="1.1"/><path d="M454.5 613.9 L458.7 617.1 L454.5 620.3" fill="none" stroke="#111" stroke-width="1.1"/><text x="420.6" y="629.7" font-size="12.0" text-anchor="start" >UMAP_1</text><text transform="translate(416.9 593.8) rotate(-90)" font-size="12" text-anchor="middle">UMAP_2</text>
</svg></body></html>
